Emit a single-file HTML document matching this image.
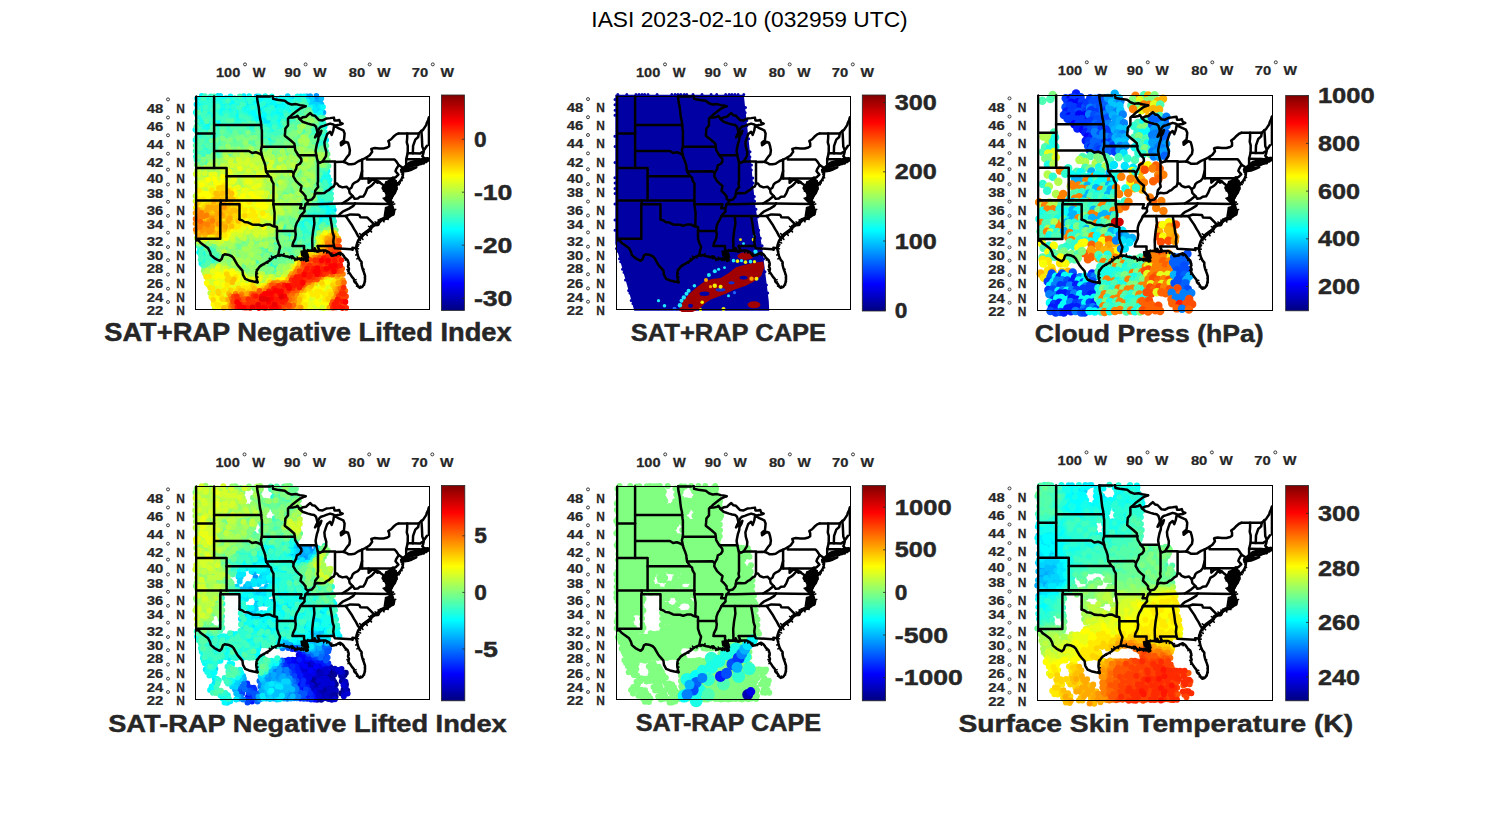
<!DOCTYPE html><html><head><meta charset="utf-8"><style>html,body{margin:0;padding:0;background:#fff;overflow:hidden;font-family:"Liberation Sans",sans-serif}svg{display:block}</style></head><body><svg width="1500" height="825" viewBox="0 0 1500 825" font-family="&quot;Liberation Sans&quot;, sans-serif">
<defs>
<linearGradient id="jet" x1="0" y1="1" x2="0" y2="0"><stop offset="0" stop-color="#000080"/><stop offset="0.125" stop-color="#0000ff"/><stop offset="0.375" stop-color="#00ffff"/><stop offset="0.625" stop-color="#ffff00"/><stop offset="0.875" stop-color="#ff0000"/><stop offset="1" stop-color="#800000"/></linearGradient>
<clipPath id="box"><rect x="0" y="-1.6" width="234.0" height="214.4"/></clipPath>
<g id="map" clip-path="url(#box)" fill="none" stroke="#000" stroke-width="2.5" stroke-linejoin="round" stroke-linecap="round"><path d="M-3.1 143.6L3.0 143.6L5.0 146.1L8.8 148.8L12.6 151.7L14.5 155.3L15.4 158.5L18.9 161.4L21.7 162.9L24.2 164.1L26.1 162.4L27.4 158.7L29.2 157.6L33.7 158.4L36.2 159.6L38.1 161.4L39.9 164.7L41.5 167.5L43.4 170.0L46.9 173.9L47.5 178.2L49.7 182.1L53.5 183.8L57.9 184.9L62.0 185.6"/><path d="M62.0 185.6L61.3 182.4L60.7 178.9L61.0 174.7L62.6 172.2L64.5 169.7L66.7 168.2L69.8 166.5L73.6 164.3L76.4 161.8L78.0 160.7L81.8 159.0L82.7 158.7"/><path d="M82.7 158.7L85.9 158.4L89.9 159.6L92.8 160.0L95.3 160.7L96.9 159.6L98.8 161.8L101.3 162.9L103.8 161.8L105.7 163.4L107.6 161.8L109.4 162.1L110.7 164.3L112.3 163.6L111.3 161.4L112.6 160.3L110.1 159.6L109.8 157.1L108.2 156.3L109.4 155.4"/><path d="M109.4 155.4L111.3 154.4L113.8 153.8L117.0 154.0L118.9 154.5L119.2 151.6L120.1 153.4L120.8 154.9L122.7 154.5"/><path d="M122.7 154.5L126.4 153.9L130.2 153.9L134.0 156.0L136.2 159.0L139.0 158.7L142.2 157.1L144.7 156.1L147.2 157.8L149.4 161.1L152.2 163.6L153.2 166.8L152.5 169.7L153.5 172.2L152.8 174.7L154.7 177.5L156.3 180.0L158.2 182.1L158.8 184.9L161.3 187.3L162.9 190.1L164.2 191.2L166.4 190.5L167.6 189.1L168.9 186.6L169.5 183.1L169.5 178.9L168.6 176.1L167.0 171.8L166.1 168.2L166.1 165.4L164.2 163.2L162.6 159.6L161.7 156.0L161.0 153.4L160.7 151.5"/><path d="M160.7 151.5L161.0 148.7L161.7 146.5L162.6 143.9L164.3 141.6L166.1 139.8L167.3 138.3L169.2 136.8L170.8 135.7L173.0 134.2L174.9 132.3L176.1 130.0L179.0 128.1L182.4 127.8L183.4 125.5L184.9 124.0L187.4 122.3L190.6 121.7L192.5 120.5L195.0 118.6L197.5 117.4L198.1 114.7L196.6 110.9L195.6 107.3L195.1 104.6"/><path d="M192.2 119.4L195.0 116.7L191.8 115.1L194.4 112.4L196.2 112.0L193.1 111.2L195.3 108.9"/><path d="M195.1 104.6L193.1 103.8L193.1 102.6L192.2 101.8L192.8 99.8L191.2 99.1L193.1 97.5L191.5 95.5L189.3 94.3L188.1 93.1L187.1 91.5L188.4 89.0L189.0 91.1L191.2 93.1L192.5 93.5L191.5 90.3L192.2 87.4L191.2 85.8L193.1 85.0L194.7 83.4L195.2 82.9L195.0 85.0L193.4 87.4L194.4 89.0L193.1 91.1L195.0 93.1L195.6 95.1L195.9 97.5L195.1 99.8L195.2 102.8L196.6 100.2L197.8 98.3L199.4 96.3L200.3 93.9L201.0 92.3L200.8 89.4L199.4 87.8L198.4 85.4L197.5 82.9"/><path d="M197.5 82.9L198.8 84.6L201.0 86.2L201.9 88.2L202.9 86.6L204.7 84.6L206.3 82.1L207.3 79.3L207.6 76.4L206.0 75.5L206.9 74.3L207.3 73.5"/><path d="M207.3 74.6L209.1 74.7L212.6 74.3L216.4 72.9L220.8 70.8L217.9 71.4L215.7 71.8L212.6 72.1L209.5 72.6L207.6 73.7"/><path d="M209.5 72.2L211.3 71.0L213.9 69.7L217.0 69.1L220.8 68.7L223.3 68.2L224.2 67.2L225.2 67.6L226.4 66.8L228.3 67.0L229.0 65.1L230.8 65.4"/><path d="M230.8 63.0L228.0 60.9L226.8 59.6L227.7 57.5L228.0 55.3L228.3 53.8L229.6 51.9L231.5 49.3"/><path d="M61.5 0.0L74.5 0.0"/><path d="M74.5 -3.9L76.7 -2.4L77.7 2.4L81.8 3.3L85.5 3.8L89.3 4.3L92.5 6.7L96.2 8.1L100.6 7.6L104.4 8.6L108.2 9.3L110.1 9.7"/><path d="M110.1 9.7L105.0 11.8L101.3 14.6L97.5 17.4L93.7 21.1"/><path d="M93.7 21.1L96.9 21.1L100.6 20.2L101.9 19.3L104.1 22.5L107.6 20.7L110.7 20.2L112.0 18.8L114.8 16.5L117.0 18.8L119.5 19.3L123.3 23.4L127.1 23.9L130.8 22.0L134.6 21.6L138.4 21.1L139.0 23.9L141.5 23.9L143.7 23.4L144.7 26.1L147.2 27.1L145.0 28.1L142.2 28.4L140.0 29.1"/><path d="M140.0 29.1L137.8 28.0L134.6 27.1L130.8 28.4L128.3 29.3L125.5 30.2L123.9 31.6L122.0 36.1"/><path d="M122.0 36.1L120.5 38.7L119.5 40.9L121.7 38.3L123.6 36.5L125.9 34.3L124.9 37.4L123.0 40.5L122.7 43.6L121.4 47.5L120.5 51.9L120.1 54.4L120.8 58.7L121.7 62.6L122.3 65.1L124.2 66.2L127.1 65.0"/><path d="M127.1 65.0L128.9 62.1L130.5 59.6L130.8 55.3L129.3 50.1L128.9 45.8L130.5 40.9L131.8 37.4L134.6 35.2L136.2 38.3L137.8 33.8L138.4 30.2L140.0 30.0L142.8 31.6L147.8 33.8L149.1 36.9L148.8 40.5L148.4 43.6L145.3 46.2L145.6 48.8L147.8 47.1L150.3 45.3L152.5 46.2L153.5 49.3L154.4 54.0L153.8 57.9L151.9 60.0L150.0 62.6L148.1 65.3"/><path d="M148.1 65.3L151.0 66.4L152.8 67.6L156.0 67.6L159.1 67.2L162.9 64.7L166.6 63.2L171.3 60.7L174.2 58.7L176.7 55.3L175.8 52.3L179.3 51.4L183.7 51.9L188.1 52.0L191.8 51.0L193.7 49.7L193.7 46.6L192.8 44.5L195.6 42.7L198.1 40.0L200.7 37.8L203.2 36.9"/><path d="M203.2 36.9L223.3 36.9L225.9 34.3L227.4 33.5L229.0 31.1L230.8 28.4L231.2 26.6L232.7 23.4L233.4 20.7"/><path d="M18.6 0.0L18.6 71.4"/><path d="M-3.1 36.9L18.6 36.9"/><path d="M-3.1 71.4L31.1 71.4L31.1 103.8"/><path d="M-3.1 103.8L77.9 103.8"/><path d="M25.2 103.8L25.2 107.7L44.0 107.7L44.0 122.7"/><path d="M24.8 107.7L24.8 142.0L2.4 142.0L3.0 143.6"/><path d="M18.6 28.5L65.7 28.5"/><path d="M61.5 0.0L62.0 4.8L63.2 10.4L63.8 16.0L64.5 21.6L65.4 25.2L65.7 28.5L66.0 31.6L66.4 34.3L66.4 50.1L65.4 53.6L66.4 58.8"/><path d="M18.6 54.4L53.5 54.4L56.6 56.4L60.4 55.7L63.8 56.9L66.4 58.8L67.0 61.3L68.6 65.1L69.8 68.9L70.1 72.2L70.6 74.9L72.6 78.0L73.6 79.7L75.5 80.9L76.1 83.8L78.0 87.0L77.9 103.8L77.9 107.7L79.1 116.3L78.8 129.7"/><path d="M31.1 79.7L73.6 79.7"/><path d="M44.0 122.7L47.2 124.0L49.1 125.5L52.8 125.9L56.6 127.8L59.8 128.1L63.5 128.1L66.7 129.1L71.1 127.8L74.2 127.8L77.4 129.4L78.8 129.7L81.5 130.4L81.5 142.0L83.0 146.8L84.6 150.1L83.5 154.5L82.7 158.7"/><path d="M66.4 50.1L99.3 50.1"/><path d="M99.3 50.1L98.8 47.1L95.3 44.0L92.5 41.8L89.3 39.2L89.6 36.1L89.9 32.0L92.5 28.9L92.5 21.9L93.7 21.1"/><path d="M99.3 50.1L99.7 53.6L102.8 58.7L105.7 62.1L106.0 64.7L104.4 67.2L101.3 68.9L100.6 72.2L98.1 76.5L97.8 79.7L100.6 84.6L103.2 87.0L106.0 89.4L105.0 94.3L107.6 96.7L110.1 99.8L110.1 102.2L112.3 103.8L112.0 106.2L110.1 107.7L109.4 110.1L108.8 111.6L109.1 114.7L106.3 117.8L105.0 119.4L103.2 123.2L101.3 126.2L100.0 130.0L99.6 134.4L100.3 137.5L99.7 142.0L97.5 146.5L96.9 149.4L108.6 149.4L108.5 152.3L109.4 155.4"/><path d="M70.6 74.9L96.0 74.7L98.1 76.5"/><path d="M102.8 58.7L120.8 58.7"/><path d="M104.1 22.5L106.9 25.2L112.6 27.1L115.7 28.0L118.6 28.4L120.5 30.2L121.4 33.4L122.0 36.1"/><path d="M77.9 107.7L106.0 107.7L104.6 111.6L108.8 111.6"/><path d="M81.5 134.4L99.6 134.4"/><path d="M122.5 65.0L122.5 85.0L122.0 87.0L122.7 90.3L119.8 93.9L119.3 97.5L118.9 99.8L116.4 103.0L112.3 103.8"/><path d="M119.3 97.5L122.0 96.3L125.8 96.7L128.9 96.3L131.5 94.3L133.3 93.6L135.9 91.1L138.4 89.8L139.5 87.0L141.5 87.0L143.4 89.4L146.9 90.8L151.0 90.1L153.5 92.7L156.0 91.1L157.2 87.8L158.8 86.2L162.3 84.6L164.5 82.1L165.4 78.8L166.6 74.4"/><path d="M139.5 87.0L139.5 65.5L148.1 65.3"/><path d="M127.1 65.0L139.5 65.0"/><path d="M166.6 82.0L166.6 63.0"/><path d="M110.1 107.7L119.5 107.7L146.7 106.9L159.5 106.9"/><path d="M153.5 92.7L154.1 96.3L157.2 99.5L152.8 103.0L146.7 106.9"/><path d="M157.2 99.5L159.1 102.2L162.3 101.8L164.5 100.2L167.9 99.8L169.8 96.7L172.0 91.5L174.2 90.3L176.1 89.0L177.7 87.4L180.2 84.2L181.8 86.2L183.7 85.4"/><path d="M183.7 85.4L179.9 82.9L176.1 83.4L173.1 86.2L173.1 82.0L166.6 82.0"/><path d="M196.2 82.0L173.1 82.0"/><path d="M183.7 85.4L185.6 87.0L188.4 89.0"/><path d="M159.5 106.9L195.6 107.3"/><path d="M159.5 106.9L157.9 109.3L153.5 112.0L150.3 113.6L147.2 115.1L144.7 117.1L142.8 119.4"/><path d="M105.0 119.4L142.8 119.4L150.3 119.4"/><path d="M118.3 119.4L118.9 127.0L117.6 134.6L116.7 142.8L117.0 154.0"/><path d="M134.6 119.4L136.2 128.5L137.1 135.7L138.4 139.8L137.8 145.0L138.4 149.4L122.0 149.4L123.3 152.3L122.7 154.5"/><path d="M138.4 149.4L139.3 151.6L156.0 152.6L157.2 153.1L156.9 151.2L160.7 151.5"/><path d="M150.3 119.4L152.8 123.2L156.0 127.8L158.5 132.3L160.4 135.3L162.3 139.0L164.3 141.6"/><path d="M150.3 119.4L154.7 117.8L163.3 118.2L164.0 118.6L164.8 120.7L171.9 120.9L179.0 128.1"/><path d="M171.3 60.7L171.3 63.0L199.1 63.0L200.7 64.7L203.2 68.5L200.7 72.6L200.0 74.7L202.9 78.0L200.3 80.5L198.8 81.3L197.5 81.0L196.2 82.0L196.2 92.3L201.0 92.3"/><path d="M203.2 68.5L207.6 71.4L207.3 73.5"/><path d="M211.7 36.9L211.7 41.4L211.3 45.8L212.3 49.3L212.2 56.6L210.7 62.6L210.7 70.6L209.5 71.8"/><path d="M223.3 36.9L222.7 40.5L219.8 43.1L217.6 49.3L217.3 56.8"/><path d="M212.2 56.6L217.3 56.8L224.6 57.0L226.4 55.7L228.0 55.3"/><path d="M225.9 34.3L226.4 41.4L226.8 50.1L228.3 53.8"/><path d="M210.7 62.6L221.4 62.8L224.0 62.8L225.5 67.2"/><path d="M221.4 62.8L221.1 68.7"/><path d="M189.8 84.7L187.3 92.1L190.0 98.3L190.0 98.4L190.1 98.6L190.1 98.7L190.1 98.9L190.1 99.0L190.1 99.2L190.0 99.3L190.0 99.5L189.9 99.6L189.8 99.8L189.7 99.9L189.6 100.0L189.5 100.1L189.4 100.2L189.3 100.3L189.1 100.4L186.5 101.5L191.6 106.6L191.7 106.7L191.8 106.8L191.9 107.0L194.7 112.3L196.9 114.0L194.8 108.2L194.8 108.1L194.7 107.9L194.7 107.8L194.7 107.6L194.7 107.5L194.7 107.3L194.8 107.2L194.8 107.0L199.6 96.5L201.3 85.6L199.4 81.6L189.8 84.7Z" fill="#000" stroke="none"/><path d="M104.8 154.2L105.5 159.1L108.8 161.6L112.7 162.9L113.4 158.2L111.1 152.8L104.8 154.2Z" fill="#000" stroke="none"/><path d="M189.4 110.3L187.9 120.5L192.7 119.5L197.2 115.4L195.8 108.5L189.4 110.3Z" fill="#000" stroke="none"/><path d="M207 73.5L215 67L224 64.5L232 63" stroke-width="5"/><path d="M61.6 184.0L60.1 184.3M61.0 180.7L62.5 180.4M60.9 176.8L62.0 176.9M61.8 173.4L60.9 172.8M63.5 170.9L63.5 170.9M65.6 169.0L65.5 168.8M68.2 167.3L68.6 167.9M71.7 165.4L72.3 166.5M75.0 163.0L73.8 161.7M77.2 161.2L76.0 159.5M79.9 159.9L80.5 161.2M82.2 158.9L82.2 158.6M84.3 158.6L84.4 159.7M87.9 159.0L88.5 156.9M91.4 159.8L91.4 159.5M94.0 160.3L93.8 161.3M96.1 160.1L95.4 159.2M97.8 160.7L96.3 162.0M100.0 162.3L99.3 163.9M102.5 162.3L101.7 160.4M104.7 162.6L106.1 161.0M106.6 162.6L106.7 162.7M108.5 162.0L108.1 163.9M110.1 163.2L110.5 163.0M111.5 163.9L111.0 162.8M111.8 162.5L111.5 162.6M112.0 160.9L110.6 159.3M111.3 160.0L111.0 161.1M109.9 158.3L109.6 158.4M109.0 156.7L109.0 156.7M108.8 155.9L108.1 154.9M110.4 154.9L109.8 153.8M112.6 154.1L112.3 152.9M115.4 153.9L115.4 153.7M117.9 154.3L118.2 153.4M119.0 153.1L116.9 152.8M119.7 152.5L118.3 153.2M120.5 154.2L120.2 154.3M121.7 154.7L121.8 155.3M124.5 154.2L124.3 152.9M128.3 153.9L128.3 156.1M132.1 155.0L131.3 156.4M135.1 157.5L136.4 156.5M137.6 158.9L137.5 158.2M140.6 157.9L141.0 158.8M143.4 156.6L143.7 157.5M145.9 157.0L144.9 158.6M148.3 159.4L148.6 159.2M150.8 162.3L149.8 163.4M152.7 165.2L152.0 165.4M152.8 168.2L153.7 168.4M153.0 170.9L152.6 171.1M153.2 173.4L151.5 173.0M153.8 176.1L152.5 176.9M155.5 178.7L155.5 178.7M157.2 181.0L157.0 181.3M158.5 183.5L160.5 183.0M160.1 186.1L160.9 185.3M162.1 188.7L161.0 189.4M163.5 190.6L163.8 190.4M165.3 190.8L164.8 189.4M167.0 189.8L167.2 189.9M168.3 187.9L169.1 188.3M169.2 184.9L170.0 185.0M169.5 181.0L169.0 181.0M169.0 177.5L168.8 177.6M168.2 175.0L168.2 175.0M167.4 172.9L168.5 172.5M166.5 170.0L166.6 170.0M166.1 166.8L165.6 166.8M165.1 164.3L165.1 164.3M163.4 161.4L161.5 162.2M162.1 157.8L160.2 158.3M161.3 154.7L162.2 154.5M160.9 152.4L163.0 152.1M194.1 104.2L194.3 103.8M193.1 103.2L192.6 103.2M192.6 102.2L191.7 103.3M192.5 100.8L192.5 100.8M192.0 99.5L193.0 97.6M192.2 98.3L192.9 99.2M192.3 96.5L192.5 96.4M190.4 94.9L191.2 93.5M188.7 93.7L187.9 94.5M187.6 92.3L187.7 92.2M187.8 90.2L189.5 91.2M188.7 90.0L188.4 90.2M190.1 92.1L190.2 91.9M191.8 93.3L192.2 92.3M192.0 91.9L192.2 91.8M191.8 88.8L193.8 89.3M191.7 86.6L189.8 87.7M192.2 85.4L192.7 86.5M193.9 84.2L194.9 85.1M194.9 83.1L196.0 84.5M195.1 84.0L194.0 83.9M194.2 86.2L193.1 85.5M193.9 88.2L193.8 88.3M193.7 90.0L193.5 89.9M194.0 92.1L194.3 91.8M195.3 94.1L197.2 93.5M195.8 96.3L194.2 96.5M195.5 98.7L195.2 98.6M195.1 101.3L196.5 101.3M195.9 101.5L195.9 101.5M197.2 99.3L197.1 99.2M198.6 97.3L198.1 96.9M199.9 95.1L199.2 94.8M200.7 93.1L200.8 93.1M200.9 90.9L201.4 90.8M200.1 88.6L200.5 88.3M198.9 86.6L198.7 86.7M198.0 84.2L196.0 84.9M198.1 83.8L199.1 83.0M199.9 85.4L200.7 84.2M201.4 87.2L201.1 87.4M202.4 87.4L203.8 88.2M203.8 85.6L204.8 86.5M205.5 83.4L206.6 84.1M206.8 80.7L208.1 81.1M207.4 77.8L206.3 77.7M206.8 76.0L207.5 74.6M206.5 74.9L207.1 75.4M207.1 73.9L205.4 73.2" stroke-width="1.6"/><path d="M160.8 150.8L161.7 150.9M160.9 149.4L162.7 149.6M161.3 147.6L163.4 148.1M162.1 145.2L165.1 146.3M163.4 142.8L164.8 143.8M165.2 140.7L167.4 142.8M166.7 139.0L164.1 136.9M168.3 137.5L168.1 137.4M170.0 136.2L171.8 138.8M171.9 134.9L172.5 135.8M173.9 133.2L176.0 135.3M175.5 131.2L173.1 129.8M176.8 129.6L176.7 129.4M178.2 128.6L177.2 127.1M179.8 128.0L179.8 128.4M181.5 127.9L181.6 128.4M182.9 126.6L179.6 125.3M184.1 124.7L182.7 123.3M185.6 123.5L184.7 122.2M186.8 122.7L188.5 125.2M188.2 122.1L188.6 124.0M189.8 121.8L189.3 119.4M191.5 121.1L192.6 122.9M193.1 120.0L191.5 118.0M194.4 119.1L194.9 119.8M196.2 118.0L195.1 115.6M197.8 116.1L194.3 115.3M197.7 113.8L200.2 112.8M197.0 111.8L195.0 112.6M196.3 110.0L194.3 110.5M195.9 108.2L199.2 107.3M195.4 106.0L198.0 105.5" stroke-width="1.6"/><path d="M164.3 141.6L166.1 139.8L167.3 138.3L169.2 136.8L170.8 135.7L173.0 134.2L174.9 132.3L176.1 130.0L179.0 128.1L182.4 127.8L183.4 125.5L184.9 124.0L187.4 122.3L190.6 121.7L192.5 120.5L195.0 118.6L197.5 117.4L198.1 114.7L196.6 110.9L195.6 107.3L195.1 104.6" stroke-width="3.6"/><path d="M0.6 0L0.6 143.6" stroke-width="2.4"/><path d="M233.4 22.5L233.4 48.4" stroke-width="2.4"/></g>
</defs>
<rect width="1500" height="825" fill="#fff"/>
<text transform="translate(591.30,26.50) scale(1.0072,1)" font-size="22.61" fill="#000">IASI 2023-02-10 (032959 UTC)</text>
<g transform="translate(195.5,96.5) scale(1.00000,1.00094)"><g fill="none" stroke-linecap="round"><path d="M120.9 -0.6h0M113.5 1.9h0M120.1 2.6h0M122.6 2.0h0M116.4 7.6h0" stroke="#0095ff" stroke-width="5.6"/><path d="M111.3 -0.1h0M114.7 -0.4h0M117.7 4.9h0M121.9 5.4h0M124.6 4.4h0M121.5 10.8h0M123.1 12.9h0M128.0 16.1h0" stroke="#00aaff" stroke-width="5.6"/><path d="M61.1 -0.3h0M81.3 2.5h0M125.9 2.0h0M67.3 4.9h0M87.4 7.7h0M113.3 7.9h0M126.0 7.8h0" stroke="#00bfff" stroke-width="5.6"/><path d="M92.2 -0.4h0M43.2 2.6h0M49.2 2.7h0M97.6 1.7h0M110.7 2.5h0M116.6 2.5h0M115.1 4.9h0M55.3 7.2h0M61.8 7.3h0M84.9 7.5h0M119.6 7.8h0M122.7 8.2h0M63.7 10.1h0M70.4 10.4h0M80.1 10.1h0M56.1 12.7h0M59.3 13.7h0M65.6 12.9h0M116.0 12.8h0M86.4 15.7h0M121.3 15.4h0M126.3 19.3h0M60.6 21.6h0M74.7 23.8h0M70.4 26.8h0M134.0 110.7h0M138.4 113.3h0M123.5 119.0h0" stroke="#00d4ff" stroke-width="5.6"/><path d="M22.4 -0.6h0M24.8 -0.7h0M48.2 -0.5h0M105.2 -0.2h0M1.5 2.0h0M36.8 2.2h0M62.7 2.5h0M93.9 1.5h0M51.2 5.1h0M57.4 5.2h0M61.1 5.3h0M76.2 4.4h0M0.9 7.9h0M26.8 8.2h0M30.8 8.1h0M33.1 7.9h0M43.2 7.1h0M52.6 7.9h0M71.8 8.0h0M75.0 7.7h0M81.8 7.3h0M94.6 7.8h0M15.3 11.0h0M34.8 9.9h0M51.0 11.0h0M67.0 10.0h0M92.9 10.1h0M98.4 9.9h0M117.7 10.0h0M124.5 10.1h0M33.3 13.1h0M40.2 13.3h0M43.3 13.7h0M94.1 13.1h0M119.5 12.9h0M125.9 12.8h0M6.4 15.7h0M25.0 16.3h0M67.2 15.4h0M82.8 15.8h0M96.2 15.5h0M118.6 15.9h0M11.2 18.4h0M39.9 19.2h0M43.1 18.3h0M56.2 18.2h0M65.1 18.9h0M35.5 21.5h0M63.9 21.3h0M67.4 21.1h0M70.5 21.3h0M7.5 24.9h0M23.7 23.8h0M69.0 24.0h0M71.3 24.6h0M22.3 27.4h0M66.6 26.8h0M73.5 27.0h0M11.5 30.5h0M14.5 29.5h0M82.7 32.9h0M128.2 38.2h0M127.4 43.7h0M130.8 43.5h0M130.8 93.7h0M127.5 105.5h0M134.6 105.5h0M126.5 108.1h0M132.2 107.6h0M124.3 110.3h0M131.3 111.2h0M134.7 116.4h0M112.8 119.4h0M125.6 118.5h0M129.0 118.8h0M124.8 122.1h0M131.1 122.0h0M137.6 122.2h0M122.6 124.8h0M132.9 124.7h0M121.2 127.4h0M107.5 135.2h0" stroke="#00eaff" stroke-width="5.6"/><path d="M6.2 -0.6h0M34.9 -0.3h0M53.7 -0.4h0M63.5 -0.2h0M108.5 -0.3h0M4.0 2.6h0M11.1 1.8h0M14.5 1.6h0M20.3 2.6h0M26.5 1.7h0M30.3 1.6h0M65.7 2.5h0M68.7 1.9h0M71.9 1.6h0M75.6 2.5h0M78.1 2.4h0M84.9 1.5h0M87.8 1.8h0M101.1 2.3h0M2.4 5.3h0M15.4 4.8h0M21.8 4.6h0M35.3 4.4h0M38.4 5.4h0M63.3 4.8h0M80.1 5.3h0M85.7 4.5h0M89.1 5.1h0M92.6 5.3h0M111.8 4.7h0M4.6 7.4h0M10.9 7.7h0M24.2 8.1h0M36.1 8.1h0M40.1 7.2h0M59.1 7.7h0M78.3 7.1h0M47.3 10.9h0M83.5 10.8h0M86.0 10.2h0M89.5 10.5h0M102.1 10.6h0M105.4 9.9h0M127.6 10.6h0M1.7 12.7h0M4.8 12.7h0M8.1 13.5h0M23.6 13.0h0M27.5 13.7h0M30.0 13.1h0M75.2 13.2h0M81.3 13.6h0M88.3 13.8h0M12.9 16.1h0M15.4 15.8h0M41.2 16.4h0M50.6 16.4h0M54.0 15.5h0M57.4 16.3h0M60.8 15.5h0M70.5 15.7h0M77.0 15.7h0M79.5 15.9h0M92.7 16.3h0M124.8 16.6h0M27.1 18.9h0M36.3 19.3h0M59.0 18.4h0M62.3 18.4h0M68.8 18.2h0M71.4 19.3h0M75.0 18.7h0M85.0 18.7h0M87.9 19.3h0M123.4 18.5h0M15.6 21.5h0M19.5 22.2h0M41.0 21.2h0M77.2 21.0h0M83.0 21.2h0M20.2 24.2h0M55.5 24.2h0M59.1 24.0h0M61.9 24.3h0M81.7 24.1h0M84.2 24.9h0M6.0 27.1h0M12.2 27.3h0M25.3 27.0h0M83.6 26.9h0M20.1 29.7h0M45.7 29.7h0M55.6 29.6h0M75.2 30.1h0M84.2 29.4h0M126.7 29.7h0M129.2 30.2h0M-0.2 33.3h0M79.8 33.1h0M74.9 35.7h0M123.0 35.9h0M3.2 38.7h0M80.1 38.4h0M124.6 38.7h0M71.6 40.8h0M9.8 44.4h0M121.3 43.7h0M124.3 44.4h0M14.7 47.2h0M17.7 46.5h0M6.3 54.5h0M132.1 74.6h0M124.9 83.0h0M128.1 82.3h0M131.3 83.1h0M126.0 85.4h0M132.3 91.5h0M125.0 104.5h0M130.4 104.9h0M127.6 110.6h0M132.8 112.9h0M135.4 113.9h0M130.4 116.3h0M116.6 118.6h0M133.0 118.8h0M136.1 118.6h0M128.1 122.2h0M133.7 121.4h0M107.6 124.1h0M113.1 124.0h0M116.4 124.4h0M126.2 124.6h0M110.3 130.3h0M114.7 138.9h0M109.7 141.7h0M113.8 141.0h0M114.9 143.5h0M4.5 152.5h0M3.5 155.7h0M8.3 157.8h0M5.8 166.8h0" stroke="#00ffff" stroke-width="5.6"/><path d="M69.7 -0.5h0M76.4 -0.1h0M101.9 -0.1h0M23.2 1.8h0M33.9 2.7h0M46.4 2.1h0M59.5 1.9h0M91.0 2.2h0M104.3 1.9h0M25.6 4.9h0M45.1 4.8h0M70.6 4.3h0M73.0 4.7h0M95.6 4.7h0M102.8 4.9h0M105.0 4.9h0M7.8 7.6h0M91.5 8.0h0M2.7 10.9h0M19.0 10.0h0M25.3 10.5h0M28.4 10.2h0M54.2 11.0h0M60.7 10.0h0M73.5 10.3h0M111.6 10.4h0M114.8 10.7h0M36.7 13.6h0M45.6 13.2h0M49.5 13.8h0M53.0 12.7h0M62.4 12.8h0M68.9 13.2h0M78.5 13.5h0M85.0 13.6h0M91.0 13.5h0M97.7 13.8h0M100.2 12.9h0M103.6 13.8h0M0.2 15.9h0M22.8 15.7h0M34.5 16.0h0M47.5 16.1h0M17.2 19.3h0M23.4 19.3h0M52.9 18.6h0M78.4 19.1h0M81.4 19.4h0M120.0 19.2h0M3.5 21.3h0M6.7 22.1h0M44.8 21.9h0M56.9 22.2h0M86.4 21.4h0M89.7 21.6h0M4.1 24.2h0M39.9 23.8h0M43.2 23.8h0M49.9 24.3h0M65.3 24.9h0M90.4 24.1h0M93.7 24.8h0M97.7 24.4h0M125.9 23.8h0M2.9 26.6h0M9.0 27.0h0M15.3 27.0h0M31.9 27.1h0M34.7 26.6h0M38.7 27.2h0M60.0 26.7h0M76.6 27.3h0M7.7 30.1h0M39.4 29.5h0M58.5 30.4h0M61.7 29.5h0M71.7 29.4h0M87.3 29.4h0M5.7 33.3h0M10.0 32.4h0M12.8 32.3h0M16.0 33.2h0M31.8 32.8h0M76.3 33.1h0M118.4 32.6h0M10.7 35.6h0M66.0 36.1h0M72.4 35.0h0M78.8 35.1h0M87.9 35.8h0M93.7 35.5h0M6.1 37.8h0M8.9 38.8h0M28.5 38.2h0M60.6 38.6h0M63.3 38.0h0M11.0 41.6h0M14.4 40.7h0M17.7 41.1h0M65.7 40.8h0M68.0 41.1h0M75.0 40.8h0M91.3 40.8h0M119.3 41.3h0M129.4 40.6h0M-0.1 43.4h0M25.9 43.3h0M73.7 43.9h0M76.9 43.5h0M1.4 46.2h0M11.4 46.6h0M125.2 49.0h0M11.2 52.5h0M13.0 54.5h0M15.2 55.2h0M1.3 58.2h0M11.5 58.0h0M8.8 59.9h0M125.6 74.0h0M128.2 77.5h0M130.4 77.1h0M125.9 80.5h0M129.8 80.0h0M132.7 80.1h0M122.0 82.7h0M134.2 83.2h0M132.4 85.9h0M134.3 88.4h0M127.9 93.4h0M133.9 93.4h0M126.0 96.3h0M126.0 102.7h0M123.5 107.9h0M129.4 107.6h0M137.6 110.1h0M129.0 113.1h0M117.9 115.8h0M136.9 116.2h0M107.2 118.9h0M108.7 121.7h0M112.2 122.0h0M117.8 121.6h0M104.1 124.4h0M110.3 125.2h0M105.5 127.4h0M109.0 127.1h0M115.0 127.6h0M117.9 127.2h0M124.5 126.9h0M131.5 127.3h0M134.6 126.9h0M100.9 130.3h0M107.6 129.8h0M116.1 130.6h0M105.0 132.7h0M112.0 133.5h0M124.3 132.8h0M94.2 135.6h0M101.2 135.9h0M109.7 135.9h0M95.3 138.4h0M101.7 138.9h0M103.5 141.1h0M108.9 143.6h0M113.7 146.6h0M6.2 150.0h0M105.0 149.6h0M108.3 149.2h0M8.0 152.0h0M9.2 155.3h0M9.3 160.9h0M15.8 161.3h0M7.7 163.5h0M17.8 163.1h0M76.8 166.4h0M75.3 169.2h0" stroke="#15ffea" stroke-width="5.6"/><path d="M15.3 -0.3h0M17.5 2.5h0M39.2 1.5h0M52.7 2.4h0M56.1 2.3h0M106.6 2.0h0M5.8 4.3h0M9.3 5.0h0M13.0 5.4h0M18.4 4.8h0M28.9 4.7h0M41.5 5.3h0M47.4 5.1h0M54.7 5.4h0M83.5 4.9h0M99.5 4.5h0M13.8 7.8h0M17.4 8.1h0M21.0 7.3h0M48.9 7.7h0M65.8 8.2h0M68.1 7.1h0M97.5 7.7h0M6.2 11.0h0M12.1 10.6h0M31.9 10.2h0M37.7 10.0h0M41.3 10.9h0M57.4 11.0h0M76.6 11.0h0M96.4 10.9h0M10.6 13.0h0M14.0 12.8h0M21.1 13.1h0M71.7 13.0h0M110.5 12.8h0M19.4 16.0h0M29.0 16.4h0M31.3 15.7h0M38.7 16.1h0M45.1 15.5h0M63.8 16.6h0M73.3 15.4h0M89.7 15.8h0M105.5 15.5h0M1.4 18.4h0M5.2 18.8h0M13.9 18.9h0M33.5 18.3h0M49.6 18.6h0M94.0 18.3h0M24.9 21.1h0M32.1 21.1h0M37.9 21.3h0M48.0 22.0h0M54.4 21.3h0M73.5 21.2h0M80.1 21.4h0M93.0 21.8h0M98.6 21.7h0M121.3 21.5h0M13.8 24.3h0M29.9 24.1h0M46.4 24.8h0M77.9 24.2h0M100.5 24.0h0M28.5 26.6h0M41.6 26.8h0M44.7 27.7h0M51.2 27.3h0M79.9 27.2h0M86.7 26.9h0M118.6 27.6h0M124.5 27.4h0M128.1 26.9h0M5.2 29.5h0M23.9 29.9h0M33.7 30.5h0M52.3 29.6h0M68.6 29.8h0M81.3 30.3h0M91.3 29.7h0M123.2 29.7h0M21.8 32.9h0M54.8 33.0h0M57.7 33.3h0M72.9 33.2h0M86.3 33.1h0M127.4 32.3h0M4.5 35.4h0M23.7 35.0h0M33.1 35.4h0M43.1 35.5h0M58.8 35.4h0M69.0 35.7h0M116.3 35.4h0M129.4 35.4h0M16.3 38.4h0M19.5 38.1h0M22.5 38.0h0M115.1 37.8h0M121.9 37.9h0M4.6 40.9h0M20.1 41.4h0M41.2 43.7h0M66.6 43.5h0M79.7 44.4h0M23.5 46.1h0M30.2 46.2h0M74.4 46.6h0M120.2 46.4h0M123.5 46.1h0M126.0 47.0h0M129.9 47.1h0M9.4 49.3h0M19.2 49.4h0M76.9 48.9h0M121.4 49.5h0M127.5 49.9h0M8.4 52.5h0M123.6 51.9h0M130.6 54.6h0M8.4 57.5h0M13.8 57.4h0M24.1 57.8h0M0.4 60.3h0M5.8 60.6h0M4.4 63.8h0M129.8 74.6h0M128.2 88.4h0M122.8 90.8h0M129.6 90.9h0M135.9 91.5h0M133.1 96.3h0M135.6 97.2h0M121.8 99.5h0M124.3 99.9h0M130.6 99.4h0M123.0 102.7h0M129.7 102.4h0M135.5 108.0h0M114.4 110.7h0M118.2 110.5h0M121.3 111.0h0M113.6 113.2h0M120.1 114.0h0M125.7 113.9h0M111.2 116.7h0M114.8 116.5h0M121.9 116.8h0M124.8 116.5h0M127.4 115.8h0M119.5 119.2h0M138.4 119.0h0M115.6 121.8h0M129.7 124.2h0M138.7 124.8h0M102.8 127.5h0M103.8 129.8h0M120.3 130.0h0M122.4 129.8h0M138.6 130.1h0M109.0 133.5h0M120.8 132.6h0M113.5 135.5h0M116.1 135.4h0M89.0 138.3h0M92.4 138.3h0M99.5 138.2h0M109.1 138.5h0M94.3 141.6h0M107.6 141.1h0M89.4 143.9h0M95.5 144.5h0M102.0 144.2h0M78.3 146.4h0M81.0 146.6h0M100.8 146.4h0M8.8 150.1h0M12.9 150.1h0M83.0 149.7h0M99.3 149.9h0M102.0 149.9h0M111.3 149.5h0M114.6 149.2h0M117.7 149.4h0M77.6 152.2h0M81.9 152.8h0M87.8 152.5h0M106.7 152.3h0M19.3 155.4h0M92.9 154.7h0M10.9 158.5h0M68.3 157.8h0M88.3 158.1h0M97.6 158.3h0M18.7 160.4h0M22.0 160.3h0M76.3 160.5h0M10.7 164.1h0M20.3 163.6h0M72.2 163.2h0M78.0 163.4h0M93.9 163.0h0M9.0 166.8h0M16.0 166.8h0M19.0 166.4h0M72.3 168.7h0M78.8 168.7h0M81.9 169.5h0M79.8 172.2h0M77.8 175.3h0" stroke="#2bffd4" stroke-width="5.6"/><path d="M9.4 -0.5h0M18.5 -0.1h0M44.3 -0.1h0M8.0 1.8h0M32.3 4.4h0M108.7 4.3h0M46.4 8.1h0M101.0 7.4h0M104.1 8.0h0M110.4 8.0h0M10.0 10.6h0M22.3 9.9h0M44.1 11.0h0M17.5 13.7h0M9.4 15.8h0M98.5 16.2h0M8.2 18.4h0M20.6 18.3h0M30.7 19.4h0M45.8 19.4h0M91.0 18.7h0M97.9 19.1h0M100.9 18.6h0M103.3 18.3h0M107.0 18.7h0M9.0 21.3h0M13.1 21.2h0M22.4 21.2h0M28.4 22.1h0M50.7 21.3h0M1.6 24.8h0M16.8 24.0h0M27.6 24.7h0M53.0 24.2h0M88.1 24.6h0M103.4 24.5h0M122.7 24.1h0M18.6 27.2h0M63.6 27.0h0M93.0 26.7h0M95.8 27.2h0M29.9 29.8h0M43.5 29.6h0M49.5 29.5h0M66.0 29.6h0M78.7 30.4h0M120.0 30.3h0M3.5 32.5h0M25.6 32.4h0M35.4 32.9h0M38.4 32.6h0M51.5 32.3h0M63.8 32.4h0M67.2 33.2h0M70.6 32.7h0M96.2 32.3h0M102.6 33.1h0M115.5 33.0h0M121.2 32.5h0M124.3 32.8h0M1.6 35.4h0M8.3 35.3h0M20.5 35.8h0M37.1 35.2h0M46.7 35.0h0M55.2 35.7h0M81.0 35.4h0M84.1 35.1h0M119.5 35.4h0M25.3 38.2h0M35.1 38.2h0M37.7 38.1h0M44.6 37.7h0M70.1 38.0h0M72.9 38.9h0M76.4 38.1h0M83.3 37.7h0M86.3 38.8h0M118.0 38.8h0M1.0 40.9h0M8.2 40.9h0M30.1 41.0h0M33.7 40.6h0M39.9 41.1h0M112.9 41.1h0M126.4 41.5h0M12.6 44.0h0M53.8 43.4h0M60.3 44.0h0M8.4 46.6h0M33.2 46.1h0M72.3 46.6h0M78.3 46.8h0M80.9 46.6h0M84.8 47.2h0M117.0 47.0h0M6.3 49.9h0M25.6 49.9h0M38.2 49.4h0M60.6 50.0h0M74.0 49.4h0M93.1 49.9h0M14.5 52.7h0M20.3 52.5h0M69.0 52.1h0M78.0 52.5h0M87.6 52.2h0M90.8 52.4h0M129.2 52.1h0M0.1 54.4h0M2.5 55.4h0M9.2 55.6h0M22.0 54.9h0M4.9 57.4h0M20.8 57.9h0M0.9 63.5h0M11.5 63.5h0M16.8 63.3h0M13.0 66.5h0M10.8 68.4h0M124.1 71.9h0M119.7 75.0h0M123.3 75.0h0M119.9 79.8h0M122.6 85.5h0M129.3 85.1h0M121.7 87.8h0M130.5 88.6h0M126.2 91.0h0M117.9 93.5h0M119.9 97.0h0M129.6 97.3h0M114.8 99.3h0M127.3 99.4h0M134.5 99.4h0M117.1 101.7h0M132.0 102.1h0M135.7 102.0h0M118.0 105.2h0M120.9 105.5h0M110.7 108.3h0M113.9 108.1h0M110.5 113.6h0M116.0 113.7h0M122.5 113.2h0M110.1 119.4h0M98.5 122.4h0M121.1 122.4h0M93.7 124.7h0M120.3 125.2h0M135.3 124.9h0M89.5 127.6h0M95.7 126.9h0M111.3 127.1h0M136.9 127.7h0M87.3 130.4h0M90.5 129.9h0M113.3 130.1h0M86.5 132.8h0M89.9 132.7h0M114.9 132.7h0M117.7 132.6h0M84.4 135.4h0M87.9 136.0h0M119.5 135.3h0M111.3 139.0h0M118.2 138.2h0M121.1 138.6h0M101.2 141.0h0M92.7 144.5h0M99.1 144.4h0M117.7 144.1h0M68.2 146.4h0M97.2 147.4h0M110.0 147.1h0M116.7 146.8h0M2.7 149.2h0M15.4 150.0h0M13.7 152.9h0M17.9 152.5h0M20.5 152.5h0M72.0 152.0h0M93.8 152.9h0M116.9 152.2h0M5.6 154.7h0M15.3 155.1h0M70.5 155.1h0M76.7 154.9h0M85.9 155.5h0M5.1 158.4h0M13.7 158.3h0M20.5 158.3h0M24.1 158.4h0M65.8 158.0h0M75.4 157.8h0M6.5 160.9h0M12.0 160.8h0M80.1 160.8h0M83.6 160.6h0M85.9 160.5h0M5.1 163.0h0M14.3 164.0h0M62.7 163.3h0M81.1 163.4h0M47.9 166.6h0M60.5 166.3h0M63.3 166.9h0M89.9 166.2h0M7.7 168.8h0M81.2 174.2h0" stroke="#40ffbf" stroke-width="5.6"/><path d="M106.9 8.1h0M108.8 10.5h0M106.8 12.8h0M3.0 15.7h0M101.8 15.9h0M108.2 15.6h0M115.0 16.2h0M110.4 18.8h0M113.2 18.7h0M96.3 21.2h0M115.1 22.0h0M117.8 21.0h0M125.0 21.1h0M127.9 21.6h0M11.0 24.7h0M33.1 24.3h0M36.4 24.2h0M113.7 24.6h0M47.9 27.7h0M54.1 26.9h0M57.9 27.0h0M89.6 27.4h0M98.7 27.4h0M101.9 26.8h0M105.0 27.2h0M108.1 26.6h0M115.3 27.1h0M0.8 30.0h0M17.1 30.2h0M26.8 30.3h0M36.8 30.0h0M101.0 30.2h0M116.3 29.8h0M18.6 32.5h0M29.1 33.1h0M41.1 32.8h0M44.6 32.1h0M47.7 32.8h0M61.0 32.3h0M89.1 33.1h0M98.5 32.2h0M108.7 33.2h0M14.6 35.2h0M17.6 35.4h0M30.0 35.7h0M49.2 35.8h0M91.4 35.8h0M106.8 35.5h0M110.3 35.0h0M126.6 35.1h0M12.6 38.5h0M32.2 37.8h0M48.4 37.7h0M51.6 38.1h0M54.0 38.0h0M57.5 38.1h0M67.4 38.2h0M88.8 38.8h0M105.3 38.2h0M108.4 38.6h0M24.1 41.0h0M49.1 40.7h0M77.9 41.1h0M81.0 41.5h0M84.7 41.1h0M97.1 41.0h0M103.9 40.9h0M122.4 41.1h0M2.8 44.1h0M6.8 44.4h0M29.0 44.1h0M38.8 44.2h0M57.4 44.2h0M70.0 44.1h0M86.1 43.4h0M92.5 43.6h0M98.4 43.8h0M101.7 44.3h0M4.7 46.4h0M20.2 46.2h0M39.9 46.4h0M46.2 46.6h0M53.0 47.1h0M55.8 47.2h0M58.6 46.9h0M68.4 46.7h0M93.9 47.1h0M100.6 46.6h0M0.1 48.9h0M3.3 49.8h0M12.0 49.0h0M15.5 49.6h0M21.9 49.0h0M29.1 49.9h0M35.3 49.2h0M44.9 49.1h0M57.3 49.3h0M70.7 49.1h0M86.4 49.7h0M89.3 48.9h0M108.1 49.7h0M111.3 49.4h0M130.9 49.3h0M1.3 52.2h0M4.5 52.0h0M17.6 52.1h0M29.9 52.3h0M33.3 52.8h0M65.9 52.4h0M85.0 52.1h0M97.1 51.8h0M18.7 55.2h0M25.5 54.8h0M28.3 54.7h0M56.8 54.7h0M77.0 54.5h0M99.1 55.1h0M120.9 55.1h0M65.3 57.3h0M78.4 57.4h0M81.4 57.6h0M90.6 57.6h0M104.0 58.3h0M22.6 61.1h0M25.2 60.4h0M80.0 60.5h0M107.1 63.1h0M119.3 63.4h0M122.5 63.2h0M2.6 66.7h0M9.1 66.5h0M121.8 66.3h0M127.3 65.9h0M123.0 69.1h0M133.1 69.4h0M105.8 72.0h0M112.4 72.0h0M127.5 71.4h0M130.8 71.9h0M97.3 74.8h0M113.3 73.9h0M102.0 76.8h0M105.5 76.9h0M121.5 77.0h0M124.7 76.9h0M100.7 80.5h0M123.3 80.0h0M89.3 83.1h0M111.8 83.1h0M115.2 82.4h0M100.4 85.7h0M103.5 85.1h0M86.1 87.8h0M118.8 88.3h0M124.3 88.5h0M81.9 91.0h0M104.2 91.5h0M110.6 90.8h0M113.3 90.6h0M99.1 94.1h0M115.2 94.0h0M87.6 96.3h0M91.2 97.1h0M97.4 97.1h0M110.7 96.3h0M116.8 96.2h0M122.5 96.5h0M111.7 99.9h0M84.7 102.3h0M109.7 102.1h0M108.3 105.5h0M116.9 107.8h0M119.8 108.0h0M95.8 111.1h0M104.3 113.3h0M107.6 113.5h0M87.6 118.9h0M104.2 119.1h0M89.9 122.2h0M105.5 121.8h0M84.8 124.8h0M127.8 127.9h0M97.7 130.1h0M129.5 130.4h0M132.3 130.7h0M135.2 130.1h0M102.4 133.3h0M128.0 132.4h0M91.3 135.8h0M104.2 135.6h0M104.9 138.3h0M77.7 141.7h0M81.0 140.7h0M116.1 141.1h0M73.4 144.4h0M79.5 143.9h0M105.6 144.4h0M112.0 144.2h0M120.8 144.6h0M7.4 146.7h0M48.8 147.2h0M62.6 146.5h0M75.3 146.5h0M85.2 147.4h0M106.9 146.9h0M119.9 147.2h0M67.4 149.9h0M89.8 149.3h0M56.3 152.9h0M62.5 152.6h0M65.9 152.8h0M68.6 152.0h0M84.6 152.6h0M90.5 152.0h0M96.8 152.6h0M110.4 152.3h0M113.2 152.0h0M12.5 155.4h0M21.6 154.9h0M54.6 155.6h0M60.9 155.6h0M73.9 155.5h0M82.7 154.8h0M95.3 155.4h0M17.4 158.2h0M36.4 158.1h0M43.2 157.5h0M49.5 157.6h0M78.7 157.5h0M85.2 158.5h0M94.6 157.5h0M100.7 157.5h0M44.9 160.9h0M51.3 160.9h0M67.3 160.7h0M73.4 161.1h0M89.4 160.7h0M93.0 160.6h0M95.8 161.3h0M99.5 160.6h0M24.3 163.2h0M55.7 163.6h0M59.3 163.6h0M12.6 166.0h0M21.6 166.5h0M73.0 166.2h0M83.1 166.1h0M10.5 169.1h0M14.0 168.8h0M46.7 168.9h0M58.7 169.5h0M8.9 172.4h0M44.3 172.2h0M47.6 171.9h0M54.7 171.9h0M63.6 171.4h0M52.6 174.6h0M58.8 175.1h0M75.0 174.2h0" stroke="#55ffaa" stroke-width="5.6"/><path d="M113.4 13.3h0M111.3 16.5h0M102.1 21.9h0M105.7 21.3h0M108.3 21.7h0M109.8 24.6h0M121.1 27.1h0M93.6 29.6h0M96.8 30.0h0M110.1 30.2h0M92.9 32.8h0M26.7 35.4h0M39.6 35.9h0M62.4 35.6h0M100.0 35.3h0M41.4 38.0h0M92.7 37.7h0M102.1 38.6h0M37.0 40.5h0M52.7 40.6h0M62.5 40.8h0M87.8 41.3h0M94.7 40.9h0M100.9 41.6h0M117.2 40.8h0M15.9 44.0h0M18.5 43.9h0M21.6 43.4h0M44.9 43.6h0M47.8 43.6h0M63.8 43.5h0M82.8 44.3h0M89.7 43.6h0M114.6 43.4h0M118.7 44.1h0M27.4 46.6h0M36.7 46.5h0M43.5 46.7h0M65.1 46.1h0M87.7 46.1h0M104.2 46.6h0M41.8 49.5h0M47.9 49.1h0M50.5 48.9h0M79.9 49.1h0M83.3 49.2h0M98.9 49.0h0M102.3 49.7h0M114.5 49.3h0M24.4 52.0h0M40.2 52.6h0M46.5 52.3h0M71.9 52.1h0M113.2 52.7h0M116.6 52.0h0M120.2 52.3h0M126.3 51.8h0M38.2 55.0h0M54.5 55.5h0M61.0 55.1h0M88.8 54.6h0M127.3 54.4h0M27.0 57.6h0M33.2 57.6h0M36.7 58.3h0M56.1 58.0h0M59.4 57.3h0M71.2 57.3h0M74.6 57.3h0M97.5 58.3h0M120.1 58.2h0M132.2 57.6h0M3.2 60.2h0M16.0 60.0h0M18.7 60.5h0M34.6 60.7h0M56.8 60.2h0M86.2 60.6h0M108.1 60.8h0M115.3 60.5h0M118.0 61.0h0M23.5 63.4h0M33.7 63.3h0M97.8 63.1h0M6.1 66.1h0M28.3 66.3h0M70.3 65.7h0M73.3 65.9h0M89.0 65.6h0M96.1 65.6h0M105.4 66.5h0M112.4 66.6h0M125.1 66.6h0M130.9 66.6h0M4.4 68.9h0M7.5 68.4h0M100.4 68.3h0M106.5 68.6h0M110.5 69.4h0M120.1 68.9h0M19.1 71.2h0M95.5 71.7h0M121.1 72.3h0M74.8 75.0h0M93.9 74.9h0M104.3 74.7h0M106.6 74.4h0M80.2 76.8h0M75.0 80.6h0M87.7 80.5h0M97.9 80.2h0M104.0 80.0h0M110.1 80.2h0M79.8 82.7h0M92.6 82.8h0M81.8 85.2h0M113.1 86.1h0M120.0 85.2h0M76.1 88.1h0M80.1 88.4h0M83.3 88.4h0M102.0 88.6h0M93.9 90.9h0M97.7 91.2h0M106.7 91.1h0M119.3 91.2h0M88.9 94.5h0M96.4 93.6h0M101.9 94.1h0M109.0 94.4h0M125.2 93.5h0M75.3 97.3h0M81.7 96.5h0M94.2 97.3h0M83.6 99.7h0M101.6 100.0h0M87.8 102.7h0M90.6 102.5h0M101.0 102.7h0M107.2 102.5h0M83.4 105.5h0M105.9 105.0h0M97.5 107.9h0M107.1 108.0h0M82.6 110.6h0M105.3 110.9h0M112.3 110.3h0M90.8 113.5h0M102.2 116.6h0M104.9 116.3h0M108.2 116.2h0M93.9 119.0h0M83.2 121.2h0M86.6 122.2h0M93.1 121.2h0M95.5 121.4h0M81.6 125.1h0M88.3 124.4h0M97.8 124.9h0M100.8 125.2h0M79.4 127.9h0M83.3 126.8h0M92.4 127.1h0M98.5 126.8h0M126.0 130.2h0M82.7 132.9h0M92.8 132.5h0M99.2 132.4h0M97.4 135.9h0M126.5 135.1h0M83.3 137.9h0M85.8 138.2h0M68.2 141.8h0M74.6 141.7h0M84.6 141.3h0M119.6 141.1h0M47.6 143.5h0M54.3 143.6h0M64.1 144.5h0M67.6 143.7h0M11.0 147.0h0M17.3 146.6h0M39.9 146.6h0M42.7 147.2h0M46.8 147.3h0M59.4 146.3h0M87.7 146.9h0M104.0 146.5h0M19.0 149.0h0M22.1 149.3h0M31.7 150.2h0M41.0 150.1h0M44.8 150.2h0M73.6 149.3h0M80.2 150.2h0M92.2 149.4h0M96.3 149.1h0M10.8 151.9h0M29.8 152.5h0M42.5 152.8h0M45.8 152.5h0M100.9 152.4h0M104.0 152.9h0M34.7 155.7h0M48.3 155.0h0M67.2 155.3h0M89.1 155.1h0M98.6 154.9h0M26.6 158.1h0M34.0 157.9h0M62.7 157.8h0M81.2 158.3h0M25.9 161.1h0M28.3 160.8h0M35.3 160.5h0M37.1 164.1h0M39.9 164.0h0M68.5 163.6h0M75.0 163.1h0M84.3 163.3h0M87.3 163.6h0M90.4 163.9h0M97.8 163.0h0M67.0 166.6h0M79.5 166.2h0M86.0 166.9h0M20.3 168.6h0M33.8 168.9h0M49.6 169.4h0M64.9 168.8h0M51.6 171.7h0M73.5 171.4h0M92.1 172.4h0M43.1 174.7h0M68.8 174.5h0M71.3 175.1h0M50.4 177.2h0M70.0 177.4h0M76.2 177.4h0M79.4 177.3h0" stroke="#6aff95" stroke-width="5.6"/><path d="M116.1 19.3h0M106.8 24.3h0M119.7 24.2h0M112.0 26.7h0M113.9 29.4h0M112.4 32.4h0M52.4 36.0h0M97.8 36.0h0M113.4 35.2h0M95.7 38.5h0M99.5 37.8h0M111.3 38.7h0M27.1 41.6h0M42.6 41.6h0M46.6 40.6h0M55.9 41.5h0M59.2 40.9h0M31.9 44.2h0M34.4 43.3h0M50.9 43.5h0M96.1 43.8h0M62.3 46.2h0M90.7 47.0h0M113.6 47.0h0M54.2 50.0h0M63.7 49.6h0M95.3 49.1h0M105.6 49.6h0M117.7 50.0h0M26.4 52.1h0M37.1 51.7h0M49.6 52.3h0M58.7 52.3h0M62.2 51.8h0M81.2 52.4h0M31.2 54.8h0M70.1 54.9h0M80.4 55.0h0M82.8 55.4h0M92.8 54.5h0M105.1 54.9h0M118.0 55.5h0M125.0 55.2h0M17.8 58.0h0M43.1 57.5h0M84.7 57.8h0M94.7 57.9h0M100.5 58.0h0M12.4 60.3h0M37.6 60.4h0M45.2 60.0h0M93.2 60.9h0M102.1 60.5h0M106.0 60.0h0M120.8 61.0h0M130.7 60.5h0M8.0 62.8h0M14.5 63.8h0M68.5 63.5h0M81.9 62.8h0M87.6 63.3h0M90.7 63.2h0M103.9 62.8h0M129.9 63.6h0M132.6 63.7h0M22.3 66.3h0M25.4 65.8h0M38.6 66.0h0M47.5 65.7h0M80.2 65.6h0M82.8 65.9h0M102.0 66.1h0M117.7 65.9h0M1.1 68.3h0M17.2 68.8h0M23.9 68.9h0M77.7 68.8h0M91.5 69.3h0M129.1 68.6h0M6.4 71.9h0M22.1 71.4h0M29.1 71.9h0M37.7 71.9h0M67.5 71.6h0M85.8 71.7h0M115.1 71.8h0M117.8 72.2h0M7.8 74.4h0M14.7 74.7h0M30.0 74.1h0M45.9 74.0h0M55.8 74.0h0M59.1 74.9h0M72.3 74.5h0M38.1 77.2h0M44.2 77.2h0M60.8 77.4h0M73.9 76.9h0M86.7 77.5h0M118.3 77.8h0M71.4 80.3h0M84.6 79.6h0M94.6 80.2h0M106.6 79.7h0M86.0 82.9h0M96.1 82.5h0M98.7 82.9h0M105.5 82.3h0M68.3 85.8h0M94.4 86.0h0M97.1 85.6h0M107.0 85.9h0M70.3 88.4h0M92.7 88.9h0M96.0 87.9h0M105.4 88.3h0M90.6 91.4h0M116.7 91.3h0M69.8 93.9h0M73.4 93.4h0M76.6 94.0h0M82.5 94.4h0M92.5 93.4h0M111.6 94.1h0M121.5 93.5h0M113.4 97.1h0M85.7 99.6h0M105.7 99.6h0M97.9 102.6h0M113.6 102.5h0M119.3 102.2h0M101.7 105.3h0M114.4 105.4h0M75.1 108.4h0M90.7 107.4h0M89.9 110.2h0M102.2 111.1h0M108.1 111.1h0M97.1 113.5h0M98.9 116.5h0M81.5 118.5h0M84.4 118.5h0M90.6 119.6h0M97.4 118.6h0M102.4 121.6h0M91.4 124.6h0M93.8 129.8h0M95.7 132.5h0M130.5 133.2h0M140.4 133.4h0M78.6 135.6h0M81.6 136.3h0M54.2 138.3h0M72.9 138.5h0M52.9 141.6h0M87.3 140.7h0M90.9 141.6h0M97.1 141.3h0M12.4 143.9h0M51.5 144.1h0M57.8 144.2h0M61.0 143.8h0M70.2 144.1h0M82.7 144.1h0M85.9 144.5h0M1.9 146.6h0M4.5 147.4h0M20.7 146.4h0M52.8 146.9h0M90.9 147.4h0M93.9 146.9h0M25.9 150.1h0M48.1 150.0h0M51.5 149.2h0M57.3 149.8h0M64.1 149.3h0M76.4 149.7h0M85.6 150.1h0M33.8 152.7h0M36.4 152.9h0M39.3 152.6h0M25.9 155.3h0M41.3 154.9h0M79.3 155.4h0M101.7 155.5h0M105.6 155.0h0M115.2 155.2h0M30.0 157.4h0M39.4 158.0h0M52.5 158.2h0M71.3 158.5h0M91.0 157.7h0M103.6 157.8h0M41.8 160.7h0M70.1 160.4h0M101.8 161.2h0M30.2 163.9h0M33.8 164.0h0M49.3 163.0h0M65.7 163.5h0M32.0 166.0h0M34.5 166.5h0M41.1 165.7h0M54.8 166.6h0M70.1 166.6h0M92.9 166.0h0M96.1 166.8h0M99.2 165.8h0M36.5 168.6h0M62.6 169.5h0M68.3 169.0h0M38.2 171.6h0M67.3 171.8h0M70.7 172.1h0M76.3 172.3h0M95.5 172.1h0M49.9 174.2h0M55.7 174.2h0M65.8 175.1h0M84.6 174.2h0M87.9 175.0h0M74.0 177.5h0M86.6 176.9h0M61.7 180.2h0M81.6 180.2h0M84.1 180.4h0" stroke="#80ff80" stroke-width="5.6"/><path d="M111.2 21.7h0M116.2 24.1h0M104.2 30.3h0M105.0 32.6h0M103.8 35.0h0M110.4 40.5h0M49.9 46.3h0M97.3 46.7h0M106.6 46.3h0M32.3 49.6h0M67.1 49.6h0M43.1 52.5h0M53.2 51.8h0M75.6 52.3h0M94.0 52.6h0M100.1 52.5h0M103.5 52.2h0M109.9 52.4h0M41.9 55.3h0M44.8 55.2h0M47.7 54.8h0M51.0 55.0h0M67.2 55.2h0M96.3 54.9h0M102.2 55.5h0M108.4 55.1h0M111.2 54.6h0M114.7 54.5h0M48.8 57.4h0M87.8 57.2h0M129.8 58.0h0M28.9 60.5h0M70.5 61.0h0M83.0 60.3h0M98.9 61.1h0M111.4 60.5h0M128.1 60.0h0M20.7 63.9h0M26.6 63.6h0M39.8 63.5h0M55.7 63.5h0M75.5 63.1h0M94.5 62.8h0M15.9 65.6h0M18.5 65.8h0M41.8 66.7h0M54.2 65.7h0M67.2 66.4h0M86.3 66.5h0M109.0 66.6h0M62.7 69.2h0M71.2 68.9h0M81.6 68.4h0M84.5 68.9h0M116.9 68.9h0M126.4 68.5h0M12.9 72.0h0M35.1 71.5h0M76.1 71.5h0M79.3 71.8h0M92.3 71.7h0M102.5 71.9h0M17.7 74.7h0M23.8 74.2h0M36.7 73.9h0M43.5 74.2h0M65.8 74.7h0M81.2 74.0h0M88.0 74.0h0M100.7 74.5h0M110.3 74.0h0M117.1 74.9h0M6.6 77.6h0M21.9 77.4h0M28.2 77.3h0M54.6 77.3h0M67.5 77.4h0M69.7 77.3h0M92.3 77.7h0M99.1 77.0h0M108.9 76.8h0M36.9 80.3h0M81.9 80.0h0M91.0 80.0h0M113.5 80.0h0M41.3 82.8h0M44.1 83.0h0M69.8 82.9h0M83.2 83.3h0M102.4 82.7h0M117.8 82.2h0M46.2 86.1h0M61.8 85.6h0M75.1 85.9h0M78.7 85.9h0M91.0 85.3h0M110.7 85.7h0M117.0 85.3h0M37.9 87.9h0M44.1 88.7h0M57.3 88.8h0M60.5 88.4h0M99.1 88.3h0M108.1 88.1h0M115.1 88.7h0M52.4 91.7h0M72.4 91.1h0M87.9 91.4h0M100.1 91.5h0M57.3 93.8h0M85.8 93.7h0M84.2 96.5h0M101.0 97.1h0M106.5 96.2h0M72.9 99.5h0M92.3 100.1h0M99.4 99.8h0M108.6 100.0h0M118.1 98.9h0M71.6 102.6h0M75.1 102.6h0M80.9 102.1h0M93.7 101.8h0M89.0 105.5h0M92.2 104.7h0M112.3 104.5h0M94.7 108.3h0M100.2 107.8h0M103.9 108.5h0M98.9 110.9h0M77.9 113.5h0M88.0 113.2h0M101.0 113.4h0M88.9 116.6h0M92.9 116.2h0M95.3 116.4h0M75.0 118.9h0M101.1 119.2h0M77.6 124.0h0M73.1 126.9h0M86.2 127.3h0M81.4 130.2h0M50.5 132.9h0M67.3 133.5h0M79.2 133.5h0M134.3 132.4h0M137.2 133.4h0M123.6 136.2h0M51.4 138.8h0M57.9 138.0h0M63.2 138.1h0M80.4 138.3h0M39.4 141.9h0M42.9 141.4h0M59.3 140.9h0M71.2 140.8h0M28.1 144.2h0M40.9 144.5h0M44.3 144.4h0M76.5 144.3h0M13.8 147.0h0M33.8 146.5h0M28.4 149.4h0M38.0 149.9h0M60.9 149.9h0M23.4 152.5h0M27.6 152.9h0M59.4 152.8h0M75.1 152.6h0M119.9 152.6h0M31.8 155.4h0M38.1 155.7h0M44.9 155.4h0M51.1 155.7h0M57.6 154.9h0M63.6 154.8h0M46.7 158.3h0M58.7 157.9h0M31.9 160.5h0M47.7 160.3h0M54.1 160.2h0M57.7 160.4h0M60.1 160.3h0M63.5 161.0h0M26.9 163.3h0M25.8 166.7h0M28.7 166.0h0M45.1 165.8h0M17.0 169.4h0M39.8 169.6h0M53.0 169.3h0M55.2 169.5h0M84.7 169.7h0M88.3 169.5h0M90.9 169.4h0M13.1 172.5h0M18.5 172.1h0M35.4 171.6h0M40.9 171.9h0M57.4 172.5h0M60.4 171.4h0M83.1 172.1h0M85.7 171.5h0M8.1 174.2h0M14.5 174.4h0M46.1 174.5h0M61.9 174.3h0M54.4 177.5h0M56.9 177.0h0M60.8 178.0h0M61.1 182.6h0M70.3 182.8h0" stroke="#95ff6a" stroke-width="5.6"/><path d="M107.6 29.4h0M107.5 40.6h0M105.0 44.3h0M109.1 43.7h0M111.4 44.1h0M110.6 47.2h0M55.6 52.5h0M106.4 52.6h0M34.7 54.5h0M63.4 55.4h0M73.9 55.6h0M86.8 54.5h0M29.7 57.2h0M39.8 57.8h0M53.0 57.9h0M69.0 57.9h0M106.7 57.5h0M110.5 58.0h0M113.0 57.6h0M116.9 57.3h0M123.1 58.3h0M126.3 58.2h0M41.7 60.6h0M54.0 60.1h0M60.2 60.0h0M66.8 60.1h0M73.5 61.0h0M77.2 60.3h0M89.0 60.7h0M95.7 60.6h0M124.2 60.1h0M30.0 63.2h0M77.7 62.9h0M100.1 62.8h0M113.2 63.8h0M116.7 62.9h0M126.8 63.4h0M31.4 65.8h0M60.9 66.0h0M63.8 66.0h0M92.9 65.8h0M98.8 66.4h0M115.6 65.8h0M14.2 68.3h0M20.0 68.4h0M33.6 68.9h0M45.7 68.9h0M52.2 69.2h0M68.1 69.4h0M93.9 68.9h0M103.5 69.2h0M112.9 69.5h0M3.6 71.6h0M15.4 71.6h0M48.2 72.3h0M54.6 71.8h0M64.1 72.3h0M98.8 71.4h0M108.2 72.0h0M11.2 73.9h0M20.9 74.6h0M49.4 74.4h0M84.2 74.4h0M90.5 74.4h0M12.6 77.8h0M31.8 76.7h0M41.7 77.3h0M47.3 76.7h0M83.1 76.9h0M89.5 77.0h0M111.5 77.1h0M115.4 77.7h0M4.6 80.0h0M8.1 79.5h0M10.7 79.7h0M13.7 80.1h0M20.6 80.2h0M23.8 80.3h0M43.6 80.2h0M65.4 79.6h0M117.0 79.7h0M3.4 82.2h0M28.1 82.5h0M31.8 83.0h0M58.0 83.0h0M66.5 82.4h0M77.1 82.8h0M108.3 82.6h0M42.8 85.0h0M71.5 85.1h0M88.0 85.1h0M2.4 88.7h0M41.4 88.7h0M47.4 88.4h0M73.6 88.3h0M88.8 88.9h0M111.4 88.4h0M7.4 90.8h0M36.9 90.7h0M46.6 91.4h0M49.7 90.6h0M69.0 91.5h0M75.2 91.5h0M84.7 91.3h0M41.5 93.6h0M64.2 93.4h0M79.9 93.7h0M104.8 94.2h0M53.2 96.2h0M103.6 96.7h0M51.2 100.0h0M66.6 100.0h0M89.8 100.1h0M95.2 99.2h0M55.7 101.9h0M78.5 102.1h0M103.7 102.9h0M80.2 105.1h0M85.6 105.3h0M95.9 104.7h0M98.7 105.5h0M78.2 107.7h0M84.5 107.7h0M87.9 107.6h0M79.6 110.7h0M86.3 110.9h0M92.8 110.5h0M68.5 113.2h0M74.5 113.9h0M94.2 113.6h0M77.1 115.9h0M83.0 116.0h0M72.4 124.2h0M69.9 127.4h0M77.1 127.3h0M71.5 129.9h0M74.5 129.7h0M84.9 130.7h0M47.5 132.3h0M63.3 132.5h0M73.8 133.5h0M40.4 135.1h0M56.2 135.3h0M74.6 135.5h0M41.2 138.5h0M76.0 138.1h0M124.0 138.0h0M4.5 141.7h0M55.9 140.8h0M61.7 141.5h0M64.9 141.4h0M31.8 143.7h0M34.7 143.7h0M27.1 146.4h0M29.7 147.4h0M36.2 146.7h0M55.9 146.3h0M65.8 147.4h0M71.3 146.6h0M34.8 149.7h0M54.8 149.7h0M70.3 149.1h0M121.7 149.2h0M49.2 152.4h0M52.7 152.3h0M109.1 155.3h0M55.8 157.5h0M38.3 160.9h0M43.4 163.3h0M46.1 164.1h0M52.7 163.3h0M100.7 163.7h0M37.9 166.6h0M50.9 165.8h0M57.7 165.9h0M27.1 169.2h0M30.0 169.2h0M43.6 169.5h0M94.6 169.2h0M16.1 171.6h0M25.5 171.7h0M89.5 171.8h0M91.2 174.5h0M83.2 177.0h0M45.7 179.8h0M52.2 179.9h0M55.5 179.7h0M58.9 180.4h0M71.8 180.3h0M78.0 180.0h0M67.0 183.1h0M62.1 185.5h0M66.0 185.5h0M68.7 185.3h0" stroke="#aaff55" stroke-width="5.6"/><path d="M46.5 57.3h0M61.6 57.2h0M31.4 60.9h0M47.2 60.5h0M51.2 60.6h0M63.4 60.7h0M36.1 62.9h0M46.3 62.9h0M49.5 63.5h0M58.9 63.2h0M62.0 63.2h0M65.8 63.5h0M71.6 62.9h0M84.9 63.0h0M110.1 63.2h0M57.1 66.3h0M27.3 68.9h0M30.6 69.4h0M40.2 68.4h0M49.9 68.5h0M58.4 68.6h0M64.9 69.2h0M87.9 69.4h0M97.5 68.7h0M9.6 71.2h0M25.1 71.6h0M32.2 71.8h0M41.6 72.2h0M50.4 71.8h0M56.8 72.1h0M73.3 71.4h0M88.8 71.4h0M1.4 73.9h0M4.1 74.9h0M39.3 74.6h0M62.4 74.1h0M78.0 73.9h0M25.6 77.8h0M50.6 77.6h0M57.1 77.7h0M76.0 76.7h0M96.3 77.1h0M1.9 79.8h0M33.1 79.9h0M40.3 80.6h0M45.7 79.5h0M52.5 80.3h0M56.0 80.1h0M59.1 79.5h0M78.6 79.4h0M5.6 82.3h0M16.0 82.5h0M47.2 82.3h0M73.9 82.7h0M17.5 85.5h0M39.7 85.7h0M84.7 85.7h0M16.3 88.3h0M32.0 87.9h0M34.6 88.2h0M51.3 88.4h0M67.6 88.4h0M4.6 90.8h0M11.2 91.4h0M62.8 91.7h0M64.9 91.5h0M78.7 90.9h0M9.2 93.4h0M13.0 93.7h0M44.1 93.9h0M66.8 94.5h0M1.7 96.6h0M78.4 97.0h0M0.0 99.4h0M44.7 99.0h0M60.0 99.0h0M63.7 98.9h0M76.3 100.1h0M80.1 99.4h0M68.4 102.1h0M45.1 105.2h0M69.7 104.8h0M77.0 105.1h0M65.5 107.9h0M68.9 107.5h0M81.6 108.0h0M54.8 110.5h0M72.9 110.4h0M81.7 113.2h0M84.1 112.9h0M63.6 115.6h0M69.9 116.6h0M73.4 116.0h0M80.3 116.2h0M86.4 116.1h0M78.7 119.6h0M60.2 121.3h0M64.2 121.8h0M66.8 122.0h0M79.2 122.0h0M69.0 124.6h0M75.2 125.2h0M48.2 127.2h0M54.6 126.8h0M61.0 127.8h0M66.6 127.1h0M53.2 130.4h0M59.0 130.2h0M61.8 129.8h0M65.4 130.7h0M77.9 129.8h0M54.2 133.2h0M57.8 132.8h0M69.9 133.5h0M76.3 133.5h0M36.3 135.5h0M49.7 135.9h0M71.3 135.3h0M132.0 135.9h0M48.0 138.5h0M67.2 138.9h0M70.6 138.1h0M1.2 141.3h0M33.8 141.4h0M46.3 140.7h0M48.9 141.7h0M2.9 144.5h0M6.2 144.6h0M8.8 144.2h0M16.3 144.1h0M19.1 144.5h0M22.3 144.0h0M37.7 143.8h0M23.6 147.1h0M122.7 146.4h0M28.5 155.5h0M118.2 155.1h0M121.4 154.9h0M31.3 171.7h0M11.4 174.1h0M40.3 174.3h0M9.4 177.1h0M12.3 177.8h0M16.4 177.1h0M19.2 177.0h0M48.1 177.3h0M63.9 177.4h0M66.8 177.5h0M89.7 176.9h0M93.2 177.0h0M69.1 180.5h0M15.5 182.5h0M18.6 182.5h0M22.6 183.0h0M45.1 182.8h0M50.8 182.8h0M76.6 183.5h0M79.5 182.9h0M45.8 185.3h0M48.9 185.5h0M52.4 185.4h0M22.1 188.2h0M118.3 189.2h0M121.2 188.6h0M131.6 188.5h0M134.6 188.9h0M16.3 194.6h0M19.1 193.8h0M31.8 194.8h0M118.1 194.2h0M14.7 196.4h0M20.2 196.4h0M119.3 197.4h0M115.4 199.9h0M113.4 202.0h0M123.0 202.7h0M125.9 202.4h0M115.3 205.4h0" stroke="#bfff40" stroke-width="5.6"/><path d="M42.8 62.9h0M52.7 63.8h0M35.1 65.5h0M44.9 66.5h0M50.7 66.6h0M76.1 66.0h0M36.7 68.9h0M43.1 69.0h0M56.1 68.7h0M74.5 69.4h0M61.2 71.8h0M70.0 71.5h0M83.4 71.5h0M27.5 74.3h0M53.1 74.2h0M68.2 75.0h0M0.2 77.5h0M3.0 77.7h0M9.2 76.7h0M35.4 77.5h0M63.4 77.2h0M17.6 80.2h0M30.3 80.1h0M49.7 80.2h0M68.4 79.6h0M9.4 83.4h0M22.2 82.5h0M25.8 82.5h0M35.2 82.9h0M50.6 82.5h0M54.1 82.4h0M60.6 83.1h0M64.1 82.5h0M1.3 86.0h0M8.1 85.8h0M13.9 85.7h0M23.6 85.4h0M34.0 85.5h0M49.9 86.2h0M59.2 86.0h0M65.3 85.6h0M12.3 88.5h0M18.8 88.9h0M54.0 87.8h0M1.9 90.8h0M55.4 91.5h0M6.6 94.0h0M18.9 94.5h0M53.9 94.1h0M60.8 93.8h0M43.1 96.7h0M46.8 97.2h0M68.3 96.9h0M71.6 96.5h0M3.5 99.1h0M12.2 99.6h0M41.1 99.3h0M53.8 99.3h0M70.0 99.1h0M14.4 102.0h0M45.7 102.8h0M59.2 102.4h0M0.0 104.6h0M56.8 105.6h0M61.0 104.5h0M46.2 107.5h0M51.4 110.1h0M76.5 110.3h0M46.8 113.6h0M65.2 113.4h0M71.6 112.9h0M47.7 115.7h0M54.1 116.7h0M54.3 121.4h0M70.6 121.2h0M76.7 121.4h0M52.8 124.4h0M55.2 124.9h0M65.7 124.0h0M41.2 127.7h0M64.4 127.3h0M60.3 132.5h0M42.6 136.1h0M46.0 135.2h0M52.7 135.2h0M59.6 136.3h0M62.6 135.3h0M65.8 135.4h0M69.0 136.2h0M34.5 138.5h0M37.7 138.6h0M44.2 138.2h0M61.0 138.3h0M27.6 141.5h0M36.6 141.1h0M122.7 141.6h0M26.0 144.2h0M107.0 157.5h0M109.7 158.2h0M23.2 169.5h0M97.7 169.6h0M28.9 171.9h0M23.2 174.8h0M26.8 174.6h0M33.6 175.1h0M94.8 174.3h0M29.2 177.3h0M44.3 177.6h0M75.4 180.2h0M88.2 180.2h0M90.7 180.7h0M136.3 180.6h0M12.2 182.5h0M25.8 182.7h0M131.0 182.5h0M14.1 186.4h0M16.9 186.3h0M26.9 186.2h0M30.1 186.2h0M58.7 186.0h0M71.5 185.5h0M123.4 185.3h0M129.2 185.4h0M12.9 188.4h0M15.8 188.9h0M19.5 188.2h0M44.9 188.0h0M53.6 188.8h0M60.7 188.3h0M64.1 188.4h0M20.3 191.9h0M27.2 191.7h0M33.4 191.4h0M132.8 191.7h0M24.8 193.6h0M127.3 194.6h0M131.1 194.2h0M26.9 196.7h0M122.8 196.7h0M132.1 196.5h0M128.1 200.1h0M133.7 199.3h0M21.0 202.2h0M23.9 203.1h0M117.1 202.6h0M119.4 202.1h0M124.1 205.6h0M131.3 204.9h0M116.9 207.7h0M120.1 208.5h0M126.5 207.7h0M129.3 208.1h0M111.8 210.9h0M118.8 210.8h0M120.9 210.5h0M124.7 211.0h0M128.2 211.5h0" stroke="#d5ff2a" stroke-width="5.6"/><path d="M44.7 72.1h0M34.0 74.8h0M15.7 77.7h0M19.3 77.7h0M62.4 79.9h0M38.8 82.6h0M5.1 86.2h0M10.7 85.1h0M36.8 85.4h0M52.3 85.0h0M55.3 85.4h0M9.6 88.0h0M25.9 87.9h0M63.3 88.9h0M14.7 91.1h0M17.9 91.4h0M20.9 91.5h0M33.6 90.7h0M39.7 91.6h0M42.7 90.7h0M58.7 90.7h0M22.2 94.1h0M28.1 93.5h0M48.3 93.4h0M50.5 93.5h0M49.8 96.9h0M58.7 96.7h0M62.5 96.8h0M65.9 96.2h0M37.7 99.5h0M4.9 102.4h0M49.1 101.8h0M52.4 102.8h0M64.9 102.0h0M6.4 105.4h0M12.0 104.6h0M63.6 104.8h0M73.8 105.4h0M4.8 107.5h0M49.6 107.9h0M55.9 107.3h0M58.7 108.0h0M71.9 107.6h0M41.1 111.2h0M57.1 110.5h0M60.5 110.4h0M63.8 110.3h0M59.1 113.5h0M62.7 113.5h0M46.1 119.6h0M62.2 119.6h0M65.9 118.8h0M72.2 118.6h0M38.1 121.8h0M44.2 121.4h0M48.1 122.0h0M73.5 121.4h0M39.3 124.7h0M46.1 124.3h0M49.2 124.2h0M57.5 127.3h0M46.7 130.0h0M48.8 130.7h0M38.0 133.3h0M41.3 133.0h0M45.0 133.3h0M33.6 135.8h0M129.5 135.8h0M136.1 135.2h0M6.7 138.9h0M127.7 138.5h0M7.4 141.3h0M124.4 144.4h0M125.8 147.4h0M111.9 155.7h0M105.1 161.2h0M101.0 168.7h0M22.1 171.3h0M17.2 174.5h0M20.1 174.3h0M97.8 174.4h0M25.5 177.2h0M41.7 176.9h0M17.8 180.3h0M23.4 180.1h0M30.8 180.6h0M36.7 179.8h0M49.3 180.3h0M64.9 180.7h0M138.7 180.2h0M28.1 183.4h0M48.4 183.0h0M54.7 183.0h0M57.5 182.7h0M64.1 182.6h0M73.4 183.5h0M134.8 182.5h0M137.3 183.6h0M24.0 185.6h0M39.9 185.7h0M42.6 185.3h0M135.5 186.1h0M25.2 188.0h0M35.0 188.1h0M37.8 189.1h0M40.9 188.6h0M124.8 189.0h0M23.8 191.3h0M30.4 191.8h0M36.7 191.1h0M40.3 191.1h0M45.8 191.1h0M55.4 191.3h0M116.5 191.1h0M122.6 191.9h0M129.1 191.2h0M135.4 191.6h0M30.1 196.7h0M106.9 196.6h0M126.1 196.6h0M29.1 199.5h0M31.2 199.3h0M118.1 199.5h0M25.7 205.2h0M109.1 205.1h0M112.3 204.8h0M118.1 205.7h0M27.4 207.6h0M29.9 208.4h0M113.5 207.5h0M19.1 210.8h0M114.9 210.7h0M131.4 210.9h0" stroke="#eaff15" stroke-width="5.6"/><path d="M27.3 80.1h0M13.0 82.9h0M19.0 82.4h0M20.4 85.8h0M26.9 85.8h0M30.5 86.0h0M6.1 88.4h0M21.9 88.4h0M38.2 94.3h0M4.5 96.3h0M7.5 96.7h0M11.1 97.2h0M14.4 97.0h0M39.3 96.9h0M55.5 97.1h0M6.2 99.0h0M9.7 99.1h0M15.5 99.5h0M19.2 100.0h0M47.5 99.1h0M57.8 99.9h0M11.5 101.8h0M42.5 102.2h0M62.2 102.2h0M9.4 104.5h0M15.6 105.1h0M25.0 105.5h0M47.7 105.5h0M51.0 105.6h0M67.4 105.3h0M37.0 107.9h0M52.6 107.8h0M62.5 108.4h0M0.3 111.1h0M3.5 110.3h0M6.3 110.5h0M34.8 110.5h0M47.6 111.2h0M67.1 110.7h0M70.1 110.3h0M27.5 112.9h0M43.0 113.2h0M52.3 113.9h0M44.5 116.6h0M50.7 115.6h0M60.4 115.9h0M39.4 118.8h0M68.7 119.1h0M50.8 121.5h0M57.6 121.5h0M26.5 124.5h0M29.9 124.9h0M55.4 130.2h0M68.3 130.4h0M25.5 133.4h0M35.0 132.9h0M30.5 136.2h0M13.1 138.1h0M25.2 138.5h0M32.4 137.9h0M130.7 138.1h0M11.2 141.5h0M14.3 140.9h0M17.1 140.7h0M23.9 140.7h0M30.7 141.5h0M119.8 158.3h0M101.7 165.8h0M30.6 175.2h0M36.6 174.1h0M22.0 177.7h0M35.5 177.7h0M38.1 177.1h0M20.6 180.4h0M26.6 179.8h0M42.6 180.5h0M41.4 182.5h0M82.5 183.4h0M86.4 182.7h0M89.9 182.9h0M127.4 182.9h0M11.1 186.3h0M21.0 186.3h0M55.9 185.7h0M132.2 186.1h0M28.7 188.2h0M47.6 188.1h0M51.5 189.1h0M67.1 188.8h0M119.3 191.8h0M126.3 191.6h0M111.9 193.7h0M36.5 196.4h0M103.7 197.4h0M110.2 197.5h0M113.3 196.7h0M15.8 200.3h0M19.2 199.9h0M22.4 199.7h0M101.9 200.3h0M111.8 199.7h0M124.5 200.0h0M106.9 203.1h0M110.3 203.1h0M19.4 204.7h0M21.9 205.3h0M28.9 205.0h0M32.1 205.2h0M121.2 205.0h0M127.8 205.7h0M17.9 207.6h0M122.5 207.8h0M132.1 208.0h0M21.8 210.5h0M25.4 210.3h0" stroke="#ffff00" stroke-width="5.6"/><path d="M28.9 88.4h0M29.8 91.5h0M3.2 93.8h0M16.4 93.8h0M35.0 93.5h0M17.9 96.9h0M33.3 97.0h0M25.2 99.2h0M2.0 102.1h0M7.6 102.7h0M40.4 102.6h0M22.8 105.6h0M32.3 105.5h0M41.6 105.0h0M53.9 105.3h0M7.5 108.4h0M20.8 108.0h0M39.6 107.4h0M19.0 110.8h0M44.8 110.1h0M49.4 113.4h0M56.2 113.2h0M31.8 116.2h0M38.5 116.5h0M58.0 115.7h0M67.2 116.5h0M30.7 118.6h0M33.2 118.8h0M52.9 119.0h0M55.6 119.6h0M59.4 119.1h0M25.0 122.0h0M28.3 122.1h0M58.7 125.0h0M62.3 124.1h0M35.2 127.6h0M38.1 127.0h0M44.9 127.0h0M50.7 127.0h0M27.4 129.8h0M39.8 130.5h0M42.8 129.6h0M22.2 133.1h0M32.4 133.1h0M27.3 135.6h0M16.2 139.1h0M19.1 138.4h0M29.2 138.5h0M21.2 141.2h0M126.6 140.7h0M127.5 144.6h0M128.0 149.1h0M123.4 152.9h0M99.3 171.7h0M10.6 180.1h0M13.7 179.8h0M40.1 180.1h0M133.0 179.7h0M35.5 183.4h0M140.3 183.0h0M144.3 183.3h0M33.7 185.9h0M138.6 185.3h0M31.7 188.7h0M69.6 189.0h0M127.3 188.4h0M140.7 189.1h0M14.6 191.0h0M17.2 191.6h0M49.0 191.3h0M53.0 191.0h0M62.2 191.9h0M65.2 191.6h0M28.4 193.7h0M38.7 193.7h0M50.4 194.0h0M114.5 193.9h0M121.3 194.6h0M124.6 194.8h0M133.8 194.8h0M137.3 194.6h0M17.2 197.0h0M116.8 197.5h0M129.1 197.0h0M139.0 197.6h0M25.9 199.6h0M108.1 200.2h0M121.9 199.4h0M131.2 199.6h0M129.5 202.9h0M105.5 205.8h0M134.6 205.4h0M21.1 208.1h0M23.2 208.7h0M106.9 208.4h0M109.7 208.0h0M108.7 210.4h0" stroke="#ffea00" stroke-width="5.6"/><path d="M23.3 91.5h0M27.1 90.7h0M25.9 93.8h0M23.6 96.4h0M29.6 96.4h0M28.5 99.9h0M32.2 99.5h0M34.7 99.4h0M17.9 102.6h0M30.7 101.9h0M3.0 105.7h0M38.8 105.4h0M11.5 108.4h0M14.0 108.2h0M27.3 107.5h0M29.9 108.4h0M9.5 110.7h0M25.1 111.2h0M38.7 110.6h0M7.8 113.8h0M17.9 112.9h0M33.4 113.3h0M16.2 116.6h0M19.1 116.2h0M41.5 116.0h0M23.7 118.5h0M36.9 118.4h0M43.0 119.5h0M49.0 119.2h0M9.8 121.7h0M41.1 121.3h0M8.3 124.7h0M20.7 124.8h0M36.2 124.5h0M32.4 127.2h0M20.9 130.5h0M33.2 130.7h0M3.3 133.2h0M8.9 132.7h0M19.1 133.3h0M20.6 136.3h0M139.3 136.3h0M134.5 138.8h0M140.8 138.9h0M129.7 141.6h0M129.3 147.2h0M124.2 149.9h0M113.4 157.4h0M117.1 158.3h0M108.8 160.6h0M103.7 163.5h0M31.2 177.4h0M33.2 180.8h0M129.2 180.2h0M144.9 180.5h0M31.9 183.1h0M124.9 183.2h0M74.8 185.6h0M119.9 186.2h0M126.2 185.9h0M57.4 188.8h0M137.4 188.4h0M143.6 188.6h0M43.2 191.5h0M68.5 191.3h0M110.3 191.1h0M113.4 191.8h0M22.6 194.7h0M35.0 193.7h0M42.0 194.3h0M54.3 194.6h0M56.9 194.7h0M23.2 196.6h0M135.5 197.5h0M105.2 199.7h0M136.8 199.3h0M17.7 203.1h0M26.9 202.4h0M30.6 202.8h0M100.8 202.3h0M132.8 202.2h0M135.9 202.9h0M101.1 207.8h0M103.3 207.5h0M31.7 210.4h0" stroke="#ffd500" stroke-width="5.6"/><path d="M32.1 94.5h0M20.7 96.8h0M26.8 97.0h0M36.1 97.0h0M22.0 99.2h0M20.4 102.2h0M23.3 102.6h0M27.0 102.9h0M33.2 102.3h0M37.2 102.8h0M1.3 107.9h0M17.9 107.9h0M23.9 107.8h0M33.3 108.4h0M42.9 107.9h0M31.4 110.4h0M4.2 113.1h0M14.3 113.1h0M30.3 113.9h0M37.1 113.6h0M39.8 113.9h0M12.4 116.6h0M28.8 115.8h0M34.6 116.6h0M13.8 119.3h0M16.8 119.2h0M6.6 121.4h0M12.9 121.4h0M18.7 122.1h0M31.7 121.3h0M1.4 124.6h0M11.0 124.3h0M24.3 124.8h0M42.8 124.4h0M19.6 127.4h0M28.9 127.0h0M24.3 130.7h0M36.1 129.6h0M28.9 133.2h0M0.8 135.5h0M4.3 136.0h0M9.4 138.5h0M22.4 138.7h0M135.8 141.6h0M142.8 141.7h0M130.6 150.1h0M126.3 152.9h0M122.8 158.0h0M114.6 160.8h0M104.9 166.3h0M103.8 168.5h0M38.4 182.7h0M92.4 182.8h0M36.8 185.5h0M111.2 189.1h0M115.6 189.2h0M58.7 191.8h0M139.6 191.9h0M44.7 194.1h0M47.3 194.3h0M61.0 193.7h0M108.6 193.8h0M33.3 196.9h0M43.5 196.7h0M49.5 197.3h0M104.0 202.7h0M102.4 205.7h0M33.9 208.6h0M28.3 211.1h0" stroke="#ffbf00" stroke-width="5.6"/><path d="M18.5 104.6h0M35.3 105.6h0M12.6 110.8h0M16.1 110.9h0M21.7 110.6h0M11.5 113.6h0M20.4 113.1h0M24.0 113.0h0M-0.0 116.5h0M9.3 115.8h0M22.7 116.0h0M1.9 119.5h0M21.1 118.6h0M26.8 119.3h0M22.3 122.0h0M34.6 121.6h0M33.0 124.4h0M25.2 127.3h0M1.9 130.7h0M8.2 130.0h0M29.9 130.2h0M7.9 135.8h0M11.5 135.8h0M17.4 135.2h0M23.8 136.2h0M3.3 138.7h0M132.1 141.5h0M131.4 144.0h0M135.6 147.4h0M129.4 152.1h0M127.4 155.1h0M112.3 161.2h0M106.5 163.3h0M96.4 177.2h0M140.3 177.9h0M141.9 180.1h0M84.7 186.4h0M116.1 186.3h0M142.6 186.1h0M146.0 185.2h0M66.5 193.7h0M105.5 193.9h0M140.5 194.6h0M52.5 196.6h0M48.3 199.2h0M51.1 199.2h0M32.8 202.8h0M138.5 202.1h0M34.9 204.9h0M95.4 205.6h0M99.5 210.5h0M101.8 210.8h0M133.8 210.9h0" stroke="#ffaa00" stroke-width="5.6"/><path d="M28.2 105.3h0M28.6 110.6h0M1.7 113.3h0M2.5 115.9h0M24.9 116.8h0M3.6 122.2h0M16.3 121.4h0M13.7 124.8h0M0.0 127.0h0M2.7 127.3h0M8.9 127.0h0M15.5 127.6h0M22.7 127.1h0M10.8 130.3h0M14.3 130.2h0M16.8 130.1h0M6.4 133.5h0M12.8 133.4h0M16.0 133.0h0M14.3 135.2h0M137.5 138.2h0M134.7 143.5h0M138.8 146.8h0M132.4 152.1h0M124.9 155.3h0M126.1 157.8h0M118.7 160.6h0M102.3 171.6h0M105.9 172.3h0M94.8 179.7h0M125.9 180.6h0M147.5 183.5h0M81.9 185.7h0M88.0 186.2h0M73.8 188.8h0M146.9 188.4h0M71.5 191.1h0M142.8 191.9h0M143.6 194.7h0M101.1 197.0h0M35.0 199.2h0M54.8 199.6h0M95.9 199.8h0M99.1 200.3h0M140.7 199.7h0M98.9 204.9h0M35.1 210.8h0M105.2 210.9h0" stroke="#ff9500" stroke-width="5.6"/><path d="M5.7 116.1h0M4.4 118.9h0M8.3 119.6h0M11.2 118.6h0M17.1 124.3h0M6.7 127.0h0M12.1 127.8h0M4.6 130.1h0M0.2 132.9h0M138.9 141.4h0M137.5 144.6h0M140.3 143.6h0M132.1 146.5h0M142.0 146.4h0M137.3 149.5h0M130.6 155.0h0M120.9 160.8h0M110.1 163.7h0M116.0 163.9h0M112.0 166.5h0M114.9 166.8h0M100.6 174.7h0M99.4 176.9h0M134.2 177.8h0M143.3 177.8h0M147.5 177.4h0M78.1 186.3h0M90.5 186.4h0M106.5 191.3h0M70.1 193.8h0M40.1 197.0h0M46.1 197.5h0M141.6 196.6h0M97.0 202.2h0" stroke="#ff8000" stroke-width="5.6"/><path d="M0.1 122.3h0M4.8 124.7h0M142.7 152.9h0M136.9 155.7h0M143.3 155.4h0M129.5 157.9h0M118.1 166.0h0M107.4 169.7h0M115.3 172.3h0M107.3 174.4h0M102.0 177.9h0M137.2 178.0h0M94.7 185.8h0M110.6 186.3h0M113.4 185.4h0M148.6 185.8h0M74.8 191.5h0M144.9 191.8h0M101.8 193.8h0M149.9 194.2h0M56.1 197.0h0M93.7 196.5h0M97.1 196.7h0M45.1 200.1h0M93.0 199.3h0M36.4 202.0h0M49.5 202.1h0M58.6 202.3h0M94.0 203.1h0M92.0 205.1h0M36.5 208.2h0M97.9 208.6h0M95.8 210.6h0" stroke="#ff6a00" stroke-width="5.6"/><path d="M143.4 143.9h0M134.5 150.0h0M135.4 151.9h0M134.7 154.7h0M124.2 161.0h0M134.1 160.7h0M143.4 160.3h0M121.0 166.6h0M127.6 166.7h0M144.0 166.6h0M110.2 168.7h0M122.7 168.6h0M108.5 171.4h0M144.1 171.9h0M146.7 172.0h0M129.7 174.9h0M145.6 174.3h0M118.8 177.7h0M97.2 180.8h0M109.8 180.0h0M123.4 180.2h0M117.8 183.0h0M121.7 182.8h0M76.3 188.4h0M79.6 189.1h0M86.2 188.0h0M108.3 188.2h0M81.8 191.4h0M85.1 191.0h0M100.7 192.0h0M64.0 194.1h0M95.4 193.7h0M98.6 193.8h0M58.7 197.3h0M62.6 197.0h0M65.3 197.2h0M90.9 196.7h0M63.5 200.3h0M46.6 202.9h0M62.2 202.9h0M145.6 202.5h0M149.1 202.5h0M48.1 205.2h0M50.8 204.8h0M137.3 205.2h0M39.4 208.0h0M85.0 207.5h0M136.3 207.5h0M145.2 208.4h0M148.6 207.6h0M38.6 210.6h0M88.9 211.4h0M92.3 210.4h0" stroke="#ff5500" stroke-width="5.6"/><path d="M140.8 149.6h0M143.7 150.0h0M138.9 152.8h0M141.0 155.0h0M132.6 157.7h0M141.1 161.4h0M114.0 163.2h0M129.8 163.3h0M141.8 163.2h0M108.2 166.7h0M137.0 166.7h0M117.0 169.1h0M120.1 168.7h0M126.6 169.4h0M128.9 169.1h0M132.8 169.6h0M104.1 174.5h0M113.4 174.7h0M125.9 174.8h0M141.7 174.6h0M105.6 176.9h0M112.2 177.7h0M130.7 177.0h0M106.5 180.0h0M120.3 180.8h0M101.7 182.7h0M112.0 183.3h0M114.8 183.1h0M97.4 185.6h0M76.5 194.0h0M146.7 194.6h0M87.2 197.5h0M38.3 199.9h0M83.5 199.8h0M143.4 199.2h0M146.7 199.8h0M150.6 199.7h0M40.3 202.0h0M56.3 202.9h0M85.0 202.5h0M37.6 204.9h0M44.1 205.0h0M54.1 205.8h0M61.0 204.9h0M70.0 205.5h0M76.3 205.1h0M144.2 205.0h0M49.8 208.0h0M65.3 208.5h0M87.2 207.7h0M90.7 207.6h0M93.8 208.7h0M73.4 211.1h0M86.0 210.3h0" stroke="#ff4000" stroke-width="5.6"/><path d="M135.6 158.2h0M130.9 160.6h0M137.0 160.3h0M119.5 163.5h0M122.6 163.6h0M136.2 163.9h0M125.2 166.1h0M134.0 165.8h0M140.1 166.4h0M113.9 168.9h0M124.4 171.3h0M140.2 172.2h0M132.2 174.5h0M136.2 175.2h0M127.9 177.5h0M117.2 180.4h0M96.0 183.4h0M108.9 183.0h0M104.0 186.0h0M82.9 189.2h0M88.1 190.9h0M90.9 190.9h0M97.3 191.5h0M148.2 190.9h0M89.3 193.7h0M92.4 194.0h0M78.7 196.8h0M80.9 197.2h0M145.8 196.8h0M148.5 197.1h0M41.2 199.7h0M57.8 199.4h0M69.9 199.4h0M72.8 199.9h0M79.9 200.3h0M42.8 202.8h0M52.8 202.4h0M77.7 202.6h0M57.5 205.3h0M63.5 205.1h0M82.9 205.4h0M89.0 205.4h0M46.2 208.1h0M52.5 207.6h0M55.5 208.6h0M59.3 207.5h0M75.5 207.9h0M141.6 207.8h0M137.3 211.1h0M150.8 211.2h0" stroke="#ff2a00" stroke-width="5.6"/><path d="M138.4 157.8h0M142.0 158.3h0M128.2 161.3h0M139.3 164.0h0M146.0 163.3h0M131.6 166.0h0M141.7 169.7h0M144.9 168.7h0M111.5 171.9h0M118.2 171.8h0M127.8 172.5h0M134.2 171.7h0M137.8 172.2h0M110.1 175.1h0M116.9 174.1h0M115.1 177.4h0M124.4 177.4h0M100.9 180.3h0M103.5 180.1h0M113.5 180.2h0M99.1 183.4h0M104.9 182.8h0M101.1 186.3h0M89.0 188.7h0M95.4 189.1h0M98.6 188.2h0M102.6 188.4h0M105.6 188.2h0M78.5 191.8h0M103.9 190.8h0M73.3 194.5h0M82.5 193.8h0M60.5 199.5h0M77.0 200.2h0M81.7 202.8h0M87.3 202.4h0M90.4 202.3h0M142.2 202.5h0M66.7 205.0h0M79.9 205.0h0M86.7 205.0h0M140.9 205.2h0M147.0 204.8h0M68.7 208.1h0M72.3 208.6h0M80.9 207.9h0M138.9 207.7h0M41.7 210.4h0M50.6 211.0h0M54.7 211.3h0M60.1 210.6h0M83.2 210.5h0M140.1 210.7h0M144.2 210.4h0M146.8 211.4h0" stroke="#ff1500" stroke-width="5.6"/><path d="M126.2 163.8h0M132.7 163.9h0M135.6 169.5h0M139.2 168.9h0M121.9 171.3h0M131.0 172.2h0M119.8 174.8h0M122.5 174.7h0M138.5 174.6h0M108.6 178.0h0M121.5 177.5h0M107.3 186.0h0M92.3 189.1h0M93.7 191.6h0M80.0 194.0h0M85.6 194.7h0M69.2 197.2h0M71.7 197.0h0M75.6 196.5h0M84.4 196.6h0M66.5 199.3h0M88.8 199.3h0M75.6 202.0h0M41.5 205.3h0M73.2 205.0h0M150.0 205.2h0M43.6 207.8h0M44.2 210.6h0M48.1 210.8h0M63.3 211.4h0M67.4 210.8h0M69.6 211.3h0M76.3 210.8h0M80.4 210.5h0" stroke="#ff0000" stroke-width="5.6"/><path d="M85.8 200.1h0M65.9 201.9h0M68.4 202.2h0M71.8 202.5h0M62.6 208.2h0M78.8 207.9h0M57.1 210.5h0" stroke="#ea0000" stroke-width="5.6"/></g></g>
<use href="#map" transform="translate(195.5,96.5) scale(1.00000,1.00094)"/>
<rect x="195.5" y="96.5" width="234.0" height="213.0" fill="none" stroke="#000" stroke-width="1"/>
<g transform="translate(616.5,96.5) scale(1.00000,1.00094)"><path d="M-1.2 -1.7L127.3 -1.7L134.3 63.7L138.3 106L145.7 151.5L152.3 204.5L152.7 214.1L17.8 214.1L-1.2 147Z" fill="#0000a3"/><g fill="none" stroke-linecap="round"><path d="M1.3 -2.1h0M10.3 -1.9h0M19.5 -2.0h0M22.5 -2.0h0M25.5 -2.1h0M28.2 -2.0h0M31.5 -1.9h0M40.6 -1.9h0M55.3 -2.1h0M58.6 -2.0h0M61.5 -1.9h0M64.3 -2.0h0M67.6 -2.1h0M70.3 -2.0h0M76.5 -1.9h0M85.5 -2.0h0M94.6 -1.9h0M100.2 -2.1h0M109.2 -2.0h0M112.6 -1.9h0M115.4 -2.1h0M118.4 -2.1h0M121.6 -2.1h0M127.3 -1.9h0M-1.5 2.9h0M-1.5 8.3h0M129.0 11.0h0M-1.4 13.7h0M128.7 16.2h0M-1.5 18.8h0M130.3 24.1h0M130.3 29.1h0M-1.6 39.7h0M132.1 42.1h0M-1.4 49.9h0M133.5 55.3h0M133.4 60.4h0M-1.5 65.9h0M135.0 68.4h0M134.8 73.5h0M-1.6 81.2h0M136.3 81.4h0M-1.4 86.5h0M136.6 86.5h0M-1.5 91.9h0M-1.4 97.0h0M137.8 99.8h0M138.1 104.7h0M-1.5 107.4h0M139.5 112.6h0M141.0 120.4h0M-1.5 123.3h0M-1.5 133.6h0M142.2 133.7h0M143.8 141.6h0M145.6 149.2h0M-0.0 151.8h0M1.5 154.7h0M3.0 162.2h0M147.0 162.3h0M4.2 165.1h0M6.0 172.6h0M7.5 175.6h0M148.5 175.2h0M9.0 183.3h0M149.9 188.4h0M12.1 193.7h0M13.4 196.2h0M151.2 196.2h0M14.7 203.9h0M16.4 206.7h0" stroke="#0000aa" stroke-width="3.0"/></g><path d="M62.4 213.3L66.3 204.6L73.1 196.8L80.8 190.1L87.6 185.2L95.4 182.3L104.1 181.3L111.8 176.5L119.6 170.7L129.3 167.8L139.0 165.8L146.7 164.9L147.7 170.7L144.8 179.4L137.0 185.2L129.3 189.1L117.6 193.0L109.9 196.8L102.1 199.7L94.4 202.7L88.6 206.5L82.8 212.3L76.0 215.2L65.3 215.2Z" fill="#a00000"/><ellipse cx="88" cy="197" rx="5" ry="2.2" fill="#0000a3"/><ellipse cx="104" cy="193" rx="5" ry="1.8" fill="#1030d0"/><ellipse cx="127" cy="181" rx="4" ry="1.8" fill="#0000a3"/><ellipse cx="74" cy="209" rx="2.5" ry="2" fill="#0000a3"/><ellipse cx="115" cy="186" rx="3" ry="1.5" fill="#1030d0"/><ellipse cx="129" cy="159.5" rx="8" ry="3.8" fill="#a00000"/><ellipse cx="137.5" cy="208" rx="6.5" ry="3.5" fill="#a00000"/><circle cx="63.4" cy="208.5" r="2.2" fill="#20e8ff"/><circle cx="65" cy="204" r="2" fill="#20e8ff"/><circle cx="67.3" cy="200.7" r="2.2" fill="#20e8ff"/><circle cx="70" cy="197" r="2" fill="#20e8ff"/><circle cx="72.1" cy="194" r="2" fill="#20e8ff"/><circle cx="77.9" cy="189.1" r="1.8" fill="#20e8ff"/><circle cx="89.5" cy="183.3" r="2" fill="#ffa000"/><circle cx="92.4" cy="178.4" r="2" fill="#20e8ff"/><circle cx="98.3" cy="174.6" r="2" fill="#20e8ff"/><circle cx="102.1" cy="172.6" r="1.6" fill="#20e8ff"/><circle cx="98.3" cy="189.1" r="2.2" fill="#f0f000"/><circle cx="104.1" cy="190.1" r="2" fill="#f0f000"/><circle cx="94" cy="190" r="1.6" fill="#ffa000"/><circle cx="85.7" cy="205.6" r="1.8" fill="#f0f000"/><circle cx="117" cy="164" r="1.8" fill="#20e8ff"/><circle cx="121" cy="164.5" r="1.8" fill="#f0f000"/><circle cx="125" cy="164" r="1.6" fill="#20e8ff"/><circle cx="129" cy="165.5" r="1.8" fill="#f0f000"/><circle cx="134" cy="165" r="1.8" fill="#20e8ff"/><circle cx="138" cy="165" r="1.6" fill="#f0f000"/><circle cx="139" cy="155" r="2.2" fill="#20e8ff"/><circle cx="137" cy="143" r="1.8" fill="#f0f000"/><circle cx="138" cy="139" r="1.6" fill="#20e8ff"/><circle cx="135" cy="182" r="2.2" fill="#ffa000"/><circle cx="140" cy="182" r="2" fill="#f0f000"/><circle cx="107" cy="212.3" r="2" fill="#f0f000"/><circle cx="84" cy="213" r="1.6" fill="#f0f000"/><circle cx="48" cy="209" r="1.8" fill="#20e8ff"/><circle cx="42" cy="204" r="1.6" fill="#20e8ff"/><circle cx="58" cy="212" r="2" fill="#2060ff"/><circle cx="112" cy="199" r="1.5" fill="#20e8ff"/><circle cx="118" cy="196" r="1.6" fill="#2060ff"/><circle cx="108" cy="171" r="1.4" fill="#20e8ff"/><circle cx="124" cy="143" r="1.4" fill="#f0f000"/><circle cx="127" cy="147" r="1.4" fill="#20e8ff"/></g>
<use href="#map" transform="translate(616.5,96.5) scale(1.00000,1.00094)"/>
<rect x="616.5" y="96.5" width="234.0" height="213.0" fill="none" stroke="#000" stroke-width="1"/>
<g transform="translate(1037.5,95.5) scale(1.00427,1.01034)"><g fill="none" stroke-linecap="round"><path d="M38.4 -2.0h0" stroke="#0019ff" stroke-width="8.4"/><path d="M28.1 2.7h0" stroke="#0038ff" stroke-width="8.4"/><path d="M33.1 2.5h0" stroke="#0000fa" stroke-width="8.4"/><path d="M35.9 1.7h0M42.9 1.8h0M30.0 6.9h0" stroke="#0038ff" stroke-width="8.4"/><path d="M33.8 7.1h0M40.2 6.6h0" stroke="#0000fa" stroke-width="8.4"/><path d="M44.2 6.1h0" stroke="#0038ff" stroke-width="8.4"/><path d="M27.9 11.6h0" stroke="#004dff" stroke-width="8.4"/><path d="M32.3 10.0h0M36.8 11.7h0" stroke="#0038ff" stroke-width="8.4"/><path d="M43.0 10.9h0" stroke="#0019ff" stroke-width="8.4"/><path d="M47.6 11.2h0" stroke="#004dff" stroke-width="8.4"/><path d="M28.9 15.9h0" stroke="#0019ff" stroke-width="8.4"/><path d="M33.4 15.9h0" stroke="#0038ff" stroke-width="8.4"/><path d="M40.7 16.2h0M45.0 16.3h0" stroke="#004dff" stroke-width="8.4"/><path d="M48.4 15.3h0M26.3 19.2h0" stroke="#0038ff" stroke-width="8.4"/><path d="M31.8 20.8h0" stroke="#0000fa" stroke-width="8.4"/><path d="M36.0 19.6h0" stroke="#0038ff" stroke-width="8.4"/><path d="M41.5 18.9h0M47.9 19.2h0" stroke="#0000fa" stroke-width="8.4"/><path d="M29.9 22.9h0M33.7 23.6h0M39.3 23.8h0M44.1 23.2h0" stroke="#0038ff" stroke-width="8.4"/><path d="M50.6 24.5h0" stroke="#0019ff" stroke-width="8.4"/><path d="M36.7 28.4h0" stroke="#0000fa" stroke-width="8.4"/><path d="M40.9 27.4h0M46.9 27.5h0M50.9 27.3h0" stroke="#0038ff" stroke-width="8.4"/><path d="M39.7 32.7h0" stroke="#0019ff" stroke-width="8.4"/><path d="M45.3 34.0h0" stroke="#0000fa" stroke-width="8.4"/><path d="M49.5 32.3h0" stroke="#0038ff" stroke-width="8.4"/><path d="M53.5 32.4h0" stroke="#004dff" stroke-width="8.4"/><path d="M47.6 36.7h0" stroke="#0019ff" stroke-width="8.4"/><path d="M52.5 36.6h0" stroke="#004dff" stroke-width="8.4"/><path d="M50.2 40.8h0" stroke="#0000fa" stroke-width="8.4"/><path d="M54.2 40.4h0M48.1 44.8h0" stroke="#0019ff" stroke-width="8.4"/><path d="M51.3 45.1h0" stroke="#0038ff" stroke-width="8.4"/><path d="M50.4 50.0h0" stroke="#004dff" stroke-width="8.4"/><path d="M53.5 51.3h0" stroke="#0000fa" stroke-width="8.4"/><path d="M52.2 54.5h0" stroke="#004dff" stroke-width="8.4"/><path d="M52.5 2.7h0" stroke="#0038ff" stroke-width="8.4"/><path d="M57.3 3.3h0" stroke="#0061ff" stroke-width="8.4"/><path d="M61.6 2.4h0M67.4 3.0h0" stroke="#004dff" stroke-width="8.4"/><path d="M49.4 6.8h0" stroke="#0038ff" stroke-width="8.4"/><path d="M54.7 5.8h0M58.4 6.2h0M64.0 6.8h0" stroke="#004dff" stroke-width="8.4"/><path d="M68.9 7.0h0" stroke="#0061ff" stroke-width="8.4"/><path d="M52.4 12.1h0" stroke="#0080ff" stroke-width="8.4"/><path d="M57.5 12.0h0" stroke="#0061ff" stroke-width="8.4"/><path d="M62.3 10.2h0" stroke="#004dff" stroke-width="8.4"/><path d="M66.2 10.6h0" stroke="#0061ff" stroke-width="8.4"/><path d="M53.4 14.5h0M58.3 16.5h0" stroke="#0038ff" stroke-width="8.4"/><path d="M64.9 14.6h0" stroke="#0061ff" stroke-width="8.4"/><path d="M68.2 15.2h0" stroke="#0038ff" stroke-width="8.4"/><path d="M51.4 18.6h0" stroke="#0080ff" stroke-width="8.4"/><path d="M56.5 19.3h0" stroke="#004dff" stroke-width="8.4"/><path d="M60.6 20.8h0" stroke="#0061ff" stroke-width="8.4"/><path d="M67.6 18.8h0" stroke="#0080ff" stroke-width="8.4"/><path d="M71.0 20.7h0" stroke="#0061ff" stroke-width="8.4"/><path d="M53.2 25.1h0" stroke="#0038ff" stroke-width="8.4"/><path d="M59.5 23.1h0M64.7 23.3h0M68.4 22.9h0" stroke="#004dff" stroke-width="8.4"/><path d="M57.5 27.9h0" stroke="#0061ff" stroke-width="8.4"/><path d="M60.4 29.0h0" stroke="#004dff" stroke-width="8.4"/><path d="M67.6 27.9h0" stroke="#0061ff" stroke-width="8.4"/><path d="M70.8 28.0h0" stroke="#0080ff" stroke-width="8.4"/><path d="M57.8 32.8h0" stroke="#0061ff" stroke-width="8.4"/><path d="M64.0 32.2h0M68.1 33.6h0M74.4 32.9h0" stroke="#0038ff" stroke-width="8.4"/><path d="M57.0 36.3h0" stroke="#0080ff" stroke-width="8.4"/><path d="M62.7 38.0h0" stroke="#004dff" stroke-width="8.4"/><path d="M65.5 37.7h0" stroke="#0080ff" stroke-width="8.4"/><path d="M71.3 36.1h0" stroke="#0038ff" stroke-width="8.4"/><path d="M58.4 42.6h0M63.4 42.6h0M68.3 40.7h0" stroke="#0080ff" stroke-width="8.4"/><path d="M73.7 41.4h0M56.2 45.4h0M60.5 46.9h0" stroke="#0061ff" stroke-width="8.4"/><path d="M66.9 46.4h0M72.1 46.4h0" stroke="#0038ff" stroke-width="8.4"/><path d="M75.7 46.4h0M54.6 50.9h0" stroke="#0061ff" stroke-width="8.4"/><path d="M60.0 50.8h0" stroke="#004dff" stroke-width="8.4"/><path d="M64.8 50.4h0" stroke="#0061ff" stroke-width="8.4"/><path d="M68.0 49.1h0" stroke="#0080ff" stroke-width="8.4"/><path d="M75.1 49.9h0" stroke="#0038ff" stroke-width="8.4"/><path d="M57.2 55.1h0" stroke="#004dff" stroke-width="8.4"/><path d="M61.9 53.5h0" stroke="#0038ff" stroke-width="8.4"/><path d="M65.9 53.5h0" stroke="#0080ff" stroke-width="8.4"/><path d="M70.9 55.2h0" stroke="#0061ff" stroke-width="8.4"/><path d="M77.1 55.7h0" stroke="#0038ff" stroke-width="8.4"/><path d="M76.9 -1.7h0" stroke="#00b2ff" stroke-width="8.4"/><path d="M70.0 2.5h0M75.5 2.3h0" stroke="#009eff" stroke-width="8.4"/><path d="M81.0 2.8h0M74.2 6.8h0" stroke="#00c7ff" stroke-width="8.4"/><path d="M79.1 7.7h0" stroke="#009eff" stroke-width="8.4"/><path d="M82.5 5.7h0" stroke="#0080ff" stroke-width="8.4"/><path d="M71.5 12.1h0" stroke="#009eff" stroke-width="8.4"/><path d="M75.7 10.2h0M81.6 10.2h0" stroke="#00c7ff" stroke-width="8.4"/><path d="M73.0 14.3h0" stroke="#009eff" stroke-width="8.4"/><path d="M79.1 15.8h0" stroke="#0080ff" stroke-width="8.4"/><path d="M82.5 14.5h0" stroke="#00c7ff" stroke-width="8.4"/><path d="M75.1 19.5h0" stroke="#00b2ff" stroke-width="8.4"/><path d="M81.0 20.7h0" stroke="#00c7ff" stroke-width="8.4"/><path d="M84.9 18.7h0" stroke="#0080ff" stroke-width="8.4"/><path d="M77.5 23.0h0" stroke="#009eff" stroke-width="8.4"/><path d="M81.9 24.5h0" stroke="#00b2ff" stroke-width="8.4"/><path d="M75.2 29.5h0" stroke="#009eff" stroke-width="8.4"/><path d="M81.2 28.8h0" stroke="#00b2ff" stroke-width="8.4"/><path d="M86.0 27.4h0" stroke="#0080ff" stroke-width="8.4"/><path d="M76.9 33.8h0" stroke="#00b2ff" stroke-width="8.4"/><path d="M82.2 32.6h0M87.5 33.4h0" stroke="#00c7ff" stroke-width="8.4"/><path d="M79.6 37.5h0" stroke="#009eff" stroke-width="8.4"/><path d="M84.8 38.1h0" stroke="#0080ff" stroke-width="8.4"/><path d="M77.8 41.6h0" stroke="#00b2ff" stroke-width="8.4"/><path d="M82.0 41.1h0" stroke="#009eff" stroke-width="8.4"/><path d="M87.6 41.2h0" stroke="#00b2ff" stroke-width="8.4"/><path d="M80.6 45.6h0M86.1 45.8h0" stroke="#00c7ff" stroke-width="8.4"/><path d="M82.4 50.0h0" stroke="#0080ff" stroke-width="8.4"/><path d="M87.8 49.7h0M81.6 54.5h0" stroke="#009eff" stroke-width="8.4"/><path d="M85.2 55.6h0" stroke="#0080ff" stroke-width="8.4"/><path d="M15.1 -0.5h0" stroke="#80ff80" stroke-width="8.4"/><path d="M4.8 5.1h0M12.8 3.4h0M16.4 36.6h0" stroke="#4dffb2" stroke-width="8.4"/><path d="M5.8 40.6h0M12.1 40.5h0" stroke="#b3ff4c" stroke-width="8.4"/><path d="M17.5 41.3h0" stroke="#1affe5" stroke-width="8.4"/><path d="M11.0 45.7h0" stroke="#b3ff4c" stroke-width="8.4"/><path d="M15.2 45.7h0" stroke="#1affe5" stroke-width="8.4"/><path d="M7.6 51.1h0" stroke="#4dffb2" stroke-width="8.4"/><path d="M12.1 52.8h0M17.7 50.8h0" stroke="#1affe5" stroke-width="8.4"/><path d="M5.3 56.1h0" stroke="#4dffb2" stroke-width="8.4"/><path d="M10.6 57.5h0M16.5 56.0h0" stroke="#e5ff1a" stroke-width="8.4"/><path d="M7.7 62.1h0M13.0 61.2h0" stroke="#80ff80" stroke-width="8.4"/><path d="M18.2 61.3h0" stroke="#e5ff1a" stroke-width="8.4"/><path d="M10.3 68.5h0" stroke="#1affe5" stroke-width="8.4"/><path d="M15.8 67.8h0" stroke="#b3ff4c" stroke-width="8.4"/><path d="M44.9 60.9h0M52.7 59.8h0" stroke="#4dffb2" stroke-width="8.4"/><path d="M59.6 60.6h0" stroke="#80ff80" stroke-width="8.4"/><path d="M67.9 61.0h0" stroke="#4dffb2" stroke-width="8.4"/><path d="M41.8 63.8h0M47.6 65.7h0M57.9 67.0h0" stroke="#b3ff4c" stroke-width="8.4"/><path d="M62.2 63.1h0" stroke="#80ff80" stroke-width="8.4"/><path d="M47.5 71.4h0" stroke="#4dffb2" stroke-width="8.4"/><path d="M52.5 72.3h0" stroke="#80ff80" stroke-width="8.4"/><path d="M61.3 70.9h0" stroke="#1affe5" stroke-width="8.4"/><path d="M67.8 70.0h0" stroke="#b3ff4c" stroke-width="8.4"/><path d="M85.6 57.2h0" stroke="#00e5ff" stroke-width="8.4"/><path d="M72.3 64.6h0M80.8 61.2h0" stroke="#4dffb2" stroke-width="8.4"/><path d="M89.5 62.3h0" stroke="#2effd1" stroke-width="8.4"/><path d="M97.0 63.8h0" stroke="#4dffb2" stroke-width="8.4"/><path d="M71.7 69.1h0" stroke="#2effd1" stroke-width="8.4"/><path d="M76.1 68.9h0M86.9 69.8h0M95.2 71.6h0" stroke="#00e5ff" stroke-width="8.4"/><path d="M97.5 0.3h0" stroke="#ff8000" stroke-width="8.4"/><path d="M106.0 -0.2h0" stroke="#4dffb2" stroke-width="8.4"/><path d="M110.2 0.1h0" stroke="#ffb300" stroke-width="8.4"/><path d="M116.6 -0.2h0M95.0 3.9h0" stroke="#80ff80" stroke-width="8.4"/><path d="M101.9 4.4h0" stroke="#e5ff1a" stroke-width="8.4"/><path d="M109.4 5.4h0M113.3 3.0h0" stroke="#80ff80" stroke-width="8.4"/><path d="M119.8 5.7h0M125.0 3.1h0" stroke="#ffb300" stroke-width="8.4"/><path d="M93.4 10.0h0" stroke="#4dffb2" stroke-width="8.4"/><path d="M100.0 9.9h0" stroke="#80ff80" stroke-width="8.4"/><path d="M105.8 8.8h0M111.2 9.1h0" stroke="#ff8000" stroke-width="8.4"/><path d="M116.1 8.7h0" stroke="#e5ff1a" stroke-width="8.4"/><path d="M122.2 8.8h0" stroke="#4dffb2" stroke-width="8.4"/><path d="M95.1 13.4h0" stroke="#ff8000" stroke-width="8.4"/><path d="M103.5 14.7h0" stroke="#e5ff1a" stroke-width="8.4"/><path d="M108.4 13.5h0M115.5 13.5h0M121.1 13.9h0M110.6 21.0h0" stroke="#ffb300" stroke-width="8.4"/><path d="M117.3 20.7h0" stroke="#80ff80" stroke-width="8.4"/><path d="M121.8 20.2h0M99.9 27.2h0" stroke="#4dffb2" stroke-width="8.4"/><path d="M105.5 25.3h0" stroke="#05fffa" stroke-width="8.4"/><path d="M109.7 24.8h0" stroke="#4dffb2" stroke-width="8.4"/><path d="M96.1 30.1h0" stroke="#2effd1" stroke-width="8.4"/><path d="M102.9 31.9h0M108.4 30.2h0" stroke="#80ff80" stroke-width="8.4"/><path d="M113.7 30.8h0" stroke="#05fffa" stroke-width="8.4"/><path d="M99.5 36.4h0" stroke="#2effd1" stroke-width="8.4"/><path d="M104.4 36.9h0M110.7 35.2h0" stroke="#05fffa" stroke-width="8.4"/><path d="M96.4 41.6h0" stroke="#4dffb2" stroke-width="8.4"/><path d="M101.1 40.4h0" stroke="#80ff80" stroke-width="8.4"/><path d="M107.8 42.8h0" stroke="#4dffb2" stroke-width="8.4"/><path d="M99.8 46.0h0" stroke="#2effd1" stroke-width="8.4"/><path d="M105.2 47.5h0" stroke="#4dffb2" stroke-width="8.4"/><path d="M109.8 47.5h0M96.7 51.3h0" stroke="#05fffa" stroke-width="8.4"/><path d="M101.3 52.4h0" stroke="#2effd1" stroke-width="8.4"/><path d="M106.8 52.3h0" stroke="#80ff80" stroke-width="8.4"/><path d="M113.4 53.3h0M100.4 57.5h0M105.3 57.9h0" stroke="#2effd1" stroke-width="8.4"/><path d="M112.2 57.9h0" stroke="#80ff80" stroke-width="8.4"/><path d="M113.8 21.7h0" stroke="#0061ff" stroke-width="8.4"/><path d="M118.3 21.7h0M128.3 21.0h0" stroke="#0080ff" stroke-width="8.4"/><path d="M115.7 24.6h0M121.6 24.7h0M126.7 25.7h0M114.2 28.9h0" stroke="#0061ff" stroke-width="8.4"/><path d="M118.4 30.4h0" stroke="#0080ff" stroke-width="8.4"/><path d="M123.8 29.3h0" stroke="#009eff" stroke-width="8.4"/><path d="M128.4 30.0h0" stroke="#0080ff" stroke-width="8.4"/><path d="M116.0 33.4h0M121.2 34.0h0" stroke="#009eff" stroke-width="8.4"/><path d="M125.9 34.3h0M114.2 39.0h0M117.7 37.7h0" stroke="#0080ff" stroke-width="8.4"/><path d="M123.2 39.0h0M128.5 37.5h0" stroke="#0061ff" stroke-width="8.4"/><path d="M115.3 43.6h0" stroke="#0080ff" stroke-width="8.4"/><path d="M121.6 42.8h0" stroke="#009eff" stroke-width="8.4"/><path d="M126.5 43.5h0" stroke="#0061ff" stroke-width="8.4"/><path d="M114.4 46.4h0M119.5 47.6h0" stroke="#009eff" stroke-width="8.4"/><path d="M122.9 48.1h0" stroke="#0080ff" stroke-width="8.4"/><path d="M128.1 47.7h0M116.4 51.9h0" stroke="#009eff" stroke-width="8.4"/><path d="M120.1 51.2h0M125.3 52.2h0M114.3 55.7h0" stroke="#0080ff" stroke-width="8.4"/><path d="M118.5 56.6h0M123.7 56.0h0M128.1 54.9h0" stroke="#009eff" stroke-width="8.4"/><path d="M115.8 60.4h0" stroke="#0080ff" stroke-width="8.4"/><path d="M121.4 60.9h0" stroke="#009eff" stroke-width="8.4"/><path d="M126.6 59.7h0" stroke="#0061ff" stroke-width="8.4"/><path d="M104.1 69.8h0" stroke="#ff8000" stroke-width="8.4"/><path d="M110.0 69.1h0M94.5 74.6h0" stroke="#faff05" stroke-width="8.4"/><path d="M102.5 75.4h0" stroke="#ffb300" stroke-width="8.4"/><path d="M106.8 73.4h0" stroke="#ff4c00" stroke-width="8.4"/><path d="M95.2 82.5h0M103.2 83.0h0" stroke="#ffb300" stroke-width="8.4"/><path d="M92.4 86.4h0" stroke="#faff05" stroke-width="8.4"/><path d="M100.2 86.7h0M106.0 86.2h0" stroke="#ff8000" stroke-width="8.4"/><path d="M96.4 91.8h0M104.1 93.0h0" stroke="#ffb300" stroke-width="8.4"/><path d="M117.9 69.3h0" stroke="#ff6100" stroke-width="8.4"/><path d="M114.7 72.2h0" stroke="#ff8000" stroke-width="8.4"/><path d="M121.7 72.5h0" stroke="#ff6100" stroke-width="8.4"/><path d="M120.2 78.7h0M125.3 78.5h0" stroke="#ff8000" stroke-width="8.4"/><path d="M115.2 84.9h0M120.7 82.2h0" stroke="#ff6100" stroke-width="8.4"/><path d="M22.3 74.2h0" stroke="#ff8000" stroke-width="8.4"/><path d="M30.6 72.1h0" stroke="#2effd1" stroke-width="8.4"/><path d="M10.1 78.2h0" stroke="#b3ff4c" stroke-width="8.4"/><path d="M15.3 80.5h0M27.6 77.4h0M5.2 87.5h0" stroke="#2effd1" stroke-width="8.4"/><path d="M11.4 90.1h0M20.7 85.4h0M33.0 89.8h0" stroke="#b3ff4c" stroke-width="8.4"/><path d="M9.6 94.3h0" stroke="#2effd1" stroke-width="8.4"/><path d="M18.4 97.6h0" stroke="#b3ff4c" stroke-width="8.4"/><path d="M25.5 97.6h0M23.7 101.8h0" stroke="#ff8000" stroke-width="8.4"/><path d="M32.2 102.5h0" stroke="#2effd1" stroke-width="8.4"/><path d="M39.2 75.4h0" stroke="#4dffb2" stroke-width="8.4"/><path d="M42.9 76.0h0" stroke="#05fffa" stroke-width="8.4"/><path d="M53.7 75.2h0" stroke="#00b2ff" stroke-width="8.4"/><path d="M63.3 75.2h0" stroke="#2effd1" stroke-width="8.4"/><path d="M71.8 76.3h0" stroke="#00b2ff" stroke-width="8.4"/><path d="M34.1 78.3h0M41.1 80.1h0" stroke="#05fffa" stroke-width="8.4"/><path d="M46.6 80.1h0" stroke="#2effd1" stroke-width="8.4"/><path d="M51.5 80.3h0" stroke="#05fffa" stroke-width="8.4"/><path d="M56.6 80.1h0" stroke="#ff8000" stroke-width="8.4"/><path d="M59.3 78.5h0M64.1 80.7h0" stroke="#05fffa" stroke-width="8.4"/><path d="M71.5 79.7h0" stroke="#00b2ff" stroke-width="8.4"/><path d="M75.4 78.2h0" stroke="#2effd1" stroke-width="8.4"/><path d="M37.3 83.3h0M41.6 84.5h0" stroke="#00b2ff" stroke-width="8.4"/><path d="M48.8 84.0h0" stroke="#ff8000" stroke-width="8.4"/><path d="M54.1 84.1h0" stroke="#05fffa" stroke-width="8.4"/><path d="M58.9 82.3h0" stroke="#4dffb2" stroke-width="8.4"/><path d="M63.8 83.2h0M68.1 82.8h0" stroke="#05fffa" stroke-width="8.4"/><path d="M73.2 83.1h0" stroke="#ff8000" stroke-width="8.4"/><path d="M76.5 82.8h0" stroke="#05fffa" stroke-width="8.4"/><path d="M34.0 88.0h0M41.1 89.0h0" stroke="#ff8000" stroke-width="8.4"/><path d="M45.8 89.4h0" stroke="#4dffb2" stroke-width="8.4"/><path d="M49.8 89.4h0" stroke="#00b2ff" stroke-width="8.4"/><path d="M56.4 89.4h0" stroke="#2effd1" stroke-width="8.4"/><path d="M60.5 86.9h0" stroke="#05fffa" stroke-width="8.4"/><path d="M65.5 89.5h0" stroke="#4dffb2" stroke-width="8.4"/><path d="M71.4 88.4h0" stroke="#00b2ff" stroke-width="8.4"/><path d="M74.3 89.3h0" stroke="#05fffa" stroke-width="8.4"/><path d="M37.6 91.8h0M44.2 92.4h0M49.4 92.8h0" stroke="#ff8000" stroke-width="8.4"/><path d="M51.9 92.7h0" stroke="#4dffb2" stroke-width="8.4"/><path d="M58.4 91.9h0" stroke="#00b2ff" stroke-width="8.4"/><path d="M63.1 93.5h0" stroke="#ff8000" stroke-width="8.4"/><path d="M68.5 93.1h0" stroke="#2effd1" stroke-width="8.4"/><path d="M72.9 93.0h0" stroke="#00b2ff" stroke-width="8.4"/><path d="M78.2 91.3h0" stroke="#ff8000" stroke-width="8.4"/><path d="M35.9 97.3h0M39.6 96.2h0" stroke="#4dffb2" stroke-width="8.4"/><path d="M44.5 95.7h0" stroke="#2effd1" stroke-width="8.4"/><path d="M51.2 97.1h0" stroke="#00b2ff" stroke-width="8.4"/><path d="M54.5 96.2h0" stroke="#2effd1" stroke-width="8.4"/><path d="M59.8 98.1h0" stroke="#05fffa" stroke-width="8.4"/><path d="M64.5 97.2h0" stroke="#2effd1" stroke-width="8.4"/><path d="M70.2 98.2h0" stroke="#00b2ff" stroke-width="8.4"/><path d="M76.2 96.6h0" stroke="#2effd1" stroke-width="8.4"/><path d="M37.3 102.3h0M41.6 100.8h0" stroke="#ff8000" stroke-width="8.4"/><path d="M48.6 101.1h0" stroke="#00b2ff" stroke-width="8.4"/><path d="M52.9 100.0h0" stroke="#4dffb2" stroke-width="8.4"/><path d="M58.7 99.6h0" stroke="#2effd1" stroke-width="8.4"/><path d="M64.2 100.9h0" stroke="#4dffb2" stroke-width="8.4"/><path d="M68.3 101.5h0" stroke="#2effd1" stroke-width="8.4"/><path d="M73.5 101.6h0" stroke="#4dffb2" stroke-width="8.4"/><path d="M35.9 105.3h0" stroke="#00b2ff" stroke-width="8.4"/><path d="M39.8 106.1h0" stroke="#ff8000" stroke-width="8.4"/><path d="M44.7 105.2h0" stroke="#2effd1" stroke-width="8.4"/><path d="M49.8 105.2h0" stroke="#ff8000" stroke-width="8.4"/><path d="M54.1 106.5h0" stroke="#4dffb2" stroke-width="8.4"/><path d="M61.0 106.7h0" stroke="#2effd1" stroke-width="8.4"/><path d="M66.7 104.9h0M70.2 105.4h0" stroke="#05fffa" stroke-width="8.4"/><path d="M74.1 105.6h0" stroke="#2effd1" stroke-width="8.4"/><path d="M80.1 77.3h0" stroke="#1affe5" stroke-width="8.4"/><path d="M97.4 75.2h0" stroke="#2effd1" stroke-width="8.4"/><path d="M83.4 80.4h0M92.6 82.4h0" stroke="#ff8000" stroke-width="8.4"/><path d="M87.5 92.0h0" stroke="#1affe5" stroke-width="8.4"/><path d="M98.1 91.2h0" stroke="#2effd1" stroke-width="8.4"/><path d="M81.3 97.4h0M90.3 96.4h0" stroke="#ff8000" stroke-width="8.4"/><path d="M79.6 107.2h0M86.8 104.9h0" stroke="#2effd1" stroke-width="8.4"/><path d="M111.9 101.0h0" stroke="#ff8000" stroke-width="8.4"/><path d="M115.2 104.7h0" stroke="#ff6100" stroke-width="8.4"/><path d="M123.3 104.5h0M118.2 111.4h0M125.4 114.3h0M1.6 105.6h0" stroke="#ff8000" stroke-width="8.4"/><path d="M11.9 105.9h0M3.9 109.8h0" stroke="#b3ff4c" stroke-width="8.4"/><path d="M7.5 108.8h0" stroke="#ff8000" stroke-width="8.4"/><path d="M12.2 110.3h0M19.4 108.3h0" stroke="#b3ff4c" stroke-width="8.4"/><path d="M23.9 107.9h0" stroke="#4dffb2" stroke-width="8.4"/><path d="M5.4 114.0h0" stroke="#1affe5" stroke-width="8.4"/><path d="M9.9 112.9h0M15.5 112.7h0" stroke="#ff8000" stroke-width="8.4"/><path d="M21.9 112.7h0M4.9 116.8h0" stroke="#1affe5" stroke-width="8.4"/><path d="M9.4 119.1h0" stroke="#2effd1" stroke-width="8.4"/><path d="M13.5 117.2h0M19.2 117.9h0" stroke="#4dffb2" stroke-width="8.4"/><path d="M23.7 117.3h0" stroke="#2effd1" stroke-width="8.4"/><path d="M2.0 122.3h0" stroke="#1affe5" stroke-width="8.4"/><path d="M4.7 122.3h0M11.6 121.6h0" stroke="#2effd1" stroke-width="8.4"/><path d="M16.1 123.5h0" stroke="#4dffb2" stroke-width="8.4"/><path d="M20.0 121.9h0" stroke="#1affe5" stroke-width="8.4"/><path d="M3.5 126.1h0" stroke="#ff8000" stroke-width="8.4"/><path d="M8.1 126.5h0M12.5 126.3h0" stroke="#4dffb2" stroke-width="8.4"/><path d="M17.1 125.4h0" stroke="#b3ff4c" stroke-width="8.4"/><path d="M24.4 125.5h0" stroke="#ff8000" stroke-width="8.4"/><path d="M4.6 131.8h0" stroke="#2effd1" stroke-width="8.4"/><path d="M10.5 132.2h0" stroke="#b3ff4c" stroke-width="8.4"/><path d="M15.5 131.9h0" stroke="#1affe5" stroke-width="8.4"/><path d="M21.8 130.2h0" stroke="#ff8000" stroke-width="8.4"/><path d="M3.0 134.7h0" stroke="#4dffb2" stroke-width="8.4"/><path d="M9.5 134.8h0" stroke="#ff8000" stroke-width="8.4"/><path d="M13.2 135.5h0" stroke="#b3ff4c" stroke-width="8.4"/><path d="M19.6 135.0h0" stroke="#2effd1" stroke-width="8.4"/><path d="M24.0 136.3h0" stroke="#b3ff4c" stroke-width="8.4"/><path d="M4.9 141.2h0" stroke="#4dffb2" stroke-width="8.4"/><path d="M11.9 138.4h0" stroke="#1affe5" stroke-width="8.4"/><path d="M17.2 139.9h0M20.7 138.6h0" stroke="#4dffb2" stroke-width="8.4"/><path d="M30.3 105.5h0M36.2 105.3h0" stroke="#00b2ff" stroke-width="8.4"/><path d="M38.9 105.5h0" stroke="#4dffb2" stroke-width="8.4"/><path d="M45.3 105.5h0" stroke="#05fffa" stroke-width="8.4"/><path d="M48.6 105.4h0M65.8 106.2h0" stroke="#4dffb2" stroke-width="8.4"/><path d="M68.5 106.1h0" stroke="#05fffa" stroke-width="8.4"/><path d="M75.9 105.2h0" stroke="#80ff80" stroke-width="8.4"/><path d="M28.6 108.4h0" stroke="#2effd1" stroke-width="8.4"/><path d="M32.0 109.1h0" stroke="#4dffb2" stroke-width="8.4"/><path d="M37.7 110.6h0" stroke="#ff8000" stroke-width="8.4"/><path d="M42.7 108.0h0" stroke="#2effd1" stroke-width="8.4"/><path d="M48.3 109.1h0" stroke="#4dffb2" stroke-width="8.4"/><path d="M53.8 109.2h0" stroke="#2effd1" stroke-width="8.4"/><path d="M58.0 109.6h0" stroke="#4dffb2" stroke-width="8.4"/><path d="M63.9 109.3h0M67.6 108.1h0" stroke="#ff8000" stroke-width="8.4"/><path d="M71.6 108.3h0" stroke="#2effd1" stroke-width="8.4"/><path d="M77.3 107.9h0" stroke="#4dffb2" stroke-width="8.4"/><path d="M28.8 114.8h0" stroke="#05fffa" stroke-width="8.4"/><path d="M34.9 113.0h0" stroke="#00b2ff" stroke-width="8.4"/><path d="M39.2 114.4h0" stroke="#05fffa" stroke-width="8.4"/><path d="M46.3 113.3h0M50.6 114.8h0" stroke="#4dffb2" stroke-width="8.4"/><path d="M55.8 113.1h0" stroke="#00b2ff" stroke-width="8.4"/><path d="M60.6 113.6h0" stroke="#80ff80" stroke-width="8.4"/><path d="M66.2 112.4h0" stroke="#2effd1" stroke-width="8.4"/><path d="M68.5 112.2h0" stroke="#4dffb2" stroke-width="8.4"/><path d="M75.6 114.1h0" stroke="#ff8000" stroke-width="8.4"/><path d="M26.9 118.7h0" stroke="#05fffa" stroke-width="8.4"/><path d="M33.9 119.1h0M36.2 117.7h0" stroke="#00b2ff" stroke-width="8.4"/><path d="M43.2 118.0h0" stroke="#05fffa" stroke-width="8.4"/><path d="M46.4 118.9h0" stroke="#80ff80" stroke-width="8.4"/><path d="M53.9 117.0h0M57.4 118.9h0" stroke="#ff8000" stroke-width="8.4"/><path d="M63.8 118.9h0M67.0 117.4h0M73.9 118.7h0" stroke="#00b2ff" stroke-width="8.4"/><path d="M77.0 118.4h0" stroke="#2effd1" stroke-width="8.4"/><path d="M26.0 122.7h0" stroke="#80ff80" stroke-width="8.4"/><path d="M30.3 123.8h0" stroke="#05fffa" stroke-width="8.4"/><path d="M34.6 123.0h0" stroke="#00b2ff" stroke-width="8.4"/><path d="M40.8 121.6h0" stroke="#ff8000" stroke-width="8.4"/><path d="M44.3 120.9h0" stroke="#80ff80" stroke-width="8.4"/><path d="M49.3 121.4h0" stroke="#2effd1" stroke-width="8.4"/><path d="M54.4 121.3h0M58.9 123.8h0" stroke="#00b2ff" stroke-width="8.4"/><path d="M65.6 123.6h0" stroke="#80ff80" stroke-width="8.4"/><path d="M70.1 122.5h0" stroke="#ff8000" stroke-width="8.4"/><path d="M75.9 121.5h0" stroke="#4dffb2" stroke-width="8.4"/><path d="M28.8 126.0h0" stroke="#00b2ff" stroke-width="8.4"/><path d="M31.2 126.4h0" stroke="#4dffb2" stroke-width="8.4"/><path d="M36.6 126.0h0M43.4 126.6h0M47.6 126.3h0" stroke="#2effd1" stroke-width="8.4"/><path d="M51.7 127.0h0" stroke="#80ff80" stroke-width="8.4"/><path d="M58.7 126.8h0" stroke="#ff8000" stroke-width="8.4"/><path d="M62.5 125.9h0" stroke="#05fffa" stroke-width="8.4"/><path d="M66.6 125.8h0" stroke="#4dffb2" stroke-width="8.4"/><path d="M71.9 127.0h0" stroke="#80ff80" stroke-width="8.4"/><path d="M77.2 126.8h0" stroke="#05fffa" stroke-width="8.4"/><path d="M30.0 132.2h0" stroke="#80ff80" stroke-width="8.4"/><path d="M35.4 132.0h0" stroke="#05fffa" stroke-width="8.4"/><path d="M39.4 129.7h0" stroke="#80ff80" stroke-width="8.4"/><path d="M45.1 129.7h0" stroke="#2effd1" stroke-width="8.4"/><path d="M49.1 132.2h0" stroke="#00b2ff" stroke-width="8.4"/><path d="M55.0 131.3h0" stroke="#80ff80" stroke-width="8.4"/><path d="M61.3 130.4h0" stroke="#2effd1" stroke-width="8.4"/><path d="M66.3 131.9h0" stroke="#00b2ff" stroke-width="8.4"/><path d="M71.4 130.4h0" stroke="#2effd1" stroke-width="8.4"/><path d="M74.5 132.6h0" stroke="#ff8000" stroke-width="8.4"/><path d="M26.3 134.1h0" stroke="#00b2ff" stroke-width="8.4"/><path d="M32.1 136.1h0" stroke="#ff8000" stroke-width="8.4"/><path d="M38.8 136.7h0M43.6 135.9h0" stroke="#2effd1" stroke-width="8.4"/><path d="M48.1 134.2h0" stroke="#80ff80" stroke-width="8.4"/><path d="M52.7 135.9h0" stroke="#4dffb2" stroke-width="8.4"/><path d="M57.5 134.5h0" stroke="#05fffa" stroke-width="8.4"/><path d="M62.1 134.7h0" stroke="#4dffb2" stroke-width="8.4"/><path d="M66.7 134.1h0" stroke="#80ff80" stroke-width="8.4"/><path d="M73.8 134.1h0" stroke="#00b2ff" stroke-width="8.4"/><path d="M30.6 140.2h0" stroke="#ff8000" stroke-width="8.4"/><path d="M33.7 138.7h0" stroke="#2effd1" stroke-width="8.4"/><path d="M41.3 140.3h0" stroke="#80ff80" stroke-width="8.4"/><path d="M45.3 139.6h0" stroke="#4dffb2" stroke-width="8.4"/><path d="M48.8 139.3h0" stroke="#80ff80" stroke-width="8.4"/><path d="M54.7 139.4h0" stroke="#ff8000" stroke-width="8.4"/><path d="M59.0 139.0h0" stroke="#05fffa" stroke-width="8.4"/><path d="M66.2 141.0h0" stroke="#ff8000" stroke-width="8.4"/><path d="M70.7 138.9h0M74.0 140.8h0" stroke="#2effd1" stroke-width="8.4"/><path d="M33.7 143.1h0" stroke="#ff8000" stroke-width="8.4"/><path d="M42.2 142.7h0" stroke="#2effd1" stroke-width="8.4"/><path d="M47.4 143.7h0M52.4 144.5h0M57.0 144.9h0M63.1 144.3h0" stroke="#05fffa" stroke-width="8.4"/><path d="M67.3 143.1h0" stroke="#ff8000" stroke-width="8.4"/><path d="M72.2 143.1h0" stroke="#80ff80" stroke-width="8.4"/><path d="M77.7 143.5h0" stroke="#05fffa" stroke-width="8.4"/><path d="M90.6 105.1h0M81.7 112.4h0" stroke="#ff8000" stroke-width="8.4"/><path d="M87.5 109.9h0" stroke="#ff6100" stroke-width="8.4"/><path d="M64.3 143.7h0" stroke="#faff05" stroke-width="8.4"/><path d="M71.2 142.7h0" stroke="#ff6100" stroke-width="8.4"/><path d="M46.7 145.6h0" stroke="#faff05" stroke-width="8.4"/><path d="M53.9 147.8h0" stroke="#ff6100" stroke-width="8.4"/><path d="M61.1 148.4h0M71.2 148.2h0" stroke="#ff9e00" stroke-width="8.4"/><path d="M77.6 146.6h0" stroke="#ffb300" stroke-width="8.4"/><path d="M46.6 156.1h0" stroke="#ff6100" stroke-width="8.4"/><path d="M53.3 152.6h0M59.6 155.2h0" stroke="#ff9e00" stroke-width="8.4"/><path d="M66.4 152.7h0M74.0 154.3h0" stroke="#ffb300" stroke-width="8.4"/><path d="M80.1 153.4h0" stroke="#faff05" stroke-width="8.4"/><path d="M50.2 162.1h0M53.5 159.8h0" stroke="#ff6100" stroke-width="8.4"/><path d="M60.7 161.1h0" stroke="#ff9e00" stroke-width="8.4"/><path d="M67.9 161.9h0" stroke="#faff05" stroke-width="8.4"/><path d="M74.2 161.3h0" stroke="#ffb300" stroke-width="8.4"/><path d="M77.2 125.2h0M81.7 125.1h0" stroke="#d10000" stroke-width="8.4"/><path d="M4.5 146.8h0" stroke="#faff05" stroke-width="8.4"/><path d="M32.2 145.2h0" stroke="#4dffb2" stroke-width="8.4"/><path d="M37.1 146.7h0" stroke="#2effd1" stroke-width="8.4"/><path d="M44.0 146.3h0" stroke="#faff05" stroke-width="8.4"/><path d="M6.1 151.0h0" stroke="#4dffb2" stroke-width="8.4"/><path d="M11.4 148.6h0" stroke="#2effd1" stroke-width="8.4"/><path d="M16.2 148.7h0" stroke="#faff05" stroke-width="8.4"/><path d="M24.3 151.3h0" stroke="#4dffb2" stroke-width="8.4"/><path d="M28.5 149.8h0M36.2 149.1h0" stroke="#2effd1" stroke-width="8.4"/><path d="M40.6 150.5h0M10.8 155.0h0" stroke="#faff05" stroke-width="8.4"/><path d="M15.4 155.9h0" stroke="#4dffb2" stroke-width="8.4"/><path d="M20.6 157.2h0M26.4 154.4h0M33.9 156.8h0" stroke="#80ff80" stroke-width="8.4"/><path d="M40.3 156.8h0" stroke="#4dffb2" stroke-width="8.4"/><path d="M44.3 154.0h0" stroke="#80ff80" stroke-width="8.4"/><path d="M5.0 160.3h0M11.5 160.8h0M17.3 159.5h0" stroke="#4dffb2" stroke-width="8.4"/><path d="M22.9 160.3h0" stroke="#faff05" stroke-width="8.4"/><path d="M31.1 162.4h0M37.2 162.2h0" stroke="#4dffb2" stroke-width="8.4"/><path d="M40.1 161.2h0" stroke="#80ff80" stroke-width="8.4"/><path d="M5.1 162.6h0M10.2 164.1h0" stroke="#ffe500" stroke-width="8.4"/><path d="M5.7 166.4h0" stroke="#faff05" stroke-width="8.4"/><path d="M14.0 170.4h0M22.5 166.0h0" stroke="#ffe500" stroke-width="8.4"/><path d="M27.7 166.3h0" stroke="#faff05" stroke-width="8.4"/><path d="M3.1 176.1h0" stroke="#ffb300" stroke-width="8.4"/><path d="M10.4 173.1h0" stroke="#ffe500" stroke-width="8.4"/><path d="M14.9 174.4h0" stroke="#ffb300" stroke-width="8.4"/><path d="M24.5 174.5h0" stroke="#ffe500" stroke-width="8.4"/><path d="M30.4 174.4h0" stroke="#ffb300" stroke-width="8.4"/><path d="M6.3 180.5h0" stroke="#ffe500" stroke-width="8.4"/><path d="M13.4 181.9h0" stroke="#faff05" stroke-width="8.4"/><path d="M19.2 178.9h0" stroke="#ffe500" stroke-width="8.4"/><path d="M14.2 176.1h0M24.5 176.2h0M35.1 175.3h0" stroke="#004dff" stroke-width="8.4"/><path d="M54.3 176.1h0M59.8 175.4h0" stroke="#0019ff" stroke-width="8.4"/><path d="M12.9 179.6h0" stroke="#004dff" stroke-width="8.4"/><path d="M18.3 179.4h0" stroke="#05fffa" stroke-width="8.4"/><path d="M21.9 179.7h0" stroke="#0019ff" stroke-width="8.4"/><path d="M27.3 178.4h0M33.1 179.6h0" stroke="#05fffa" stroke-width="8.4"/><path d="M37.3 180.5h0" stroke="#0019ff" stroke-width="8.4"/><path d="M42.3 180.0h0" stroke="#0080ff" stroke-width="8.4"/><path d="M47.8 179.1h0" stroke="#05fffa" stroke-width="8.4"/><path d="M53.0 178.8h0" stroke="#004dff" stroke-width="8.4"/><path d="M57.0 179.1h0" stroke="#0080ff" stroke-width="8.4"/><path d="M10.2 184.1h0" stroke="#0038ff" stroke-width="8.4"/><path d="M15.7 184.5h0" stroke="#05fffa" stroke-width="8.4"/><path d="M19.7 183.2h0M24.5 182.8h0" stroke="#0080ff" stroke-width="8.4"/><path d="M29.7 183.1h0" stroke="#004dff" stroke-width="8.4"/><path d="M34.6 184.5h0" stroke="#0019ff" stroke-width="8.4"/><path d="M41.1 183.0h0" stroke="#05fffa" stroke-width="8.4"/><path d="M45.9 184.8h0" stroke="#0038ff" stroke-width="8.4"/><path d="M48.9 183.9h0" stroke="#05fffa" stroke-width="8.4"/><path d="M54.5 183.8h0" stroke="#004dff" stroke-width="8.4"/><path d="M12.5 188.1h0" stroke="#05fffa" stroke-width="8.4"/><path d="M17.2 187.7h0" stroke="#0080ff" stroke-width="8.4"/><path d="M22.9 187.9h0M27.9 188.1h0" stroke="#0038ff" stroke-width="8.4"/><path d="M32.3 188.1h0" stroke="#0080ff" stroke-width="8.4"/><path d="M38.5 187.2h0" stroke="#0019ff" stroke-width="8.4"/><path d="M43.6 188.0h0" stroke="#05fffa" stroke-width="8.4"/><path d="M48.1 189.0h0" stroke="#0080ff" stroke-width="8.4"/><path d="M52.1 188.1h0M56.7 187.6h0M10.8 192.4h0" stroke="#0038ff" stroke-width="8.4"/><path d="M15.4 191.9h0" stroke="#004dff" stroke-width="8.4"/><path d="M20.8 193.6h0" stroke="#05fffa" stroke-width="8.4"/><path d="M25.3 192.5h0" stroke="#0080ff" stroke-width="8.4"/><path d="M29.3 193.3h0" stroke="#05fffa" stroke-width="8.4"/><path d="M34.2 192.7h0" stroke="#0080ff" stroke-width="8.4"/><path d="M39.1 192.6h0M45.5 191.2h0M49.5 192.9h0M56.0 192.2h0" stroke="#0038ff" stroke-width="8.4"/><path d="M11.8 196.7h0M17.7 197.6h0" stroke="#0080ff" stroke-width="8.4"/><path d="M22.5 195.9h0M27.3 195.8h0" stroke="#0019ff" stroke-width="8.4"/><path d="M32.5 196.8h0" stroke="#0038ff" stroke-width="8.4"/><path d="M36.5 196.0h0" stroke="#0080ff" stroke-width="8.4"/><path d="M42.5 196.7h0" stroke="#05fffa" stroke-width="8.4"/><path d="M48.2 195.7h0" stroke="#0038ff" stroke-width="8.4"/><path d="M52.9 196.9h0M58.0 196.4h0" stroke="#0019ff" stroke-width="8.4"/><path d="M15.9 202.2h0" stroke="#0038ff" stroke-width="8.4"/><path d="M19.6 201.0h0M23.8 200.4h0M30.2 202.2h0" stroke="#05fffa" stroke-width="8.4"/><path d="M33.9 200.5h0M38.9 202.1h0" stroke="#0019ff" stroke-width="8.4"/><path d="M44.6 202.1h0M49.5 201.3h0M56.2 200.1h0M12.3 205.2h0" stroke="#05fffa" stroke-width="8.4"/><path d="M16.4 206.3h0" stroke="#0038ff" stroke-width="8.4"/><path d="M21.7 205.1h0" stroke="#0019ff" stroke-width="8.4"/><path d="M26.3 206.4h0" stroke="#05fffa" stroke-width="8.4"/><path d="M32.6 204.5h0" stroke="#0080ff" stroke-width="8.4"/><path d="M38.4 205.1h0" stroke="#0038ff" stroke-width="8.4"/><path d="M43.6 205.3h0" stroke="#004dff" stroke-width="8.4"/><path d="M47.6 205.2h0" stroke="#05fffa" stroke-width="8.4"/><path d="M52.0 204.8h0" stroke="#0038ff" stroke-width="8.4"/><path d="M57.0 204.3h0M14.3 209.9h0M20.1 209.7h0" stroke="#0019ff" stroke-width="8.4"/><path d="M24.2 209.4h0" stroke="#05fffa" stroke-width="8.4"/><path d="M29.7 210.9h0M34.5 209.7h0M39.3 209.7h0" stroke="#0019ff" stroke-width="8.4"/><path d="M46.1 211.0h0" stroke="#0080ff" stroke-width="8.4"/><path d="M51.0 210.0h0" stroke="#004dff" stroke-width="8.4"/><path d="M55.1 209.6h0" stroke="#0080ff" stroke-width="8.4"/><path d="M59.3 210.7h0" stroke="#0038ff" stroke-width="8.4"/><path d="M12.9 213.2h0" stroke="#004dff" stroke-width="8.4"/><path d="M18.1 214.8h0" stroke="#0038ff" stroke-width="8.4"/><path d="M22.9 214.3h0" stroke="#004dff" stroke-width="8.4"/><path d="M26.3 214.7h0M33.2 213.5h0" stroke="#0019ff" stroke-width="8.4"/><path d="M37.9 213.2h0" stroke="#0080ff" stroke-width="8.4"/><path d="M43.5 214.9h0" stroke="#004dff" stroke-width="8.4"/><path d="M46.8 214.7h0" stroke="#0038ff" stroke-width="8.4"/><path d="M51.8 213.3h0M57.0 213.9h0" stroke="#05fffa" stroke-width="8.4"/><path d="M60.7 157.9h0" stroke="#4dffb2" stroke-width="8.4"/><path d="M69.7 157.7h0M62.8 161.2h0" stroke="#1affe5" stroke-width="8.4"/><path d="M66.7 161.9h0" stroke="#80ff80" stroke-width="8.4"/><path d="M72.0 161.7h0" stroke="#4dffb2" stroke-width="8.4"/><path d="M77.7 160.7h0M83.0 160.8h0" stroke="#ff8000" stroke-width="8.4"/><path d="M87.9 161.5h0" stroke="#2effd1" stroke-width="8.4"/><path d="M91.6 162.0h0" stroke="#1affe5" stroke-width="8.4"/><path d="M98.5 162.3h0" stroke="#80ff80" stroke-width="8.4"/><path d="M102.8 160.3h0" stroke="#4dffb2" stroke-width="8.4"/><path d="M107.9 160.2h0" stroke="#1affe5" stroke-width="8.4"/><path d="M65.6 164.7h0" stroke="#ff8000" stroke-width="8.4"/><path d="M71.2 166.0h0" stroke="#4dffb2" stroke-width="8.4"/><path d="M74.5 164.7h0" stroke="#ff8000" stroke-width="8.4"/><path d="M79.9 165.3h0" stroke="#80ff80" stroke-width="8.4"/><path d="M85.6 166.5h0" stroke="#ff8000" stroke-width="8.4"/><path d="M90.0 166.1h0M94.8 165.7h0" stroke="#4dffb2" stroke-width="8.4"/><path d="M100.0 165.0h0" stroke="#80ff80" stroke-width="8.4"/><path d="M104.4 165.8h0" stroke="#4dffb2" stroke-width="8.4"/><path d="M62.6 169.4h0M66.7 169.7h0" stroke="#2effd1" stroke-width="8.4"/><path d="M71.8 169.6h0" stroke="#4dffb2" stroke-width="8.4"/><path d="M77.9 170.0h0" stroke="#ff8000" stroke-width="8.4"/><path d="M81.9 169.4h0" stroke="#80ff80" stroke-width="8.4"/><path d="M88.0 169.2h0" stroke="#1affe5" stroke-width="8.4"/><path d="M93.0 169.2h0" stroke="#4dffb2" stroke-width="8.4"/><path d="M97.7 169.4h0" stroke="#2effd1" stroke-width="8.4"/><path d="M102.6 170.7h0" stroke="#4dffb2" stroke-width="8.4"/><path d="M107.9 169.2h0" stroke="#ff8000" stroke-width="8.4"/><path d="M60.8 174.2h0" stroke="#4dffb2" stroke-width="8.4"/><path d="M64.1 173.9h0M70.0 173.3h0M74.5 173.5h0M79.9 173.5h0M84.9 174.6h0" stroke="#1affe5" stroke-width="8.4"/><path d="M89.2 173.4h0" stroke="#2effd1" stroke-width="8.4"/><path d="M94.9 175.6h0" stroke="#ff8000" stroke-width="8.4"/><path d="M99.0 174.9h0" stroke="#80ff80" stroke-width="8.4"/><path d="M104.4 174.7h0" stroke="#ff8000" stroke-width="8.4"/><path d="M62.5 179.4h0M66.3 179.8h0M72.8 179.8h0" stroke="#1affe5" stroke-width="8.4"/><path d="M77.9 177.7h0" stroke="#2effd1" stroke-width="8.4"/><path d="M81.4 178.5h0" stroke="#4dffb2" stroke-width="8.4"/><path d="M87.0 178.0h0" stroke="#80ff80" stroke-width="8.4"/><path d="M93.3 179.8h0" stroke="#4dffb2" stroke-width="8.4"/><path d="M96.5 179.3h0" stroke="#1affe5" stroke-width="8.4"/><path d="M103.1 178.3h0M107.9 178.4h0M64.7 183.9h0" stroke="#4dffb2" stroke-width="8.4"/><path d="M68.9 182.2h0M76.0 184.2h0" stroke="#ff8000" stroke-width="8.4"/><path d="M79.8 183.7h0" stroke="#1affe5" stroke-width="8.4"/><path d="M85.2 183.4h0" stroke="#4dffb2" stroke-width="8.4"/><path d="M90.5 182.3h0" stroke="#ff8000" stroke-width="8.4"/><path d="M95.3 182.9h0" stroke="#2effd1" stroke-width="8.4"/><path d="M100.8 183.1h0" stroke="#4dffb2" stroke-width="8.4"/><path d="M105.5 181.9h0" stroke="#80ff80" stroke-width="8.4"/><path d="M63.4 188.1h0" stroke="#ff8000" stroke-width="8.4"/><path d="M66.6 186.4h0" stroke="#2effd1" stroke-width="8.4"/><path d="M72.5 187.3h0" stroke="#1affe5" stroke-width="8.4"/><path d="M76.5 186.3h0" stroke="#4dffb2" stroke-width="8.4"/><path d="M83.5 186.6h0M86.3 188.2h0" stroke="#1affe5" stroke-width="8.4"/><path d="M92.7 187.4h0M97.1 187.4h0" stroke="#80ff80" stroke-width="8.4"/><path d="M103.5 188.3h0" stroke="#ff8000" stroke-width="8.4"/><path d="M60.7 190.7h0" stroke="#1affe5" stroke-width="8.4"/><path d="M65.3 191.3h0" stroke="#80ff80" stroke-width="8.4"/><path d="M69.8 191.5h0" stroke="#4dffb2" stroke-width="8.4"/><path d="M74.5 191.4h0" stroke="#2effd1" stroke-width="8.4"/><path d="M80.8 191.1h0" stroke="#ff8000" stroke-width="8.4"/><path d="M85.5 191.0h0" stroke="#80ff80" stroke-width="8.4"/><path d="M89.7 192.0h0M94.7 191.2h0" stroke="#ff8000" stroke-width="8.4"/><path d="M99.8 190.9h0" stroke="#4dffb2" stroke-width="8.4"/><path d="M106.1 191.1h0M61.8 197.0h0" stroke="#2effd1" stroke-width="8.4"/><path d="M66.8 196.6h0" stroke="#ff8000" stroke-width="8.4"/><path d="M71.8 196.0h0M77.7 195.2h0" stroke="#80ff80" stroke-width="8.4"/><path d="M83.5 196.3h0" stroke="#ff8000" stroke-width="8.4"/><path d="M87.9 196.9h0" stroke="#4dffb2" stroke-width="8.4"/><path d="M93.4 196.3h0" stroke="#2effd1" stroke-width="8.4"/><path d="M97.8 197.3h0" stroke="#80ff80" stroke-width="8.4"/><path d="M101.5 196.9h0" stroke="#ff8000" stroke-width="8.4"/><path d="M107.6 197.3h0M60.2 201.2h0" stroke="#4dffb2" stroke-width="8.4"/><path d="M64.7 200.8h0" stroke="#ff8000" stroke-width="8.4"/><path d="M69.4 200.2h0" stroke="#2effd1" stroke-width="8.4"/><path d="M75.5 201.6h0M79.5 201.0h0" stroke="#ff8000" stroke-width="8.4"/><path d="M86.0 199.5h0" stroke="#4dffb2" stroke-width="8.4"/><path d="M90.2 201.5h0M94.2 201.1h0" stroke="#1affe5" stroke-width="8.4"/><path d="M100.7 201.1h0" stroke="#2effd1" stroke-width="8.4"/><path d="M105.8 199.6h0M62.5 204.9h0" stroke="#1affe5" stroke-width="8.4"/><path d="M68.0 203.8h0" stroke="#80ff80" stroke-width="8.4"/><path d="M72.1 204.5h0" stroke="#1affe5" stroke-width="8.4"/><path d="M78.2 203.9h0" stroke="#4dffb2" stroke-width="8.4"/><path d="M81.9 204.1h0M86.4 206.0h0" stroke="#ff8000" stroke-width="8.4"/><path d="M91.6 203.7h0" stroke="#2effd1" stroke-width="8.4"/><path d="M96.5 204.3h0" stroke="#4dffb2" stroke-width="8.4"/><path d="M102.6 204.3h0M65.6 208.6h0" stroke="#ff8000" stroke-width="8.4"/><path d="M68.8 208.8h0" stroke="#4dffb2" stroke-width="8.4"/><path d="M75.0 209.2h0" stroke="#2effd1" stroke-width="8.4"/><path d="M80.7 208.1h0" stroke="#4dffb2" stroke-width="8.4"/><path d="M85.3 209.5h0" stroke="#80ff80" stroke-width="8.4"/><path d="M89.7 209.1h0M95.5 209.1h0" stroke="#4dffb2" stroke-width="8.4"/><path d="M100.9 209.5h0" stroke="#2effd1" stroke-width="8.4"/><path d="M104.7 209.3h0" stroke="#1affe5" stroke-width="8.4"/><path d="M63.4 213.8h0" stroke="#2effd1" stroke-width="8.4"/><path d="M66.8 214.3h0" stroke="#ff8000" stroke-width="8.4"/><path d="M72.1 213.5h0" stroke="#1affe5" stroke-width="8.4"/><path d="M77.1 213.2h0M82.1 212.4h0" stroke="#ff8000" stroke-width="8.4"/><path d="M88.4 213.8h0" stroke="#4dffb2" stroke-width="8.4"/><path d="M93.0 212.7h0" stroke="#ff8000" stroke-width="8.4"/><path d="M97.0 213.6h0" stroke="#1affe5" stroke-width="8.4"/><path d="M102.2 213.7h0" stroke="#80ff80" stroke-width="8.4"/><path d="M111.7 156.9h0" stroke="#e5ff1a" stroke-width="8.4"/><path d="M116.3 156.3h0" stroke="#ff8000" stroke-width="8.4"/><path d="M121.7 156.7h0" stroke="#ff4c00" stroke-width="8.4"/><path d="M126.9 157.1h0" stroke="#ff6100" stroke-width="8.4"/><path d="M130.5 156.6h0M108.5 160.7h0M114.4 160.9h0M117.4 160.0h0M124.4 161.0h0M129.4 161.1h0" stroke="#ff8000" stroke-width="8.4"/><path d="M132.7 159.6h0" stroke="#e5ff1a" stroke-width="8.4"/><path d="M111.7 165.7h0" stroke="#ff6100" stroke-width="8.4"/><path d="M115.1 165.2h0M121.5 164.8h0" stroke="#ff8000" stroke-width="8.4"/><path d="M125.0 164.0h0" stroke="#ff6100" stroke-width="8.4"/><path d="M131.2 164.2h0" stroke="#ff8000" stroke-width="8.4"/><path d="M109.7 168.7h0M114.0 170.1h0" stroke="#e5ff1a" stroke-width="8.4"/><path d="M118.1 168.3h0M123.6 169.7h0" stroke="#ff8000" stroke-width="8.4"/><path d="M127.9 167.9h0" stroke="#ff6100" stroke-width="8.4"/><path d="M133.3 168.3h0" stroke="#ff8000" stroke-width="8.4"/><path d="M106.9 173.8h0M110.4 172.3h0" stroke="#ff4c00" stroke-width="8.4"/><path d="M116.2 172.4h0M121.5 172.2h0M126.1 174.3h0M132.0 172.7h0" stroke="#ff8000" stroke-width="8.4"/><path d="M109.4 176.6h0" stroke="#e5ff1a" stroke-width="8.4"/><path d="M113.3 178.2h0" stroke="#ff8000" stroke-width="8.4"/><path d="M117.7 178.6h0" stroke="#ff6100" stroke-width="8.4"/><path d="M122.5 178.0h0M129.7 177.5h0" stroke="#e5ff1a" stroke-width="8.4"/><path d="M110.6 181.9h0" stroke="#ff8000" stroke-width="8.4"/><path d="M115.2 180.9h0" stroke="#ff4c00" stroke-width="8.4"/><path d="M120.1 182.7h0" stroke="#ff6100" stroke-width="8.4"/><path d="M125.7 181.8h0" stroke="#ff8000" stroke-width="8.4"/><path d="M131.1 182.3h0" stroke="#ff4c00" stroke-width="8.4"/><path d="M108.9 186.7h0" stroke="#ff8000" stroke-width="8.4"/><path d="M112.9 186.7h0" stroke="#e5ff1a" stroke-width="8.4"/><path d="M119.1 187.1h0" stroke="#ff8000" stroke-width="8.4"/><path d="M123.9 186.6h0" stroke="#e5ff1a" stroke-width="8.4"/><path d="M128.6 186.1h0" stroke="#ff8000" stroke-width="8.4"/><path d="M132.6 185.3h0" stroke="#e5ff1a" stroke-width="8.4"/><path d="M112.1 190.0h0" stroke="#ff4c00" stroke-width="8.4"/><path d="M115.8 191.9h0" stroke="#ff6100" stroke-width="8.4"/><path d="M121.3 189.9h0" stroke="#ff4c00" stroke-width="8.4"/><path d="M126.1 190.0h0" stroke="#ff8000" stroke-width="8.4"/><path d="M131.6 191.8h0M108.6 194.8h0M113.4 196.0h0" stroke="#ff4c00" stroke-width="8.4"/><path d="M118.8 194.8h0" stroke="#e5ff1a" stroke-width="8.4"/><path d="M123.4 194.7h0M127.6 195.7h0" stroke="#ff6100" stroke-width="8.4"/><path d="M149.3 156.7h0" stroke="#004dff" stroke-width="8.4"/><path d="M136.0 159.9h0M141.0 160.1h0M147.0 160.6h0M135.0 165.3h0M139.7 165.4h0M144.9 164.0h0M148.6 164.4h0M137.2 168.5h0M141.9 169.2h0" stroke="#0061ff" stroke-width="8.4"/><path d="M145.9 168.2h0M138.9 173.3h0M145.0 173.0h0M149.6 172.7h0" stroke="#004dff" stroke-width="8.4"/><path d="M135.8 177.4h0" stroke="#00b2ff" stroke-width="8.4"/><path d="M142.0 176.9h0" stroke="#004dff" stroke-width="8.4"/><path d="M146.4 177.5h0" stroke="#0061ff" stroke-width="8.4"/><path d="M151.2 178.6h0" stroke="#00b2ff" stroke-width="8.4"/><path d="M139.8 182.3h0M144.6 182.5h0" stroke="#004dff" stroke-width="8.4"/><path d="M148.3 182.3h0" stroke="#00b2ff" stroke-width="8.4"/><path d="M136.4 185.7h0M140.6 187.2h0" stroke="#004dff" stroke-width="8.4"/><path d="M147.3 185.7h0" stroke="#0061ff" stroke-width="8.4"/><path d="M139.1 191.1h0" stroke="#00b2ff" stroke-width="8.4"/><path d="M144.0 190.0h0" stroke="#0061ff" stroke-width="8.4"/><path d="M149.7 191.7h0" stroke="#004dff" stroke-width="8.4"/><path d="M139.4 191.1h0" stroke="#ff4c00" stroke-width="8.4"/><path d="M133.6 195.2h0" stroke="#0080ff" stroke-width="8.4"/><path d="M141.9 196.6h0" stroke="#ff6100" stroke-width="8.4"/><path d="M145.5 195.8h0M153.1 195.4h0" stroke="#0080ff" stroke-width="8.4"/><path d="M133.4 201.6h0" stroke="#ff6100" stroke-width="8.4"/><path d="M137.7 199.9h0M143.6 199.4h0" stroke="#0080ff" stroke-width="8.4"/><path d="M151.1 201.4h0" stroke="#ff4c00" stroke-width="8.4"/><path d="M134.2 205.7h0" stroke="#ff6100" stroke-width="8.4"/><path d="M141.6 206.3h0" stroke="#ff1a00" stroke-width="8.4"/><path d="M148.0 206.2h0M154.0 206.5h0" stroke="#ff4c00" stroke-width="8.4"/><path d="M138.6 210.7h0" stroke="#ff6100" stroke-width="8.4"/><path d="M143.9 211.1h0" stroke="#0080ff" stroke-width="8.4"/><path d="M150.7 211.9h0M104.3 203.5h0" stroke="#ff6100" stroke-width="8.4"/><path d="M111.0 202.9h0" stroke="#ff4c00" stroke-width="8.4"/><path d="M107.5 208.2h0M113.4 207.3h0" stroke="#ff6100" stroke-width="8.4"/><path d="M120.3 208.0h0M104.7 212.5h0" stroke="#ff4c00" stroke-width="8.4"/><path d="M110.2 213.9h0M117.3 212.5h0M122.1 213.4h0" stroke="#ff6100" stroke-width="8.4"/><path d="M130.8 125.4h0" stroke="#faff05" stroke-width="8.4"/><path d="M121.5 128.9h0" stroke="#ff4c00" stroke-width="8.4"/><path d="M124.6 128.2h0" stroke="#faff05" stroke-width="8.4"/><path d="M131.5 129.9h0" stroke="#ff9e00" stroke-width="8.4"/><path d="M137.8 127.6h0" stroke="#ff4c00" stroke-width="8.4"/><path d="M121.4 135.0h0M130.0 133.0h0M134.5 134.5h0" stroke="#ffb300" stroke-width="8.4"/><path d="M120.5 139.8h0" stroke="#ff4c00" stroke-width="8.4"/><path d="M125.0 139.9h0" stroke="#faff05" stroke-width="8.4"/><path d="M132.3 137.9h0" stroke="#ffb300" stroke-width="8.4"/><path d="M137.2 139.8h0" stroke="#ff9e00" stroke-width="8.4"/><path d="M122.8 145.0h0M130.4 143.7h0" stroke="#ff4c00" stroke-width="8.4"/><path d="M136.8 144.0h0" stroke="#ff9e00" stroke-width="8.4"/><path d="M79.7 133.9h0M84.5 133.9h0" stroke="#00e5ff" stroke-width="8.4"/><path d="M81.9 138.1h0" stroke="#0080ff" stroke-width="8.4"/><path d="M88.0 139.4h0M94.3 141.0h0" stroke="#00b2ff" stroke-width="8.4"/><path d="M78.3 143.4h0" stroke="#0080ff" stroke-width="8.4"/><path d="M84.3 143.5h0M91.5 145.3h0" stroke="#00e5ff" stroke-width="8.4"/><path d="M83.2 151.8h0" stroke="#0080ff" stroke-width="8.4"/><path d="M86.9 151.5h0" stroke="#00e5ff" stroke-width="8.4"/></g></g>
<use href="#map" transform="translate(1037.5,95.5) scale(1.00427,1.01034)"/>
<rect x="1037.5" y="95.5" width="235.0" height="215.0" fill="none" stroke="#000" stroke-width="1"/>
<g transform="translate(195.5,486.5) scale(1.00000,1.00094)"><g fill="none" stroke-linecap="round"><path d="M136.4 183.1h0M133.5 185.6h0M137.3 185.0h0M150.3 186.2h0M132.2 189.2h0M149.0 188.3h0M124.4 191.1h0M119.3 194.8h0M125.4 194.5h0M140.3 197.6h0M118.5 199.9h0M135.8 200.5h0M135.2 206.4h0M139.5 206.3h0M145.6 206.5h0M127.7 209.5h0" stroke="#000080" stroke-width="6.0"/><path d="M126.3 189.3h0M136.5 188.8h0M138.9 187.9h0M145.6 189.1h0M117.7 191.6h0M121.1 192.1h0M133.8 192.4h0M137.3 192.2h0M115.3 195.0h0M138.7 195.1h0M146.3 194.6h0M121.0 196.8h0M134.6 196.7h0M150.5 197.9h0M128.4 200.0h0M139.1 201.0h0M126.5 203.8h0M131.0 203.3h0M148.1 202.8h0M151.7 203.9h0M132.5 206.3h0M140.1 210.0h0M125.7 213.0h0" stroke="#000095" stroke-width="6.0"/><path d="M115.9 177.5h0M117.9 180.1h0M134.7 180.4h0M105.8 183.1h0M112.8 182.0h0M122.6 182.0h0M126.3 182.4h0M128.6 182.9h0M110.7 185.7h0M119.8 185.6h0M123.4 186.1h0M141.6 185.0h0M112.5 189.4h0M116.0 188.0h0M147.1 191.2h0M136.1 194.0h0M123.8 198.1h0M114.9 199.8h0M122.1 200.1h0M123.3 204.2h0M125.5 206.9h0M128.4 206.3h0M134.1 208.6h0M137.9 209.9h0M121.6 213.0h0M136.3 213.1h0" stroke="#0000aa" stroke-width="6.0"/><path d="M107.3 173.6h0M114.3 174.0h0M101.7 176.3h0M108.1 176.7h0M112.6 176.8h0M106.2 179.8h0M114.3 180.0h0M131.5 180.1h0M139.3 182.2h0M146.0 182.4h0M126.6 185.3h0M147.0 186.0h0M122.5 188.6h0M128.6 188.0h0M110.2 191.7h0M128.9 194.1h0M149.9 195.1h0M132.6 200.2h0M150.1 200.9h0M117.6 204.0h0M134.1 204.1h0M138.0 202.7h0M140.4 203.9h0M122.6 206.7h0M148.9 206.6h0M119.7 209.1h0M130.5 208.6h0M128.4 211.6h0M132.9 212.4h0" stroke="#0000bf" stroke-width="6.0"/><path d="M103.2 168.3h0M100.0 173.4h0M118.2 177.1h0M122.3 176.7h0M125.0 176.3h0M127.6 180.5h0M108.2 183.4h0M118.6 183.2h0M132.6 182.6h0M142.8 183.4h0M107.4 185.0h0M131.2 185.6h0M144.6 185.3h0M101.9 188.2h0M118.5 187.9h0M127.3 192.1h0M131.0 192.0h0M105.5 194.6h0M122.9 193.9h0M132.0 194.8h0M110.4 196.7h0M113.0 197.1h0M116.4 198.2h0M127.8 197.0h0M130.2 197.1h0M136.9 197.0h0M148.0 198.2h0M125.5 200.6h0M120.4 203.5h0M152.1 206.7h0M123.6 209.3h0M148.3 209.5h0M139.4 212.5h0" stroke="#0000d4" stroke-width="6.0"/><path d="M110.9 168.2h0M104.5 170.2h0M116.7 173.4h0M91.9 176.4h0M98.3 176.9h0M103.5 180.0h0M124.7 179.3h0M98.9 183.1h0M114.1 185.3h0M117.4 186.0h0M109.3 187.9h0M103.4 192.2h0M107.6 191.1h0M113.7 191.2h0M111.6 194.6h0M118.1 206.5h0M113.9 208.6h0" stroke="#0000ea" stroke-width="6.0"/><path d="M104.7 165.1h0M107.2 168.0h0M108.2 170.8h0M89.4 174.0h0M97.1 173.0h0M111.1 173.1h0M94.6 176.8h0M105.5 176.2h0M109.6 179.7h0M120.6 180.2h0M114.7 183.5h0M100.8 191.5h0M104.2 196.8h0M104.5 200.1h0M108.8 200.1h0M106.4 202.9h0M52.5 210.1h0M118.8 212.8h0" stroke="#0000ff" stroke-width="6.0"/><path d="M96.8 162.3h0M100.9 162.8h0M112.5 170.9h0M115.2 170.5h0M93.1 173.2h0M103.7 173.1h0M121.3 174.2h0M124.2 174.1h0M128.0 174.0h0M128.4 177.1h0M94.0 179.3h0M100.6 179.5h0M95.6 182.4h0M101.8 182.2h0M100.5 185.3h0M103.3 185.6h0M105.0 188.9h0M48.0 200.8h0M111.7 200.2h0M103.7 202.7h0M112.3 206.6h0M56.4 208.6h0M110.1 209.7h0M117.1 209.5h0M58.1 212.2h0M104.8 211.8h0M111.7 212.1h0M56.5 214.8h0" stroke="#0015ff" stroke-width="6.0"/><path d="M103.4 162.3h0M108.7 165.0h0M124.6 168.6h0M118.9 171.3h0M88.5 176.4h0M132.8 176.6h0M90.4 179.7h0M97.0 179.5h0M97.2 185.2h0M107.9 193.8h0M51.7 196.9h0M107.2 198.1h0M50.1 199.8h0M54.1 200.5h0M58.1 201.1h0M59.1 202.8h0M113.1 203.8h0M114.7 206.7h0M50.5 212.9h0M54.9 212.6h0M115.6 212.9h0" stroke="#002aff" stroke-width="6.0"/><path d="M91.2 159.4h0M126.6 162.1h0M113.0 167.2h0M130.2 167.5h0M122.0 170.6h0M128.8 170.5h0M86.2 180.2h0M89.5 185.3h0M95.0 189.1h0M99.0 189.4h0M97.4 192.0h0M101.3 194.1h0M45.4 203.0h0M55.3 203.7h0M110.5 202.9h0M44.5 206.0h0M46.8 206.8h0M53.4 206.3h0M60.3 211.8h0M108.3 212.0h0M52.0 215.8h0" stroke="#0040ff" stroke-width="6.0"/><path d="M97.9 158.4h0M102.0 158.5h0M92.7 161.4h0M130.0 162.4h0M133.5 162.0h0M122.9 165.7h0M129.4 165.1h0M132.8 164.5h0M132.1 170.9h0M130.4 173.9h0M80.6 183.5h0M86.7 185.0h0M93.4 185.1h0M79.2 191.5h0M47.9 193.9h0M97.2 196.8h0M99.4 197.3h0M65.0 199.7h0M101.2 201.2h0M42.6 203.9h0M52.9 204.1h0M58.1 206.6h0M63.9 206.5h0M101.3 206.3h0M104.9 206.1h0M109.2 206.7h0M59.3 209.5h0M107.2 208.6h0" stroke="#0055ff" stroke-width="6.0"/><path d="M128.1 155.8h0M126.2 158.3h0M129.4 159.1h0M132.4 158.4h0M114.6 164.4h0M117.7 168.0h0M126.5 167.6h0M125.0 171.0h0M86.5 173.8h0M84.7 177.1h0M87.8 183.5h0M79.1 185.2h0M81.3 189.4h0M64.0 194.4h0M75.3 195.0h0M97.7 194.2h0M48.5 197.3h0M44.2 200.1h0M49.2 202.6h0M62.0 214.9h0" stroke="#006aff" stroke-width="6.0"/><path d="M113.8 61.0h0M104.7 63.6h0M108.8 71.0h0M111.3 70.7h0M97.2 156.0h0M95.2 158.5h0M105.2 159.4h0M87.0 161.5h0M120.0 162.1h0M112.3 164.3h0M125.9 164.7h0M77.4 182.5h0M91.0 183.1h0M75.6 185.0h0M85.1 189.3h0M91.7 188.0h0M68.8 191.5h0M95.2 195.1h0M65.7 198.1h0M99.1 200.1h0M100.9 202.8h0M94.3 206.6h0M98.5 206.2h0M45.3 210.0h0M93.0 209.2h0M100.5 208.9h0M102.9 210.0h0M47.6 212.7h0M91.8 212.0h0M98.4 211.5h0M101.4 211.5h0" stroke="#0080ff" stroke-width="6.0"/><path d="M107.1 61.0h0M120.8 61.1h0M108.5 64.0h0M115.9 64.8h0M118.9 64.9h0M102.9 67.8h0M116.5 67.0h0M104.8 70.3h0M110.5 73.0h0M60.0 91.0h0M119.4 152.4h0M90.0 155.8h0M107.1 162.3h0M118.0 164.2h0M120.9 167.2h0M82.9 180.0h0M84.1 182.5h0M72.8 185.4h0M83.2 185.8h0M74.4 188.1h0M72.3 191.5h0M76.9 192.1h0M83.5 191.6h0M94.1 191.5h0M70.7 194.8h0M80.8 195.3h0M74.5 200.7h0M91.7 200.3h0M87.2 203.9h0M77.3 206.1h0M44.1 211.7h0M64.6 212.5h0" stroke="#0095ff" stroke-width="6.0"/><path d="M99.8 62.2h0M102.9 61.7h0M110.4 61.3h0M96.4 67.7h0M106.3 67.6h0M111.1 66.9h0M114.4 67.4h0M100.1 73.0h0M103.8 73.2h0M113.4 72.7h0M58.5 85.8h0M61.5 93.8h0M53.4 100.0h0M52.8 102.6h0M55.3 103.5h0M64.3 105.5h0M67.7 112.2h0M116.7 144.2h0M124.2 144.9h0M118.2 147.6h0M112.5 153.4h0M121.4 152.7h0M125.9 153.9h0M94.1 155.4h0M117.1 156.8h0M88.4 158.6h0M118.4 159.2h0M122.5 158.7h0M123.7 161.5h0M71.0 188.4h0M78.3 188.2h0M87.9 189.3h0M48.3 191.9h0M86.2 191.2h0M89.1 192.2h0M78.4 194.1h0M84.6 195.3h0M69.0 198.1h0M85.8 197.8h0M89.6 196.9h0M77.3 201.1h0M39.5 202.8h0M65.9 203.7h0M69.7 203.2h0M82.4 203.8h0M93.4 203.4h0M67.8 207.0h0M87.5 205.8h0M91.0 206.2h0M63.0 209.7h0M69.3 208.9h0M82.7 208.7h0M89.3 209.3h0M78.1 211.7h0M88.4 211.7h0M95.5 211.9h0" stroke="#00aaff" stroke-width="6.0"/><path d="M111.6 64.3h0M58.6 79.8h0M58.1 82.9h0M70.5 82.3h0M70.8 88.8h0M74.2 87.8h0M65.9 91.4h0M77.8 93.9h0M56.5 97.4h0M50.5 99.9h0M71.3 100.1h0M46.1 103.0h0M49.7 102.4h0M69.7 102.4h0M69.5 109.3h0M62.1 114.8h0M59.0 121.3h0M57.0 123.3h0M56.0 126.5h0M65.1 129.3h0M68.5 129.0h0M62.4 132.8h0M66.5 131.7h0M128.8 141.1h0M127.5 144.5h0M115.8 147.4h0M122.9 147.1h0M124.8 146.6h0M128.9 147.6h0M121.1 150.4h0M124.4 150.0h0M87.7 153.3h0M91.9 152.8h0M115.7 152.8h0M128.7 152.7h0M86.9 156.0h0M106.2 155.4h0M110.1 155.5h0M114.3 156.1h0M120.4 156.0h0M131.3 156.5h0M109.8 162.1h0M117.1 162.2h0M83.5 174.1h0M76.4 180.1h0M79.0 179.4h0M74.4 183.3h0M47.6 189.2h0M43.2 194.6h0M67.4 194.1h0M39.6 197.4h0M41.8 197.4h0M93.2 196.8h0M68.4 200.1h0M88.8 199.7h0M94.3 201.1h0M79.0 202.9h0M89.6 203.9h0M96.8 202.7h0M40.8 206.8h0M71.1 205.7h0M81.3 207.0h0M84.7 206.4h0M42.4 209.7h0M72.9 208.6h0M75.7 209.7h0M79.1 208.8h0M97.2 209.5h0M70.6 211.8h0" stroke="#00bfff" stroke-width="6.0"/><path d="M98.8 58.4h0M93.9 62.1h0M97.0 62.2h0M101.2 64.2h0M100.1 67.5h0M120.0 66.7h0M101.4 69.7h0M115.5 69.9h0M66.5 73.2h0M98.4 76.0h0M105.7 75.6h0M56.3 79.0h0M69.7 79.2h0M64.6 82.5h0M74.1 82.8h0M42.6 84.8h0M67.0 88.6h0M43.0 90.2h0M45.1 90.6h0M44.2 94.8h0M70.6 94.5h0M52.5 97.5h0M63.1 97.4h0M41.2 100.1h0M80.7 99.6h0M66.3 102.8h0M61.2 106.4h0M70.5 106.1h0M84.1 105.7h0M45.8 109.3h0M59.2 108.5h0M62.2 108.5h0M65.9 115.4h0M75.7 115.2h0M79.3 114.9h0M61.1 118.1h0M68.4 116.9h0M79.1 120.9h0M97.0 121.2h0M53.4 123.5h0M60.3 123.1h0M60.0 126.6h0M106.7 126.4h0M127.7 125.9h0M57.8 129.8h0M61.2 129.7h0M71.0 128.8h0M89.0 128.9h0M105.1 130.1h0M136.1 129.3h0M55.6 133.1h0M119.8 132.1h0M47.9 135.4h0M68.2 136.1h0M59.1 138.0h0M73.1 138.0h0M111.0 137.6h0M123.9 139.0h0M67.3 141.9h0M75.2 141.1h0M109.3 142.0h0M113.9 144.5h0M120.7 143.7h0M140.3 144.5h0M135.2 147.2h0M99.8 150.7h0M117.5 150.4h0M104.4 152.8h0M83.6 156.6h0M124.3 156.6h0M84.9 158.9h0M113.3 162.1h0M19.8 182.2h0M65.2 189.3h0M45.0 192.1h0M65.9 191.6h0M41.3 194.2h0M88.5 194.8h0M92.0 194.9h0M72.6 197.9h0M79.5 197.1h0M83.7 198.3h0M36.7 199.9h0M40.0 200.1h0M71.6 200.9h0M73.3 204.1h0M74.5 212.4h0M81.5 212.9h0" stroke="#00d4ff" stroke-width="6.0"/><path d="M72.8 61.4h0M97.9 64.4h0M122.0 63.8h0M62.4 67.9h0M92.9 66.7h0M67.0 70.6h0M95.1 71.0h0M98.9 70.8h0M62.2 73.9h0M70.0 73.4h0M75.6 73.9h0M106.7 73.4h0M57.3 76.5h0M60.4 76.9h0M108.6 76.0h0M46.4 78.8h0M49.4 79.2h0M40.3 82.6h0M50.4 81.8h0M78.6 82.8h0M81.6 81.4h0M56.1 84.9h0M66.8 85.1h0M69.4 84.6h0M72.9 85.4h0M77.0 84.9h0M89.7 84.7h0M43.2 88.7h0M47.7 87.4h0M69.5 90.9h0M83.5 90.9h0M58.1 94.4h0M63.8 93.8h0M67.2 94.6h0M74.2 93.9h0M95.6 93.9h0M98.2 93.7h0M58.7 97.4h0M76.5 97.4h0M100.4 103.5h0M111.1 102.8h0M57.4 105.7h0M68.4 105.1h0M74.2 105.5h0M78.6 106.4h0M102.0 106.0h0M53.2 109.5h0M66.2 108.8h0M83.6 108.6h0M86.3 108.8h0M89.4 108.6h0M110.5 108.3h0M46.9 111.0h0M50.5 112.3h0M101.4 112.0h0M93.4 114.6h0M103.5 114.7h0M107.1 114.2h0M109.6 114.3h0M81.7 118.2h0M84.6 117.9h0M91.3 118.3h0M98.1 117.7h0M45.8 119.9h0M76.9 120.4h0M83.6 121.1h0M93.1 120.0h0M46.9 123.5h0M85.2 123.3h0M88.7 124.1h0M95.7 123.7h0M111.3 123.0h0M115.5 123.0h0M126.0 123.3h0M133.0 123.4h0M66.0 126.5h0M80.4 126.3h0M99.9 127.1h0M117.1 126.2h0M123.1 126.5h0M50.3 129.8h0M74.6 129.7h0M119.5 129.1h0M128.7 130.2h0M45.4 132.3h0M59.4 132.6h0M72.4 133.0h0M79.8 132.0h0M83.5 132.7h0M87.0 132.7h0M93.6 133.1h0M124.0 131.7h0M81.6 135.9h0M111.6 135.7h0M119.1 134.8h0M122.3 134.6h0M125.2 134.7h0M128.4 134.8h0M55.3 137.5h0M100.9 137.7h0M134.5 138.6h0M137.5 137.8h0M48.1 141.2h0M57.6 141.8h0M60.6 141.0h0M71.4 141.1h0M81.7 140.9h0M87.8 141.4h0M91.6 141.2h0M119.2 140.8h0M139.5 140.8h0M62.2 144.4h0M75.6 144.6h0M79.4 144.5h0M93.9 144.1h0M36.5 147.2h0M73.9 147.5h0M85.6 146.7h0M105.8 147.0h0M65.7 149.4h0M70.2 150.1h0M111.1 150.5h0M113.9 150.9h0M128.1 149.8h0M130.4 150.1h0M143.9 149.7h0M14.1 153.0h0M29.6 153.4h0M54.3 152.6h0M57.8 152.6h0M84.2 153.9h0M101.5 153.4h0M132.6 152.7h0M28.1 156.5h0M41.5 156.7h0M45.8 155.7h0M58.5 156.7h0M76.7 156.4h0M80.3 156.3h0M100.0 155.5h0M103.2 155.4h0M57.6 158.9h0M65.1 158.8h0M112.1 158.9h0M115.9 159.8h0M31.9 162.7h0M43.1 161.8h0M45.1 161.6h0M59.2 162.6h0M20.7 164.8h0M61.4 165.2h0M11.5 167.6h0M52.3 168.4h0M33.8 171.4h0M77.5 177.1h0M10.3 182.9h0M12.7 182.9h0M14.6 185.0h0M67.1 188.1h0M19.3 191.6h0M32.7 191.7h0M19.7 194.7h0M18.9 197.3h0M35.5 196.7h0M76.0 197.3h0M82.2 199.7h0M85.0 200.3h0M74.3 205.7h0M66.9 209.0h0M86.5 209.1h0M40.7 212.9h0M67.9 211.7h0M84.1 212.5h0M31.8 216.0h0M34.8 214.5h0" stroke="#00eaff" stroke-width="6.0"/><path d="M100.1 55.0h0M67.1 58.7h0M71.3 58.9h0M88.1 58.2h0M76.0 60.9h0M123.1 62.0h0M88.6 64.2h0M95.3 64.8h0M64.7 70.8h0M84.0 70.5h0M91.8 69.6h0M48.3 73.0h0M96.3 72.9h0M41.1 76.3h0M47.4 75.6h0M51.5 76.9h0M65.1 76.8h0M68.5 76.1h0M70.7 75.4h0M87.5 75.8h0M101.7 76.0h0M112.7 76.0h0M72.6 78.5h0M83.6 79.8h0M85.7 79.5h0M96.8 79.0h0M43.6 82.7h0M54.9 81.5h0M60.4 82.2h0M68.4 82.1h0M91.8 81.4h0M63.2 84.4h0M82.4 84.7h0M87.2 85.8h0M95.6 88.6h0M97.8 87.3h0M73.4 90.8h0M76.8 91.3h0M86.6 90.7h0M79.2 96.8h0M96.1 96.9h0M75.0 100.0h0M92.0 99.7h0M73.0 102.8h0M83.0 102.5h0M41.3 105.2h0M46.7 106.4h0M51.6 105.7h0M53.6 105.7h0M87.8 105.3h0M91.0 105.6h0M49.4 108.5h0M79.8 108.3h0M93.0 108.0h0M99.7 109.0h0M60.9 111.3h0M70.5 111.9h0M84.2 112.0h0M97.9 111.6h0M118.9 111.7h0M46.3 115.2h0M69.2 114.0h0M83.1 115.4h0M121.1 115.4h0M87.7 116.9h0M122.6 118.2h0M138.8 117.2h0M52.5 121.1h0M56.1 121.3h0M86.0 121.0h0M100.1 120.3h0M107.3 121.4h0M114.1 120.5h0M117.4 120.2h0M130.3 120.4h0M138.1 120.4h0M74.6 123.2h0M80.6 122.8h0M102.5 123.5h0M128.8 122.7h0M135.6 123.2h0M63.2 127.2h0M69.9 126.7h0M73.0 127.1h0M87.2 125.9h0M89.7 126.5h0M131.3 127.0h0M53.9 128.7h0M77.2 128.7h0M94.2 129.1h0M139.2 129.3h0M52.9 132.6h0M68.8 132.0h0M75.6 132.5h0M97.3 132.6h0M102.8 132.7h0M116.6 132.5h0M128.0 132.3h0M133.8 132.5h0M137.8 132.3h0M50.5 135.3h0M72.0 134.8h0M77.8 134.7h0M88.1 135.9h0M91.4 135.4h0M102.2 135.2h0M135.5 134.7h0M65.5 138.0h0M94.1 138.4h0M116.9 138.1h0M53.7 140.9h0M64.6 141.2h0M78.7 141.8h0M112.7 141.2h0M122.2 141.7h0M125.7 141.4h0M132.1 141.6h0M59.3 143.6h0M69.9 144.5h0M83.5 143.4h0M85.7 144.7h0M100.6 144.7h0M131.4 144.8h0M40.7 147.4h0M47.5 147.6h0M54.2 146.8h0M67.2 146.7h0M107.9 147.5h0M111.6 147.3h0M131.7 146.5h0M139.3 146.9h0M142.2 146.5h0M1.5 149.9h0M11.2 150.5h0M14.9 150.7h0M17.9 150.9h0M22.2 150.8h0M39.6 150.7h0M45.5 149.6h0M56.6 150.0h0M90.5 150.5h0M96.8 149.9h0M106.3 150.4h0M51.6 153.1h0M80.6 153.4h0M98.6 153.3h0M108.9 152.5h0M14.8 155.3h0M52.0 156.8h0M65.5 155.3h0M30.6 158.2h0M109.2 158.4h0M18.7 162.4h0M22.6 162.0h0M62.7 162.7h0M31.1 165.0h0M51.4 165.4h0M8.0 168.4h0M28.2 167.8h0M31.6 167.9h0M39.2 167.8h0M46.0 168.5h0M59.6 168.5h0M62.0 168.2h0M47.4 171.2h0M60.4 170.1h0M25.0 174.1h0M9.4 176.7h0M17.1 177.0h0M34.0 177.3h0M36.7 177.3h0M81.0 176.7h0M19.1 185.7h0M45.6 186.1h0M16.9 188.4h0M43.5 188.8h0M36.7 194.3h0M16.2 199.9h0M14.6 203.2h0M18.3 202.9h0M75.8 203.8h0M27.2 211.8h0M29.1 215.8h0" stroke="#00ffff" stroke-width="6.0"/><path d="M76.3 49.6h0M73.9 51.9h0M81.7 52.4h0M95.3 51.8h0M69.5 55.4h0M86.2 55.9h0M93.4 55.6h0M95.9 55.4h0M74.8 58.5h0M78.5 58.2h0M95.8 58.5h0M59.1 61.7h0M66.3 61.3h0M68.9 62.1h0M80.4 60.9h0M61.8 65.0h0M64.9 65.1h0M70.7 65.1h0M77.4 64.9h0M70.1 67.9h0M73.4 67.2h0M79.5 66.9h0M86.6 67.0h0M90.0 66.8h0M61.2 70.8h0M119.0 70.8h0M56.5 73.2h0M73.7 73.8h0M83.8 73.5h0M86.4 73.1h0M90.2 73.5h0M117.5 73.1h0M74.0 76.0h0M35.1 78.7h0M52.7 79.0h0M62.9 79.4h0M66.3 79.9h0M79.8 78.6h0M89.2 78.8h0M103.1 79.1h0M47.6 82.3h0M94.6 81.7h0M35.1 84.7h0M80.2 85.4h0M101.1 88.5h0M79.6 91.1h0M89.7 90.9h0M93.8 91.4h0M81.1 94.4h0M85.5 93.9h0M82.8 97.1h0M34.2 100.3h0M85.1 99.2h0M98.5 99.6h0M114.7 100.3h0M75.6 102.3h0M89.3 102.6h0M34.0 105.3h0M81.0 106.3h0M97.8 105.2h0M108.6 106.2h0M111.4 106.3h0M131.8 105.4h0M55.3 109.2h0M73.6 108.0h0M97.1 108.0h0M103.7 109.2h0M121.1 108.5h0M123.5 109.1h0M130.8 109.0h0M65.0 112.0h0M88.7 111.7h0M91.0 112.5h0M95.0 111.4h0M105.3 110.9h0M111.9 111.1h0M72.8 115.2h0M89.4 114.1h0M96.0 114.0h0M100.7 113.9h0M116.8 114.8h0M137.4 114.8h0M64.7 117.1h0M71.8 117.3h0M74.3 117.0h0M77.7 118.3h0M95.2 117.3h0M132.3 118.2h0M102.9 121.1h0M121.1 120.0h0M126.8 120.9h0M133.9 120.2h0M78.4 123.1h0M108.0 123.6h0M118.6 123.6h0M82.8 127.0h0M93.9 125.9h0M104.2 127.1h0M110.6 125.9h0M80.8 129.4h0M85.1 130.2h0M99.0 129.6h0M101.1 129.1h0M108.0 130.2h0M111.6 129.6h0M114.7 129.0h0M125.5 129.5h0M131.7 129.5h0M100.8 132.8h0M106.7 132.7h0M130.0 133.1h0M53.9 136.1h0M58.4 135.1h0M64.1 134.6h0M85.2 136.1h0M115.4 134.7h0M132.5 134.9h0M62.1 138.4h0M68.8 138.9h0M80.1 137.7h0M102.8 137.9h0M113.3 138.1h0M121.3 138.1h0M128.0 138.2h0M130.7 137.9h0M94.7 140.9h0M105.7 141.9h0M115.9 141.3h0M136.2 141.2h0M142.0 141.6h0M109.6 144.8h0M13.6 147.4h0M57.2 147.8h0M60.3 147.4h0M78.2 146.6h0M94.3 146.4h0M98.5 147.3h0M101.4 147.9h0M25.9 149.6h0M28.3 149.6h0M32.8 149.7h0M35.2 149.5h0M63.4 150.6h0M86.6 149.7h0M104.0 150.6h0M16.0 153.9h0M24.2 153.4h0M33.6 153.4h0M68.1 153.4h0M95.6 152.6h0M11.1 156.0h0M22.1 155.7h0M56.5 155.5h0M62.4 156.2h0M6.4 159.2h0M13.2 159.1h0M20.8 159.6h0M54.6 158.9h0M35.4 162.3h0M39.0 161.3h0M48.7 162.1h0M52.3 162.7h0M6.2 165.1h0M23.0 164.3h0M34.1 165.5h0M44.2 165.7h0M17.9 168.4h0M42.2 168.0h0M55.5 167.2h0M7.3 171.3h0M30.1 170.6h0M43.5 170.4h0M8.3 174.0h0M11.9 174.0h0M15.4 173.0h0M22.1 174.6h0M76.0 174.0h0M80.4 173.8h0M13.0 176.7h0M74.7 176.6h0M11.9 179.8h0M63.2 179.6h0M73.3 179.9h0M16.8 182.2h0M44.5 183.0h0M65.2 182.5h0M11.7 185.3h0M13.9 188.7h0M21.6 192.3h0M34.9 192.3h0M41.8 190.8h0M22.3 204.0h0M23.0 205.7h0M24.9 208.6h0M28.7 209.7h0M32.4 208.6h0M30.8 211.9h0" stroke="#15ffea" stroke-width="6.0"/><path d="M79.6 8.3h0M77.7 10.7h0M93.2 14.5h0M67.7 45.9h0M87.5 46.8h0M73.4 49.2h0M97.0 50.2h0M71.0 52.8h0M98.4 53.0h0M90.6 55.8h0M46.4 61.6h0M48.9 61.7h0M86.7 61.6h0M43.8 64.0h0M67.2 64.7h0M81.0 64.3h0M39.0 67.9h0M43.1 67.6h0M45.0 66.9h0M48.9 66.7h0M53.1 67.7h0M55.3 66.7h0M65.5 66.6h0M76.0 67.1h0M47.7 70.7h0M54.9 69.5h0M58.3 69.6h0M75.2 70.3h0M77.7 69.7h0M81.0 69.6h0M87.9 70.1h0M80.4 73.7h0M93.7 72.5h0M43.3 76.5h0M54.1 76.8h0M77.8 76.6h0M84.8 76.1h0M91.6 75.4h0M95.4 76.1h0M39.5 78.6h0M76.1 79.8h0M92.8 79.6h0M100.1 78.9h0M33.2 82.6h0M37.7 82.8h0M85.1 81.3h0M100.0 84.6h0M104.1 84.6h0M77.2 87.6h0M80.9 88.0h0M84.1 88.1h0M87.6 88.6h0M91.4 88.7h0M105.4 87.3h0M97.3 90.6h0M110.4 90.3h0M87.9 94.6h0M91.8 93.6h0M86.0 97.6h0M90.1 96.2h0M106.3 96.7h0M78.6 99.8h0M87.4 100.4h0M102.3 100.5h0M104.5 99.7h0M108.3 99.8h0M122.0 100.1h0M132.1 100.3h0M136.5 100.2h0M31.9 103.5h0M41.7 103.1h0M79.9 102.8h0M86.0 102.8h0M92.9 102.4h0M106.2 103.3h0M113.5 103.3h0M124.1 102.6h0M127.8 102.2h0M36.6 105.1h0M44.1 105.4h0M95.7 105.9h0M104.5 105.7h0M114.7 105.8h0M135.2 105.8h0M106.5 108.0h0M113.0 109.4h0M116.9 109.0h0M26.4 111.4h0M81.5 111.9h0M108.5 112.3h0M121.9 111.1h0M85.7 115.1h0M113.7 115.4h0M26.9 117.1h0M47.6 116.9h0M105.2 117.9h0M108.1 118.1h0M112.2 117.7h0M116.2 118.1h0M128.4 117.6h0M49.2 120.8h0M111.1 120.9h0M98.5 122.8h0M121.6 123.9h0M45.3 126.7h0M76.8 126.4h0M113.3 126.4h0M120.7 126.1h0M91.8 129.8h0M122.9 128.9h0M90.6 132.3h0M110.8 131.9h0M113.6 131.7h0M140.6 132.9h0M60.6 135.8h0M73.8 135.5h0M94.8 135.8h0M98.8 135.2h0M76.4 138.3h0M83.7 137.7h0M86.8 138.7h0M90.7 137.5h0M107.0 137.5h0M141.6 138.7h0M85.4 141.5h0M98.7 140.9h0M101.3 141.5h0M5.3 144.2h0M45.0 144.2h0M49.0 145.0h0M51.8 144.4h0M90.4 144.6h0M104.2 143.6h0M106.5 143.8h0M134.1 144.7h0M137.0 144.1h0M9.2 146.5h0M44.7 146.6h0M50.0 147.4h0M70.9 146.8h0M81.7 146.7h0M91.1 146.8h0M4.2 150.8h0M49.0 150.4h0M59.8 150.1h0M73.5 149.6h0M79.5 150.0h0M82.3 150.2h0M3.1 153.7h0M48.2 152.8h0M71.5 153.5h0M75.3 153.0h0M32.1 155.5h0M39.5 156.8h0M72.4 156.1h0M10.3 158.6h0M16.6 159.2h0M22.9 159.2h0M37.0 159.5h0M47.3 158.9h0M61.6 158.9h0M81.4 159.6h0M5.4 161.7h0M25.1 161.3h0M28.3 162.5h0M56.2 161.7h0M13.1 165.0h0M16.6 164.3h0M27.8 164.2h0M41.2 164.3h0M48.0 164.2h0M21.8 168.2h0M35.6 168.6h0M13.0 170.5h0M16.5 170.1h0M26.5 170.3h0M38.0 171.0h0M40.5 171.4h0M67.2 171.0h0M81.8 171.5h0M18.4 173.7h0M66.7 174.1h0M19.5 177.4h0M71.6 176.4h0M18.2 180.0h0M32.0 180.2h0M33.7 181.9h0M70.1 185.1h0M29.1 191.2h0M23.3 193.8h0M34.1 195.3h0M32.4 196.9h0M27.0 206.9h0M29.8 206.2h0M33.4 212.2h0" stroke="#2bffd4" stroke-width="6.0"/><path d="M75.6 2.7h0M92.2 5.0h0M83.4 7.7h0M89.9 7.6h0M97.1 8.4h0M85.4 10.7h0M95.1 10.5h0M98.6 10.5h0M89.3 13.3h0M68.2 16.6h0M80.7 16.4h0M87.8 23.2h0M95.2 23.7h0M82.6 26.3h0M93.5 25.2h0M84.5 28.3h0M88.5 29.2h0M79.3 31.6h0M68.1 35.4h0M78.4 34.7h0M81.5 34.2h0M84.1 35.5h0M66.0 37.7h0M69.6 38.3h0M78.8 41.4h0M81.4 40.5h0M79.2 43.0h0M58.0 47.3h0M83.2 49.9h0M85.8 50.1h0M49.2 54.7h0M62.9 55.4h0M73.0 56.1h0M80.3 55.5h0M83.6 55.1h0M40.4 58.0h0M64.2 58.2h0M84.3 58.3h0M91.4 58.5h0M129.3 59.2h0M82.7 61.9h0M30.1 64.5h0M33.4 64.7h0M41.0 64.9h0M46.7 63.7h0M50.5 64.2h0M54.7 64.2h0M75.4 64.4h0M85.4 64.8h0M92.3 64.3h0M82.4 67.1h0M37.5 70.6h0M44.5 70.5h0M50.2 70.5h0M70.6 69.7h0M32.9 74.0h0M35.4 73.4h0M42.2 72.5h0M45.3 73.9h0M52.2 73.7h0M59.4 72.9h0M31.1 75.4h0M33.1 76.6h0M37.0 76.0h0M81.4 76.3h0M41.5 79.6h0M106.8 78.5h0M88.9 81.7h0M97.8 82.3h0M101.6 81.5h0M112.7 82.3h0M38.8 85.5h0M93.9 84.6h0M96.6 85.1h0M109.8 84.9h0M33.1 87.3h0M100.4 90.9h0M104.2 91.3h0M30.3 94.2h0M101.2 93.6h0M106.0 94.7h0M109.3 94.1h0M115.1 93.2h0M103.4 96.2h0M120.0 96.4h0M94.6 100.1h0M119.0 99.2h0M125.9 100.2h0M38.3 103.5h0M96.3 102.2h0M103.2 102.9h0M117.1 102.9h0M131.0 102.5h0M25.2 109.2h0M127.5 108.9h0M133.7 108.2h0M115.0 111.7h0M132.2 110.9h0M21.7 115.4h0M126.9 114.3h0M134.3 114.2h0M101.8 118.0h0M118.6 117.0h0M126.2 117.3h0M89.2 121.2h0M123.7 120.1h0M91.9 124.1h0M105.9 123.3h0M139.5 123.3h0M97.4 127.0h0M133.9 126.0h0M137.1 126.6h0M26.6 129.8h0M46.7 130.2h0M48.4 132.7h0M26.2 134.6h0M105.3 135.5h0M108.0 134.8h0M138.6 134.9h0M45.5 137.8h0M96.1 139.1h0M10.7 141.0h0M26.8 141.2h0M50.7 141.3h0M1.2 144.6h0M12.2 144.5h0M24.7 143.9h0M55.2 143.7h0M66.1 144.5h0M72.3 145.0h0M96.1 144.7h0M6.8 147.0h0M16.4 146.6h0M34.6 146.7h0M64.2 146.8h0M87.4 147.4h0M8.9 150.2h0M42.2 149.9h0M53.1 149.4h0M76.1 150.6h0M93.3 149.5h0M20.0 152.5h0M27.1 153.5h0M37.3 152.5h0M40.8 152.4h0M44.3 153.6h0M60.9 153.7h0M64.9 152.8h0M78.2 153.4h0M5.3 156.8h0M19.0 155.5h0M26.0 155.3h0M34.9 155.4h0M49.1 156.3h0M69.0 156.0h0M34.0 158.3h0M40.7 159.6h0M43.4 159.7h0M51.5 158.6h0M68.4 158.7h0M71.8 158.8h0M74.4 158.3h0M77.2 158.6h0M11.4 162.5h0M14.8 161.9h0M10.1 165.3h0M54.2 165.0h0M15.8 167.5h0M26.1 168.6h0M9.2 170.7h0M20.3 171.7h0M24.0 170.2h0M50.8 170.4h0M54.1 171.2h0M57.4 170.8h0M72.6 174.4h0M64.4 176.0h0M67.7 177.0h0M14.6 179.9h0M34.8 180.4h0M40.2 183.4h0M32.9 185.0h0M35.4 186.0h0M42.3 186.3h0M31.1 194.7h0M22.2 197.1h0M20.8 200.5h0M17.4 206.1h0" stroke="#40ffbf" stroke-width="6.0"/><path d="M75.3 -0.1h0M81.2 0.1h0M82.8 1.5h0M86.2 2.9h0M97.1 3.0h0M87.6 4.9h0M97.7 4.7h0M88.3 10.5h0M66.3 13.7h0M86.2 13.5h0M71.9 16.5h0M74.3 16.7h0M84.4 16.8h0M92.0 17.3h0M72.2 20.4h0M82.8 19.4h0M90.5 20.5h0M99.7 20.5h0M64.6 22.4h0M78.5 23.4h0M81.4 23.4h0M98.4 22.9h0M102.5 22.4h0M89.2 26.1h0M94.3 28.8h0M82.4 32.2h0M64.7 34.6h0M88.2 35.3h0M72.6 37.1h0M80.4 37.3h0M86.7 37.0h0M84.9 40.4h0M91.1 40.2h0M65.8 44.1h0M76.2 43.0h0M83.8 43.9h0M71.2 46.2h0M74.1 46.9h0M84.5 46.5h0M95.1 45.9h0M45.8 50.3h0M59.5 48.8h0M69.9 49.6h0M57.5 52.9h0M64.8 53.2h0M67.8 52.7h0M77.8 52.0h0M84.7 53.1h0M88.5 52.4h0M101.8 52.0h0M32.7 54.7h0M36.2 55.8h0M52.5 55.7h0M66.2 56.2h0M50.2 58.6h0M53.6 57.7h0M81.3 58.2h0M55.1 61.9h0M62.1 61.7h0M89.1 61.7h0M58.1 64.3h0M125.3 64.7h0M25.9 67.4h0M29.3 68.1h0M30.1 70.5h0M40.8 69.5h0M121.7 70.6h0M26.6 76.8h0M115.5 76.8h0M109.9 78.8h0M27.6 81.7h0M104.9 81.8h0M32.4 85.0h0M37.1 87.9h0M108.0 87.5h0M28.5 90.7h0M106.3 91.3h0M28.3 96.7h0M94.1 96.3h0M100.7 96.7h0M36.8 99.6h0M128.3 100.6h0M35.7 102.3h0M122.4 106.3h0M129.0 105.9h0M125.8 111.7h0M135.6 111.3h0M123.2 115.3h0M136.0 118.2h0M9.0 137.8h0M15.8 139.1h0M25.8 138.3h0M6.2 141.1h0M12.8 142.0h0M24.2 141.4h0M15.6 144.1h0M22.2 144.5h0M2.6 146.9h0M19.9 146.9h0M5.9 153.0h0M10.1 153.7h0M7.5 155.7h0M26.6 159.4h0M7.6 161.9h0M37.3 165.4h0M58.1 164.6h0M49.0 168.2h0M70.2 173.2h0M70.0 178.9h0M37.5 182.3h0M67.0 182.0h0M70.5 182.2h0M39.4 185.3h0M65.5 186.1h0M33.2 188.4h0M37.7 188.4h0M25.4 204.1h0M20.6 206.3h0" stroke="#55ffaa" stroke-width="6.0"/><path d="M88.5 0.1h0M94.6 -0.5h0M92.7 2.4h0M100.4 2.3h0M64.0 4.7h0M78.3 4.4h0M84.4 4.4h0M95.5 5.7h0M100.0 8.0h0M80.9 10.6h0M101.9 11.6h0M76.8 14.9h0M83.3 14.0h0M96.9 13.5h0M64.8 16.5h0M78.1 16.4h0M88.7 17.3h0M95.2 17.4h0M46.2 19.9h0M69.6 20.5h0M76.7 20.8h0M79.3 19.8h0M97.0 19.6h0M60.7 23.3h0M67.4 23.5h0M90.8 29.7h0M35.9 31.0h0M45.1 31.6h0M52.1 31.1h0M55.3 32.6h0M89.5 31.9h0M27.2 35.5h0M29.7 35.3h0M50.6 34.5h0M54.7 34.1h0M60.3 34.4h0M32.1 38.3h0M46.2 37.7h0M76.3 38.5h0M83.4 37.1h0M55.0 41.0h0M67.3 41.2h0M74.5 40.4h0M28.7 43.9h0M35.2 42.9h0M39.5 43.3h0M49.2 43.8h0M52.3 44.1h0M72.9 43.3h0M86.6 43.5h0M93.2 43.8h0M26.3 46.8h0M40.7 46.5h0M82.2 45.9h0M98.4 46.5h0M104.6 47.0h0M52.4 49.3h0M55.9 49.3h0M62.7 49.8h0M79.7 50.3h0M93.0 49.7h0M100.6 48.8h0M24.4 52.2h0M34.0 52.4h0M51.1 52.8h0M61.7 51.7h0M91.6 52.3h0M29.2 55.2h0M45.0 56.0h0M76.5 55.4h0M26.7 57.7h0M48.2 59.1h0M61.7 58.2h0M31.4 61.8h0M42.9 61.4h0M51.9 62.0h0M126.8 61.9h0M58.6 66.8h0M27.6 70.4h0M25.3 73.0h0M38.2 72.8h0M19.9 75.5h0M25.7 79.8h0M20.6 81.7h0M31.0 82.4h0M108.9 81.5h0M115.0 81.9h0M118.9 82.8h0M106.5 84.5h0M116.8 85.8h0M121.0 85.4h0M30.2 87.3h0M118.6 88.4h0M117.0 91.6h0M121.0 90.3h0M23.6 93.6h0M34.4 94.4h0M119.0 94.1h0M21.4 96.4h0M31.7 97.3h0M36.0 96.4h0M109.7 96.6h0M116.3 97.2h0M131.0 96.8h0M134.4 96.7h0M111.3 99.6h0M119.9 102.3h0M26.6 105.8h0M30.6 105.5h0M118.2 105.6h0M125.9 106.3h0M137.6 108.3h0M17.0 111.7h0M128.4 111.1h0M17.9 115.4h0M131.1 114.4h0M24.1 118.1h0M19.0 120.9h0M22.3 121.0h0M26.8 123.7h0M17.9 127.1h0M25.1 132.5h0M10.7 136.0h0M11.4 137.8h0M19.2 144.8h0M66.9 179.8h0" stroke="#6aff95" stroke-width="6.0"/><path d="M40.0 -0.2h0M53.5 -0.1h0M91.6 -0.6h0M28.3 2.7h0M32.4 3.0h0M43.0 2.9h0M45.1 1.6h0M58.9 1.7h0M80.0 1.9h0M0.0 6.0h0M34.2 5.2h0M47.0 5.8h0M80.7 5.4h0M5.1 7.6h0M63.1 8.8h0M87.2 8.2h0M93.2 8.4h0M10.6 11.8h0M30.2 10.6h0M57.5 11.2h0M64.3 10.7h0M92.0 10.7h0M25.2 13.6h0M60.1 13.8h0M63.5 13.6h0M70.0 14.3h0M99.8 14.0h0M103.4 13.9h0M2.7 17.5h0M34.4 17.7h0M40.1 17.1h0M44.5 17.4h0M61.2 16.9h0M62.2 19.4h0M65.5 19.8h0M86.7 20.5h0M93.5 19.3h0M103.9 20.7h0M34.1 23.5h0M43.2 23.0h0M54.9 23.1h0M84.8 23.2h0M91.1 22.9h0M104.5 23.2h0M35.9 25.7h0M79.4 25.3h0M96.0 26.5h0M23.4 28.8h0M40.4 28.8h0M58.0 28.8h0M63.9 29.1h0M82.1 29.6h0M102.5 28.3h0M17.7 32.4h0M29.5 31.3h0M49.1 31.8h0M69.0 32.4h0M96.6 32.0h0M44.5 34.4h0M73.9 34.2h0M43.1 37.2h0M52.3 37.2h0M3.9 40.8h0M23.7 40.0h0M26.8 40.0h0M30.4 40.2h0M43.3 40.2h0M57.9 41.2h0M70.7 40.9h0M95.3 40.4h0M56.4 43.2h0M70.0 44.0h0M89.5 44.2h0M24.1 45.9h0M44.0 46.7h0M50.9 46.0h0M53.7 46.6h0M77.3 46.9h0M92.2 46.0h0M66.5 49.5h0M90.1 49.8h0M27.4 52.8h0M36.9 52.9h0M46.9 52.7h0M25.0 55.4h0M43.1 56.2h0M56.6 54.8h0M60.0 54.8h0M23.3 58.5h0M37.1 58.7h0M44.6 58.6h0M57.4 59.1h0M8.0 62.2h0M35.3 61.6h0M130.0 60.9h0M20.6 64.3h0M132.3 64.2h0M18.6 67.3h0M21.3 67.9h0M34.9 67.5h0M124.1 67.3h0M130.4 66.7h0M23.1 69.9h0M33.0 69.8h0M128.4 70.2h0M28.5 72.9h0M126.7 72.9h0M3.1 76.8h0M29.4 79.9h0M32.8 79.9h0M114.3 79.4h0M4.7 85.0h0M25.9 85.5h0M3.1 87.6h0M10.3 88.3h0M17.6 87.8h0M20.3 88.7h0M115.9 87.5h0M129.6 87.4h0M4.6 91.0h0M10.0 94.4h0M17.5 94.7h0M19.8 93.9h0M26.5 93.2h0M112.2 93.8h0M132.6 93.5h0M5.1 97.6h0M11.1 96.8h0M24.7 97.0h0M113.4 97.7h0M124.4 96.3h0M0.4 99.5h0M30.1 100.4h0M14.8 102.1h0M29.0 103.3h0M133.8 102.5h0M10.0 105.5h0M12.9 105.8h0M24.2 106.4h0M24.1 111.3h0M15.2 114.7h0M8.1 120.0h0M25.2 120.6h0M17.4 124.1h0M22.8 123.0h0M15.6 125.8h0M25.3 126.3h0M5.9 136.0h0M13.2 135.5h0M16.5 141.8h0M19.4 141.3h0M8.6 144.1h0" stroke="#80ff80" stroke-width="6.0"/><path d="M10.0 -0.7h0M36.6 0.0h0M64.8 -0.6h0M1.2 2.1h0M15.5 1.5h0M39.0 1.9h0M62.5 2.6h0M65.4 2.6h0M89.9 2.3h0M13.7 5.5h0M22.8 4.9h0M37.9 5.5h0M43.6 5.9h0M60.9 5.1h0M14.4 8.7h0M42.8 7.4h0M7.1 11.8h0M13.1 11.3h0M19.9 10.7h0M23.6 11.5h0M61.5 10.4h0M1.9 13.5h0M18.0 14.1h0M28.2 14.7h0M73.4 14.7h0M80.0 14.1h0M7.3 16.7h0M16.4 16.8h0M57.5 17.2h0M98.8 17.3h0M101.4 17.3h0M1.4 19.2h0M24.9 19.5h0M42.5 19.5h0M52.7 19.9h0M59.6 19.5h0M13.3 22.5h0M37.2 22.8h0M71.2 23.4h0M5.0 26.4h0M24.9 26.6h0M32.4 25.2h0M49.1 26.1h0M56.3 26.5h0M62.0 25.7h0M66.6 26.0h0M69.3 26.2h0M86.0 26.2h0M100.3 25.3h0M3.5 28.9h0M13.2 29.4h0M33.7 28.3h0M50.8 28.6h0M53.5 28.6h0M61.2 28.5h0M68.0 29.5h0M11.8 32.3h0M22.2 32.6h0M42.2 31.2h0M59.6 31.8h0M62.4 32.6h0M65.9 31.7h0M86.9 31.7h0M93.8 31.2h0M100.2 32.6h0M12.7 34.5h0M16.5 35.3h0M41.1 34.7h0M70.5 34.6h0M91.4 35.3h0M98.9 35.5h0M101.1 34.8h0M5.6 38.5h0M14.5 37.1h0M28.1 38.4h0M49.4 38.2h0M90.4 37.2h0M13.4 40.0h0M41.1 41.2h0M47.1 40.9h0M7.9 43.4h0M11.1 44.4h0M17.9 44.0h0M31.9 44.0h0M42.0 43.2h0M45.0 43.7h0M99.5 44.3h0M19.8 47.1h0M37.0 47.1h0M4.6 50.1h0M22.6 49.2h0M26.1 49.3h0M28.8 49.2h0M38.5 50.0h0M48.9 49.0h0M103.3 50.1h0M31.0 53.0h0M43.4 51.9h0M54.4 53.2h0M38.3 55.8h0M2.6 58.4h0M7.0 58.3h0M33.4 58.2h0M39.5 61.9h0M9.7 64.2h0M13.3 64.4h0M26.5 64.9h0M37.3 65.0h0M4.5 66.6h0M15.8 67.4h0M32.4 66.6h0M6.5 69.8h0M10.7 69.6h0M19.4 70.1h0M9.0 72.6h0M18.7 73.6h0M10.4 75.6h0M13.0 76.1h0M116.4 78.5h0M9.8 81.8h0M28.9 85.2h0M113.5 84.7h0M127.3 85.6h0M6.5 88.2h0M112.0 87.6h0M132.5 87.8h0M8.3 91.3h0M11.2 91.5h0M32.1 90.5h0M113.1 90.3h0M124.3 91.1h0M133.5 90.7h0M122.7 94.3h0M128.3 93.2h0M1.2 96.2h0M127.5 96.1h0M10.3 99.7h0M13.4 100.6h0M1.7 102.2h0M18.0 102.9h0M24.9 102.0h0M17.7 108.9h0M22.0 109.0h0M0.5 112.0h0M6.7 111.1h0M1.8 114.6h0M25.2 115.4h0M12.8 117.2h0M20.1 118.3h0M19.9 124.3h0M4.4 126.6h0M11.0 127.0h0M21.7 126.3h0M2.8 128.8h0M24.0 128.9h0M12.1 132.2h0M15.5 131.9h0M2.6 135.3h0M2.8 141.9h0" stroke="#95ff6a" stroke-width="6.0"/><path d="M61.8 -0.1h0M9.1 2.7h0M25.9 2.0h0M52.7 1.7h0M26.8 4.6h0M9.0 8.2h0M12.0 8.5h0M17.8 7.9h0M60.1 8.3h0M33.1 11.4h0M39.8 11.5h0M47.2 11.3h0M4.3 14.3h0M15.1 14.2h0M35.4 14.5h0M38.7 13.7h0M42.8 14.4h0M47.1 16.5h0M15.7 19.3h0M18.3 19.8h0M48.6 19.5h0M-0.2 23.7h0M6.0 23.5h0M10.7 23.7h0M26.7 22.3h0M40.4 22.9h0M48.1 23.0h0M57.8 22.2h0M12.2 26.0h0M18.5 25.2h0M22.6 26.7h0M27.9 25.5h0M39.2 25.8h0M42.3 26.4h0M46.5 26.4h0M104.1 25.4h0M0.0 29.4h0M7.2 28.6h0M29.8 29.5h0M46.7 28.7h0M98.9 28.9h0M4.8 31.6h0M14.9 32.0h0M24.9 31.6h0M32.7 31.5h0M39.3 32.5h0M0.4 35.1h0M10.4 34.3h0M23.2 34.5h0M25.1 37.9h0M35.1 37.0h0M38.4 38.1h0M59.1 37.7h0M20.9 41.2h0M37.1 41.0h0M50.5 40.2h0M88.7 40.8h0M4.5 43.9h0M24.7 42.9h0M3.8 46.9h0M33.6 47.2h0M48.2 46.1h0M31.7 49.5h0M35.9 50.3h0M42.5 49.6h0M6.3 52.3h0M40.6 52.8h0M11.6 54.7h0M22.7 55.0h0M13.8 58.1h0M20.4 58.2h0M31.0 58.2h0M0.9 61.4h0M5.6 62.0h0M12.0 60.6h0M21.5 61.5h0M25.9 61.9h0M28.4 61.8h0M129.2 64.5h0M8.3 67.9h0M120.0 73.6h0M124.2 72.9h0M22.8 77.0h0M119.6 76.0h0M125.7 75.8h0M15.6 79.5h0M17.9 78.8h0M124.3 79.7h0M127.8 78.5h0M3.0 82.0h0M6.2 82.4h0M24.4 82.2h0M122.3 82.3h0M125.9 82.8h0M128.2 82.2h0M131.7 82.6h0M11.7 85.7h0M21.3 85.6h0M131.3 84.4h0M134.4 85.5h0M13.3 87.8h0M121.9 87.5h0M126.6 91.6h0M3.5 93.9h0M13.6 94.4h0M125.3 94.2h0M15.9 96.8h0M18.0 96.5h0M16.3 100.6h0M27.1 99.7h0M11.0 103.2h0M21.3 103.3h0M3.8 105.2h0M7.0 105.2h0M16.1 106.6h0M19.7 106.3h0M4.1 108.6h0M12.1 108.2h0M15.7 108.6h0M2.6 111.9h0M13.8 112.2h0M5.3 114.3h0M3.5 118.1h0M6.2 117.1h0M9.3 118.2h0M15.5 120.7h0M7.4 122.8h0M10.4 123.7h0M8.6 125.9h0M13.0 129.0h0M5.4 132.6h0M9.0 131.6h0M5.0 137.9h0" stroke="#aaff55" stroke-width="6.0"/><path d="M11.3 3.0h0M22.1 2.1h0M3.2 5.2h0M7.2 5.7h0M17.5 5.0h0M40.3 5.4h0M0.8 8.2h0M22.1 7.7h0M29.2 8.8h0M45.9 8.3h0M17.3 10.8h0M27.3 10.9h0M36.6 11.7h0M11.6 14.4h0M32.4 13.7h0M45.4 14.7h0M48.5 14.4h0M0.4 17.6h0M14.0 17.4h0M26.9 17.4h0M4.7 19.5h0M9.1 20.7h0M12.3 20.0h0M29.2 19.6h0M31.6 20.2h0M39.5 20.0h0M16.3 22.4h0M19.5 23.1h0M50.5 23.3h0M0.9 25.1h0M8.6 25.8h0M51.8 26.5h0M60.1 25.9h0M26.8 28.4h0M43.8 28.5h0M104.3 32.6h0M20.9 35.5h0M34.4 34.3h0M37.2 35.0h0M48.0 35.4h0M56.8 34.7h0M21.3 38.4h0M56.4 37.5h0M93.2 37.6h0M100.2 37.1h0M0.1 41.3h0M33.1 40.6h0M102.5 41.4h0M2.0 44.2h0M97.1 44.2h0M12.8 46.1h0M30.7 46.5h0M101.2 46.2h0M1.8 50.3h0M12.1 50.4h0M9.8 52.4h0M5.6 55.3h0M18.6 55.8h0M17.2 59.2h0M15.3 61.7h0M6.7 64.7h0M16.1 64.6h0M23.6 64.0h0M127.3 67.7h0M16.7 71.0h0M2.3 73.4h0M22.1 73.4h0M16.3 76.2h0M4.1 78.5h0M11.1 79.1h0M17.1 82.3h0M135.0 82.3h0M2.0 84.9h0M8.2 85.4h0M15.1 85.0h0M18.2 84.6h0M22.8 87.9h0M27.3 87.8h0M1.6 91.2h0M14.9 91.1h0M19.0 91.2h0M21.2 90.7h0M25.1 90.7h0M135.4 94.1h0M7.7 96.8h0M20.6 100.0h0M22.8 99.8h0M4.7 102.2h0M7.9 109.4h0M19.8 112.0h0M8.1 115.1h0M12.3 115.1h0M16.6 116.9h0M1.1 121.0h0M4.2 120.6h0M12.3 121.0h0M-0.0 123.6h0M10.8 129.7h0M1.6 138.2h0" stroke="#bfff40" stroke-width="6.0"/><path d="M6.1 -0.2h0M27.8 -0.3h0M4.2 2.0h0M19.0 2.7h0M35.6 2.5h0M49.0 1.7h0M10.4 5.5h0M29.7 4.9h0M25.3 7.6h0M31.6 8.6h0M35.6 8.8h0M38.7 8.9h0M0.1 11.7h0M3.0 10.7h0M43.9 11.1h0M7.9 13.9h0M21.6 13.6h0M9.5 16.9h0M22.9 17.8h0M29.9 17.2h0M37.5 17.0h0M21.2 20.3h0M35.8 19.3h0M3.2 23.6h0M24.0 23.1h0M30.0 23.7h0M15.3 25.4h0M10.4 29.5h0M16.9 28.8h0M20.6 29.1h0M37.3 28.3h0M2.1 31.7h0M3.4 34.5h0M94.5 34.9h0M2.2 37.4h0M11.2 37.2h0M18.6 37.5h0M96.5 38.4h0M104.2 37.4h0M10.4 41.4h0M16.1 41.4h0M98.6 41.5h0M15.9 44.0h0M21.9 43.6h0M102.9 43.5h0M16.2 46.6h0M15.4 49.4h0M18.6 49.5h0M20.5 53.0h0M8.3 55.7h0M10.1 58.4h0M18.1 61.3h0M3.2 63.6h0M1.2 67.8h0M11.3 67.5h0M2.8 70.9h0M124.9 71.1h0M5.3 72.8h0M11.3 73.4h0M15.7 73.2h0M7.3 75.5h0M122.7 76.9h0M0.7 78.4h0M8.4 78.6h0M21.9 78.8h0M120.8 78.8h0M-0.1 82.9h0M14.2 81.4h0M123.5 84.4h0M125.5 87.9h0M130.8 91.0h0M6.0 93.2h0M2.4 99.8h0M7.3 100.3h0M8.9 103.3h0M2.1 109.3h0M9.4 111.8h0M3.4 122.8h0M14.1 124.1h0M1.8 126.2h0M6.8 128.7h0M1.2 132.1h0" stroke="#d5ff2a" stroke-width="6.0"/><path d="M20.7 6.0h0M20.1 17.6h0M7.9 31.8h0M6.7 35.4h0M7.7 38.5h0M6.9 41.2h0M5.9 46.8h0M10.4 47.3h0M8.8 48.9h0M0.4 52.8h0M2.5 52.5h0M13.0 52.5h0M16.6 52.1h0M0.8 55.7h0M14.3 55.8h0M13.0 70.1h0" stroke="#eaff15" stroke-width="6.0"/></g></g>
<use href="#map" transform="translate(195.5,486.5) scale(1.00000,1.00094)"/>
<rect x="195.5" y="486.5" width="234.0" height="213.0" fill="none" stroke="#000" stroke-width="1"/>
<g transform="translate(616.5,486.5) scale(1.00000,1.00094)"><g fill="none" stroke-linecap="round"><path d="M3.1 -0.5h0M13.7 -0.5h0M20.1 -0.1h0M23.0 -0.2h0M30.2 -0.2h0M33.5 -0.6h0M37.7 -0.3h0M40.2 -0.3h0M43.4 -0.4h0M51.2 -0.4h0M64.6 -0.3h0M68.4 -0.1h0M74.7 -0.6h0M81.9 -0.6h0M88.7 -0.5h0M98.7 -0.6h0M1.0 2.4h0M4.5 2.6h0M7.9 2.2h0M11.7 2.7h0M15.1 2.5h0M18.8 2.2h0M21.4 2.6h0M25.8 2.5h0M28.3 2.7h0M32.0 1.8h0M35.3 2.2h0M38.9 1.9h0M42.6 2.7h0M45.8 2.7h0M58.9 1.9h0M62.9 2.1h0M65.6 2.0h0M75.9 1.7h0M79.5 2.2h0M82.5 2.1h0M86.3 2.8h0M89.8 2.6h0M93.4 2.7h0M96.5 1.8h0M99.7 2.1h0M3.6 5.1h0M6.6 5.4h0M10.4 5.5h0M13.0 4.7h0M16.3 5.3h0M20.0 5.1h0M24.1 5.4h0M26.4 5.5h0M30.3 5.6h0M34.3 5.5h0M37.1 5.3h0M40.5 4.8h0M44.4 5.7h0M47.3 4.9h0M60.8 4.8h0M64.1 5.7h0M77.5 4.7h0M81.5 5.2h0M85.0 5.2h0M88.3 5.0h0M91.7 5.5h0M95.2 5.3h0M98.9 5.3h0M1.9 7.8h0M5.2 8.3h0M8.7 8.5h0M12.2 8.3h0M14.7 7.7h0M18.9 8.0h0M21.4 8.1h0M24.8 7.9h0M28.2 8.1h0M31.7 7.6h0M35.1 8.7h0M39.1 8.7h0M42.0 8.6h0M46.2 8.0h0M59.8 8.3h0M62.9 8.4h0M79.9 8.4h0M83.7 8.1h0M86.4 8.1h0M90.5 7.6h0M93.1 8.5h0M96.7 7.7h0M100.2 8.4h0M3.2 11.3h0M7.1 10.7h0M10.5 11.3h0M13.9 10.7h0M16.3 11.3h0M20.0 11.1h0M23.9 11.4h0M27.4 10.6h0M30.0 10.7h0M33.3 10.6h0M37.1 11.5h0M40.1 11.5h0M44.6 10.6h0M47.3 11.7h0M61.4 11.5h0M64.8 11.7h0M78.4 11.4h0M81.5 10.6h0M84.6 11.5h0M88.3 11.0h0M91.5 10.6h0M95.5 11.5h0M98.4 11.4h0M101.6 11.2h0M2.0 14.0h0M5.1 14.5h0M8.0 14.0h0M11.2 14.5h0M15.6 13.9h0M18.8 14.0h0M21.3 13.6h0M25.1 14.0h0M28.7 14.2h0M32.5 13.6h0M35.8 13.8h0M38.5 13.6h0M42.9 14.1h0M45.3 14.7h0M48.8 14.6h0M58.7 14.5h0M63.0 14.5h0M66.1 14.4h0M69.3 13.7h0M72.3 14.3h0M76.6 14.0h0M79.8 14.5h0M83.3 14.2h0M86.0 14.5h0M89.9 14.6h0M93.6 14.1h0M96.3 13.5h0M100.4 14.1h0M103.5 14.7h0M0.3 17.1h0M2.9 16.5h0M6.4 17.1h0M9.5 17.3h0M13.7 16.5h0M17.3 17.5h0M20.1 17.5h0M23.5 16.8h0M27.0 16.6h0M31.0 17.4h0M33.4 16.6h0M37.3 16.5h0M40.5 16.8h0M44.5 16.9h0M46.9 17.0h0M57.4 17.5h0M61.6 17.5h0M64.3 17.3h0M67.9 16.5h0M71.6 17.2h0M75.2 17.2h0M78.0 16.7h0M82.0 17.0h0M85.3 17.4h0M88.1 17.1h0M91.9 17.2h0M94.6 16.7h0M98.4 16.8h0M101.6 16.5h0M2.1 20.1h0M4.4 19.9h0M8.5 19.4h0M11.9 20.3h0M14.7 20.3h0M18.6 20.2h0M22.0 20.6h0M25.4 20.6h0M28.4 20.3h0M32.0 20.1h0M36.1 19.6h0M39.5 20.6h0M42.2 20.5h0M45.6 19.9h0M48.9 20.1h0M53.1 19.4h0M55.8 20.6h0M59.6 20.3h0M62.9 19.7h0M66.2 19.7h0M69.4 19.8h0M72.9 19.4h0M76.2 20.6h0M79.8 20.6h0M82.7 19.6h0M86.2 20.1h0M89.7 19.8h0M93.8 20.0h0M96.5 20.1h0M100.4 20.4h0M103.1 19.5h0M0.3 23.5h0M3.0 23.2h0M6.9 23.5h0M10.2 22.7h0M13.0 22.5h0M17.0 23.1h0M19.9 22.4h0M24.0 23.3h0M26.4 22.9h0M30.5 22.7h0M33.4 23.0h0M36.9 22.8h0M40.4 22.9h0M44.2 23.4h0M47.0 23.0h0M51.2 22.4h0M54.7 23.1h0M57.0 22.6h0M60.5 23.2h0M64.7 22.5h0M67.4 23.5h0M71.2 23.5h0M77.8 22.6h0M80.9 23.0h0M85.3 23.1h0M88.7 22.6h0M92.2 23.0h0M95.1 23.2h0M98.6 23.2h0M101.4 22.8h0M1.9 26.5h0M4.6 26.0h0M8.0 26.2h0M11.3 26.5h0M14.7 26.3h0M18.4 25.9h0M21.3 26.4h0M25.6 26.1h0M28.5 26.2h0M31.6 25.5h0M35.7 25.9h0M38.9 26.4h0M42.6 26.1h0M45.8 25.9h0M48.5 25.4h0M52.0 25.7h0M56.2 26.3h0M59.2 26.0h0M62.4 25.5h0M65.6 26.5h0M70.0 25.4h0M79.6 25.3h0M82.7 25.5h0M86.7 26.3h0M89.9 25.8h0M93.6 26.1h0M96.4 26.1h0M100.1 25.4h0M103.4 26.4h0M3.7 28.9h0M6.4 28.4h0M9.9 28.9h0M13.5 28.5h0M17.1 28.9h0M19.9 28.4h0M23.5 29.4h0M27.0 28.9h0M30.7 29.2h0M33.7 28.6h0M37.6 28.8h0M40.9 28.7h0M44.5 29.4h0M46.8 29.4h0M50.8 28.3h0M54.6 29.1h0M57.2 28.6h0M61.4 28.6h0M64.8 28.4h0M67.5 29.0h0M78.0 29.2h0M81.6 28.6h0M84.3 28.5h0M88.7 29.3h0M91.9 29.5h0M95.4 28.8h0M98.5 28.9h0M101.9 28.9h0M104.7 29.1h0M1.3 32.2h0M5.4 32.1h0M8.3 31.9h0M12.1 31.4h0M15.6 31.6h0M18.7 32.3h0M22.3 32.1h0M25.3 31.9h0M28.3 32.1h0M32.4 31.4h0M35.6 31.8h0M39.1 32.3h0M42.6 32.2h0M45.3 31.7h0M48.9 31.7h0M52.7 32.3h0M55.6 31.4h0M59.0 32.3h0M62.9 32.4h0M66.1 31.9h0M70.0 32.4h0M79.1 32.4h0M83.2 32.1h0M85.9 31.4h0M90.0 32.2h0M93.8 32.1h0M97.2 32.0h0M99.8 31.6h0M103.5 31.8h0M-0.2 34.5h0M3.0 35.1h0M7.0 34.4h0M9.4 35.2h0M13.0 34.4h0M17.0 34.3h0M20.0 34.9h0M23.2 34.4h0M27.6 34.9h0M30.8 34.7h0M33.8 34.4h0M37.0 35.3h0M40.3 34.6h0M43.4 34.9h0M47.6 34.6h0M50.4 35.1h0M54.3 34.9h0M57.5 34.3h0M61.1 35.2h0M64.4 34.8h0M68.0 34.7h0M71.7 34.5h0M75.0 35.4h0M78.0 34.8h0M81.0 35.3h0M85.3 35.4h0M87.9 35.2h0M92.0 34.8h0M95.1 35.1h0M98.6 34.5h0M101.3 35.3h0M1.3 38.1h0M4.9 37.4h0M8.2 37.5h0M12.2 37.7h0M15.2 38.2h0M18.4 38.3h0M21.7 37.4h0M25.0 38.1h0M29.2 37.3h0M32.3 37.4h0M36.1 37.2h0M39.2 38.0h0M42.1 38.0h0M46.0 37.8h0M48.7 37.6h0M52.3 37.9h0M56.1 37.3h0M59.9 37.7h0M66.6 37.3h0M69.5 37.8h0M73.4 37.3h0M75.9 37.3h0M79.4 37.5h0M82.6 38.3h0M86.1 37.3h0M89.9 37.8h0M93.8 37.6h0M96.6 37.5h0M100.1 38.2h0M103.3 37.9h0M2.9 40.3h0M6.2 41.0h0M9.6 41.3h0M13.9 41.0h0M16.6 40.3h0M19.7 41.1h0M23.3 41.0h0M27.3 40.1h0M30.4 40.9h0M33.3 41.3h0M37.3 40.8h0M40.4 40.5h0M44.4 40.6h0M47.4 40.6h0M51.0 40.9h0M53.9 40.6h0M57.7 41.0h0M68.2 41.0h0M71.5 41.0h0M74.1 41.2h0M78.2 40.6h0M82.0 40.4h0M85.0 41.1h0M88.7 40.9h0M91.4 40.2h0M95.4 40.5h0M98.2 40.8h0M101.2 40.8h0M1.6 43.9h0M4.4 43.8h0M8.7 43.6h0M12.3 43.9h0M14.6 43.8h0M19.0 43.7h0M22.1 43.7h0M25.3 43.7h0M28.7 43.8h0M31.7 43.4h0M35.7 43.6h0M39.2 43.6h0M42.4 43.3h0M45.5 43.8h0M49.2 43.6h0M52.8 43.8h0M55.5 43.3h0M65.8 43.5h0M69.7 44.0h0M72.8 43.8h0M75.7 43.6h0M79.6 43.2h0M82.8 44.2h0M86.5 44.1h0M89.9 44.1h0M93.8 43.6h0M96.4 44.3h0M99.7 43.2h0M103.5 43.7h0M-0.1 46.7h0M3.2 46.8h0M7.2 46.4h0M10.3 46.3h0M14.0 46.9h0M17.3 47.1h0M20.5 46.4h0M24.1 46.6h0M27.3 46.4h0M30.7 46.2h0M34.3 46.6h0M37.4 46.1h0M40.6 46.6h0M44.6 46.5h0M47.3 46.4h0M50.9 46.3h0M54.6 46.4h0M57.6 46.6h0M68.2 46.1h0M71.5 46.3h0M74.9 47.2h0M77.6 46.6h0M82.0 46.8h0M84.9 47.0h0M87.7 47.2h0M91.4 47.2h0M95.1 47.0h0M98.2 46.5h0M102.1 46.5h0M2.1 49.9h0M5.2 50.1h0M8.7 49.7h0M12.0 49.0h0M15.0 49.1h0M19.0 49.3h0M21.9 49.5h0M25.9 49.3h0M28.4 49.3h0M32.1 50.1h0M35.4 49.4h0M39.4 49.7h0M42.2 50.2h0M46.2 49.6h0M49.0 49.8h0M52.2 49.4h0M56.4 49.7h0M59.8 49.4h0M62.7 49.8h0M66.5 50.1h0M69.7 49.5h0M72.8 50.1h0M76.0 49.1h0M79.2 49.9h0M83.4 49.6h0M86.7 49.9h0M90.4 49.1h0M93.6 49.1h0M96.5 49.8h0M100.3 49.0h0M103.3 49.8h0M3.5 53.1h0M7.0 52.2h0M10.6 52.7h0M12.9 52.2h0M17.2 52.0h0M20.7 52.2h0M24.2 53.1h0M26.7 52.6h0M30.8 53.0h0M33.6 52.2h0M37.6 52.5h0M40.3 52.4h0M43.9 52.2h0M47.8 52.6h0M51.3 52.1h0M54.7 52.9h0M57.6 52.4h0M60.5 52.0h0M64.3 52.9h0M67.6 52.5h0M70.6 52.6h0M74.1 52.4h0M77.5 52.5h0M80.9 52.2h0M84.7 53.1h0M87.9 53.1h0M91.2 53.0h0M94.7 52.6h0M98.4 53.1h0M101.8 52.7h0M1.6 55.7h0M4.9 55.9h0M8.8 55.4h0M11.6 55.3h0M15.1 55.7h0M18.1 55.1h0M21.3 55.0h0M24.9 55.0h0M28.9 56.0h0M32.6 55.5h0M35.6 55.5h0M39.0 56.1h0M42.6 54.9h0M45.5 55.0h0M48.7 55.4h0M52.9 55.9h0M56.5 56.0h0M59.3 55.8h0M62.5 55.0h0M66.0 55.2h0M69.6 55.5h0M73.5 55.9h0M76.2 55.2h0M79.7 55.9h0M83.2 55.1h0M86.6 56.1h0M90.0 55.6h0M93.0 55.9h0M96.6 55.6h0M100.0 56.1h0M0.2 58.7h0M2.7 58.6h0M7.2 58.2h0M10.2 58.9h0M13.8 58.9h0M17.0 58.1h0M20.6 58.8h0M23.7 58.0h0M26.5 57.9h0M30.6 58.2h0M34.4 57.9h0M36.9 58.4h0M40.4 59.0h0M43.6 58.8h0M47.9 58.6h0M50.7 58.6h0M54.1 57.9h0M57.3 58.4h0M61.3 58.7h0M64.2 58.6h0M68.0 58.7h0M71.5 58.2h0M74.9 58.9h0M77.7 58.3h0M81.1 58.8h0M85.4 58.3h0M88.5 58.8h0M92.1 58.7h0M94.7 58.7h0M98.6 58.7h0M101.9 58.4h0M1.7 61.4h0M4.8 61.3h0M7.8 61.4h0M11.7 60.9h0M14.9 61.1h0M18.4 61.0h0M22.2 61.4h0M25.5 61.1h0M28.1 61.5h0M31.6 61.6h0M35.4 60.9h0M38.9 61.0h0M42.5 61.3h0M45.4 61.5h0M49.4 60.8h0M52.6 61.2h0M55.8 60.9h0M58.8 61.2h0M62.4 61.5h0M65.6 60.9h0M69.6 61.5h0M72.6 60.9h0M76.1 62.0h0M79.7 61.0h0M83.0 61.9h0M86.6 61.2h0M90.1 61.7h0M93.4 61.4h0M96.1 61.0h0M99.9 61.8h0M103.8 61.6h0M106.8 61.9h0M109.8 61.6h0M113.7 61.3h0M117.4 61.6h0M120.3 61.6h0M124.3 61.1h0M127.1 61.4h0M131.3 61.6h0M2.7 64.0h0M7.0 64.6h0M9.7 64.4h0M13.4 64.9h0M17.2 63.9h0M20.4 64.2h0M23.9 64.4h0M26.6 63.8h0M29.9 64.4h0M33.7 64.1h0M37.1 64.1h0M40.5 64.3h0M44.2 64.5h0M47.6 64.1h0M51.1 63.9h0M53.9 64.0h0M58.1 64.8h0M61.5 64.1h0M64.6 64.1h0M67.7 64.5h0M71.2 64.3h0M74.5 64.7h0M78.2 64.7h0M81.7 64.7h0M85.2 64.7h0M88.7 64.7h0M91.0 64.9h0M95.5 64.5h0M98.4 64.1h0M101.6 64.6h0M105.1 64.6h0M108.9 63.8h0M112.3 64.2h0M115.6 64.3h0M118.8 64.5h0M122.6 64.2h0M125.1 64.6h0M129.0 63.8h0M132.3 64.7h0M1.8 67.4h0M4.8 67.1h0M7.8 67.6h0M12.1 67.0h0M15.7 67.5h0M19.0 67.7h0M22.4 67.8h0M25.0 67.2h0M29.3 67.0h0M31.9 67.6h0M35.4 67.8h0M39.4 67.7h0M42.8 67.0h0M46.1 67.0h0M49.6 67.7h0M52.9 67.0h0M55.5 66.9h0M58.7 67.1h0M63.1 67.8h0M65.9 66.8h0M69.3 67.6h0M73.1 67.0h0M76.0 67.3h0M80.2 66.9h0M83.0 66.8h0M86.9 66.8h0M90.3 67.8h0M92.8 67.5h0M97.0 67.5h0M100.6 67.4h0M103.7 67.2h0M106.4 67.3h0M110.7 67.1h0M113.6 67.8h0M117.0 66.9h0M119.9 67.0h0M124.3 66.7h0M127.6 67.4h0M130.2 67.1h0M3.4 70.5h0M6.4 69.8h0M10.3 70.1h0M13.7 70.3h0M16.4 70.7h0M20.2 70.7h0M23.9 70.8h0M27.4 70.0h0M30.1 70.6h0M33.8 69.7h0M37.2 70.0h0M40.7 70.5h0M44.2 69.7h0M47.4 70.5h0M50.6 70.2h0M54.3 70.2h0M58.2 70.1h0M60.4 69.7h0M64.0 69.7h0M67.5 70.1h0M71.0 70.6h0M74.9 69.7h0M78.6 70.6h0M81.2 70.1h0M84.3 70.7h0M88.4 69.9h0M92.0 70.5h0M95.1 70.4h0M98.3 70.3h0M101.7 70.7h0M105.5 70.3h0M108.0 69.8h0M111.6 70.3h0M115.8 70.6h0M118.7 70.6h0M121.7 70.0h0M125.9 70.2h0M128.9 70.2h0M133.0 70.1h0M1.4 73.5h0M4.3 73.7h0M8.5 73.3h0M11.1 72.9h0M15.1 73.6h0M18.5 73.6h0M21.3 73.6h0M25.6 73.0h0M28.5 72.7h0M31.9 73.7h0M36.0 72.8h0M39.0 73.7h0M42.0 73.0h0M45.6 73.7h0M49.2 73.3h0M52.8 73.5h0M56.0 73.2h0M59.3 73.4h0M62.1 72.7h0M65.6 73.6h0M69.7 72.8h0M72.9 72.9h0M76.1 72.7h0M79.2 73.8h0M82.6 72.8h0M87.1 73.1h0M89.7 73.1h0M92.9 73.6h0M97.2 73.1h0M100.4 73.8h0M103.4 73.1h0M107.4 73.4h0M110.7 73.8h0M114.2 73.7h0M117.2 72.9h0M120.3 72.9h0M123.4 72.8h0M126.7 73.0h0M3.4 76.2h0M6.5 76.5h0M10.1 76.1h0M13.8 76.1h0M16.6 76.0h0M20.0 76.6h0M23.4 75.8h0M26.4 76.6h0M30.7 76.7h0M34.1 75.8h0M37.8 75.7h0M40.4 76.7h0M43.9 76.6h0M47.1 76.4h0M51.4 76.0h0M54.2 76.8h0M57.1 75.8h0M61.0 76.3h0M64.2 76.4h0M68.4 76.4h0M70.6 76.7h0M74.8 76.0h0M78.0 75.9h0M81.3 76.1h0M84.8 76.4h0M87.6 76.3h0M91.8 76.7h0M94.6 76.1h0M98.3 76.0h0M101.9 75.9h0M104.7 76.5h0M108.5 76.5h0M111.4 76.5h0M115.2 75.7h0M119.3 76.2h0M121.8 76.3h0M125.2 76.6h0M2.0 79.5h0M5.1 78.6h0M8.6 79.5h0M12.0 79.1h0M14.9 79.6h0M18.6 78.8h0M22.3 79.0h0M25.0 79.6h0M28.7 78.8h0M32.6 79.3h0M35.3 79.0h0M39.5 79.5h0M42.1 79.6h0M46.1 79.7h0M49.0 79.3h0M52.3 79.0h0M55.8 79.2h0M59.7 79.3h0M62.4 79.0h0M66.1 79.5h0M69.2 79.0h0M72.5 79.3h0M76.3 79.3h0M80.1 79.3h0M83.7 79.5h0M87.1 78.6h0M89.7 79.3h0M93.6 79.0h0M96.3 79.1h0M99.9 79.2h0M103.5 79.0h0M107.3 79.6h0M110.3 78.6h0M114.2 79.4h0M116.6 79.6h0M120.3 78.8h0M123.4 79.7h0M126.9 79.4h0M134.5 78.8h0M2.7 81.7h0M6.0 82.4h0M10.2 82.7h0M13.5 82.2h0M17.0 82.3h0M20.2 82.6h0M24.2 82.1h0M27.6 81.7h0M30.3 82.1h0M34.0 82.2h0M36.8 82.6h0M40.3 81.7h0M44.1 82.4h0M47.9 82.2h0M50.3 82.6h0M54.2 81.6h0M57.4 82.7h0M60.7 82.4h0M64.4 82.5h0M67.6 81.6h0M70.9 82.4h0M74.6 82.0h0M77.6 81.7h0M81.8 81.6h0M85.4 81.6h0M87.9 81.7h0M92.1 82.4h0M94.5 82.5h0M98.3 82.2h0M101.4 81.6h0M105.8 81.9h0M108.8 82.5h0M111.7 82.1h0M115.7 82.5h0M118.9 82.0h0M122.5 82.1h0M126.0 82.3h0M129.5 81.8h0M132.5 82.2h0M1.0 85.0h0M5.1 85.5h0M7.8 84.7h0M11.8 85.4h0M15.6 85.0h0M18.5 85.1h0M22.0 85.2h0M25.3 85.3h0M28.1 84.5h0M31.9 84.7h0M35.9 85.0h0M38.5 85.6h0M42.9 85.1h0M45.4 85.1h0M52.6 84.6h0M55.7 85.0h0M59.0 85.5h0M62.1 84.7h0M66.2 84.5h0M69.7 84.8h0M72.9 84.8h0M76.0 85.3h0M79.6 85.3h0M82.9 85.7h0M86.1 84.7h0M90.2 84.7h0M92.9 85.2h0M96.3 85.5h0M100.7 85.0h0M103.6 84.7h0M107.3 85.5h0M110.1 85.3h0M113.3 84.9h0M117.5 84.9h0M120.5 85.4h0M123.6 84.9h0M126.8 84.6h0M130.6 85.5h0M134.3 85.1h0M-0.1 87.6h0M2.7 88.6h0M6.1 88.1h0M10.3 88.0h0M13.7 88.6h0M16.3 87.9h0M19.9 88.1h0M23.3 88.0h0M26.9 88.3h0M30.5 87.5h0M33.4 88.4h0M37.2 87.9h0M44.0 87.9h0M47.1 87.8h0M61.1 87.6h0M67.5 88.6h0M70.7 87.9h0M74.8 88.2h0M78.4 88.4h0M80.9 87.7h0M85.2 87.6h0M88.3 87.7h0M91.8 88.3h0M94.6 88.2h0M98.9 87.6h0M102.3 87.5h0M105.0 88.1h0M108.2 87.6h0M112.0 87.7h0M115.4 87.7h0M118.6 87.6h0M122.4 87.9h0M125.2 87.7h0M129.5 88.4h0M132.3 88.2h0M1.5 90.8h0M4.4 91.1h0M8.7 90.9h0M11.2 91.4h0M15.1 91.5h0M18.1 90.9h0M22.5 91.0h0M25.6 91.3h0M29.0 90.5h0M32.1 91.5h0M35.6 91.5h0M42.9 90.8h0M45.6 91.3h0M48.7 91.5h0M58.8 91.1h0M65.7 90.5h0M68.9 90.5h0M72.4 90.9h0M75.8 91.5h0M79.7 91.5h0M83.7 91.0h0M86.4 90.8h0M89.7 90.9h0M93.7 90.6h0M96.6 91.0h0M100.2 90.9h0M103.6 90.9h0M106.6 90.5h0M110.0 91.0h0M113.7 90.7h0M117.0 91.3h0M120.3 91.4h0M124.5 90.7h0M127.1 91.0h0M131.0 91.3h0M134.5 90.9h0M0.3 93.6h0M2.7 94.5h0M6.2 94.1h0M9.9 94.2h0M13.6 93.7h0M17.2 93.8h0M20.0 94.3h0M23.7 93.8h0M26.9 94.4h0M30.4 94.4h0M34.3 93.4h0M43.7 93.6h0M47.4 93.9h0M57.9 94.1h0M61.1 93.7h0M64.1 93.9h0M67.5 94.4h0M71.1 94.3h0M75.2 94.2h0M77.6 94.3h0M80.8 93.4h0M84.3 94.4h0M88.6 93.8h0M91.2 94.5h0M94.7 94.1h0M98.9 94.5h0M102.0 93.6h0M105.7 94.4h0M108.1 94.0h0M111.9 93.8h0M115.8 93.6h0M118.9 93.4h0M122.6 93.9h0M126.0 94.5h0M128.5 93.4h0M132.3 94.2h0M136.0 93.6h0M1.4 97.1h0M4.8 96.5h0M8.2 96.4h0M11.7 96.4h0M14.6 97.4h0M18.7 97.2h0M21.9 97.2h0M25.6 96.4h0M28.9 97.4h0M32.5 96.9h0M35.4 96.6h0M52.5 96.9h0M55.8 97.2h0M59.3 96.7h0M63.2 97.5h0M76.2 96.8h0M79.7 97.1h0M82.5 97.3h0M86.3 97.5h0M90.4 97.5h0M93.4 97.5h0M97.1 97.4h0M100.2 96.7h0M103.5 97.3h0M107.4 96.9h0M110.6 96.4h0M113.6 96.6h0M116.8 96.7h0M120.6 97.5h0M124.0 97.1h0M127.4 97.3h0M130.4 96.4h0M133.8 96.7h0M0.2 100.3h0M3.5 99.4h0M6.3 99.7h0M9.4 100.2h0M13.1 100.3h0M16.8 99.8h0M20.3 100.1h0M23.3 99.5h0M27.4 100.5h0M30.1 100.3h0M33.8 99.4h0M37.4 100.1h0M40.9 100.0h0M50.9 99.6h0M53.9 100.5h0M57.5 100.0h0M60.6 99.5h0M74.7 100.3h0M78.4 99.7h0M81.3 99.7h0M85.2 99.5h0M88.0 100.0h0M91.5 99.6h0M95.4 99.5h0M97.9 100.4h0M101.3 99.4h0M105.0 99.7h0M108.3 100.4h0M112.3 99.3h0M114.9 100.1h0M118.4 99.7h0M122.7 99.3h0M125.1 99.5h0M129.6 99.4h0M132.9 100.2h0M135.8 99.3h0M1.5 103.2h0M4.6 102.5h0M8.9 102.3h0M11.2 103.4h0M15.2 102.7h0M18.8 102.6h0M21.4 102.7h0M25.4 103.3h0M28.5 102.3h0M32.3 102.6h0M36.0 103.1h0M38.6 102.4h0M42.3 103.2h0M45.3 103.0h0M49.6 102.8h0M52.5 103.2h0M56.2 103.1h0M65.6 102.6h0M70.1 103.4h0M72.7 102.8h0M76.2 103.4h0M80.3 102.3h0M83.0 102.4h0M87.0 103.2h0M89.7 102.2h0M93.1 102.8h0M97.0 102.6h0M99.7 103.0h0M103.7 102.4h0M106.4 102.2h0M109.9 102.7h0M114.0 102.7h0M117.4 102.5h0M120.5 103.2h0M123.8 102.9h0M126.9 102.7h0M130.2 102.4h0M134.2 102.3h0M-0.1 106.1h0M3.0 105.6h0M6.2 106.0h0M9.6 106.0h0M13.4 106.1h0M17.2 106.3h0M20.4 105.5h0M23.4 105.8h0M26.9 105.7h0M30.1 105.6h0M34.2 106.4h0M36.9 105.6h0M40.3 105.8h0M43.5 106.1h0M47.5 105.7h0M50.8 105.7h0M54.0 105.3h0M57.3 105.8h0M60.9 105.7h0M64.6 105.7h0M67.5 105.8h0M71.4 105.9h0M74.1 106.2h0M77.9 106.3h0M81.0 106.3h0M84.8 105.9h0M88.0 105.6h0M91.6 105.2h0M94.6 106.1h0M98.6 106.2h0M102.1 106.0h0M105.1 105.7h0M108.4 106.3h0M111.4 106.2h0M115.6 106.3h0M118.4 106.2h0M122.6 106.4h0M125.2 106.3h0M128.6 105.6h0M131.9 106.2h0M135.8 105.5h0M1.9 108.9h0M4.5 108.9h0M7.7 108.9h0M11.9 108.7h0M14.6 109.1h0M18.6 108.5h0M21.6 108.5h0M25.8 108.7h0M46.0 108.3h0M48.9 109.0h0M52.0 108.5h0M56.1 108.6h0M59.8 109.1h0M62.3 108.3h0M65.7 108.9h0M70.0 108.3h0M72.9 108.7h0M76.9 109.0h0M80.0 108.6h0M82.8 108.8h0M86.6 108.9h0M90.2 108.8h0M93.1 108.9h0M97.2 109.0h0M100.5 108.2h0M103.6 109.0h0M106.5 108.6h0M109.8 108.5h0M113.3 108.8h0M117.3 109.2h0M120.9 108.5h0M123.7 108.7h0M127.5 109.0h0M130.8 108.5h0M134.3 109.0h0M137.5 109.0h0M-0.1 111.2h0M3.1 111.9h0M6.1 112.2h0M9.8 111.3h0M13.4 111.9h0M16.7 111.8h0M19.9 111.3h0M23.6 112.2h0M27.0 112.2h0M47.7 111.5h0M51.1 111.8h0M61.4 112.0h0M64.4 111.2h0M68.3 111.4h0M71.1 111.9h0M81.9 111.5h0M84.6 111.4h0M87.6 112.2h0M91.8 111.9h0M95.2 112.2h0M98.7 111.5h0M101.8 111.8h0M105.0 112.3h0M109.1 111.9h0M111.5 111.3h0M115.5 112.0h0M119.2 111.7h0M122.2 112.2h0M125.9 112.0h0M129.0 111.5h0M132.8 111.1h0M135.3 111.4h0M1.1 115.0h0M4.8 114.9h0M8.0 114.9h0M12.0 114.2h0M15.3 114.2h0M18.9 114.5h0M21.6 114.5h0M25.8 114.8h0M45.4 115.0h0M63.2 115.2h0M66.0 114.1h0M69.8 114.1h0M73.1 114.8h0M80.1 114.7h0M82.5 114.2h0M86.0 114.5h0M90.5 115.2h0M92.8 115.1h0M96.2 114.3h0M100.1 114.5h0M103.3 115.2h0M106.7 114.4h0M110.3 114.2h0M113.6 114.3h0M117.2 114.8h0M120.9 114.9h0M123.5 114.6h0M127.4 114.2h0M130.7 114.1h0M133.6 114.5h0M137.5 114.8h0M3.4 117.5h0M6.5 117.5h0M10.4 118.0h0M13.8 117.8h0M16.2 118.1h0M19.7 118.0h0M23.3 117.7h0M47.5 117.8h0M50.2 117.9h0M61.2 117.7h0M75.0 117.1h0M78.5 118.0h0M80.9 118.1h0M84.2 118.1h0M87.7 118.1h0M91.3 117.1h0M95.5 117.0h0M98.1 118.1h0M102.1 117.1h0M105.7 118.1h0M108.8 117.3h0M111.9 118.2h0M115.0 117.1h0M118.9 117.9h0M122.2 117.4h0M125.4 117.8h0M129.2 117.3h0M132.5 117.4h0M135.6 117.9h0M139.0 117.5h0M2.0 120.7h0M4.7 120.8h0M8.5 120.3h0M11.5 120.8h0M15.3 120.4h0M19.0 120.8h0M22.4 120.4h0M24.9 120.3h0M45.3 121.0h0M48.6 121.1h0M52.8 120.2h0M56.1 121.1h0M58.8 120.4h0M76.3 121.0h0M80.1 121.0h0M83.0 121.1h0M86.2 120.2h0M90.4 120.2h0M92.7 120.6h0M96.2 120.9h0M100.0 120.5h0M102.9 120.7h0M106.7 120.6h0M110.0 120.4h0M114.1 120.5h0M117.6 120.9h0M121.0 120.0h0M123.8 120.0h0M126.7 121.1h0M130.5 120.6h0M134.4 121.2h0M137.7 121.1h0M3.4 123.4h0M7.1 123.7h0M9.6 123.1h0M14.0 123.8h0M16.9 123.8h0M20.0 123.5h0M23.5 123.4h0M26.9 123.8h0M53.7 123.0h0M57.0 123.2h0M61.3 123.9h0M74.9 123.5h0M78.0 123.0h0M81.8 124.1h0M84.6 123.2h0M87.7 123.2h0M92.2 123.4h0M94.5 124.1h0M98.5 123.3h0M102.3 123.9h0M104.6 123.9h0M108.7 123.3h0M111.8 124.1h0M115.4 123.6h0M119.2 123.1h0M122.1 123.9h0M125.6 124.1h0M128.9 123.5h0M132.7 123.4h0M136.3 124.0h0M139.1 123.3h0M1.2 127.0h0M5.1 126.5h0M8.6 126.2h0M11.8 127.0h0M15.6 127.0h0M18.1 126.0h0M21.4 125.9h0M25.0 126.9h0M45.4 126.3h0M53.1 127.1h0M55.6 126.8h0M59.4 127.1h0M63.0 126.1h0M66.4 126.4h0M69.4 126.1h0M72.6 126.0h0M76.8 126.6h0M80.3 126.1h0M83.1 127.0h0M87.0 126.0h0M90.4 126.1h0M93.4 127.0h0M96.8 126.2h0M100.0 126.4h0M103.1 127.1h0M107.0 127.0h0M109.9 126.0h0M113.3 126.4h0M117.5 126.7h0M120.5 126.4h0M124.0 126.8h0M127.3 126.7h0M130.7 126.3h0M133.6 126.5h0M137.0 126.4h0M3.7 128.9h0M6.8 129.6h0M9.9 129.0h0M13.9 129.9h0M46.8 129.1h0M50.7 129.9h0M54.2 129.7h0M57.5 128.9h0M61.4 129.2h0M65.0 129.7h0M67.2 129.4h0M70.9 129.6h0M74.7 129.4h0M77.8 129.4h0M82.0 129.7h0M85.4 129.4h0M87.7 129.3h0M91.2 129.5h0M95.4 129.8h0M98.9 129.2h0M102.0 129.7h0M104.9 129.2h0M108.2 129.6h0M111.6 129.3h0M115.4 129.3h0M119.0 129.5h0M122.0 129.4h0M125.7 129.2h0M129.2 129.6h0M131.9 129.9h0M136.3 130.0h0M139.3 129.6h0M1.0 132.1h0M4.4 132.5h0M8.5 132.0h0M12.2 132.1h0M15.6 132.3h0M25.5 132.0h0M45.7 132.1h0M49.5 132.7h0M52.6 131.8h0M55.5 132.6h0M59.2 132.6h0M62.1 132.1h0M66.3 132.6h0M69.9 132.1h0M73.1 132.9h0M76.3 132.7h0M79.3 132.5h0M83.6 131.9h0M86.5 132.4h0M89.7 132.7h0M93.4 132.7h0M96.7 132.7h0M100.6 132.8h0M103.0 132.9h0M106.4 132.4h0M110.8 132.3h0M113.4 132.7h0M117.5 131.9h0M120.3 132.9h0M123.9 132.4h0M127.9 131.8h0M130.7 132.7h0M133.7 132.7h0M137.6 132.8h0M141.0 132.8h0M0.2 135.2h0M3.8 135.9h0M6.7 135.4h0M9.5 135.6h0M13.9 135.3h0M47.5 135.4h0M51.0 135.3h0M54.0 135.3h0M57.9 135.3h0M61.2 135.2h0M64.1 135.3h0M67.4 134.8h0M70.9 134.8h0M74.8 134.9h0M78.5 135.2h0M81.7 135.0h0M85.0 135.7h0M88.3 135.9h0M91.8 135.7h0M95.5 135.4h0M98.1 135.2h0M101.7 135.9h0M105.1 135.3h0M108.3 135.8h0M112.0 135.0h0M115.6 135.6h0M119.0 135.3h0M122.0 135.2h0M125.8 135.8h0M128.7 135.6h0M132.3 135.8h0M135.2 134.9h0M139.5 134.9h0M1.5 137.9h0M4.4 137.8h0M8.5 138.4h0M11.9 137.9h0M15.0 138.0h0M25.8 137.8h0M45.3 138.3h0M56.2 138.8h0M58.8 138.6h0M62.3 138.1h0M66.5 138.8h0M69.4 138.8h0M72.7 138.5h0M76.5 137.9h0M80.2 138.1h0M83.4 138.1h0M86.9 138.1h0M89.9 138.4h0M93.6 138.1h0M97.1 138.4h0M100.2 137.8h0M104.0 138.2h0M107.0 138.3h0M109.8 137.7h0M114.1 138.5h0M116.8 138.3h0M120.3 137.8h0M123.9 137.8h0M127.7 138.0h0M131.3 138.2h0M134.5 138.4h0M138.1 138.3h0M140.9 138.6h0M0.2 141.5h0M2.8 141.5h0M6.8 141.1h0M10.3 140.8h0M13.7 140.9h0M17.4 141.2h0M27.0 141.0h0M47.7 141.6h0M50.7 140.8h0M54.3 140.9h0M57.1 141.3h0M61.0 141.2h0M64.3 141.1h0M67.6 141.1h0M71.4 141.6h0M74.7 140.9h0M78.0 140.9h0M81.2 141.7h0M85.1 141.1h0M87.8 141.6h0M91.6 141.2h0M94.8 140.9h0M98.1 140.7h0M101.3 140.8h0M105.7 141.3h0M108.6 141.0h0M111.9 141.1h0M115.5 141.4h0M118.4 141.2h0M121.8 141.8h0M125.4 141.8h0M129.3 141.9h0M132.1 141.8h0M135.4 141.3h0M138.9 141.5h0M2.1 143.7h0M4.8 143.9h0M8.5 143.9h0M12.1 143.8h0M15.5 144.7h0M18.7 143.9h0M22.2 144.1h0M25.3 144.3h0M45.8 143.9h0M49.6 144.4h0M52.8 144.0h0M56.3 144.8h0M59.4 144.2h0M63.2 143.9h0M65.8 144.0h0M69.0 143.9h0M72.7 144.8h0M75.9 144.6h0M79.4 144.1h0M82.8 144.4h0M86.8 143.9h0M90.3 143.8h0M93.9 144.1h0M97.3 144.2h0M100.7 144.0h0M103.7 144.7h0M107.4 144.5h0M109.8 144.6h0M114.1 143.7h0M117.0 144.5h0M120.9 144.8h0M124.3 144.3h0M127.5 144.2h0M130.3 143.8h0M134.6 144.5h0M137.7 144.5h0M141.1 144.4h0M3.5 147.6h0M6.9 146.9h0M9.8 147.1h0M13.4 146.8h0M16.9 146.6h0M20.2 146.7h0M34.1 146.6h0M37.3 147.4h0M41.0 146.9h0M43.6 147.8h0M46.9 147.0h0M50.8 147.6h0M54.7 147.7h0M57.2 146.8h0M61.6 146.9h0M64.3 146.7h0M67.9 147.1h0M71.7 146.7h0M74.5 147.1h0M77.6 146.8h0M81.0 146.8h0M85.1 147.8h0M88.2 147.2h0M91.5 147.8h0M94.6 146.8h0M99.0 147.1h0M101.6 147.8h0M104.9 146.7h0M108.2 147.7h0M112.0 147.1h0M115.9 147.0h0M119.2 146.8h0M122.5 147.5h0M125.6 147.0h0M128.9 146.7h0M132.2 147.4h0M135.7 147.4h0M138.7 147.4h0M142.5 147.0h0M1.4 150.6h0M4.7 149.6h0M8.8 149.6h0M11.6 150.7h0M14.9 149.6h0M18.9 150.5h0M22.2 150.3h0M25.5 149.9h0M28.9 150.2h0M32.1 150.1h0M35.2 150.2h0M39.1 149.8h0M41.9 149.6h0M45.5 150.7h0M49.3 150.6h0M52.2 150.3h0M56.1 150.5h0M59.7 149.6h0M62.7 149.7h0M65.9 150.0h0M69.4 150.2h0M72.3 149.7h0M76.2 150.2h0M80.1 149.6h0M82.6 150.3h0M86.8 150.6h0M89.7 149.8h0M92.9 150.4h0M96.9 149.8h0M99.7 150.1h0M103.5 149.6h0M107.4 150.0h0M110.2 150.8h0M113.4 150.1h0M117.4 149.7h0M121.1 149.7h0M124.3 150.4h0M127.4 150.1h0M131.3 150.0h0M138.1 149.6h0M3.7 153.1h0M6.5 152.7h0M10.1 153.4h0M13.2 153.2h0M16.2 153.6h0M20.3 153.2h0M23.2 152.9h0M26.5 152.6h0M29.9 153.6h0M34.0 153.7h0M36.7 153.3h0M40.0 153.6h0M44.1 153.3h0M47.3 152.6h0M50.5 153.6h0M54.0 153.1h0M58.1 152.7h0M61.4 152.5h0M64.6 153.0h0M68.2 153.1h0M71.1 152.9h0M74.2 153.3h0M77.9 153.2h0M81.7 152.9h0M85.2 153.4h0M88.0 152.6h0M91.3 153.3h0M94.8 153.6h0M98.1 153.6h0M101.2 152.9h0M105.1 152.8h0M109.2 153.4h0M112.4 153.2h0M116.0 153.5h0M119.4 153.5h0M122.2 153.1h0M126.1 153.2h0M128.7 153.4h0M132.6 153.2h0M4.3 155.5h0M7.9 156.1h0M11.2 155.9h0M15.2 156.0h0M18.7 156.5h0M21.4 155.9h0M25.3 155.9h0M28.7 155.9h0M31.8 156.2h0M35.7 156.6h0M39.0 155.7h0M42.1 156.4h0M46.2 156.0h0M48.6 155.8h0M52.9 156.4h0M56.1 156.6h0M59.6 156.4h0M62.7 156.3h0M66.7 155.6h0M69.3 156.4h0M73.0 156.5h0M76.5 155.8h0M79.4 155.7h0M83.0 156.5h0M86.0 155.9h0M90.4 155.5h0M93.7 155.7h0M97.1 156.4h0M99.7 156.4h0M103.5 155.8h0M106.5 156.6h0M110.1 156.3h0M113.4 156.2h0M117.3 155.9h0M120.2 156.0h0M124.2 155.7h0M127.1 156.3h0M131.3 156.3h0M6.2 158.5h0M9.5 159.4h0M13.8 159.2h0M16.6 158.8h0M20.4 158.6h0M23.2 158.6h0M27.0 159.2h0M30.9 159.4h0M33.5 159.4h0M36.8 158.6h0M41.0 158.6h0M44.0 158.4h0M47.5 159.4h0M50.4 159.2h0M53.7 158.6h0M57.8 158.7h0M61.5 159.1h0M64.6 159.3h0M68.2 158.7h0M71.3 159.1h0M74.3 158.6h0M77.9 159.6h0M81.5 158.8h0M84.8 158.5h0M87.7 158.9h0M91.4 158.7h0M95.1 158.8h0M98.0 159.6h0M101.6 158.8h0M105.3 159.4h0M108.6 158.8h0M112.1 159.2h0M115.5 159.4h0M119.3 159.1h0M122.0 159.0h0M125.7 158.6h0M128.5 158.9h0M132.4 158.8h0M5.2 162.2h0M8.1 162.5h0M11.5 162.3h0M14.8 161.9h0M18.3 161.5h0M21.5 161.9h0M25.7 161.4h0M28.4 161.4h0M32.1 161.8h0M35.5 161.8h0M39.1 161.6h0M42.6 162.0h0M46.0 162.4h0M49.3 161.6h0M52.9 162.3h0M55.4 161.7h0M59.0 162.4h0M62.3 162.1h0M79.1 161.8h0M86.8 161.7h0M90.1 162.0h0M93.5 161.9h0M96.7 161.7h0M100.7 161.5h0M103.0 161.9h0M106.9 161.5h0M110.0 161.6h0M113.8 162.6h0M117.1 162.0h0M120.3 162.6h0M124.4 162.0h0M126.7 162.6h0M130.9 161.6h0M7.1 165.1h0M9.7 164.9h0M13.8 164.5h0M16.4 164.5h0M19.9 165.4h0M23.1 165.1h0M26.7 164.8h0M30.3 165.2h0M33.3 165.5h0M37.4 164.7h0M40.8 164.4h0M43.5 165.0h0M48.0 164.6h0M50.6 164.4h0M54.2 165.4h0M57.2 164.9h0M61.3 164.4h0M105.4 165.2h0M108.6 164.6h0M111.8 165.3h0M115.7 165.1h0M118.7 165.4h0M122.2 164.8h0M125.5 164.4h0M128.8 165.5h0M133.0 165.4h0M8.3 167.6h0M11.3 167.8h0M15.6 168.0h0M17.9 168.2h0M22.1 168.3h0M24.8 167.5h0M29.1 167.5h0M32.3 167.6h0M36.0 168.2h0M39.4 167.5h0M42.5 167.3h0M45.5 168.2h0M49.0 167.4h0M52.0 168.1h0M55.4 168.2h0M59.2 167.7h0M62.3 167.9h0M103.9 167.3h0M106.7 168.4h0M110.3 167.3h0M114.3 167.9h0M116.8 168.1h0M120.6 168.4h0M123.8 168.1h0M126.9 167.8h0M130.2 168.2h0M10.2 171.1h0M13.7 170.7h0M17.4 171.1h0M20.5 170.5h0M23.8 170.8h0M26.4 171.4h0M31.0 171.2h0M34.3 170.7h0M37.6 170.9h0M41.1 171.4h0M43.6 170.8h0M47.3 170.7h0M50.4 171.3h0M54.2 170.4h0M57.6 170.3h0M60.7 170.4h0M67.9 171.3h0M102.3 171.3h0M105.3 170.7h0M109.0 170.5h0M112.1 171.3h0M114.9 171.4h0M118.6 170.9h0M122.1 171.3h0M125.3 170.6h0M128.7 170.8h0M132.8 170.6h0M7.9 173.5h0M11.6 173.5h0M15.1 173.8h0M18.9 173.8h0M22.2 173.4h0M25.4 173.4h0M28.5 174.1h0M66.1 173.3h0M69.6 174.2h0M73.2 174.3h0M76.7 174.1h0M80.1 173.8h0M82.8 173.4h0M87.0 174.4h0M89.4 174.2h0M93.3 174.0h0M97.2 174.4h0M99.9 173.9h0M104.0 173.4h0M106.9 174.0h0M109.9 174.2h0M113.5 174.3h0M116.6 174.2h0M120.1 173.3h0M123.4 173.6h0M127.3 174.2h0M130.5 174.1h0M9.5 176.3h0M13.4 177.0h0M17.2 176.4h0M20.1 177.2h0M34.1 176.4h0M37.2 176.5h0M64.8 177.2h0M67.2 176.9h0M71.6 177.2h0M74.4 176.5h0M78.0 176.4h0M81.5 176.2h0M85.1 176.2h0M88.0 176.4h0M91.6 177.0h0M94.6 176.5h0M98.3 176.9h0M101.4 176.7h0M105.7 177.0h0M108.9 176.4h0M111.7 176.7h0M115.4 176.7h0M119.2 177.1h0M122.4 177.3h0M125.4 176.8h0M129.6 177.2h0M132.8 177.3h0M11.4 179.7h0M15.1 179.7h0M18.8 180.1h0M32.3 179.8h0M36.0 179.3h0M38.8 179.5h0M42.2 180.0h0M63.2 179.5h0M65.5 179.7h0M69.9 180.1h0M72.8 179.5h0M76.2 179.8h0M79.8 179.7h0M83.5 179.9h0M86.0 179.8h0M90.4 179.2h0M93.6 179.6h0M97.2 179.8h0M99.7 179.7h0M104.1 180.3h0M106.3 179.2h0M110.9 180.3h0M113.4 179.2h0M117.6 179.2h0M120.3 179.1h0M124.0 180.2h0M127.6 180.0h0M131.1 180.2h0M13.6 182.8h0M17.0 182.4h0M19.8 182.4h0M34.3 182.6h0M36.9 182.9h0M41.2 182.2h0M43.5 182.2h0M64.1 182.3h0M67.6 183.0h0M71.0 182.2h0M74.9 182.3h0M78.0 182.3h0M81.2 182.6h0M84.7 182.6h0M88.4 182.2h0M91.1 183.1h0M95.0 183.0h0M97.8 182.5h0M101.3 183.0h0M105.1 182.2h0M108.5 183.0h0M111.5 182.4h0M115.0 182.3h0M118.2 182.9h0M122.1 182.7h0M125.6 182.7h0M129.5 182.9h0M132.6 182.8h0M135.2 182.6h0M139.6 182.9h0M142.8 182.5h0M146.3 183.0h0M149.5 182.9h0M12.2 185.5h0M14.7 185.3h0M18.6 185.6h0M35.0 185.1h0M39.3 185.8h0M41.9 186.1h0M45.4 185.2h0M66.3 186.1h0M69.4 186.2h0M72.7 186.0h0M76.6 185.5h0M79.7 186.1h0M82.7 185.9h0M86.3 185.4h0M90.5 185.2h0M93.7 186.0h0M96.2 186.2h0M100.4 185.4h0M103.0 185.3h0M106.6 186.0h0M110.5 185.8h0M113.9 186.1h0M117.3 185.8h0M120.7 185.2h0M124.2 185.6h0M127.9 185.2h0M130.5 185.5h0M133.6 185.9h0M137.2 185.3h0M140.7 185.5h0M143.8 185.6h0M148.3 185.3h0M17.3 188.3h0M20.6 188.8h0M34.1 188.3h0M37.1 188.0h0M40.2 188.1h0M44.2 188.2h0M46.9 188.6h0M64.4 188.9h0M68.4 188.5h0M71.2 188.4h0M74.6 188.9h0M77.5 188.5h0M81.3 188.2h0M85.2 188.1h0M87.7 188.3h0M91.5 188.8h0M95.5 188.6h0M98.5 189.2h0M101.5 188.6h0M105.7 188.6h0M108.9 188.9h0M111.4 188.2h0M114.9 188.9h0M118.3 188.9h0M122.4 188.6h0M125.0 188.9h0M129.0 188.8h0M132.6 188.8h0M135.9 188.2h0M139.5 189.1h0M145.8 189.2h0M22.3 191.3h0M24.8 191.6h0M28.7 192.0h0M31.6 191.8h0M35.6 191.0h0M38.9 191.2h0M42.5 191.4h0M45.2 191.5h0M49.3 191.1h0M66.1 191.8h0M69.0 191.0h0M73.4 192.1h0M76.9 191.6h0M79.2 191.3h0M82.9 191.9h0M86.1 191.1h0M90.4 191.6h0M93.5 191.5h0M96.9 192.2h0M100.6 191.7h0M103.4 191.5h0M106.6 192.1h0M109.8 192.0h0M114.2 191.7h0M117.2 191.9h0M120.9 191.7h0M123.5 191.0h0M126.7 192.1h0M131.0 191.3h0M133.5 192.0h0M136.9 191.0h0M140.7 191.5h0M148.0 191.7h0M20.0 195.0h0M23.9 194.5h0M30.0 194.8h0M33.6 194.3h0M37.4 194.3h0M41.2 193.9h0M43.9 194.9h0M46.8 194.1h0M64.4 194.3h0M67.4 193.9h0M71.3 194.0h0M74.5 193.9h0M77.6 195.0h0M81.6 194.7h0M84.5 194.6h0M88.0 194.9h0M92.0 194.0h0M95.2 194.5h0M97.8 194.7h0M101.4 194.4h0M104.8 194.5h0M108.4 194.2h0M112.2 194.2h0M115.7 194.3h0M118.5 194.0h0M121.8 194.8h0M125.4 195.1h0M129.2 194.7h0M132.6 194.4h0M135.8 194.1h0M138.8 194.6h0M146.4 194.8h0M149.0 194.6h0M152.3 194.0h0M21.4 197.6h0M39.3 197.8h0M42.2 197.8h0M49.5 197.0h0M52.8 196.9h0M55.6 197.9h0M65.7 196.9h0M69.5 197.9h0M73.2 197.9h0M76.6 197.4h0M79.2 197.1h0M83.6 197.8h0M86.8 197.8h0M89.9 197.7h0M93.8 198.0h0M97.1 196.9h0M99.6 197.9h0M103.8 197.1h0M107.0 197.1h0M110.8 197.8h0M114.0 197.7h0M116.7 197.7h0M120.4 197.8h0M123.6 197.6h0M127.2 197.7h0M130.5 197.6h0M134.7 197.3h0M137.2 197.1h0M144.5 197.5h0M148.2 197.1h0M151.3 197.5h0M16.8 200.4h0M20.7 200.6h0M37.0 200.4h0M40.6 200.4h0M43.7 200.1h0M50.7 200.9h0M54.3 200.2h0M57.4 200.5h0M64.8 199.9h0M67.6 200.5h0M71.3 200.1h0M74.2 200.6h0M78.1 199.9h0M82.0 199.9h0M84.4 200.8h0M88.5 200.8h0M91.7 200.7h0M95.1 200.6h0M98.8 200.1h0M101.3 200.8h0M105.6 200.9h0M108.3 200.1h0M111.9 200.3h0M115.8 200.3h0M118.6 199.9h0M122.2 200.5h0M125.1 200.3h0M128.7 201.0h0M132.2 200.0h0M135.5 200.6h0M139.3 200.7h0M149.2 200.6h0M14.6 203.4h0M18.0 203.2h0M22.1 203.9h0M24.8 203.0h0M28.5 203.5h0M38.6 203.7h0M42.8 203.8h0M46.3 203.9h0M49.1 203.0h0M52.5 202.8h0M56.4 203.8h0M58.8 203.7h0M65.7 204.0h0M69.0 202.9h0M73.0 203.2h0M76.8 203.3h0M79.8 203.8h0M83.4 203.6h0M86.2 203.6h0M90.0 203.2h0M93.1 203.2h0M96.9 204.0h0M99.9 203.6h0M103.4 204.0h0M107.0 203.1h0M110.1 203.5h0M114.2 203.8h0M116.7 202.9h0M121.1 203.5h0M124.0 202.9h0M127.1 203.9h0M130.3 203.9h0M133.9 203.7h0M137.8 203.8h0M140.6 203.4h0M147.2 203.0h0M151.0 203.4h0M16.5 206.8h0M23.8 206.9h0M27.4 206.6h0M29.9 206.9h0M43.9 206.1h0M47.9 205.8h0M54.2 206.1h0M57.7 205.9h0M61.4 206.1h0M64.9 206.7h0M67.9 206.2h0M71.8 206.6h0M74.5 206.6h0M78.0 206.3h0M81.3 206.2h0M84.7 206.0h0M87.8 206.2h0M91.5 206.2h0M94.8 206.3h0M98.1 206.7h0M102.1 206.3h0M105.3 205.8h0M108.1 206.9h0M112.0 205.9h0M115.5 206.8h0M119.2 205.9h0M122.6 206.8h0M126.1 206.7h0M129.5 206.6h0M132.1 206.3h0M135.7 205.8h0M139.5 206.0h0M146.4 205.9h0M148.8 206.1h0M152.8 206.0h0M21.9 209.1h0M25.3 209.6h0M29.1 209.2h0M32.1 209.0h0M41.7 209.8h0M45.8 208.8h0M48.7 209.5h0M55.8 209.7h0M59.0 209.2h0M62.4 209.4h0M65.8 209.7h0M69.0 209.6h0M72.8 209.4h0M76.9 209.5h0M80.1 209.5h0M83.6 209.2h0M86.6 209.9h0M89.8 208.9h0M92.9 209.2h0M97.0 208.9h0M99.6 209.3h0M103.8 209.1h0M106.7 209.5h0M110.1 209.9h0M114.0 209.5h0M117.6 209.5h0M120.2 209.2h0M123.8 209.8h0M127.2 209.9h0M130.2 209.6h0M134.2 209.0h0M137.4 209.0h0M140.4 209.3h0M26.9 212.2h0M30.2 212.8h0M33.9 211.9h0M44.4 212.9h0M47.5 212.1h0M50.7 212.0h0M54.8 212.1h0M57.1 212.5h0M61.3 212.6h0M65.0 212.0h0M67.5 212.6h0M70.8 212.0h0M74.9 211.8h0M78.3 211.9h0M81.9 212.2h0M84.9 212.4h0M88.4 212.7h0M91.1 212.7h0M94.4 211.8h0M98.9 212.3h0M102.4 212.4h0M104.7 212.8h0M108.0 212.4h0M111.7 212.7h0M115.1 212.4h0M119.1 212.2h0M122.6 212.1h0M125.4 212.7h0M128.9 211.8h0M131.8 212.6h0M135.4 211.8h0M139.6 212.3h0M28.4 215.0h0M32.4 215.2h0M53.1 215.8h0M55.4 215.7h0M58.8 214.9h0" stroke="#80ff80" stroke-width="6.0"/></g><circle cx="70.6" cy="192.7" r="6.5" fill="#1affe5"/><circle cx="79.7" cy="189.7" r="6.5" fill="#05fffa"/><circle cx="73.7" cy="204.9" r="6.5" fill="#1affe5"/><circle cx="67.6" cy="209.4" r="6.5" fill="#05fffa"/><circle cx="82.7" cy="203.3" r="6.5" fill="#1affe5"/><circle cx="91.8" cy="192.7" r="6.5" fill="#2effd1"/><circle cx="85.8" cy="183.6" r="5.5" fill="#1affe5"/><circle cx="94.9" cy="171.5" r="6.5" fill="#2effd1"/><circle cx="102.4" cy="174.6" r="6.5" fill="#1affe5"/><circle cx="94.9" cy="180.6" r="6.5" fill="#1affe5"/><circle cx="110" cy="167" r="6.5" fill="#1affe5"/><circle cx="119.1" cy="162.4" r="6.5" fill="#1affe5"/><circle cx="128.2" cy="170" r="6.5" fill="#1affe5"/><circle cx="132.7" cy="182.1" r="6.5" fill="#2effd1"/><circle cx="122.1" cy="189.7" r="6.5" fill="#2effd1"/><circle cx="107" cy="197.3" r="6.5" fill="#4dffb2"/><circle cx="91.8" cy="207.9" r="6.5" fill="#4dffb2"/><circle cx="79.7" cy="214" r="6.5" fill="#1affe5"/><circle cx="136" cy="153" r="5.5" fill="#05fffa"/><circle cx="79.7" cy="195.8" r="5.5" fill="#0061ff"/><circle cx="76.7" cy="203.3" r="5.5" fill="#004dff"/><circle cx="85.8" cy="191.2" r="5.0" fill="#0080ff"/><circle cx="70.6" cy="207.9" r="5.5" fill="#0080ff"/><circle cx="73" cy="198" r="5.0" fill="#00b2ff"/><circle cx="104" cy="189.7" r="5.5" fill="#0019ff"/><circle cx="110" cy="186.7" r="5.5" fill="#004dff"/><circle cx="116" cy="177.6" r="6.0" fill="#004dff"/><circle cx="122.1" cy="171.5" r="6.0" fill="#0038ff"/><circle cx="125.2" cy="167" r="5.5" fill="#0080ff"/><circle cx="128.2" cy="162.4" r="5.5" fill="#00b2ff"/><circle cx="131.2" cy="157.9" r="5.5" fill="#00e5ff"/><circle cx="120.6" cy="180.6" r="5.5" fill="#00b2ff"/><circle cx="131.2" cy="207.9" r="5.5" fill="#0000b2"/><circle cx="134.3" cy="204.9" r="4.5" fill="#0000e6"/></g>
<use href="#map" transform="translate(616.5,486.5) scale(1.00000,1.00094)"/>
<rect x="616.5" y="486.5" width="234.0" height="213.0" fill="none" stroke="#000" stroke-width="1"/>
<g transform="translate(1037.5,485.5) scale(1.00427,1.01034)"><g fill="none" stroke-linecap="round"><path d="M4.0 82.4h0M10.8 87.9h0M2.2 91.8h0" stroke="#0095ff" stroke-width="6.0"/><path d="M6.7 82.5h0M17.1 82.7h0M8.8 84.7h0M12.4 85.1h0M4.0 87.3h0M6.6 88.0h0M16.4 88.0h0M5.4 90.3h0M10.0 94.5h0M5.1 97.1h0M8.2 97.6h0M-0.2 99.1h0M7.2 99.4h0" stroke="#00aaff" stroke-width="6.0"/><path d="M2.6 70.9h0M9.3 69.6h0M7.8 73.4h0M21.7 72.7h0M6.9 75.6h0M16.7 75.8h0M1.7 78.8h0M8.3 78.4h0M11.1 78.5h0M14.9 78.4h0M18.1 78.7h0M9.6 82.0h0M13.2 81.6h0M19.6 81.4h0M24.4 82.6h0M0.8 85.0h0M4.3 85.6h0M14.8 84.4h0M12.9 88.0h0M11.7 90.6h0M0.5 93.7h0M3.6 93.5h0M6.5 93.2h0M17.0 94.1h0M20.1 94.1h0M23.1 94.4h0M1.9 96.5h0M14.8 96.2h0M15.6 102.6h0M2.5 105.6h0" stroke="#00bfff" stroke-width="6.0"/><path d="M40.5 5.5h0M46.9 5.1h0M12.6 47.1h0M0.9 49.5h0M3.2 58.4h0M7.4 58.3h0M11.0 61.7h0M1.3 67.7h0M11.2 67.8h0M15.4 66.7h0M13.7 70.4h0M12.0 73.7h0M15.6 72.6h0M19.1 73.7h0M0.5 76.5h0M3.9 75.4h0M9.8 75.5h0M13.5 76.1h0M19.7 76.9h0M4.7 79.0h0M25.8 78.4h0M18.8 84.5h0M25.0 84.6h0M20.3 87.6h0M8.5 91.6h0M15.5 90.4h0M18.8 91.2h0M22.6 91.4h0M13.1 93.9h0M27.3 94.2h0M11.6 97.7h0M18.7 97.2h0M22.2 97.5h0M24.9 97.1h0M3.0 99.6h0M10.0 100.0h0M20.4 100.2h0M2.1 103.5h0M8.1 103.1h0M11.3 102.5h0M0.9 109.2h0M4.4 109.3h0" stroke="#00d4ff" stroke-width="6.0"/><path d="M31.0 -0.2h0M34.2 -0.3h0M47.6 -0.5h0M51.4 -0.1h0M53.6 -0.4h0M41.9 1.7h0M58.8 2.7h0M33.0 5.5h0M43.5 4.9h0M35.1 7.8h0M33.7 10.3h0M40.6 10.9h0M64.4 10.4h0M38.3 13.7h0M45.8 13.5h0M66.5 13.3h0M61.5 16.9h0M55.3 20.3h0M41.0 23.1h0M14.1 39.9h0M20.3 41.1h0M4.1 44.3h0M6.0 46.1h0M9.6 46.1h0M16.5 46.2h0M24.2 46.9h0M4.7 50.2h0M21.2 49.8h0M3.0 51.9h0M10.2 52.9h0M13.1 52.4h0M5.3 56.1h0M15.1 54.9h0M17.8 56.1h0M25.5 54.8h0M10.7 59.1h0M13.8 58.9h0M16.3 59.2h0M2.2 62.0h0M18.4 60.9h0M25.6 61.9h0M3.8 64.6h0M12.8 64.0h0M19.8 64.2h0M5.6 68.0h0M18.9 67.1h0M6.7 70.4h0M16.4 70.1h0M20.8 70.5h0M22.8 70.6h0M1.5 73.4h0M4.1 73.0h0M24.2 76.6h0M27.4 76.4h0M21.9 79.7h0M27.3 81.9h0M21.9 85.1h0M29.4 84.5h0M23.9 87.3h0M25.0 90.8h0M13.3 99.6h0M16.2 99.6h0M23.5 99.1h0M4.8 103.0h0M19.2 102.1h0M6.1 106.6h0M10.3 105.3h0M13.2 105.3h0M20.5 105.4h0M9.1 108.7h0M14.5 109.2h0" stroke="#00eaff" stroke-width="6.0"/><path d="M99.0 0.0h0M25.9 2.0h0M32.7 1.9h0M35.2 2.7h0M38.5 2.3h0M45.0 2.3h0M49.6 1.5h0M65.7 2.9h0M76.8 1.9h0M80.1 2.6h0M90.3 1.8h0M99.5 2.1h0M27.6 6.0h0M58.4 5.6h0M81.3 4.8h0M85.0 5.4h0M29.2 8.8h0M31.9 7.6h0M39.6 8.2h0M42.3 8.6h0M45.8 8.9h0M60.0 7.4h0M79.4 8.8h0M83.4 8.4h0M26.8 11.6h0M31.1 11.0h0M43.2 11.8h0M47.0 11.5h0M58.0 10.6h0M61.2 11.9h0M78.0 11.7h0M92.3 11.0h0M102.4 11.3h0M32.8 13.6h0M35.5 13.5h0M41.9 14.7h0M48.5 14.4h0M59.1 14.8h0M68.8 14.7h0M72.8 14.2h0M75.9 14.7h0M90.3 13.3h0M103.6 13.8h0M30.8 17.5h0M33.2 17.0h0M36.6 17.6h0M41.3 17.7h0M43.6 17.6h0M57.5 16.6h0M68.5 16.7h0M75.2 17.2h0M88.2 16.9h0M92.3 17.8h0M94.8 17.4h0M98.3 17.2h0M104.5 17.6h0M28.4 20.7h0M39.1 19.7h0M41.8 19.6h0M52.1 19.3h0M59.4 20.1h0M63.2 20.3h0M66.1 19.9h0M79.8 19.5h0M96.0 20.2h0M103.6 19.9h0M27.1 23.4h0M30.0 23.4h0M36.6 22.9h0M43.3 22.6h0M46.8 22.4h0M50.4 23.1h0M60.8 22.9h0M98.1 22.2h0M28.3 25.5h0M32.1 25.3h0M35.7 26.4h0M38.2 26.5h0M42.1 26.6h0M52.5 25.4h0M56.1 26.6h0M86.1 25.7h0M33.8 29.0h0M37.7 28.7h0M40.0 28.6h0M43.7 29.1h0M53.8 28.6h0M68.0 28.1h0M81.4 29.1h0M43.0 32.3h0M55.9 31.8h0M86.8 31.3h0M16.9 35.0h0M20.0 34.5h0M26.9 35.4h0M53.5 34.4h0M84.4 34.2h0M1.2 37.9h0M11.6 38.2h0M15.3 38.3h0M0.3 40.9h0M3.8 41.0h0M6.5 40.4h0M23.1 40.9h0M2.1 43.5h0M17.9 44.4h0M24.8 43.2h0M76.7 43.7h0M20.4 47.0h0M26.8 47.1h0M8.0 50.3h0M12.4 50.0h0M15.4 50.1h0M18.0 50.1h0M26.1 49.8h0M-0.1 52.0h0M7.2 51.8h0M17.2 53.0h0M20.2 52.5h0M26.5 52.1h0M33.6 53.1h0M0.8 56.2h0M8.4 54.8h0M10.9 55.8h0M21.1 55.9h0M31.3 55.7h0M36.1 56.2h0M20.5 58.2h0M24.3 58.7h0M27.4 58.0h0M4.1 60.9h0M8.0 62.0h0M14.7 61.0h0M21.3 61.9h0M52.8 61.5h0M5.9 63.8h0M9.8 64.6h0M17.5 63.7h0M24.3 64.3h0M41.0 64.7h0M8.9 67.7h0M22.2 66.8h0M25.0 67.1h0M27.3 70.0h0M30.7 70.2h0M33.6 70.0h0M25.0 73.1h0M28.1 73.6h0M30.4 76.6h0M28.4 78.9h0M27.8 87.8h0M29.0 90.3h0M28.7 97.0h0M27.3 99.2h0M21.2 102.8h0M16.1 106.4h0M12.2 109.2h0M18.2 109.2h0M0.6 112.3h0M5.8 111.1h0M9.8 112.0h0M4.4 114.3h0M3.8 117.5h0M6.6 117.6h0M10.0 117.4h0M0.9 120.3h0M4.6 120.5h0M8.7 120.1h0M7.1 123.1h0M3.1 129.0h0" stroke="#00ffff" stroke-width="6.0"/><path d="M23.8 -0.5h0M41.3 -0.4h0M92.2 -0.5h0M29.3 2.4h0M62.5 1.7h0M82.6 2.3h0M86.8 2.2h0M93.3 2.7h0M97.3 2.2h0M24.2 4.8h0M30.2 5.3h0M37.9 5.1h0M60.9 4.5h0M78.7 5.3h0M91.7 5.0h0M99.0 5.2h0M62.3 8.0h0M86.2 8.7h0M89.2 8.1h0M97.0 8.1h0M100.5 7.8h0M37.2 11.3h0M84.5 11.4h0M87.9 11.6h0M24.6 13.5h0M29.4 14.7h0M63.2 14.3h0M80.2 14.0h0M82.9 14.4h0M86.4 13.8h0M93.1 14.4h0M96.3 14.7h0M47.6 17.4h0M63.8 17.7h0M70.7 17.3h0M81.1 16.7h0M84.6 17.4h0M24.8 19.3h0M32.8 20.0h0M35.6 20.7h0M45.6 20.1h0M49.5 20.7h0M69.1 19.6h0M72.2 19.9h0M83.8 20.0h0M86.1 20.2h0M99.8 20.0h0M23.6 23.5h0M34.5 22.9h0M53.7 23.4h0M58.0 22.4h0M64.9 23.5h0M67.6 22.6h0M70.9 22.9h0M77.3 23.4h0M84.6 22.7h0M92.4 22.3h0M102.5 23.6h0M104.6 23.4h0M25.7 25.1h0M45.9 25.7h0M61.9 26.6h0M66.1 26.1h0M69.7 26.6h0M90.4 26.2h0M48.2 29.1h0M51.0 28.9h0M61.3 29.5h0M65.0 28.3h0M84.9 28.5h0M88.3 28.4h0M94.7 28.6h0M97.7 28.3h0M1.3 31.8h0M14.5 31.6h0M18.1 32.3h0M24.8 32.6h0M29.4 31.4h0M39.4 31.1h0M46.3 32.2h0M62.2 32.6h0M65.4 31.7h0M69.0 32.0h0M22.9 34.9h0M47.9 34.0h0M64.1 34.2h0M70.8 35.3h0M74.9 35.4h0M78.7 35.0h0M81.9 34.6h0M88.3 35.1h0M92.3 34.8h0M8.9 38.1h0M21.8 37.3h0M24.8 38.5h0M55.9 38.2h0M66.4 38.2h0M72.3 37.0h0M80.2 37.0h0M82.5 37.5h0M85.8 38.5h0M89.5 37.1h0M10.1 41.1h0M17.1 41.5h0M27.3 41.2h0M40.5 40.7h0M44.4 40.1h0M54.8 40.9h0M71.7 41.3h0M75.0 40.9h0M77.9 40.5h0M81.2 40.9h0M8.3 44.4h0M11.3 43.7h0M15.7 44.1h0M21.4 44.4h0M29.3 44.2h0M36.3 43.2h0M38.1 43.2h0M49.8 43.7h0M66.8 43.8h0M73.5 44.1h0M79.9 44.2h0M3.3 46.5h0M33.5 46.5h0M47.2 46.9h0M54.4 46.2h0M57.4 46.3h0M67.5 46.7h0M71.2 47.0h0M78.2 46.1h0M85.2 46.9h0M95.5 46.6h0M28.1 49.0h0M31.9 49.4h0M52.5 49.2h0M58.9 50.0h0M62.9 49.0h0M66.7 50.2h0M70.2 49.8h0M79.7 49.5h0M83.7 48.9h0M23.6 52.5h0M30.7 52.7h0M36.6 51.9h0M40.8 52.0h0M47.3 53.3h0M51.6 51.8h0M68.5 51.8h0M74.6 53.2h0M84.9 53.0h0M91.4 52.9h0M28.9 54.8h0M42.7 55.6h0M45.7 55.2h0M49.4 56.3h0M58.8 55.0h0M65.3 55.1h0M73.3 55.2h0M30.9 58.8h0M40.4 58.7h0M47.1 58.2h0M51.3 58.7h0M53.9 58.3h0M57.3 58.5h0M61.4 57.8h0M32.6 61.8h0M36.3 61.9h0M38.4 60.7h0M41.7 62.2h0M56.5 61.8h0M69.0 61.0h0M27.6 64.2h0M30.5 64.9h0M34.4 63.9h0M36.4 63.6h0M43.7 64.0h0M48.0 64.2h0M57.2 63.7h0M28.8 67.0h0M35.8 67.0h0M53.2 66.7h0M44.0 70.0h0M47.0 70.3h0M57.0 70.2h0M31.6 73.5h0M35.1 73.1h0M34.2 76.8h0M41.2 75.6h0M31.3 78.8h0M34.9 78.6h0M31.0 81.6h0M30.2 88.7h0M34.8 90.5h0M31.1 94.4h0M32.6 96.7h0M26.0 102.7h0M22.6 109.5h0M2.8 111.1h0M12.7 111.4h0M17.0 111.1h0M2.0 115.4h0M15.6 115.4h0M14.1 117.3h0M19.7 117.5h0M11.9 121.1h0M10.3 122.9h0M12.8 124.0h0M16.9 123.1h0M0.8 127.0h0M8.9 125.9h0M10.0 129.4h0M1.4 132.2h0M4.9 131.9h0M8.9 132.7h0" stroke="#15ffea" stroke-width="6.0"/><path d="M71.6 -0.6h0M80.7 -0.1h0M17.2 5.3h0M20.5 4.9h0M88.9 5.9h0M94.8 5.9h0M18.3 8.6h0M21.3 8.1h0M25.3 8.7h0M93.3 8.0h0M17.6 10.4h0M81.6 11.5h0M95.0 11.4h0M98.8 11.2h0M100.7 13.9h0M17.3 17.6h0M24.1 17.5h0M26.2 16.7h0M77.4 17.5h0M101.6 17.4h0M12.3 19.9h0M15.2 19.8h0M17.9 19.8h0M21.3 20.7h0M76.2 20.3h0M90.0 20.1h0M93.7 20.7h0M3.1 23.5h0M20.3 22.7h0M80.8 22.9h0M88.3 23.6h0M95.0 23.1h0M22.2 26.6h0M49.0 25.4h0M58.7 25.9h0M79.4 25.7h0M83.7 26.3h0M92.5 26.3h0M96.7 26.3h0M100.3 25.6h0M104.1 25.3h0M10.6 28.4h0M16.9 28.5h0M19.5 29.1h0M26.7 29.6h0M29.8 28.4h0M57.7 29.0h0M78.2 29.4h0M102.1 29.2h0M11.3 31.3h0M22.0 31.8h0M32.7 31.7h0M36.0 32.2h0M48.9 31.6h0M52.1 31.7h0M59.5 31.5h0M79.6 31.1h0M83.9 32.4h0M90.4 32.3h0M99.7 32.2h0M102.9 31.4h0M2.9 35.1h0M6.7 34.5h0M9.7 35.2h0M13.9 34.9h0M30.1 34.9h0M33.6 34.1h0M36.5 34.4h0M43.4 35.2h0M51.5 34.7h0M57.6 34.5h0M68.3 34.8h0M4.8 38.0h0M18.5 37.5h0M28.4 38.3h0M39.0 37.7h0M41.5 37.2h0M52.6 37.1h0M69.0 38.1h0M76.7 37.2h0M96.8 37.7h0M30.4 41.2h0M33.9 41.4h0M37.4 40.5h0M46.8 40.0h0M51.2 40.0h0M56.9 41.0h0M67.4 40.0h0M84.7 40.3h0M92.0 40.1h0M101.1 40.8h0M45.4 43.0h0M68.7 42.9h0M83.2 42.9h0M90.7 44.3h0M93.1 43.7h0M31.1 47.1h0M37.6 47.4h0M40.0 46.6h0M44.4 47.1h0M50.8 46.0h0M82.2 46.4h0M88.2 46.8h0M92.3 47.2h0M35.9 50.3h0M39.6 48.9h0M42.6 50.3h0M45.3 49.6h0M56.1 49.9h0M76.2 50.1h0M87.2 50.3h0M92.8 50.2h0M44.8 53.0h0M64.3 52.1h0M70.5 52.2h0M78.1 52.2h0M38.6 55.0h0M51.8 54.7h0M55.2 55.7h0M63.4 55.2h0M69.4 55.2h0M34.2 57.9h0M37.5 57.8h0M44.4 57.8h0M64.0 57.9h0M70.6 58.3h0M74.5 58.6h0M78.3 58.6h0M87.8 59.1h0M28.4 61.4h0M45.3 61.8h0M48.7 62.2h0M62.8 61.6h0M65.5 60.9h0M72.6 61.6h0M79.2 61.3h0M83.8 61.0h0M90.2 61.6h0M54.2 64.1h0M60.5 64.6h0M70.8 64.6h0M81.5 64.7h0M31.4 68.1h0M39.7 67.2h0M42.8 66.7h0M49.3 66.8h0M58.8 67.9h0M62.7 67.4h0M66.7 67.2h0M70.0 67.1h0M76.5 66.8h0M37.3 69.7h0M39.8 70.6h0M50.9 70.7h0M54.2 69.8h0M49.8 73.0h0M53.2 72.9h0M66.5 72.9h0M69.2 72.5h0M87.3 72.6h0M37.9 76.8h0M44.6 76.4h0M54.4 76.4h0M68.4 76.0h0M38.1 79.8h0M41.6 78.4h0M46.4 78.6h0M34.1 82.6h0M43.6 81.4h0M46.6 82.1h0M50.1 82.0h0M31.5 84.8h0M35.4 85.2h0M38.1 85.6h0M33.8 88.7h0M32.3 90.8h0M33.9 93.6h0M30.2 100.1h0M33.6 99.3h0M28.8 102.7h0M23.9 106.6h0M20.9 111.9h0M24.3 111.1h0M8.8 114.1h0M11.3 115.2h0M19.0 115.3h0M17.0 117.0h0M14.9 120.2h0M2.9 123.7h0M4.2 125.8h0M12.3 127.0h0M19.1 125.8h0M6.4 129.5h0M12.6 129.2h0M11.5 132.3h0M3.1 134.6h0M10.0 135.0h0M2.1 138.4h0M5.4 138.7h0" stroke="#2bffd4" stroke-width="6.0"/><path d="M6.9 -0.6h0M13.7 -0.2h0M17.8 2.3h0M21.7 2.5h0M5.3 7.7h0M8.4 7.8h0M11.0 8.2h0M14.9 8.1h0M12.9 11.6h0M24.3 10.7h0M1.9 14.3h0M4.9 14.6h0M15.0 13.3h0M18.8 14.2h0M22.0 13.5h0M6.1 16.6h0M12.9 17.7h0M20.0 16.6h0M4.7 19.3h0M7.0 22.6h0M13.0 23.1h0M16.5 23.5h0M1.8 25.3h0M8.9 26.7h0M19.2 25.4h0M0.4 28.2h0M2.6 28.9h0M6.9 29.4h0M12.8 29.4h0M23.2 28.5h0M91.2 29.4h0M4.3 31.4h0M8.5 31.2h0M93.0 32.0h0M96.1 31.5h0M40.0 34.1h0M61.5 34.5h0M97.8 35.3h0M101.0 34.3h0M31.5 37.5h0M35.3 38.4h0M46.2 38.0h0M49.0 37.4h0M92.8 37.5h0M103.0 38.1h0M88.7 40.0h0M95.2 40.3h0M99.0 41.0h0M32.7 43.2h0M42.1 44.1h0M52.7 43.8h0M56.3 43.7h0M86.0 43.1h0M99.4 44.4h0M103.8 44.1h0M74.4 46.1h0M48.5 49.1h0M72.8 49.6h0M90.4 50.0h0M103.0 50.1h0M54.6 52.4h0M57.5 52.7h0M60.7 51.8h0M80.7 52.7h0M88.7 52.4h0M95.6 53.3h0M101.8 53.2h0M76.3 54.8h0M80.0 55.5h0M82.5 55.7h0M87.2 54.7h0M90.3 55.0h0M94.1 54.8h0M67.8 58.7h0M81.3 59.2h0M85.2 58.2h0M59.4 61.9h0M93.7 61.5h0M96.0 62.1h0M51.2 64.6h0M64.3 64.4h0M68.6 63.7h0M78.4 63.6h0M88.4 63.7h0M95.0 64.5h0M46.3 67.5h0M56.2 67.8h0M72.2 67.3h0M94.0 67.4h0M61.0 69.8h0M65.0 70.9h0M67.0 69.8h0M70.7 70.7h0M74.2 70.5h0M77.9 71.0h0M80.9 70.0h0M84.1 69.6h0M95.0 70.6h0M38.7 72.8h0M41.6 73.6h0M46.2 73.1h0M55.7 73.6h0M59.3 73.0h0M63.3 73.9h0M79.0 73.7h0M47.5 75.7h0M50.5 75.7h0M57.4 76.4h0M61.3 76.4h0M74.8 75.5h0M78.2 75.4h0M80.6 76.3h0M87.7 76.1h0M98.2 76.5h0M48.8 78.4h0M55.4 78.8h0M59.7 79.4h0M70.1 79.9h0M76.1 79.0h0M97.2 79.2h0M127.5 78.7h0M36.4 81.5h0M39.9 82.8h0M57.5 81.8h0M68.1 82.2h0M73.8 82.1h0M78.4 81.9h0M82.0 82.4h0M84.3 81.8h0M41.5 85.8h0M46.1 84.3h0M49.8 84.4h0M63.1 84.7h0M69.1 85.6h0M76.8 85.0h0M78.9 84.9h0M86.1 85.1h0M85.6 88.0h0M34.8 96.3h0M35.3 102.7h0M26.6 105.5h0M25.5 108.2h0M22.2 114.7h0M24.0 117.3h0M18.5 120.0h0M22.3 120.3h0M25.5 120.9h0M20.2 123.8h0M23.0 122.8h0M15.7 126.6h0M22.3 126.1h0M25.6 127.0h0M14.5 132.8h0M6.7 135.4h0M14.0 135.8h0" stroke="#40ffbf" stroke-width="6.0"/><path d="M2.7 -0.0h0M10.4 -0.6h0M1.8 2.3h0M5.7 2.9h0M11.9 2.3h0M14.6 2.6h0M3.2 5.3h0M6.6 4.8h0M10.1 4.9h0M14.0 4.8h0M-0.1 10.5h0M2.6 11.4h0M6.9 10.6h0M10.7 11.9h0M20.0 10.5h0M9.0 14.5h0M11.7 14.4h0M2.4 16.6h0M10.2 17.6h0M1.5 20.6h0M8.1 19.5h0M9.9 23.7h0M4.8 26.6h0M12.0 26.2h0M15.7 26.5h0M95.8 34.4h0M100.2 38.2h0M96.1 44.4h0M99.2 46.7h0M102.5 46.3h0M96.6 49.3h0M100.4 49.8h0M97.9 51.9h0M97.3 55.6h0M100.4 55.0h0M92.4 58.7h0M95.7 59.0h0M98.9 58.5h0M101.6 58.9h0M76.6 61.8h0M86.4 61.5h0M99.4 60.9h0M110.3 61.0h0M113.9 62.1h0M74.4 64.1h0M84.8 63.8h0M91.7 64.2h0M99.0 64.3h0M102.0 65.2h0M108.2 64.7h0M111.3 64.3h0M115.1 63.8h0M79.7 67.6h0M83.0 67.2h0M87.2 67.1h0M89.6 66.6h0M96.9 66.9h0M100.5 67.9h0M102.9 66.6h0M110.1 68.0h0M116.8 67.2h0M88.3 70.3h0M90.8 70.6h0M97.6 70.7h0M101.5 69.9h0M112.0 70.6h0M115.0 70.4h0M119.3 69.9h0M73.6 73.5h0M75.6 73.3h0M82.6 73.7h0M90.5 74.0h0M93.1 72.5h0M99.8 73.7h0M120.4 73.3h0M123.7 73.6h0M63.6 75.6h0M70.5 76.7h0M85.5 76.5h0M119.5 76.4h0M126.3 76.3h0M52.5 79.7h0M62.7 79.9h0M65.9 78.8h0M83.6 79.1h0M99.9 79.9h0M109.7 79.8h0M113.5 79.9h0M117.1 78.9h0M134.2 79.3h0M54.7 81.9h0M60.5 81.7h0M63.6 82.9h0M70.6 82.1h0M91.6 82.8h0M97.7 81.3h0M102.3 82.4h0M105.0 82.0h0M108.1 82.5h0M122.1 82.6h0M125.0 82.3h0M129.2 82.3h0M53.2 85.2h0M55.3 84.4h0M59.7 84.4h0M65.4 85.6h0M72.2 85.5h0M83.4 85.6h0M90.3 84.4h0M99.4 85.4h0M107.0 85.8h0M117.6 85.0h0M120.3 85.9h0M126.6 84.5h0M130.8 84.7h0M37.7 88.0h0M44.4 88.3h0M73.8 87.9h0M78.1 88.2h0M88.0 88.4h0M95.7 87.5h0M101.7 88.4h0M105.7 88.6h0M126.1 88.7h0M135.2 87.5h0M41.5 91.4h0M45.8 91.8h0M83.2 91.7h0M89.6 90.6h0M93.5 90.8h0M96.6 91.8h0M106.2 90.6h0M128.0 90.8h0M133.5 91.6h0M47.0 94.5h0M88.7 94.7h0M101.1 94.1h0M112.7 93.3h0M122.0 93.3h0M126.1 93.6h0M56.6 97.7h0M76.7 96.4h0M97.5 96.9h0M106.4 97.5h0M113.5 96.4h0M117.4 96.3h0M36.6 100.2h0M32.8 102.5h0M38.6 103.5h0M30.8 105.5h0M34.0 105.5h0M26.6 111.9h0M24.9 115.3h0M20.8 128.9h0M26.2 129.1h0M25.5 132.3h0M9.1 138.5h0M11.3 139.0h0M14.9 138.0h0M2.9 140.5h0" stroke="#55ffaa" stroke-width="6.0"/><path d="M7.5 2.4h0M0.9 7.9h0M103.7 62.2h0M117.1 61.7h0M119.9 61.7h0M123.6 61.9h0M127.5 60.7h0M130.6 61.7h0M105.2 64.0h0M118.3 65.1h0M122.2 64.4h0M106.7 67.3h0M119.8 67.1h0M123.7 67.8h0M127.2 67.0h0M104.5 70.5h0M108.0 71.0h0M129.6 69.9h0M97.4 74.0h0M102.8 72.8h0M106.8 73.3h0M113.6 73.3h0M117.8 73.9h0M127.1 73.1h0M91.8 76.4h0M94.7 76.8h0M102.6 76.1h0M105.0 75.8h0M108.7 76.9h0M112.5 75.8h0M122.7 76.1h0M73.6 78.8h0M80.2 79.9h0M87.2 79.8h0M90.1 79.7h0M93.3 79.5h0M106.5 79.1h0M119.8 79.6h0M123.8 79.1h0M87.9 82.0h0M95.6 82.7h0M112.1 82.3h0M115.1 82.3h0M93.2 84.5h0M97.2 85.1h0M102.9 85.1h0M113.9 85.8h0M123.9 84.3h0M133.8 84.7h0M47.6 87.7h0M67.2 87.4h0M70.6 88.4h0M81.6 88.2h0M91.8 87.3h0M98.4 87.5h0M109.0 87.7h0M111.5 87.6h0M115.2 88.4h0M119.5 87.8h0M133.1 88.7h0M72.3 91.0h0M75.8 91.1h0M80.2 90.4h0M87.2 90.4h0M99.7 90.4h0M103.2 90.6h0M110.9 90.3h0M116.7 91.7h0M120.3 90.6h0M124.6 91.2h0M130.9 91.4h0M44.7 94.7h0M58.1 94.5h0M60.4 93.3h0M74.2 93.4h0M77.3 93.9h0M81.5 94.3h0M85.3 94.3h0M95.6 94.2h0M104.7 93.5h0M108.2 94.2h0M114.9 93.9h0M129.1 94.6h0M133.1 93.4h0M53.2 96.9h0M86.4 97.0h0M102.7 97.4h0M123.2 96.2h0M130.5 96.5h0M134.3 96.2h0M50.5 99.6h0M88.1 100.2h0M91.3 99.7h0M104.8 99.6h0M112.2 99.6h0M119.0 99.1h0M46.0 102.8h0M49.6 102.3h0M44.7 106.0h0M26.9 134.6h0M-0.2 141.6h0M7.1 141.8h0M9.8 140.8h0M13.8 140.8h0M19.8 141.0h0M2.2 143.6h0M8.6 143.5h0" stroke="#6aff95" stroke-width="6.0"/><path d="M107.6 62.1h0M124.8 63.9h0M128.7 65.1h0M131.9 63.7h0M113.1 68.1h0M130.9 67.1h0M122.0 69.6h0M125.7 70.3h0M111.0 73.1h0M114.9 76.8h0M104.1 78.6h0M119.5 81.8h0M131.8 82.2h0M110.2 85.8h0M121.6 88.2h0M129.5 87.5h0M70.1 90.9h0M114.4 90.4h0M68.3 93.5h0M71.8 93.8h0M92.0 93.6h0M99.1 93.9h0M119.3 93.9h0M59.2 96.2h0M62.5 96.3h0M79.8 96.6h0M83.4 97.4h0M90.6 96.4h0M93.3 97.5h0M100.7 96.2h0M110.3 97.4h0M120.6 96.9h0M126.5 97.6h0M56.9 99.3h0M71.7 100.0h0M73.9 100.5h0M78.5 100.6h0M81.0 99.5h0M84.1 99.8h0M97.7 100.2h0M101.5 100.6h0M108.9 99.3h0M128.5 100.1h0M132.7 99.4h0M43.0 103.2h0M56.5 102.2h0M80.4 102.7h0M83.2 102.7h0M85.8 103.3h0M90.7 102.1h0M92.9 102.6h0M99.9 103.1h0M106.6 102.2h0M37.3 105.5h0M40.9 105.5h0M50.3 106.2h0M53.4 105.1h0M57.3 106.2h0M75.3 106.5h0M78.0 106.0h0M91.6 105.2h0M39.1 108.0h0M45.5 107.9h0M48.5 109.1h0M53.0 109.0h0M55.2 109.4h0M48.2 110.9h0M46.9 117.0h0M25.9 138.9h0M16.7 141.4h0M23.9 141.2h0M26.3 141.3h0M5.4 144.5h0M12.3 144.2h0M18.2 143.8h0M25.4 144.0h0M6.4 146.5h0" stroke="#80ff80" stroke-width="6.0"/><path d="M53.9 99.9h0M94.7 100.0h0M114.9 100.2h0M121.8 100.6h0M125.6 100.2h0M52.5 102.5h0M70.0 103.5h0M73.4 102.3h0M76.3 102.1h0M96.5 103.3h0M104.2 103.1h0M109.5 102.8h0M114.0 102.4h0M117.1 102.1h0M47.7 105.6h0M60.4 105.2h0M68.2 105.3h0M88.5 105.2h0M94.3 106.3h0M98.4 105.7h0M101.1 106.4h0M108.4 105.1h0M112.2 105.4h0M59.1 109.0h0M65.5 108.7h0M73.6 109.0h0M79.4 108.4h0M100.5 109.3h0M61.4 111.5h0M64.0 112.5h0M45.6 115.0h0M69.0 114.5h0M64.2 117.2h0M45.0 120.1h0M48.6 121.2h0M59.6 121.4h0M47.3 123.2h0M46.4 132.5h0M15.1 144.5h0M21.8 144.0h0M3.2 147.5h0M10.2 146.9h0M20.9 146.9h0M8.5 150.4h0M11.0 149.7h0M7.4 152.7h0M17.6 152.8h0M26.9 153.5h0M18.1 156.4h0" stroke="#95ff6a" stroke-width="6.0"/><path d="M135.1 100.4h0M127.8 102.4h0M64.8 105.2h0M71.2 106.1h0M81.1 106.2h0M84.1 106.1h0M105.4 106.3h0M62.1 109.5h0M87.2 108.2h0M89.3 109.5h0M104.2 108.4h0M110.3 109.2h0M81.1 112.0h0M84.2 111.6h0M91.4 111.8h0M62.8 114.6h0M65.6 113.9h0M50.2 117.7h0M74.9 118.1h0M78.4 118.0h0M76.1 121.0h0M54.2 123.7h0M63.9 124.3h0M46.2 126.9h0M56.3 126.0h0M59.7 125.9h0M62.2 127.2h0M68.7 126.7h0M73.7 126.5h0M76.9 125.9h0M48.2 129.4h0M50.9 128.9h0M54.4 128.7h0M58.2 129.1h0M64.2 129.1h0M52.8 132.8h0M12.8 147.6h0M17.5 147.8h0M4.8 150.2h0M15.1 150.5h0M25.5 149.5h0M27.9 149.8h0M3.8 153.5h0M10.3 153.2h0M13.0 153.7h0M23.3 153.6h0M31.2 152.9h0M5.1 156.3h0M11.9 155.3h0M15.1 156.8h0M22.2 156.7h0M6.9 159.4h0M10.1 159.2h0M12.8 159.1h0M27.7 158.5h0M29.7 159.6h0M5.5 161.6h0M8.7 162.3h0M14.5 162.8h0M28.3 162.4h0M6.2 165.4h0M13.9 165.5h0M20.4 164.7h0M18.9 168.3h0" stroke="#aaff55" stroke-width="6.0"/><path d="M120.4 102.7h0M124.4 103.2h0M130.9 103.4h0M133.7 103.2h0M115.9 105.8h0M122.7 105.9h0M69.5 108.0h0M83.5 108.9h0M92.6 109.3h0M97.4 109.4h0M107.6 108.9h0M112.9 108.9h0M67.3 111.0h0M71.5 111.9h0M88.4 112.0h0M95.5 112.4h0M98.4 112.2h0M101.3 111.9h0M105.0 111.7h0M72.4 114.2h0M80.5 114.9h0M82.6 115.2h0M93.6 114.3h0M102.9 115.1h0M106.1 114.1h0M60.4 117.5h0M82.0 118.1h0M91.7 117.6h0M52.8 120.3h0M55.9 120.6h0M57.5 123.7h0M61.1 123.8h0M78.0 123.2h0M79.1 127.2h0M82.7 127.1h0M61.4 130.2h0M49.8 132.3h0M59.0 132.4h0M65.9 133.1h0M69.5 132.0h0M48.2 135.5h0M54.3 135.7h0M56.9 134.7h0M72.0 134.9h0M80.9 135.4h0M51.1 141.0h0M34.2 147.2h0M19.0 150.0h0M20.0 153.6h0M8.0 156.3h0M25.0 155.8h0M32.8 156.5h0M17.5 158.3h0M20.2 159.4h0M11.0 162.6h0M21.2 161.2h0M17.3 165.2h0M23.9 164.8h0M30.3 164.9h0M8.2 167.4h0M10.9 167.8h0M24.7 167.6h0M28.6 167.8h0M19.7 170.3h0" stroke="#bfff40" stroke-width="6.0"/><path d="M119.3 106.1h0M125.3 105.8h0M131.8 105.8h0M108.3 111.1h0M111.9 112.2h0M86.3 115.4h0M90.5 114.0h0M97.1 114.1h0M110.6 114.5h0M85.5 118.1h0M87.8 116.9h0M109.1 118.0h0M80.3 120.0h0M82.6 119.8h0M86.6 121.2h0M90.0 121.1h0M94.1 120.8h0M75.3 123.2h0M81.5 123.9h0M84.3 123.1h0M91.4 123.5h0M95.1 124.3h0M101.1 124.1h0M66.5 126.3h0M87.2 127.1h0M90.5 127.0h0M93.8 125.9h0M102.8 126.6h0M68.0 129.9h0M71.9 129.1h0M75.4 130.1h0M77.4 129.2h0M84.5 129.7h0M91.3 129.0h0M55.8 132.9h0M62.2 131.7h0M73.4 132.5h0M83.5 132.8h0M86.2 132.9h0M93.3 132.9h0M96.2 132.9h0M50.9 134.8h0M61.0 135.8h0M68.5 135.5h0M78.0 135.3h0M84.2 135.4h0M88.1 134.8h0M56.2 139.0h0M62.6 138.8h0M69.8 137.7h0M76.0 138.8h0M79.0 137.7h0M82.9 138.7h0M56.6 143.6h0M39.8 147.4h0M32.7 150.0h0M35.8 149.6h0M34.5 152.7h0M40.8 152.8h0M28.1 155.5h0M24.2 159.0h0M37.2 158.5h0M18.1 161.2h0M24.5 162.7h0M31.4 162.5h0M35.6 161.8h0M38.4 161.4h0M10.6 164.7h0M14.5 168.3h0M22.1 167.4h0M32.0 168.1h0M13.5 171.5h0M16.1 170.4h0M23.3 170.2h0M33.1 171.1h0M12.4 173.5h0" stroke="#d5ff2a" stroke-width="6.0"/><path d="M129.4 106.2h0M135.7 106.3h0M116.6 108.3h0M120.5 109.5h0M124.3 108.1h0M127.9 109.4h0M137.4 109.5h0M114.9 111.2h0M118.5 111.5h0M125.9 111.9h0M132.9 112.1h0M100.3 115.4h0M113.6 114.7h0M120.9 114.1h0M95.3 117.4h0M98.5 118.4h0M112.1 117.7h0M119.3 117.6h0M125.0 117.6h0M129.3 117.5h0M132.2 117.7h0M97.3 120.1h0M100.0 119.9h0M103.0 121.2h0M106.7 120.4h0M110.7 120.3h0M114.4 119.9h0M120.3 121.0h0M133.9 121.3h0M88.6 123.5h0M98.7 123.0h0M105.7 122.9h0M111.8 123.3h0M96.6 126.8h0M100.8 126.8h0M107.6 127.3h0M124.5 126.6h0M80.7 129.7h0M88.2 129.4h0M94.6 129.9h0M99.1 130.2h0M108.2 129.9h0M115.4 129.6h0M122.3 129.2h0M76.3 132.3h0M79.0 132.4h0M99.4 131.7h0M114.1 132.2h0M123.3 131.7h0M127.4 132.7h0M130.9 132.2h0M63.7 135.1h0M74.3 135.3h0M98.2 135.7h0M102.5 136.1h0M108.7 135.5h0M128.8 136.1h0M59.5 139.0h0M73.5 137.6h0M111.0 138.7h0M47.9 142.0h0M53.8 140.8h0M57.9 140.7h0M60.9 141.2h0M64.3 141.9h0M67.1 141.5h0M70.7 141.1h0M73.9 141.3h0M77.7 141.1h0M82.1 141.8h0M87.9 140.7h0M126.2 140.8h0M52.7 143.9h0M59.8 144.4h0M63.1 144.1h0M72.8 143.7h0M76.3 144.8h0M37.4 147.7h0M43.5 147.5h0M47.6 147.2h0M51.1 146.4h0M58.2 146.5h0M71.2 146.6h0M74.5 146.9h0M78.5 147.9h0M80.8 146.8h0M88.4 147.6h0M111.3 147.5h0M142.0 146.5h0M39.5 150.4h0M41.7 150.5h0M45.7 149.6h0M48.7 150.2h0M127.4 150.1h0M37.1 153.7h0M43.4 152.8h0M46.7 152.4h0M50.1 153.1h0M53.5 153.9h0M125.0 152.7h0M36.1 156.6h0M41.9 156.7h0M45.4 156.3h0M49.5 156.6h0M33.7 158.3h0M40.0 158.8h0M48.0 159.1h0M42.8 162.7h0M27.5 164.4h0M33.1 164.2h0M37.5 164.2h0M35.6 168.2h0M39.7 167.6h0M9.7 170.7h0M27.1 171.3h0M29.9 170.6h0M15.2 173.7h0M18.4 174.1h0M10.3 176.2h0M12.7 176.4h0M19.9 176.5h0M11.3 186.1h0" stroke="#eaff15" stroke-width="6.0"/><path d="M131.3 108.6h0M134.5 108.5h0M122.5 111.3h0M128.4 111.3h0M116.7 114.6h0M133.6 114.9h0M101.9 118.2h0M105.2 117.7h0M122.8 117.8h0M135.8 117.9h0M116.6 120.5h0M124.1 120.5h0M128.0 121.0h0M131.0 120.3h0M137.1 121.0h0M107.9 124.2h0M126.0 124.0h0M128.3 123.1h0M131.6 122.9h0M138.9 123.7h0M110.3 126.2h0M113.5 126.9h0M120.1 127.3h0M127.0 126.6h0M129.9 126.7h0M134.4 125.8h0M138.1 127.1h0M102.0 130.2h0M104.7 129.9h0M111.5 129.3h0M126.0 129.7h0M128.7 128.8h0M135.1 129.5h0M90.7 132.3h0M104.3 131.8h0M110.2 132.6h0M116.8 132.1h0M137.6 131.7h0M92.1 135.1h0M95.1 135.3h0M105.9 134.7h0M111.8 135.8h0M118.1 135.5h0M122.9 134.8h0M133.0 135.0h0M66.0 138.9h0M85.8 138.6h0M90.2 138.5h0M93.4 138.7h0M95.9 138.2h0M103.2 138.2h0M106.3 138.2h0M116.7 138.8h0M120.3 139.0h0M130.8 139.0h0M134.5 138.5h0M138.1 137.5h0M85.4 142.0h0M90.8 141.9h0M94.7 141.9h0M99.1 140.6h0M105.3 141.9h0M112.6 141.0h0M122.5 141.0h0M128.6 141.1h0M131.6 141.0h0M135.5 140.8h0M139.5 140.8h0M142.3 141.7h0M45.8 144.7h0M49.2 143.5h0M66.6 143.6h0M70.1 144.4h0M80.4 143.7h0M83.0 144.5h0M86.0 144.3h0M90.0 144.1h0M93.8 144.6h0M96.9 144.7h0M100.4 144.3h0M103.0 143.9h0M113.7 144.4h0M128.0 144.0h0M129.9 143.8h0M138.0 144.6h0M140.5 144.7h0M53.9 147.6h0M67.8 146.8h0M92.3 147.3h0M101.4 147.0h0M108.9 147.6h0M136.4 147.4h0M53.0 150.6h0M56.1 149.7h0M59.2 150.4h0M63.0 150.1h0M65.3 149.5h0M72.9 150.2h0M75.6 150.4h0M86.7 149.5h0M90.1 150.2h0M114.0 149.5h0M124.4 149.6h0M134.0 149.9h0M141.5 149.8h0M57.4 153.2h0M67.6 153.4h0M112.0 152.9h0M122.2 153.1h0M38.6 155.5h0M55.8 155.4h0M62.2 156.6h0M68.8 155.3h0M130.2 155.3h0M43.6 159.4h0M50.5 159.5h0M57.7 158.4h0M48.7 161.9h0M40.9 165.6h0M47.6 165.4h0M42.6 167.5h0M60.1 168.2h0M37.9 171.2h0M39.8 171.3h0M44.2 170.1h0M50.9 170.7h0M8.1 174.6h0M21.8 174.4h0M25.5 173.1h0M27.9 173.3h0M35.2 173.2h0M16.8 177.0h0M37.1 176.8h0M11.4 179.3h0M19.0 179.2h0M13.6 182.0h0M20.5 182.6h0M15.7 186.4h0" stroke="#ffff00" stroke-width="6.0"/><path d="M135.4 112.2h0M123.8 115.4h0M127.5 115.2h0M130.0 114.5h0M137.4 115.2h0M115.4 117.7h0M138.5 117.5h0M115.3 122.9h0M119.3 123.6h0M123.0 123.2h0M136.4 124.2h0M116.7 126.5h0M118.7 128.8h0M132.7 128.8h0M139.7 129.6h0M107.4 133.0h0M120.7 132.5h0M134.8 132.6h0M141.2 133.2h0M114.9 134.9h0M125.4 134.9h0M135.4 135.4h0M138.5 136.1h0M99.4 139.1h0M113.5 138.8h0M124.0 137.9h0M127.2 139.1h0M141.2 138.5h0M102.2 141.6h0M108.0 142.0h0M115.4 141.5h0M118.2 142.0h0M107.5 144.0h0M109.6 144.2h0M117.6 144.3h0M120.9 145.0h0M123.6 144.7h0M133.4 144.3h0M61.1 147.5h0M65.1 146.6h0M85.2 146.8h0M95.5 147.2h0M105.5 146.8h0M114.8 147.1h0M119.5 148.0h0M121.9 146.9h0M125.5 147.8h0M129.7 147.3h0M133.0 146.9h0M139.6 147.4h0M69.8 150.1h0M83.5 149.9h0M97.2 149.4h0M99.4 150.1h0M117.6 150.6h0M130.1 150.3h0M138.2 149.8h0M61.2 153.5h0M65.1 152.5h0M71.2 152.8h0M114.9 153.2h0M119.1 153.7h0M128.2 153.4h0M132.0 152.5h0M53.0 155.8h0M58.6 155.4h0M76.4 155.4h0M114.2 156.3h0M117.6 155.6h0M119.8 155.6h0M53.6 159.5h0M61.1 158.8h0M67.5 158.4h0M119.0 158.6h0M125.9 159.1h0M131.6 159.0h0M46.3 162.6h0M52.2 161.9h0M55.3 162.3h0M134.0 161.9h0M44.8 165.4h0M51.6 164.4h0M54.2 164.6h0M57.9 164.5h0M61.2 165.4h0M46.3 167.7h0M48.9 167.4h0M52.4 167.7h0M61.9 167.9h0M47.9 171.6h0M53.7 170.4h0M63.3 173.7h0M66.1 173.7h0M34.1 177.5h0M15.8 179.6h0M31.4 179.2h0M17.2 182.7h0M33.7 183.0h0M41.1 182.7h0M19.0 186.3h0M35.9 184.9h0M13.2 188.4h0M40.5 188.5h0M24.8 192.2h0M32.6 191.3h0M19.8 195.1h0M30.9 194.3h0M21.2 196.7h0M24.6 197.0h0M14.7 203.3h0M19.2 203.8h0M21.5 202.7h0M16.8 206.5h0M20.2 206.8h0" stroke="#ffea00" stroke-width="6.0"/><path d="M98.0 146.8h0M79.7 150.3h0M92.6 150.1h0M103.4 150.7h0M107.4 150.1h0M109.6 149.8h0M121.1 150.4h0M75.3 153.5h0M78.0 153.4h0M84.8 152.9h0M88.4 153.5h0M92.0 153.6h0M97.7 152.5h0M109.1 153.6h0M65.8 156.4h0M73.6 155.6h0M110.1 155.3h0M124.0 156.7h0M127.1 156.7h0M64.3 159.7h0M71.2 159.1h0M122.7 158.9h0M129.1 158.3h0M58.9 161.2h0M69.9 161.3h0M79.4 161.7h0M124.1 162.8h0M55.1 168.7h0M58.2 170.2h0M61.5 171.2h0M35.2 180.2h0M38.7 179.2h0M63.4 179.6h0M37.2 183.5h0M42.3 185.2h0M19.6 187.9h0M34.1 188.0h0M18.7 192.3h0M22.4 191.5h0M28.6 191.6h0M41.7 192.3h0M23.8 194.0h0M34.5 194.6h0M44.1 194.8h0M32.6 197.0h0M39.0 197.6h0M17.4 200.0h0M20.3 200.2h0M37.7 199.9h0M46.0 202.8h0M24.2 205.6h0M26.9 206.4h0M25.5 209.8h0M32.7 208.6h0M27.4 212.0h0" stroke="#ffd500" stroke-width="6.0"/><path d="M81.4 153.0h0M94.9 153.5h0M102.3 153.4h0M104.6 152.3h0M100.1 156.5h0M103.5 155.9h0M74.1 159.8h0M78.2 159.1h0M76.4 161.4h0M127.0 162.0h0M130.2 162.3h0M132.9 164.8h0M72.3 173.2h0M63.8 176.1h0M67.5 176.9h0M41.5 179.5h0M43.6 182.9h0M39.5 185.6h0M65.7 185.1h0M37.7 187.9h0M35.0 191.1h0M36.9 194.5h0M49.4 197.0h0M52.3 198.1h0M40.3 201.1h0M50.5 200.1h0M25.8 202.8h0M56.0 203.6h0M58.8 204.0h0M30.4 205.7h0M44.1 205.6h0M54.6 206.6h0M42.9 210.1h0M53.1 210.1h0M31.1 212.2h0M41.3 212.7h0M44.7 212.8h0M54.5 212.8h0M57.3 212.9h0M63.8 212.6h0M28.3 214.8h0M32.0 215.3h0M56.5 215.9h0" stroke="#ffbf00" stroke-width="6.0"/><path d="M80.2 156.5h0M83.6 155.9h0M89.9 156.4h0M96.4 155.5h0M106.8 156.1h0M81.2 159.5h0M85.4 158.6h0M101.6 159.0h0M111.3 158.6h0M115.9 159.2h0M117.8 162.1h0M121.3 161.8h0M69.4 174.4h0M76.4 174.0h0M71.3 177.2h0M77.3 176.1h0M65.6 180.3h0M70.1 179.6h0M68.0 182.3h0M63.0 185.0h0M44.2 188.5h0M67.4 189.3h0M38.7 191.5h0M45.6 192.4h0M49.4 191.8h0M47.8 195.2h0M55.5 197.1h0M65.5 196.8h0M44.4 199.9h0M47.5 200.1h0M54.3 201.0h0M38.6 204.0h0M41.6 203.7h0M49.7 203.6h0M53.1 202.6h0M47.7 206.9h0M50.3 206.1h0M57.6 206.5h0M27.9 209.2h0M46.2 208.8h0M55.7 209.9h0M59.1 209.1h0M62.9 209.4h0M33.2 213.0h0M62.6 214.6h0" stroke="#ffaa00" stroke-width="6.0"/><path d="M86.7 155.8h0M92.9 155.6h0M99.1 159.5h0M104.9 159.7h0M109.3 159.2h0M113.1 161.3h0M115.1 165.0h0M125.5 165.7h0M129.4 165.3h0M131.0 168.0h0M72.8 180.2h0M64.8 182.8h0M74.1 182.7h0M69.5 186.4h0M63.8 189.2h0M74.5 188.5h0M65.6 192.0h0M69.0 191.7h0M68.3 200.1h0M60.5 206.2h0M65.0 206.3h0M65.9 209.5h0M69.0 209.2h0M60.2 211.5h0M68.6 212.2h0M51.9 215.7h0" stroke="#ff9500" stroke-width="6.0"/><path d="M87.9 158.5h0M92.3 158.5h0M95.4 158.9h0M103.7 162.3h0M119.2 164.2h0M121.6 164.7h0M120.1 167.1h0M127.4 168.2h0M79.2 174.2h0M82.5 173.9h0M86.5 174.1h0M73.9 176.5h0M75.8 179.5h0M71.6 182.8h0M75.8 185.9h0M71.5 188.4h0M64.5 195.3h0M68.1 195.2h0M68.8 198.0h0M64.6 200.0h0M65.6 204.1h0M69.4 202.8h0M67.2 206.4h0M71.5 212.7h0" stroke="#ff8000" stroke-width="6.0"/><path d="M97.5 161.8h0M99.8 162.6h0M106.3 161.6h0M109.5 162.3h0M102.0 164.3h0M109.2 165.6h0M111.7 164.9h0M114.4 168.3h0M124.6 167.8h0M114.9 170.5h0M122.5 171.5h0M132.3 170.8h0M89.1 174.3h0M81.0 176.4h0M84.9 177.4h0M82.9 179.5h0M85.3 182.0h0M73.0 185.8h0M85.6 189.2h0M72.2 191.8h0M75.8 192.3h0M79.8 191.5h0M85.8 191.7h0M70.8 193.7h0M74.4 193.8h0M80.7 194.3h0M80.4 197.7h0M71.0 200.5h0M75.2 200.0h0M80.9 201.1h0M72.7 203.3h0M77.0 202.6h0M78.9 203.0h0M71.2 206.3h0M74.8 212.1h0" stroke="#ff6a00" stroke-width="6.0"/><path d="M104.2 168.0h0M106.5 167.3h0M110.7 168.2h0M116.7 168.5h0M107.9 171.1h0M112.3 170.4h0M118.5 171.4h0M126.2 170.7h0M128.9 171.2h0M93.5 173.6h0M110.2 173.1h0M127.5 173.7h0M91.3 176.2h0M95.5 176.3h0M97.9 176.7h0M105.3 177.5h0M108.1 176.9h0M122.6 177.0h0M126.3 176.4h0M80.1 180.4h0M86.0 180.4h0M89.9 180.2h0M96.4 179.1h0M109.7 180.3h0M133.6 180.2h0M78.1 183.5h0M80.7 183.5h0M88.1 182.9h0M92.1 181.9h0M94.2 182.2h0M101.7 183.1h0M104.9 182.9h0M119.0 183.1h0M78.9 185.5h0M82.6 186.1h0M85.8 186.2h0M93.0 185.9h0M99.6 185.2h0M104.2 185.4h0M138.2 185.8h0M148.4 186.2h0M150.4 185.7h0M78.1 187.9h0M94.6 188.4h0M105.5 188.0h0M112.1 188.9h0M83.2 191.1h0M90.1 191.2h0M96.9 191.7h0M131.2 192.1h0M148.2 192.1h0M78.3 195.1h0M88.4 194.8h0M94.8 194.3h0M101.3 194.6h0M131.7 194.6h0M135.6 193.9h0M72.6 197.4h0M76.1 198.3h0M87.1 198.3h0M90.2 196.8h0M96.3 198.1h0M120.9 196.8h0M137.5 197.4h0M145.1 197.7h0M78.6 200.1h0M132.1 200.3h0M96.7 203.5h0M148.2 203.5h0M75.4 206.3h0M77.7 206.0h0M82.0 206.3h0M92.0 206.1h0M128.9 207.1h0M139.7 206.3h0M73.2 209.0h0M76.4 208.8h0M79.4 208.9h0M138.2 209.4h0M78.3 212.5h0M84.6 212.0h0" stroke="#ff5500" stroke-width="6.0"/><path d="M106.0 164.9h0M104.7 170.7h0M96.9 173.4h0M99.6 174.3h0M107.0 173.3h0M114.4 174.3h0M117.3 174.5h0M121.3 173.5h0M130.1 173.5h0M88.1 176.5h0M102.5 177.1h0M111.9 176.2h0M119.5 177.0h0M129.0 176.8h0M132.6 177.1h0M93.6 180.0h0M100.1 180.5h0M103.8 179.9h0M106.7 180.0h0M114.0 179.1h0M127.3 180.3h0M129.9 179.8h0M98.4 182.5h0M112.0 182.7h0M115.7 182.7h0M90.7 186.3h0M96.5 185.4h0M107.4 185.2h0M113.8 185.5h0M117.7 186.1h0M127.8 186.0h0M140.5 186.0h0M144.0 185.0h0M82.1 189.2h0M88.4 188.8h0M92.2 188.4h0M101.3 188.0h0M108.4 189.1h0M114.7 188.0h0M119.5 188.1h0M122.1 188.4h0M136.2 187.9h0M93.4 191.9h0M100.1 192.2h0M103.0 191.8h0M124.0 192.0h0M127.2 191.9h0M134.5 191.9h0M85.2 194.4h0M90.8 194.6h0M99.0 194.8h0M104.8 195.2h0M108.7 194.3h0M115.4 193.9h0M119.4 194.4h0M124.8 194.6h0M139.5 194.3h0M149.3 194.2h0M152.3 193.9h0M82.9 197.9h0M92.6 196.9h0M106.4 197.6h0M110.1 197.8h0M124.3 197.0h0M128.0 196.7h0M151.5 196.8h0M85.1 200.8h0M88.5 200.2h0M95.4 200.3h0M99.0 201.1h0M111.9 200.5h0M115.7 200.4h0M129.0 199.8h0M139.1 200.3h0M82.4 204.0h0M86.8 204.2h0M110.6 203.4h0M113.1 203.7h0M137.2 202.6h0M85.4 206.6h0M88.1 205.9h0M99.0 206.6h0M109.2 206.9h0M111.7 206.9h0M121.5 206.5h0M135.0 206.8h0M146.2 207.1h0M149.4 206.2h0M87.0 209.4h0M89.8 209.4h0M93.1 209.5h0M103.6 208.9h0M106.1 209.1h0M110.8 208.6h0M113.9 209.1h0M119.8 209.1h0M123.5 210.0h0M127.4 208.8h0M129.9 209.8h0M148.3 209.5h0M81.0 211.9h0M87.9 211.6h0M102.2 211.8h0M105.2 213.0h0M107.8 212.0h0M118.1 212.1h0M129.7 211.6h0M132.9 212.3h0" stroke="#ff4000" stroke-width="6.0"/><path d="M104.3 174.1h0M123.2 174.4h0M115.3 176.7h0M117.9 180.5h0M120.5 179.5h0M123.8 180.1h0M109.3 183.0h0M121.9 182.4h0M129.0 182.9h0M132.2 183.5h0M136.3 183.1h0M138.6 183.3h0M142.1 183.4h0M146.5 183.4h0M110.0 185.5h0M120.3 186.0h0M123.9 186.1h0M130.2 185.8h0M133.5 186.1h0M98.2 188.5h0M129.0 187.9h0M133.1 189.4h0M138.5 189.2h0M145.7 188.9h0M106.2 191.9h0M113.3 191.3h0M117.9 191.7h0M138.1 190.8h0M140.7 191.4h0M151.0 192.3h0M111.3 194.1h0M122.9 194.5h0M129.3 193.8h0M145.5 194.6h0M100.0 196.9h0M103.9 196.9h0M113.8 198.0h0M117.7 197.3h0M130.5 198.2h0M147.0 197.0h0M91.3 200.7h0M101.3 200.9h0M104.4 200.9h0M107.8 200.2h0M119.3 201.0h0M125.7 201.0h0M136.4 200.2h0M90.3 203.4h0M94.0 204.2h0M99.9 204.1h0M106.7 203.4h0M116.6 203.5h0M120.4 202.7h0M123.3 203.4h0M130.9 202.9h0M133.9 203.2h0M144.8 203.8h0M150.3 203.7h0M95.2 206.5h0M101.6 205.8h0M115.8 206.8h0M118.6 206.1h0M132.7 206.5h0M153.2 205.6h0M83.2 209.0h0M97.0 209.5h0M99.9 209.3h0M117.1 209.5h0M134.4 210.1h0M90.9 213.0h0M95.4 212.8h0M97.9 213.1h0M112.8 212.2h0M115.9 212.2h0M125.7 211.9h0M135.5 212.2h0M138.9 212.1h0" stroke="#ff2a00" stroke-width="6.0"/><path d="M125.5 182.7h0M126.4 188.9h0M109.8 192.1h0M121.1 191.3h0M133.7 197.8h0M122.9 200.4h0M103.9 203.7h0M126.5 204.1h0M105.7 206.5h0M125.8 206.7h0M122.9 212.7h0" stroke="#ff1500" stroke-width="6.0"/></g></g>
<use href="#map" transform="translate(1037.5,485.5) scale(1.00427,1.01034)"/>
<rect x="1037.5" y="485.5" width="235.0" height="215.0" fill="none" stroke="#000" stroke-width="1"/>
<text transform="translate(216.00,76.60) scale(1.0880,1)" font-size="13.43" font-weight="bold" fill="#262626" stroke="#262626" stroke-width="0.25">100</text>
<text transform="translate(252.80,76.60) scale(0.9943,1)" font-size="13.62" font-weight="bold" fill="#262626" stroke="#262626" stroke-width="0.25">W</text>
<circle cx="245.0" cy="64.4" r="1.5" fill="none" stroke="#262626" stroke-width="0.9"/>
<text transform="translate(284.60,76.60) scale(1.1002,1)" font-size="13.43" font-weight="bold" fill="#262626" stroke="#262626" stroke-width="0.25">90</text>
<text transform="translate(313.20,76.60) scale(1.0331,1)" font-size="13.62" font-weight="bold" fill="#262626" stroke="#262626" stroke-width="0.25">W</text>
<circle cx="305.6" cy="64.4" r="1.5" fill="none" stroke="#262626" stroke-width="0.9"/>
<text transform="translate(348.70,76.60) scale(1.1002,1)" font-size="13.43" font-weight="bold" fill="#262626" stroke="#262626" stroke-width="0.25">80</text>
<text transform="translate(377.30,76.60) scale(1.0331,1)" font-size="13.62" font-weight="bold" fill="#262626" stroke="#262626" stroke-width="0.25">W</text>
<circle cx="369.7" cy="64.4" r="1.5" fill="none" stroke="#262626" stroke-width="0.9"/>
<text transform="translate(411.80,76.60) scale(1.1002,1)" font-size="13.43" font-weight="bold" fill="#262626" stroke="#262626" stroke-width="0.25">70</text>
<text transform="translate(440.40,76.60) scale(1.0486,1)" font-size="13.62" font-weight="bold" fill="#262626" stroke="#262626" stroke-width="0.25">W</text>
<circle cx="432.8" cy="64.4" r="1.5" fill="none" stroke="#262626" stroke-width="0.9"/>
<text transform="translate(146.70,112.60) scale(1.1310,1)" font-size="13.14" font-weight="bold" fill="#262626" stroke="#262626" stroke-width="0.25">48</text>
<text transform="translate(176.30,112.60) scale(0.8958,1)" font-size="13.33" font-weight="bold" fill="#262626" stroke="#262626" stroke-width="0.25">N</text>
<circle cx="168.0" cy="99.4" r="1.5" fill="none" stroke="#262626" stroke-width="0.9"/>
<text transform="translate(146.70,130.70) scale(1.1310,1)" font-size="13.14" font-weight="bold" fill="#262626" stroke="#262626" stroke-width="0.25">46</text>
<text transform="translate(176.30,130.70) scale(0.8958,1)" font-size="13.33" font-weight="bold" fill="#262626" stroke="#262626" stroke-width="0.25">N</text>
<circle cx="168.0" cy="117.5" r="1.5" fill="none" stroke="#262626" stroke-width="0.9"/>
<text transform="translate(146.70,148.50) scale(1.1310,1)" font-size="13.14" font-weight="bold" fill="#262626" stroke="#262626" stroke-width="0.25">44</text>
<text transform="translate(176.30,148.50) scale(0.8958,1)" font-size="13.33" font-weight="bold" fill="#262626" stroke="#262626" stroke-width="0.25">N</text>
<circle cx="168.0" cy="135.3" r="1.5" fill="none" stroke="#262626" stroke-width="0.9"/>
<text transform="translate(146.70,166.90) scale(1.1310,1)" font-size="13.14" font-weight="bold" fill="#262626" stroke="#262626" stroke-width="0.25">42</text>
<text transform="translate(176.30,166.90) scale(0.8958,1)" font-size="13.33" font-weight="bold" fill="#262626" stroke="#262626" stroke-width="0.25">N</text>
<circle cx="168.0" cy="153.7" r="1.5" fill="none" stroke="#262626" stroke-width="0.9"/>
<text transform="translate(146.70,182.80) scale(1.1310,1)" font-size="13.14" font-weight="bold" fill="#262626" stroke="#262626" stroke-width="0.25">40</text>
<text transform="translate(176.30,182.80) scale(0.8958,1)" font-size="13.33" font-weight="bold" fill="#262626" stroke="#262626" stroke-width="0.25">N</text>
<circle cx="168.0" cy="169.6" r="1.5" fill="none" stroke="#262626" stroke-width="0.9"/>
<text transform="translate(146.70,197.70) scale(1.1310,1)" font-size="13.14" font-weight="bold" fill="#262626" stroke="#262626" stroke-width="0.25">38</text>
<text transform="translate(176.30,197.70) scale(0.8958,1)" font-size="13.33" font-weight="bold" fill="#262626" stroke="#262626" stroke-width="0.25">N</text>
<circle cx="168.0" cy="184.5" r="1.5" fill="none" stroke="#262626" stroke-width="0.9"/>
<text transform="translate(146.70,215.00) scale(1.1310,1)" font-size="13.14" font-weight="bold" fill="#262626" stroke="#262626" stroke-width="0.25">36</text>
<text transform="translate(176.30,215.00) scale(0.8958,1)" font-size="13.33" font-weight="bold" fill="#262626" stroke="#262626" stroke-width="0.25">N</text>
<circle cx="168.0" cy="201.8" r="1.5" fill="none" stroke="#262626" stroke-width="0.9"/>
<text transform="translate(146.70,229.00) scale(1.1310,1)" font-size="13.14" font-weight="bold" fill="#262626" stroke="#262626" stroke-width="0.25">34</text>
<text transform="translate(176.30,229.00) scale(0.8958,1)" font-size="13.33" font-weight="bold" fill="#262626" stroke="#262626" stroke-width="0.25">N</text>
<circle cx="168.0" cy="215.8" r="1.5" fill="none" stroke="#262626" stroke-width="0.9"/>
<text transform="translate(146.70,245.90) scale(1.1310,1)" font-size="13.14" font-weight="bold" fill="#262626" stroke="#262626" stroke-width="0.25">32</text>
<text transform="translate(176.30,245.90) scale(0.8958,1)" font-size="13.33" font-weight="bold" fill="#262626" stroke="#262626" stroke-width="0.25">N</text>
<circle cx="168.0" cy="232.7" r="1.5" fill="none" stroke="#262626" stroke-width="0.9"/>
<text transform="translate(146.70,260.20) scale(1.1310,1)" font-size="13.14" font-weight="bold" fill="#262626" stroke="#262626" stroke-width="0.25">30</text>
<text transform="translate(176.30,260.20) scale(0.8958,1)" font-size="13.33" font-weight="bold" fill="#262626" stroke="#262626" stroke-width="0.25">N</text>
<circle cx="168.0" cy="247.0" r="1.5" fill="none" stroke="#262626" stroke-width="0.9"/>
<text transform="translate(146.70,273.40) scale(1.1310,1)" font-size="13.14" font-weight="bold" fill="#262626" stroke="#262626" stroke-width="0.25">28</text>
<text transform="translate(176.30,273.40) scale(0.8958,1)" font-size="13.33" font-weight="bold" fill="#262626" stroke="#262626" stroke-width="0.25">N</text>
<circle cx="168.0" cy="260.2" r="1.5" fill="none" stroke="#262626" stroke-width="0.9"/>
<text transform="translate(146.70,287.80) scale(1.1310,1)" font-size="13.14" font-weight="bold" fill="#262626" stroke="#262626" stroke-width="0.25">26</text>
<text transform="translate(176.30,287.80) scale(0.8958,1)" font-size="13.33" font-weight="bold" fill="#262626" stroke="#262626" stroke-width="0.25">N</text>
<circle cx="168.0" cy="274.6" r="1.5" fill="none" stroke="#262626" stroke-width="0.9"/>
<text transform="translate(146.70,301.90) scale(1.1310,1)" font-size="13.14" font-weight="bold" fill="#262626" stroke="#262626" stroke-width="0.25">24</text>
<text transform="translate(176.30,301.90) scale(0.8958,1)" font-size="13.33" font-weight="bold" fill="#262626" stroke="#262626" stroke-width="0.25">N</text>
<circle cx="168.0" cy="288.7" r="1.5" fill="none" stroke="#262626" stroke-width="0.9"/>
<text transform="translate(146.70,315.20) scale(1.1310,1)" font-size="13.14" font-weight="bold" fill="#262626" stroke="#262626" stroke-width="0.25">22</text>
<text transform="translate(176.30,315.20) scale(0.8958,1)" font-size="13.33" font-weight="bold" fill="#262626" stroke="#262626" stroke-width="0.25">N</text>
<circle cx="168.0" cy="302.0" r="1.5" fill="none" stroke="#262626" stroke-width="0.9"/>
<text transform="translate(636.00,76.60) scale(1.0880,1)" font-size="13.43" font-weight="bold" fill="#262626" stroke="#262626" stroke-width="0.25">100</text>
<text transform="translate(672.80,76.60) scale(0.9943,1)" font-size="13.62" font-weight="bold" fill="#262626" stroke="#262626" stroke-width="0.25">W</text>
<circle cx="665.0" cy="64.4" r="1.5" fill="none" stroke="#262626" stroke-width="0.9"/>
<text transform="translate(704.60,76.60) scale(1.1002,1)" font-size="13.43" font-weight="bold" fill="#262626" stroke="#262626" stroke-width="0.25">90</text>
<text transform="translate(733.20,76.60) scale(1.0331,1)" font-size="13.62" font-weight="bold" fill="#262626" stroke="#262626" stroke-width="0.25">W</text>
<circle cx="725.6" cy="64.4" r="1.5" fill="none" stroke="#262626" stroke-width="0.9"/>
<text transform="translate(768.70,76.60) scale(1.1002,1)" font-size="13.43" font-weight="bold" fill="#262626" stroke="#262626" stroke-width="0.25">80</text>
<text transform="translate(797.30,76.60) scale(1.0331,1)" font-size="13.62" font-weight="bold" fill="#262626" stroke="#262626" stroke-width="0.25">W</text>
<circle cx="789.7" cy="64.4" r="1.5" fill="none" stroke="#262626" stroke-width="0.9"/>
<text transform="translate(831.80,76.60) scale(1.1002,1)" font-size="13.43" font-weight="bold" fill="#262626" stroke="#262626" stroke-width="0.25">70</text>
<text transform="translate(860.40,76.60) scale(1.0486,1)" font-size="13.62" font-weight="bold" fill="#262626" stroke="#262626" stroke-width="0.25">W</text>
<circle cx="852.8" cy="64.4" r="1.5" fill="none" stroke="#262626" stroke-width="0.9"/>
<text transform="translate(566.70,112.30) scale(1.1310,1)" font-size="13.14" font-weight="bold" fill="#262626" stroke="#262626" stroke-width="0.25">48</text>
<text transform="translate(596.30,112.30) scale(0.8958,1)" font-size="13.33" font-weight="bold" fill="#262626" stroke="#262626" stroke-width="0.25">N</text>
<circle cx="588.0" cy="99.1" r="1.5" fill="none" stroke="#262626" stroke-width="0.9"/>
<text transform="translate(566.70,130.40) scale(1.1310,1)" font-size="13.14" font-weight="bold" fill="#262626" stroke="#262626" stroke-width="0.25">46</text>
<text transform="translate(596.30,130.40) scale(0.8958,1)" font-size="13.33" font-weight="bold" fill="#262626" stroke="#262626" stroke-width="0.25">N</text>
<circle cx="588.0" cy="117.2" r="1.5" fill="none" stroke="#262626" stroke-width="0.9"/>
<text transform="translate(566.70,148.20) scale(1.1310,1)" font-size="13.14" font-weight="bold" fill="#262626" stroke="#262626" stroke-width="0.25">44</text>
<text transform="translate(596.30,148.20) scale(0.8958,1)" font-size="13.33" font-weight="bold" fill="#262626" stroke="#262626" stroke-width="0.25">N</text>
<circle cx="588.0" cy="135.0" r="1.5" fill="none" stroke="#262626" stroke-width="0.9"/>
<text transform="translate(566.70,166.60) scale(1.1310,1)" font-size="13.14" font-weight="bold" fill="#262626" stroke="#262626" stroke-width="0.25">42</text>
<text transform="translate(596.30,166.60) scale(0.8958,1)" font-size="13.33" font-weight="bold" fill="#262626" stroke="#262626" stroke-width="0.25">N</text>
<circle cx="588.0" cy="153.4" r="1.5" fill="none" stroke="#262626" stroke-width="0.9"/>
<text transform="translate(566.70,182.50) scale(1.1310,1)" font-size="13.14" font-weight="bold" fill="#262626" stroke="#262626" stroke-width="0.25">40</text>
<text transform="translate(596.30,182.50) scale(0.8958,1)" font-size="13.33" font-weight="bold" fill="#262626" stroke="#262626" stroke-width="0.25">N</text>
<circle cx="588.0" cy="169.3" r="1.5" fill="none" stroke="#262626" stroke-width="0.9"/>
<text transform="translate(566.70,197.40) scale(1.1310,1)" font-size="13.14" font-weight="bold" fill="#262626" stroke="#262626" stroke-width="0.25">38</text>
<text transform="translate(596.30,197.40) scale(0.8958,1)" font-size="13.33" font-weight="bold" fill="#262626" stroke="#262626" stroke-width="0.25">N</text>
<circle cx="588.0" cy="184.2" r="1.5" fill="none" stroke="#262626" stroke-width="0.9"/>
<text transform="translate(566.70,214.70) scale(1.1310,1)" font-size="13.14" font-weight="bold" fill="#262626" stroke="#262626" stroke-width="0.25">36</text>
<text transform="translate(596.30,214.70) scale(0.8958,1)" font-size="13.33" font-weight="bold" fill="#262626" stroke="#262626" stroke-width="0.25">N</text>
<circle cx="588.0" cy="201.5" r="1.5" fill="none" stroke="#262626" stroke-width="0.9"/>
<text transform="translate(566.70,228.70) scale(1.1310,1)" font-size="13.14" font-weight="bold" fill="#262626" stroke="#262626" stroke-width="0.25">34</text>
<text transform="translate(596.30,228.70) scale(0.8958,1)" font-size="13.33" font-weight="bold" fill="#262626" stroke="#262626" stroke-width="0.25">N</text>
<circle cx="588.0" cy="215.5" r="1.5" fill="none" stroke="#262626" stroke-width="0.9"/>
<text transform="translate(566.70,245.60) scale(1.1310,1)" font-size="13.14" font-weight="bold" fill="#262626" stroke="#262626" stroke-width="0.25">32</text>
<text transform="translate(596.30,245.60) scale(0.8958,1)" font-size="13.33" font-weight="bold" fill="#262626" stroke="#262626" stroke-width="0.25">N</text>
<circle cx="588.0" cy="232.4" r="1.5" fill="none" stroke="#262626" stroke-width="0.9"/>
<text transform="translate(566.70,259.90) scale(1.1310,1)" font-size="13.14" font-weight="bold" fill="#262626" stroke="#262626" stroke-width="0.25">30</text>
<text transform="translate(596.30,259.90) scale(0.8958,1)" font-size="13.33" font-weight="bold" fill="#262626" stroke="#262626" stroke-width="0.25">N</text>
<circle cx="588.0" cy="246.7" r="1.5" fill="none" stroke="#262626" stroke-width="0.9"/>
<text transform="translate(566.70,273.10) scale(1.1310,1)" font-size="13.14" font-weight="bold" fill="#262626" stroke="#262626" stroke-width="0.25">28</text>
<text transform="translate(596.30,273.10) scale(0.8958,1)" font-size="13.33" font-weight="bold" fill="#262626" stroke="#262626" stroke-width="0.25">N</text>
<circle cx="588.0" cy="259.9" r="1.5" fill="none" stroke="#262626" stroke-width="0.9"/>
<text transform="translate(566.70,287.50) scale(1.1310,1)" font-size="13.14" font-weight="bold" fill="#262626" stroke="#262626" stroke-width="0.25">26</text>
<text transform="translate(596.30,287.50) scale(0.8958,1)" font-size="13.33" font-weight="bold" fill="#262626" stroke="#262626" stroke-width="0.25">N</text>
<circle cx="588.0" cy="274.3" r="1.5" fill="none" stroke="#262626" stroke-width="0.9"/>
<text transform="translate(566.70,301.60) scale(1.1310,1)" font-size="13.14" font-weight="bold" fill="#262626" stroke="#262626" stroke-width="0.25">24</text>
<text transform="translate(596.30,301.60) scale(0.8958,1)" font-size="13.33" font-weight="bold" fill="#262626" stroke="#262626" stroke-width="0.25">N</text>
<circle cx="588.0" cy="288.4" r="1.5" fill="none" stroke="#262626" stroke-width="0.9"/>
<text transform="translate(566.70,314.90) scale(1.1310,1)" font-size="13.14" font-weight="bold" fill="#262626" stroke="#262626" stroke-width="0.25">22</text>
<text transform="translate(596.30,314.90) scale(0.8958,1)" font-size="13.33" font-weight="bold" fill="#262626" stroke="#262626" stroke-width="0.25">N</text>
<circle cx="588.0" cy="301.7" r="1.5" fill="none" stroke="#262626" stroke-width="0.9"/>
<text transform="translate(1057.79,74.50) scale(1.0880,1)" font-size="13.43" font-weight="bold" fill="#262626" stroke="#262626" stroke-width="0.25">100</text>
<text transform="translate(1094.59,74.50) scale(0.9943,1)" font-size="13.62" font-weight="bold" fill="#262626" stroke="#262626" stroke-width="0.25">W</text>
<circle cx="1086.8" cy="62.3" r="1.5" fill="none" stroke="#262626" stroke-width="0.9"/>
<text transform="translate(1126.80,74.50) scale(1.1002,1)" font-size="13.43" font-weight="bold" fill="#262626" stroke="#262626" stroke-width="0.25">90</text>
<text transform="translate(1155.40,74.50) scale(1.0331,1)" font-size="13.62" font-weight="bold" fill="#262626" stroke="#262626" stroke-width="0.25">W</text>
<circle cx="1147.8" cy="62.3" r="1.5" fill="none" stroke="#262626" stroke-width="0.9"/>
<text transform="translate(1191.31,74.50) scale(1.1002,1)" font-size="13.43" font-weight="bold" fill="#262626" stroke="#262626" stroke-width="0.25">80</text>
<text transform="translate(1219.91,74.50) scale(1.0331,1)" font-size="13.62" font-weight="bold" fill="#262626" stroke="#262626" stroke-width="0.25">W</text>
<circle cx="1212.3" cy="62.3" r="1.5" fill="none" stroke="#262626" stroke-width="0.9"/>
<text transform="translate(1254.82,74.50) scale(1.1002,1)" font-size="13.43" font-weight="bold" fill="#262626" stroke="#262626" stroke-width="0.25">70</text>
<text transform="translate(1283.42,74.50) scale(1.0486,1)" font-size="13.62" font-weight="bold" fill="#262626" stroke="#262626" stroke-width="0.25">W</text>
<circle cx="1275.8" cy="62.3" r="1.5" fill="none" stroke="#262626" stroke-width="0.9"/>
<text transform="translate(988.20,111.56) scale(1.1310,1)" font-size="13.14" font-weight="bold" fill="#262626" stroke="#262626" stroke-width="0.25">48</text>
<text transform="translate(1017.80,111.56) scale(0.8958,1)" font-size="13.33" font-weight="bold" fill="#262626" stroke="#262626" stroke-width="0.25">N</text>
<circle cx="1009.5" cy="98.4" r="1.5" fill="none" stroke="#262626" stroke-width="0.9"/>
<text transform="translate(988.20,129.82) scale(1.1310,1)" font-size="13.14" font-weight="bold" fill="#262626" stroke="#262626" stroke-width="0.25">46</text>
<text transform="translate(1017.80,129.82) scale(0.8958,1)" font-size="13.33" font-weight="bold" fill="#262626" stroke="#262626" stroke-width="0.25">N</text>
<circle cx="1009.5" cy="116.6" r="1.5" fill="none" stroke="#262626" stroke-width="0.9"/>
<text transform="translate(988.20,147.78) scale(1.1310,1)" font-size="13.14" font-weight="bold" fill="#262626" stroke="#262626" stroke-width="0.25">44</text>
<text transform="translate(1017.80,147.78) scale(0.8958,1)" font-size="13.33" font-weight="bold" fill="#262626" stroke="#262626" stroke-width="0.25">N</text>
<circle cx="1009.5" cy="134.6" r="1.5" fill="none" stroke="#262626" stroke-width="0.9"/>
<text transform="translate(988.20,166.35) scale(1.1310,1)" font-size="13.14" font-weight="bold" fill="#262626" stroke="#262626" stroke-width="0.25">42</text>
<text transform="translate(1017.80,166.35) scale(0.8958,1)" font-size="13.33" font-weight="bold" fill="#262626" stroke="#262626" stroke-width="0.25">N</text>
<circle cx="1009.5" cy="153.1" r="1.5" fill="none" stroke="#262626" stroke-width="0.9"/>
<text transform="translate(988.20,182.39) scale(1.1310,1)" font-size="13.14" font-weight="bold" fill="#262626" stroke="#262626" stroke-width="0.25">40</text>
<text transform="translate(1017.80,182.39) scale(0.8958,1)" font-size="13.33" font-weight="bold" fill="#262626" stroke="#262626" stroke-width="0.25">N</text>
<circle cx="1009.5" cy="169.2" r="1.5" fill="none" stroke="#262626" stroke-width="0.9"/>
<text transform="translate(988.20,197.42) scale(1.1310,1)" font-size="13.14" font-weight="bold" fill="#262626" stroke="#262626" stroke-width="0.25">38</text>
<text transform="translate(1017.80,197.42) scale(0.8958,1)" font-size="13.33" font-weight="bold" fill="#262626" stroke="#262626" stroke-width="0.25">N</text>
<circle cx="1009.5" cy="184.2" r="1.5" fill="none" stroke="#262626" stroke-width="0.9"/>
<text transform="translate(988.20,214.88) scale(1.1310,1)" font-size="13.14" font-weight="bold" fill="#262626" stroke="#262626" stroke-width="0.25">36</text>
<text transform="translate(1017.80,214.88) scale(0.8958,1)" font-size="13.33" font-weight="bold" fill="#262626" stroke="#262626" stroke-width="0.25">N</text>
<circle cx="1009.5" cy="201.7" r="1.5" fill="none" stroke="#262626" stroke-width="0.9"/>
<text transform="translate(988.20,229.00) scale(1.1310,1)" font-size="13.14" font-weight="bold" fill="#262626" stroke="#262626" stroke-width="0.25">34</text>
<text transform="translate(1017.80,229.00) scale(0.8958,1)" font-size="13.33" font-weight="bold" fill="#262626" stroke="#262626" stroke-width="0.25">N</text>
<circle cx="1009.5" cy="215.8" r="1.5" fill="none" stroke="#262626" stroke-width="0.9"/>
<text transform="translate(988.20,246.05) scale(1.1310,1)" font-size="13.14" font-weight="bold" fill="#262626" stroke="#262626" stroke-width="0.25">32</text>
<text transform="translate(1017.80,246.05) scale(0.8958,1)" font-size="13.33" font-weight="bold" fill="#262626" stroke="#262626" stroke-width="0.25">N</text>
<circle cx="1009.5" cy="232.9" r="1.5" fill="none" stroke="#262626" stroke-width="0.9"/>
<text transform="translate(988.20,260.48) scale(1.1310,1)" font-size="13.14" font-weight="bold" fill="#262626" stroke="#262626" stroke-width="0.25">30</text>
<text transform="translate(1017.80,260.48) scale(0.8958,1)" font-size="13.33" font-weight="bold" fill="#262626" stroke="#262626" stroke-width="0.25">N</text>
<circle cx="1009.5" cy="247.3" r="1.5" fill="none" stroke="#262626" stroke-width="0.9"/>
<text transform="translate(988.20,273.80) scale(1.1310,1)" font-size="13.14" font-weight="bold" fill="#262626" stroke="#262626" stroke-width="0.25">28</text>
<text transform="translate(1017.80,273.80) scale(0.8958,1)" font-size="13.33" font-weight="bold" fill="#262626" stroke="#262626" stroke-width="0.25">N</text>
<circle cx="1009.5" cy="260.6" r="1.5" fill="none" stroke="#262626" stroke-width="0.9"/>
<text transform="translate(988.20,288.32) scale(1.1310,1)" font-size="13.14" font-weight="bold" fill="#262626" stroke="#262626" stroke-width="0.25">26</text>
<text transform="translate(1017.80,288.32) scale(0.8958,1)" font-size="13.33" font-weight="bold" fill="#262626" stroke="#262626" stroke-width="0.25">N</text>
<circle cx="1009.5" cy="275.1" r="1.5" fill="none" stroke="#262626" stroke-width="0.9"/>
<text transform="translate(988.20,302.55) scale(1.1310,1)" font-size="13.14" font-weight="bold" fill="#262626" stroke="#262626" stroke-width="0.25">24</text>
<text transform="translate(1017.80,302.55) scale(0.8958,1)" font-size="13.33" font-weight="bold" fill="#262626" stroke="#262626" stroke-width="0.25">N</text>
<circle cx="1009.5" cy="289.4" r="1.5" fill="none" stroke="#262626" stroke-width="0.9"/>
<text transform="translate(988.20,315.97) scale(1.1310,1)" font-size="13.14" font-weight="bold" fill="#262626" stroke="#262626" stroke-width="0.25">22</text>
<text transform="translate(1017.80,315.97) scale(0.8958,1)" font-size="13.33" font-weight="bold" fill="#262626" stroke="#262626" stroke-width="0.25">N</text>
<circle cx="1009.5" cy="302.8" r="1.5" fill="none" stroke="#262626" stroke-width="0.9"/>
<text transform="translate(215.50,466.60) scale(1.0880,1)" font-size="13.43" font-weight="bold" fill="#262626" stroke="#262626" stroke-width="0.25">100</text>
<text transform="translate(252.30,466.60) scale(0.9943,1)" font-size="13.62" font-weight="bold" fill="#262626" stroke="#262626" stroke-width="0.25">W</text>
<circle cx="244.5" cy="454.4" r="1.5" fill="none" stroke="#262626" stroke-width="0.9"/>
<text transform="translate(284.10,466.60) scale(1.1002,1)" font-size="13.43" font-weight="bold" fill="#262626" stroke="#262626" stroke-width="0.25">90</text>
<text transform="translate(312.70,466.60) scale(1.0331,1)" font-size="13.62" font-weight="bold" fill="#262626" stroke="#262626" stroke-width="0.25">W</text>
<circle cx="305.1" cy="454.4" r="1.5" fill="none" stroke="#262626" stroke-width="0.9"/>
<text transform="translate(348.20,466.60) scale(1.1002,1)" font-size="13.43" font-weight="bold" fill="#262626" stroke="#262626" stroke-width="0.25">80</text>
<text transform="translate(376.80,466.60) scale(1.0331,1)" font-size="13.62" font-weight="bold" fill="#262626" stroke="#262626" stroke-width="0.25">W</text>
<circle cx="369.2" cy="454.4" r="1.5" fill="none" stroke="#262626" stroke-width="0.9"/>
<text transform="translate(411.30,466.60) scale(1.1002,1)" font-size="13.43" font-weight="bold" fill="#262626" stroke="#262626" stroke-width="0.25">70</text>
<text transform="translate(439.90,466.60) scale(1.0486,1)" font-size="13.62" font-weight="bold" fill="#262626" stroke="#262626" stroke-width="0.25">W</text>
<circle cx="432.3" cy="454.4" r="1.5" fill="none" stroke="#262626" stroke-width="0.9"/>
<text transform="translate(146.70,502.60) scale(1.1310,1)" font-size="13.14" font-weight="bold" fill="#262626" stroke="#262626" stroke-width="0.25">48</text>
<text transform="translate(176.30,502.60) scale(0.8958,1)" font-size="13.33" font-weight="bold" fill="#262626" stroke="#262626" stroke-width="0.25">N</text>
<circle cx="168.0" cy="489.4" r="1.5" fill="none" stroke="#262626" stroke-width="0.9"/>
<text transform="translate(146.70,520.70) scale(1.1310,1)" font-size="13.14" font-weight="bold" fill="#262626" stroke="#262626" stroke-width="0.25">46</text>
<text transform="translate(176.30,520.70) scale(0.8958,1)" font-size="13.33" font-weight="bold" fill="#262626" stroke="#262626" stroke-width="0.25">N</text>
<circle cx="168.0" cy="507.5" r="1.5" fill="none" stroke="#262626" stroke-width="0.9"/>
<text transform="translate(146.70,538.50) scale(1.1310,1)" font-size="13.14" font-weight="bold" fill="#262626" stroke="#262626" stroke-width="0.25">44</text>
<text transform="translate(176.30,538.50) scale(0.8958,1)" font-size="13.33" font-weight="bold" fill="#262626" stroke="#262626" stroke-width="0.25">N</text>
<circle cx="168.0" cy="525.3" r="1.5" fill="none" stroke="#262626" stroke-width="0.9"/>
<text transform="translate(146.70,556.90) scale(1.1310,1)" font-size="13.14" font-weight="bold" fill="#262626" stroke="#262626" stroke-width="0.25">42</text>
<text transform="translate(176.30,556.90) scale(0.8958,1)" font-size="13.33" font-weight="bold" fill="#262626" stroke="#262626" stroke-width="0.25">N</text>
<circle cx="168.0" cy="543.7" r="1.5" fill="none" stroke="#262626" stroke-width="0.9"/>
<text transform="translate(146.70,572.80) scale(1.1310,1)" font-size="13.14" font-weight="bold" fill="#262626" stroke="#262626" stroke-width="0.25">40</text>
<text transform="translate(176.30,572.80) scale(0.8958,1)" font-size="13.33" font-weight="bold" fill="#262626" stroke="#262626" stroke-width="0.25">N</text>
<circle cx="168.0" cy="559.6" r="1.5" fill="none" stroke="#262626" stroke-width="0.9"/>
<text transform="translate(146.70,587.70) scale(1.1310,1)" font-size="13.14" font-weight="bold" fill="#262626" stroke="#262626" stroke-width="0.25">38</text>
<text transform="translate(176.30,587.70) scale(0.8958,1)" font-size="13.33" font-weight="bold" fill="#262626" stroke="#262626" stroke-width="0.25">N</text>
<circle cx="168.0" cy="574.5" r="1.5" fill="none" stroke="#262626" stroke-width="0.9"/>
<text transform="translate(146.70,605.00) scale(1.1310,1)" font-size="13.14" font-weight="bold" fill="#262626" stroke="#262626" stroke-width="0.25">36</text>
<text transform="translate(176.30,605.00) scale(0.8958,1)" font-size="13.33" font-weight="bold" fill="#262626" stroke="#262626" stroke-width="0.25">N</text>
<circle cx="168.0" cy="591.8" r="1.5" fill="none" stroke="#262626" stroke-width="0.9"/>
<text transform="translate(146.70,619.00) scale(1.1310,1)" font-size="13.14" font-weight="bold" fill="#262626" stroke="#262626" stroke-width="0.25">34</text>
<text transform="translate(176.30,619.00) scale(0.8958,1)" font-size="13.33" font-weight="bold" fill="#262626" stroke="#262626" stroke-width="0.25">N</text>
<circle cx="168.0" cy="605.8" r="1.5" fill="none" stroke="#262626" stroke-width="0.9"/>
<text transform="translate(146.70,635.90) scale(1.1310,1)" font-size="13.14" font-weight="bold" fill="#262626" stroke="#262626" stroke-width="0.25">32</text>
<text transform="translate(176.30,635.90) scale(0.8958,1)" font-size="13.33" font-weight="bold" fill="#262626" stroke="#262626" stroke-width="0.25">N</text>
<circle cx="168.0" cy="622.7" r="1.5" fill="none" stroke="#262626" stroke-width="0.9"/>
<text transform="translate(146.70,650.20) scale(1.1310,1)" font-size="13.14" font-weight="bold" fill="#262626" stroke="#262626" stroke-width="0.25">30</text>
<text transform="translate(176.30,650.20) scale(0.8958,1)" font-size="13.33" font-weight="bold" fill="#262626" stroke="#262626" stroke-width="0.25">N</text>
<circle cx="168.0" cy="637.0" r="1.5" fill="none" stroke="#262626" stroke-width="0.9"/>
<text transform="translate(146.70,663.40) scale(1.1310,1)" font-size="13.14" font-weight="bold" fill="#262626" stroke="#262626" stroke-width="0.25">28</text>
<text transform="translate(176.30,663.40) scale(0.8958,1)" font-size="13.33" font-weight="bold" fill="#262626" stroke="#262626" stroke-width="0.25">N</text>
<circle cx="168.0" cy="650.2" r="1.5" fill="none" stroke="#262626" stroke-width="0.9"/>
<text transform="translate(146.70,677.80) scale(1.1310,1)" font-size="13.14" font-weight="bold" fill="#262626" stroke="#262626" stroke-width="0.25">26</text>
<text transform="translate(176.30,677.80) scale(0.8958,1)" font-size="13.33" font-weight="bold" fill="#262626" stroke="#262626" stroke-width="0.25">N</text>
<circle cx="168.0" cy="664.6" r="1.5" fill="none" stroke="#262626" stroke-width="0.9"/>
<text transform="translate(146.70,691.90) scale(1.1310,1)" font-size="13.14" font-weight="bold" fill="#262626" stroke="#262626" stroke-width="0.25">24</text>
<text transform="translate(176.30,691.90) scale(0.8958,1)" font-size="13.33" font-weight="bold" fill="#262626" stroke="#262626" stroke-width="0.25">N</text>
<circle cx="168.0" cy="678.7" r="1.5" fill="none" stroke="#262626" stroke-width="0.9"/>
<text transform="translate(146.70,705.20) scale(1.1310,1)" font-size="13.14" font-weight="bold" fill="#262626" stroke="#262626" stroke-width="0.25">22</text>
<text transform="translate(176.30,705.20) scale(0.8958,1)" font-size="13.33" font-weight="bold" fill="#262626" stroke="#262626" stroke-width="0.25">N</text>
<circle cx="168.0" cy="692.0" r="1.5" fill="none" stroke="#262626" stroke-width="0.9"/>
<text transform="translate(636.20,466.60) scale(1.0880,1)" font-size="13.43" font-weight="bold" fill="#262626" stroke="#262626" stroke-width="0.25">100</text>
<text transform="translate(673.00,466.60) scale(0.9943,1)" font-size="13.62" font-weight="bold" fill="#262626" stroke="#262626" stroke-width="0.25">W</text>
<circle cx="665.2" cy="454.4" r="1.5" fill="none" stroke="#262626" stroke-width="0.9"/>
<text transform="translate(704.80,466.60) scale(1.1002,1)" font-size="13.43" font-weight="bold" fill="#262626" stroke="#262626" stroke-width="0.25">90</text>
<text transform="translate(733.40,466.60) scale(1.0331,1)" font-size="13.62" font-weight="bold" fill="#262626" stroke="#262626" stroke-width="0.25">W</text>
<circle cx="725.8" cy="454.4" r="1.5" fill="none" stroke="#262626" stroke-width="0.9"/>
<text transform="translate(768.90,466.60) scale(1.1002,1)" font-size="13.43" font-weight="bold" fill="#262626" stroke="#262626" stroke-width="0.25">80</text>
<text transform="translate(797.50,466.60) scale(1.0331,1)" font-size="13.62" font-weight="bold" fill="#262626" stroke="#262626" stroke-width="0.25">W</text>
<circle cx="789.9" cy="454.4" r="1.5" fill="none" stroke="#262626" stroke-width="0.9"/>
<text transform="translate(832.00,466.60) scale(1.1002,1)" font-size="13.43" font-weight="bold" fill="#262626" stroke="#262626" stroke-width="0.25">70</text>
<text transform="translate(860.60,466.60) scale(1.0486,1)" font-size="13.62" font-weight="bold" fill="#262626" stroke="#262626" stroke-width="0.25">W</text>
<circle cx="853.0" cy="454.4" r="1.5" fill="none" stroke="#262626" stroke-width="0.9"/>
<text transform="translate(566.70,502.60) scale(1.1310,1)" font-size="13.14" font-weight="bold" fill="#262626" stroke="#262626" stroke-width="0.25">48</text>
<text transform="translate(596.30,502.60) scale(0.8958,1)" font-size="13.33" font-weight="bold" fill="#262626" stroke="#262626" stroke-width="0.25">N</text>
<circle cx="588.0" cy="489.4" r="1.5" fill="none" stroke="#262626" stroke-width="0.9"/>
<text transform="translate(566.70,520.70) scale(1.1310,1)" font-size="13.14" font-weight="bold" fill="#262626" stroke="#262626" stroke-width="0.25">46</text>
<text transform="translate(596.30,520.70) scale(0.8958,1)" font-size="13.33" font-weight="bold" fill="#262626" stroke="#262626" stroke-width="0.25">N</text>
<circle cx="588.0" cy="507.5" r="1.5" fill="none" stroke="#262626" stroke-width="0.9"/>
<text transform="translate(566.70,538.50) scale(1.1310,1)" font-size="13.14" font-weight="bold" fill="#262626" stroke="#262626" stroke-width="0.25">44</text>
<text transform="translate(596.30,538.50) scale(0.8958,1)" font-size="13.33" font-weight="bold" fill="#262626" stroke="#262626" stroke-width="0.25">N</text>
<circle cx="588.0" cy="525.3" r="1.5" fill="none" stroke="#262626" stroke-width="0.9"/>
<text transform="translate(566.70,556.90) scale(1.1310,1)" font-size="13.14" font-weight="bold" fill="#262626" stroke="#262626" stroke-width="0.25">42</text>
<text transform="translate(596.30,556.90) scale(0.8958,1)" font-size="13.33" font-weight="bold" fill="#262626" stroke="#262626" stroke-width="0.25">N</text>
<circle cx="588.0" cy="543.7" r="1.5" fill="none" stroke="#262626" stroke-width="0.9"/>
<text transform="translate(566.70,572.80) scale(1.1310,1)" font-size="13.14" font-weight="bold" fill="#262626" stroke="#262626" stroke-width="0.25">40</text>
<text transform="translate(596.30,572.80) scale(0.8958,1)" font-size="13.33" font-weight="bold" fill="#262626" stroke="#262626" stroke-width="0.25">N</text>
<circle cx="588.0" cy="559.6" r="1.5" fill="none" stroke="#262626" stroke-width="0.9"/>
<text transform="translate(566.70,587.70) scale(1.1310,1)" font-size="13.14" font-weight="bold" fill="#262626" stroke="#262626" stroke-width="0.25">38</text>
<text transform="translate(596.30,587.70) scale(0.8958,1)" font-size="13.33" font-weight="bold" fill="#262626" stroke="#262626" stroke-width="0.25">N</text>
<circle cx="588.0" cy="574.5" r="1.5" fill="none" stroke="#262626" stroke-width="0.9"/>
<text transform="translate(566.70,605.00) scale(1.1310,1)" font-size="13.14" font-weight="bold" fill="#262626" stroke="#262626" stroke-width="0.25">36</text>
<text transform="translate(596.30,605.00) scale(0.8958,1)" font-size="13.33" font-weight="bold" fill="#262626" stroke="#262626" stroke-width="0.25">N</text>
<circle cx="588.0" cy="591.8" r="1.5" fill="none" stroke="#262626" stroke-width="0.9"/>
<text transform="translate(566.70,619.00) scale(1.1310,1)" font-size="13.14" font-weight="bold" fill="#262626" stroke="#262626" stroke-width="0.25">34</text>
<text transform="translate(596.30,619.00) scale(0.8958,1)" font-size="13.33" font-weight="bold" fill="#262626" stroke="#262626" stroke-width="0.25">N</text>
<circle cx="588.0" cy="605.8" r="1.5" fill="none" stroke="#262626" stroke-width="0.9"/>
<text transform="translate(566.70,635.90) scale(1.1310,1)" font-size="13.14" font-weight="bold" fill="#262626" stroke="#262626" stroke-width="0.25">32</text>
<text transform="translate(596.30,635.90) scale(0.8958,1)" font-size="13.33" font-weight="bold" fill="#262626" stroke="#262626" stroke-width="0.25">N</text>
<circle cx="588.0" cy="622.7" r="1.5" fill="none" stroke="#262626" stroke-width="0.9"/>
<text transform="translate(566.70,650.20) scale(1.1310,1)" font-size="13.14" font-weight="bold" fill="#262626" stroke="#262626" stroke-width="0.25">30</text>
<text transform="translate(596.30,650.20) scale(0.8958,1)" font-size="13.33" font-weight="bold" fill="#262626" stroke="#262626" stroke-width="0.25">N</text>
<circle cx="588.0" cy="637.0" r="1.5" fill="none" stroke="#262626" stroke-width="0.9"/>
<text transform="translate(566.70,663.40) scale(1.1310,1)" font-size="13.14" font-weight="bold" fill="#262626" stroke="#262626" stroke-width="0.25">28</text>
<text transform="translate(596.30,663.40) scale(0.8958,1)" font-size="13.33" font-weight="bold" fill="#262626" stroke="#262626" stroke-width="0.25">N</text>
<circle cx="588.0" cy="650.2" r="1.5" fill="none" stroke="#262626" stroke-width="0.9"/>
<text transform="translate(566.70,677.80) scale(1.1310,1)" font-size="13.14" font-weight="bold" fill="#262626" stroke="#262626" stroke-width="0.25">26</text>
<text transform="translate(596.30,677.80) scale(0.8958,1)" font-size="13.33" font-weight="bold" fill="#262626" stroke="#262626" stroke-width="0.25">N</text>
<circle cx="588.0" cy="664.6" r="1.5" fill="none" stroke="#262626" stroke-width="0.9"/>
<text transform="translate(566.70,691.90) scale(1.1310,1)" font-size="13.14" font-weight="bold" fill="#262626" stroke="#262626" stroke-width="0.25">24</text>
<text transform="translate(596.30,691.90) scale(0.8958,1)" font-size="13.33" font-weight="bold" fill="#262626" stroke="#262626" stroke-width="0.25">N</text>
<circle cx="588.0" cy="678.7" r="1.5" fill="none" stroke="#262626" stroke-width="0.9"/>
<text transform="translate(566.70,705.20) scale(1.1310,1)" font-size="13.14" font-weight="bold" fill="#262626" stroke="#262626" stroke-width="0.25">22</text>
<text transform="translate(596.30,705.20) scale(0.8958,1)" font-size="13.33" font-weight="bold" fill="#262626" stroke="#262626" stroke-width="0.25">N</text>
<circle cx="588.0" cy="692.0" r="1.5" fill="none" stroke="#262626" stroke-width="0.9"/>
<text transform="translate(1057.53,464.60) scale(1.0880,1)" font-size="13.43" font-weight="bold" fill="#262626" stroke="#262626" stroke-width="0.25">100</text>
<text transform="translate(1094.33,464.60) scale(0.9943,1)" font-size="13.62" font-weight="bold" fill="#262626" stroke="#262626" stroke-width="0.25">W</text>
<circle cx="1086.5" cy="452.4" r="1.5" fill="none" stroke="#262626" stroke-width="0.9"/>
<text transform="translate(1126.46,464.60) scale(1.1002,1)" font-size="13.43" font-weight="bold" fill="#262626" stroke="#262626" stroke-width="0.25">90</text>
<text transform="translate(1155.06,464.60) scale(1.0331,1)" font-size="13.62" font-weight="bold" fill="#262626" stroke="#262626" stroke-width="0.25">W</text>
<circle cx="1147.5" cy="452.4" r="1.5" fill="none" stroke="#262626" stroke-width="0.9"/>
<text transform="translate(1190.89,464.60) scale(1.1002,1)" font-size="13.43" font-weight="bold" fill="#262626" stroke="#262626" stroke-width="0.25">80</text>
<text transform="translate(1219.49,464.60) scale(1.0331,1)" font-size="13.62" font-weight="bold" fill="#262626" stroke="#262626" stroke-width="0.25">W</text>
<circle cx="1211.9" cy="452.4" r="1.5" fill="none" stroke="#262626" stroke-width="0.9"/>
<text transform="translate(1254.31,464.60) scale(1.1002,1)" font-size="13.43" font-weight="bold" fill="#262626" stroke="#262626" stroke-width="0.25">70</text>
<text transform="translate(1282.91,464.60) scale(1.0486,1)" font-size="13.62" font-weight="bold" fill="#262626" stroke="#262626" stroke-width="0.25">W</text>
<circle cx="1275.3" cy="452.4" r="1.5" fill="none" stroke="#262626" stroke-width="0.9"/>
<text transform="translate(988.20,501.55) scale(1.1310,1)" font-size="13.14" font-weight="bold" fill="#262626" stroke="#262626" stroke-width="0.25">48</text>
<text transform="translate(1017.80,501.55) scale(0.8958,1)" font-size="13.33" font-weight="bold" fill="#262626" stroke="#262626" stroke-width="0.25">N</text>
<circle cx="1009.5" cy="488.4" r="1.5" fill="none" stroke="#262626" stroke-width="0.9"/>
<text transform="translate(988.20,519.80) scale(1.1310,1)" font-size="13.14" font-weight="bold" fill="#262626" stroke="#262626" stroke-width="0.25">46</text>
<text transform="translate(1017.80,519.80) scale(0.8958,1)" font-size="13.33" font-weight="bold" fill="#262626" stroke="#262626" stroke-width="0.25">N</text>
<circle cx="1009.5" cy="506.6" r="1.5" fill="none" stroke="#262626" stroke-width="0.9"/>
<text transform="translate(988.20,537.74) scale(1.1310,1)" font-size="13.14" font-weight="bold" fill="#262626" stroke="#262626" stroke-width="0.25">44</text>
<text transform="translate(1017.80,537.74) scale(0.8958,1)" font-size="13.33" font-weight="bold" fill="#262626" stroke="#262626" stroke-width="0.25">N</text>
<circle cx="1009.5" cy="524.5" r="1.5" fill="none" stroke="#262626" stroke-width="0.9"/>
<text transform="translate(988.20,556.29) scale(1.1310,1)" font-size="13.14" font-weight="bold" fill="#262626" stroke="#262626" stroke-width="0.25">42</text>
<text transform="translate(1017.80,556.29) scale(0.8958,1)" font-size="13.33" font-weight="bold" fill="#262626" stroke="#262626" stroke-width="0.25">N</text>
<circle cx="1009.5" cy="543.1" r="1.5" fill="none" stroke="#262626" stroke-width="0.9"/>
<text transform="translate(988.20,572.32) scale(1.1310,1)" font-size="13.14" font-weight="bold" fill="#262626" stroke="#262626" stroke-width="0.25">40</text>
<text transform="translate(1017.80,572.32) scale(0.8958,1)" font-size="13.33" font-weight="bold" fill="#262626" stroke="#262626" stroke-width="0.25">N</text>
<circle cx="1009.5" cy="559.1" r="1.5" fill="none" stroke="#262626" stroke-width="0.9"/>
<text transform="translate(988.20,587.33) scale(1.1310,1)" font-size="13.14" font-weight="bold" fill="#262626" stroke="#262626" stroke-width="0.25">38</text>
<text transform="translate(1017.80,587.33) scale(0.8958,1)" font-size="13.33" font-weight="bold" fill="#262626" stroke="#262626" stroke-width="0.25">N</text>
<circle cx="1009.5" cy="574.1" r="1.5" fill="none" stroke="#262626" stroke-width="0.9"/>
<text transform="translate(988.20,604.77) scale(1.1310,1)" font-size="13.14" font-weight="bold" fill="#262626" stroke="#262626" stroke-width="0.25">36</text>
<text transform="translate(1017.80,604.77) scale(0.8958,1)" font-size="13.33" font-weight="bold" fill="#262626" stroke="#262626" stroke-width="0.25">N</text>
<circle cx="1009.5" cy="591.6" r="1.5" fill="none" stroke="#262626" stroke-width="0.9"/>
<text transform="translate(988.20,618.88) scale(1.1310,1)" font-size="13.14" font-weight="bold" fill="#262626" stroke="#262626" stroke-width="0.25">34</text>
<text transform="translate(1017.80,618.88) scale(0.8958,1)" font-size="13.33" font-weight="bold" fill="#262626" stroke="#262626" stroke-width="0.25">N</text>
<circle cx="1009.5" cy="605.7" r="1.5" fill="none" stroke="#262626" stroke-width="0.9"/>
<text transform="translate(988.20,635.92) scale(1.1310,1)" font-size="13.14" font-weight="bold" fill="#262626" stroke="#262626" stroke-width="0.25">32</text>
<text transform="translate(1017.80,635.92) scale(0.8958,1)" font-size="13.33" font-weight="bold" fill="#262626" stroke="#262626" stroke-width="0.25">N</text>
<circle cx="1009.5" cy="622.7" r="1.5" fill="none" stroke="#262626" stroke-width="0.9"/>
<text transform="translate(988.20,650.33) scale(1.1310,1)" font-size="13.14" font-weight="bold" fill="#262626" stroke="#262626" stroke-width="0.25">30</text>
<text transform="translate(1017.80,650.33) scale(0.8958,1)" font-size="13.33" font-weight="bold" fill="#262626" stroke="#262626" stroke-width="0.25">N</text>
<circle cx="1009.5" cy="637.1" r="1.5" fill="none" stroke="#262626" stroke-width="0.9"/>
<text transform="translate(988.20,663.64) scale(1.1310,1)" font-size="13.14" font-weight="bold" fill="#262626" stroke="#262626" stroke-width="0.25">28</text>
<text transform="translate(1017.80,663.64) scale(0.8958,1)" font-size="13.33" font-weight="bold" fill="#262626" stroke="#262626" stroke-width="0.25">N</text>
<circle cx="1009.5" cy="650.4" r="1.5" fill="none" stroke="#262626" stroke-width="0.9"/>
<text transform="translate(988.20,678.15) scale(1.1310,1)" font-size="13.14" font-weight="bold" fill="#262626" stroke="#262626" stroke-width="0.25">26</text>
<text transform="translate(1017.80,678.15) scale(0.8958,1)" font-size="13.33" font-weight="bold" fill="#262626" stroke="#262626" stroke-width="0.25">N</text>
<circle cx="1009.5" cy="665.0" r="1.5" fill="none" stroke="#262626" stroke-width="0.9"/>
<text transform="translate(988.20,692.37) scale(1.1310,1)" font-size="13.14" font-weight="bold" fill="#262626" stroke="#262626" stroke-width="0.25">24</text>
<text transform="translate(1017.80,692.37) scale(0.8958,1)" font-size="13.33" font-weight="bold" fill="#262626" stroke="#262626" stroke-width="0.25">N</text>
<circle cx="1009.5" cy="679.2" r="1.5" fill="none" stroke="#262626" stroke-width="0.9"/>
<text transform="translate(988.20,705.77) scale(1.1310,1)" font-size="13.14" font-weight="bold" fill="#262626" stroke="#262626" stroke-width="0.25">22</text>
<text transform="translate(1017.80,705.77) scale(0.8958,1)" font-size="13.33" font-weight="bold" fill="#262626" stroke="#262626" stroke-width="0.25">N</text>
<circle cx="1009.5" cy="692.6" r="1.5" fill="none" stroke="#262626" stroke-width="0.9"/>
<rect x="441.4" y="95.0" width="23.0" height="215.4" fill="url(#jet)" stroke="#262626" stroke-width="0.8"/>
<line x1="461.9" y1="139.2" x2="464.4" y2="139.2" stroke="#262626" stroke-width="0.8"/>
<text transform="translate(473.90,146.80) scale(1.0455,1)" font-size="21.71" font-weight="bold" fill="#262626" stroke="#262626" stroke-width="0.45">0</text>
<line x1="461.9" y1="192.2" x2="464.4" y2="192.2" stroke="#262626" stroke-width="0.8"/>
<text transform="translate(473.90,199.80) scale(1.2286,1)" font-size="21.71" font-weight="bold" fill="#262626" stroke="#262626" stroke-width="0.45">-10</text>
<line x1="461.9" y1="245.2" x2="464.4" y2="245.2" stroke="#262626" stroke-width="0.8"/>
<text transform="translate(473.90,252.80) scale(1.2286,1)" font-size="21.71" font-weight="bold" fill="#262626" stroke="#262626" stroke-width="0.45">-20</text>
<line x1="461.9" y1="298.2" x2="464.4" y2="298.2" stroke="#262626" stroke-width="0.8"/>
<text transform="translate(473.90,305.80) scale(1.2286,1)" font-size="21.71" font-weight="bold" fill="#262626" stroke="#262626" stroke-width="0.45">-30</text>
<rect x="862.3" y="95.0" width="23.3" height="216.0" fill="url(#jet)" stroke="#262626" stroke-width="0.8"/>
<line x1="883.0999999999999" y1="310.2" x2="885.5999999999999" y2="310.2" stroke="#262626" stroke-width="0.8"/>
<text transform="translate(894.80,317.80) scale(1.0455,1)" font-size="21.71" font-weight="bold" fill="#262626" stroke="#262626" stroke-width="0.45">0</text>
<line x1="883.0999999999999" y1="241.0" x2="885.5999999999999" y2="241.0" stroke="#262626" stroke-width="0.8"/>
<text transform="translate(894.80,248.60) scale(1.1610,1)" font-size="21.71" font-weight="bold" fill="#262626" stroke="#262626" stroke-width="0.45">100</text>
<line x1="883.0999999999999" y1="171.8" x2="885.5999999999999" y2="171.8" stroke="#262626" stroke-width="0.8"/>
<text transform="translate(894.80,179.40) scale(1.1610,1)" font-size="21.71" font-weight="bold" fill="#262626" stroke="#262626" stroke-width="0.45">200</text>
<line x1="883.0999999999999" y1="102.6" x2="885.5999999999999" y2="102.6" stroke="#262626" stroke-width="0.8"/>
<text transform="translate(894.80,110.20) scale(1.1610,1)" font-size="21.71" font-weight="bold" fill="#262626" stroke="#262626" stroke-width="0.45">300</text>
<rect x="1285.7" y="95.5" width="22.8" height="215.3" fill="url(#jet)" stroke="#262626" stroke-width="0.8"/>
<line x1="1306.0" y1="286.5" x2="1308.5" y2="286.5" stroke="#262626" stroke-width="0.8"/>
<text transform="translate(1317.90,294.10) scale(1.1610,1)" font-size="21.71" font-weight="bold" fill="#262626" stroke="#262626" stroke-width="0.45">200</text>
<line x1="1306.0" y1="238.8" x2="1308.5" y2="238.8" stroke="#262626" stroke-width="0.8"/>
<text transform="translate(1317.90,246.40) scale(1.1610,1)" font-size="21.71" font-weight="bold" fill="#262626" stroke="#262626" stroke-width="0.45">400</text>
<line x1="1306.0" y1="191.10000000000002" x2="1308.5" y2="191.10000000000002" stroke="#262626" stroke-width="0.8"/>
<text transform="translate(1317.90,198.70) scale(1.1610,1)" font-size="21.71" font-weight="bold" fill="#262626" stroke="#262626" stroke-width="0.45">600</text>
<line x1="1306.0" y1="143.4" x2="1308.5" y2="143.4" stroke="#262626" stroke-width="0.8"/>
<text transform="translate(1317.90,151.00) scale(1.1610,1)" font-size="21.71" font-weight="bold" fill="#262626" stroke="#262626" stroke-width="0.45">800</text>
<line x1="1306.0" y1="95.70000000000002" x2="1308.5" y2="95.70000000000002" stroke="#262626" stroke-width="0.8"/>
<text transform="translate(1317.90,103.30) scale(1.1767,1)" font-size="21.71" font-weight="bold" fill="#262626" stroke="#262626" stroke-width="0.45">1000</text>
<rect x="441.4" y="485.5" width="23.4" height="215.3" fill="url(#jet)" stroke="#262626" stroke-width="0.8"/>
<line x1="462.29999999999995" y1="535.8" x2="464.79999999999995" y2="535.8" stroke="#262626" stroke-width="0.8"/>
<text transform="translate(474.20,543.40) scale(1.0455,1)" font-size="21.71" font-weight="bold" fill="#262626" stroke="#262626" stroke-width="0.45">5</text>
<line x1="462.29999999999995" y1="592.4" x2="464.79999999999995" y2="592.4" stroke="#262626" stroke-width="0.8"/>
<text transform="translate(474.20,600.00) scale(1.0455,1)" font-size="21.71" font-weight="bold" fill="#262626" stroke="#262626" stroke-width="0.45">0</text>
<line x1="462.29999999999995" y1="649.0" x2="464.79999999999995" y2="649.0" stroke="#262626" stroke-width="0.8"/>
<text transform="translate(474.20,656.60) scale(1.2315,1)" font-size="21.71" font-weight="bold" fill="#262626" stroke="#262626" stroke-width="0.45">-5</text>
<rect x="862.3" y="485.5" width="23.3" height="215.3" fill="url(#jet)" stroke="#262626" stroke-width="0.8"/>
<line x1="883.0999999999999" y1="507.2" x2="885.5999999999999" y2="507.2" stroke="#262626" stroke-width="0.8"/>
<text transform="translate(894.80,514.80) scale(1.1767,1)" font-size="21.71" font-weight="bold" fill="#262626" stroke="#262626" stroke-width="0.45">1000</text>
<line x1="883.0999999999999" y1="549.8" x2="885.5999999999999" y2="549.8" stroke="#262626" stroke-width="0.8"/>
<text transform="translate(894.80,557.40) scale(1.1610,1)" font-size="21.71" font-weight="bold" fill="#262626" stroke="#262626" stroke-width="0.45">500</text>
<line x1="883.0999999999999" y1="592.4" x2="885.5999999999999" y2="592.4" stroke="#262626" stroke-width="0.8"/>
<text transform="translate(894.80,600.00) scale(1.0455,1)" font-size="21.71" font-weight="bold" fill="#262626" stroke="#262626" stroke-width="0.45">0</text>
<line x1="883.0999999999999" y1="635.0" x2="885.5999999999999" y2="635.0" stroke="#262626" stroke-width="0.8"/>
<text transform="translate(894.80,642.60) scale(1.2273,1)" font-size="21.71" font-weight="bold" fill="#262626" stroke="#262626" stroke-width="0.45">-500</text>
<line x1="883.0999999999999" y1="677.6" x2="885.5999999999999" y2="677.6" stroke="#262626" stroke-width="0.8"/>
<text transform="translate(894.80,685.20) scale(1.2242,1)" font-size="21.71" font-weight="bold" fill="#262626" stroke="#262626" stroke-width="0.45">-1000</text>
<rect x="1285.7" y="485.5" width="22.8" height="215.3" fill="url(#jet)" stroke="#262626" stroke-width="0.8"/>
<line x1="1306.0" y1="513.4" x2="1308.5" y2="513.4" stroke="#262626" stroke-width="0.8"/>
<text transform="translate(1317.90,521.00) scale(1.1610,1)" font-size="21.71" font-weight="bold" fill="#262626" stroke="#262626" stroke-width="0.45">300</text>
<line x1="1306.0" y1="567.9" x2="1308.5" y2="567.9" stroke="#262626" stroke-width="0.8"/>
<text transform="translate(1317.90,575.50) scale(1.1610,1)" font-size="21.71" font-weight="bold" fill="#262626" stroke="#262626" stroke-width="0.45">280</text>
<line x1="1306.0" y1="622.4" x2="1308.5" y2="622.4" stroke="#262626" stroke-width="0.8"/>
<text transform="translate(1317.90,630.00) scale(1.1610,1)" font-size="21.71" font-weight="bold" fill="#262626" stroke="#262626" stroke-width="0.45">260</text>
<line x1="1306.0" y1="676.9" x2="1308.5" y2="676.9" stroke="#262626" stroke-width="0.8"/>
<text transform="translate(1317.90,684.50) scale(1.1610,1)" font-size="21.71" font-weight="bold" fill="#262626" stroke="#262626" stroke-width="0.45">240</text>
<text transform="translate(104.20,341.00) scale(1.0945,1)" font-size="24.93" font-weight="bold" fill="#262626" stroke="#262626" stroke-width="0.45">SAT+RAP Negative Lifted Index</text>
<text transform="translate(630.80,340.70) scale(1.0603,1)" font-size="24.06" font-weight="bold" fill="#262626" stroke="#262626" stroke-width="0.45">SAT+RAP CAPE</text>
<text transform="translate(1034.80,342.00) scale(1.0789,1)" font-size="24.64" font-weight="bold" fill="#262626" stroke="#262626" stroke-width="0.45">Cloud Press (hPa)</text>
<text transform="translate(108.20,731.60) scale(1.1192,1)" font-size="24.35" font-weight="bold" fill="#262626" stroke="#262626" stroke-width="0.45">SAT-RAP Negative Lifted Index</text>
<text transform="translate(635.80,730.70) scale(1.0736,1)" font-size="23.48" font-weight="bold" fill="#262626" stroke="#262626" stroke-width="0.45">SAT-RAP CAPE</text>
<text transform="translate(958.50,731.70) scale(1.1731,1)" font-size="24.06" font-weight="bold" fill="#262626" stroke="#262626" stroke-width="0.45">Surface Skin Temperature (K)</text>
</svg></body></html>
